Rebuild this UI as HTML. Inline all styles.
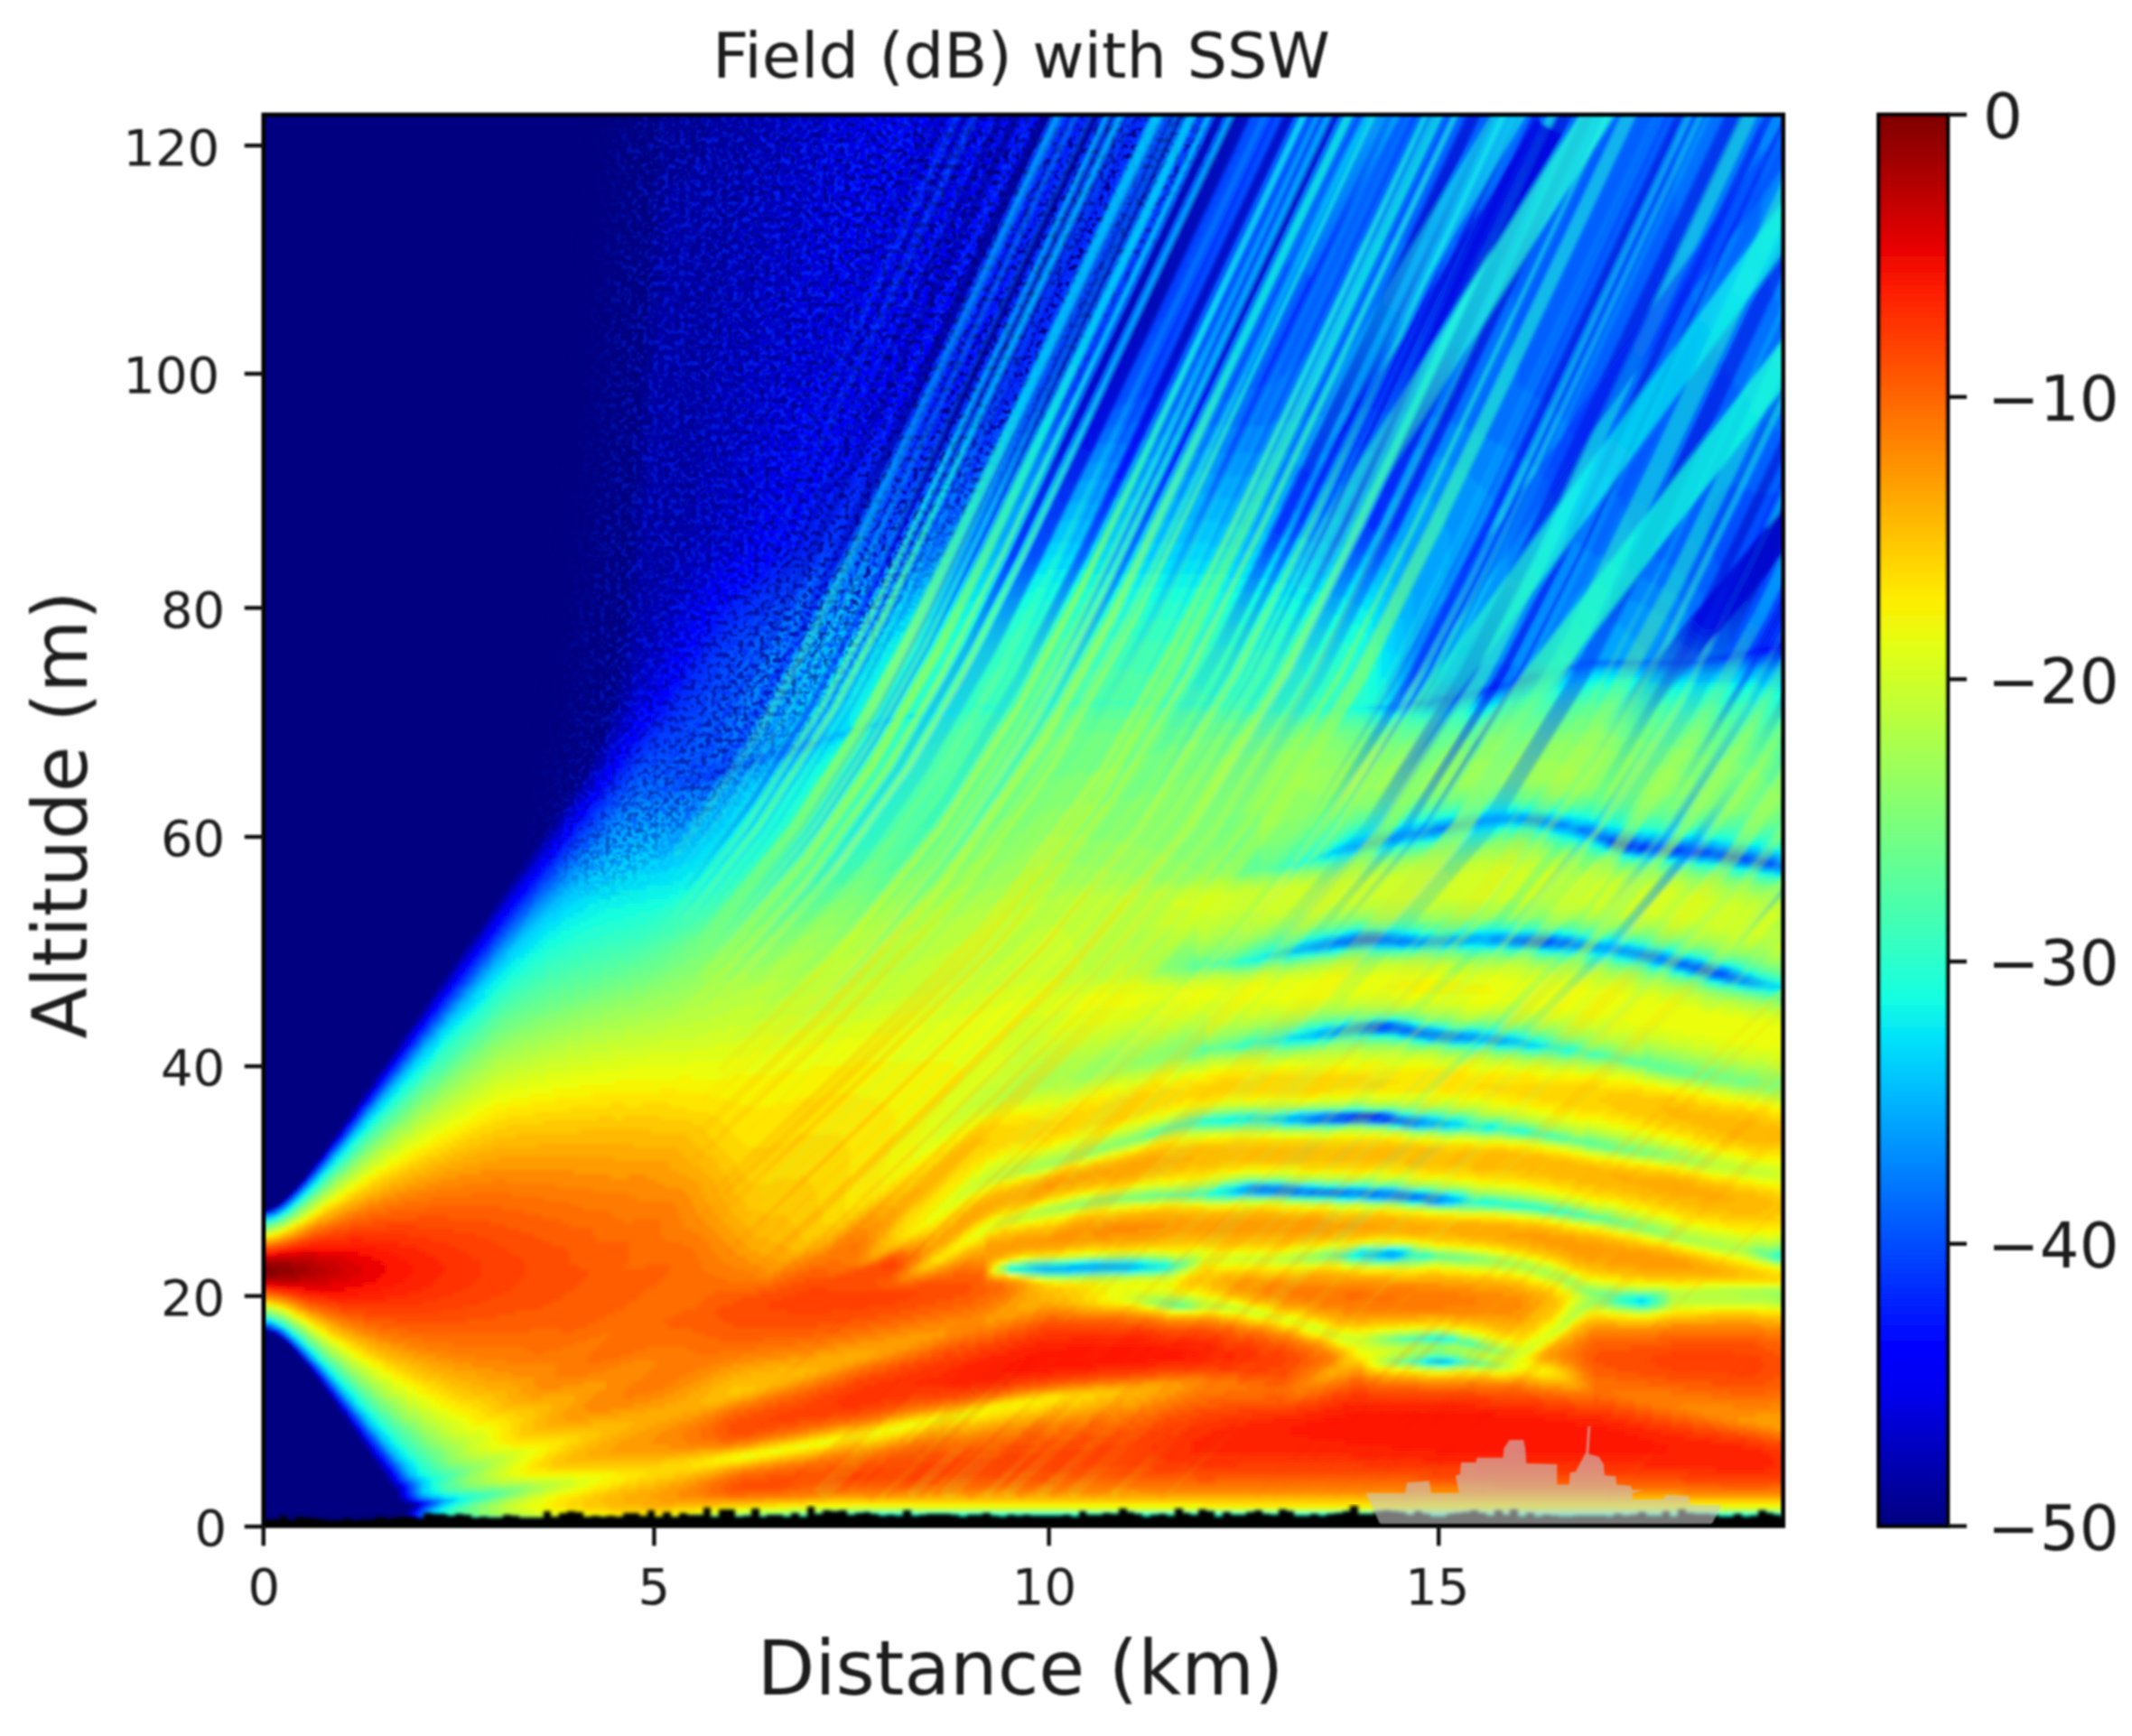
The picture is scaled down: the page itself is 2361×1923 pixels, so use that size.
<!DOCTYPE html>
<html><head><meta charset="utf-8"><title>Field (dB) with SSW</title>
<style>
html,body{margin:0;padding:0;background:#fff;}
body{width:2361px;height:1923px;overflow:hidden;}
svg{display:block;}
text{font-family:"DejaVu Sans","Liberation Sans",sans-serif;fill:#1a1a1a;}
.tk{font-size:56px;}
.cb{font-size:69px;}
.ttl{font-size:70.2px;}
.lab{font-size:83px;}
</style></head><body>
<svg width="2361" height="1923" viewBox="0 0 2361 1923">
<defs>
<linearGradient id="jet" x1="0" y1="0" x2="0" y2="1"><stop offset="0.0000" stop-color="#800000"/><stop offset="0.0312" stop-color="#9f0000"/><stop offset="0.0625" stop-color="#c40000"/><stop offset="0.0938" stop-color="#e80000"/><stop offset="0.1250" stop-color="#ff1e00"/><stop offset="0.1562" stop-color="#ff3b00"/><stop offset="0.1875" stop-color="#ff5900"/><stop offset="0.2188" stop-color="#ff7700"/><stop offset="0.2500" stop-color="#ff9400"/><stop offset="0.2812" stop-color="#ffb200"/><stop offset="0.3125" stop-color="#ffd000"/><stop offset="0.3438" stop-color="#feed00"/><stop offset="0.3750" stop-color="#e4ff13"/><stop offset="0.4062" stop-color="#caff2c"/><stop offset="0.4375" stop-color="#b1ff46"/><stop offset="0.4688" stop-color="#97ff60"/><stop offset="0.5000" stop-color="#7dff7a"/><stop offset="0.5312" stop-color="#63ff94"/><stop offset="0.5625" stop-color="#49ffad"/><stop offset="0.5938" stop-color="#30ffc7"/><stop offset="0.6250" stop-color="#16ffe1"/><stop offset="0.6562" stop-color="#00e0fb"/><stop offset="0.6875" stop-color="#00c0ff"/><stop offset="0.7188" stop-color="#00a0ff"/><stop offset="0.7500" stop-color="#0080ff"/><stop offset="0.7812" stop-color="#0060ff"/><stop offset="0.8125" stop-color="#0040ff"/><stop offset="0.8438" stop-color="#0020ff"/><stop offset="0.8750" stop-color="#0000ff"/><stop offset="0.9062" stop-color="#0000ed"/><stop offset="0.9375" stop-color="#0000c8"/><stop offset="0.9688" stop-color="#0000a4"/><stop offset="1.0000" stop-color="#000080"/></linearGradient>
<filter id="fb" x="-2%" y="-2%" width="104%" height="104%"><feGaussianBlur stdDeviation="2.2"/></filter>
<filter id="sb" x="-5%" y="-5%" width="110%" height="110%"><feGaussianBlur stdDeviation="2"/></filter>
<filter id="soft" x="-2%" y="-2%" width="104%" height="104%"><feGaussianBlur stdDeviation="1.1"/></filter>
<clipPath id="pc"><rect x="291.8" y="127.0" width="1683.0" height="1563.3"/></clipPath>
</defs>
<rect width="2361" height="1923" fill="#fff"/>
<rect x="291.8" y="127.0" width="1683.0" height="1563.3" fill="#000080"/>
<g clip-path="url(#pc)"><g filter="url(#fb)"><g transform="translate(291.8,127.0) scale(4.99407,4.99457)" shape-rendering="crispEdges">
<path fill="#000080" d="M0 0h88v13h-88zM0 13h87v14h-87zM0 27h86v15h-86zM0 42h85v14h-85zM0 56h84v15h-84zM0 71h83v15h-83zM0 86h82v14h-82zM0 100h81v13h-81zM0 113h80v9h-80zM0 122h79v6h-79zM0 128h78v4h-78zM0 132h77v3h-77zM0 135h76v3h-76zM0 138h75v2h-75zM0 140h74v2h-74zM0 142h73v2h-73zM0 144h72v2h-72zM0 146h71v2h-71zM0 148h70v1h-70zM0 149h69v2h-69zM0 151h68v1h-68zM0 152h67v2h-67zM0 154h66v1h-66zM0 155h65v2h-65zM0 157h64v1h-64zM0 158h63v2h-63zM0 160h62v1h-62zM0 161h61v2h-61zM0 163h60v1h-60zM0 164h59v1h-59zM0 165h58v2h-58zM0 167h57v1h-57zM0 168h56v2h-56zM0 170h55v1h-55zM0 171h54v1h-54zM0 172h53v2h-53zM0 174h52v1h-52zM0 175h51v2h-51zM0 177h50v1h-50zM0 178h49v2h-49zM0 180h48v1h-48zM0 181h47v1h-47zM0 182h46v2h-46zM0 184h45v1h-45zM0 185h44v2h-44zM0 187h43v1h-43zM0 188h42v2h-42zM0 190h41v1h-41zM0 191h40v1h-40zM0 192h39v2h-39zM0 194h38v1h-38zM0 195h37v2h-37zM0 197h36v1h-36zM0 198h35v2h-35zM0 200h34v1h-34zM0 201h33v2h-33zM0 203h32v1h-32zM0 204h31v1h-31zM0 205h30v2h-30zM0 207h29v1h-29zM0 208h28v2h-28zM0 210h27v1h-27zM0 211h26v2h-26zM0 213h25v1h-25zM0 214h24v2h-24zM0 216h23v1h-23zM0 217h22v2h-22zM0 219h21v1h-21zM0 220h20v1h-20zM0 221h19v2h-19zM0 223h18v1h-18zM0 224h17v2h-17zM0 226h16v1h-16zM0 227h15v2h-15zM0 229h14v1h-14zM0 230h13v1h-13zM0 231h12v2h-12zM0 233h11v1h-11zM0 234h10v1h-10zM0 235h9v2h-9zM0 237h8v1h-8zM0 238h7v1h-7zM0 239h6v1h-6zM0 240h5v1h-5zM0 241h4v1h-4zM0 242h2v1h-2zM0 270h3v1h-3zM0 271h4v1h-4zM0 272h5v1h-5zM0 273h6v1h-6zM0 274h7v1h-7zM0 275h8v1h-8zM0 276h9v1h-9zM0 277h10v1h-10zM0 278h11v2h-11zM0 280h12v1h-12zM0 281h13v1h-13zM0 282h14v2h-14zM0 284h15v1h-15zM0 285h16v2h-16zM0 287h17v1h-17zM0 288h18v1h-18zM0 289h19v2h-19zM0 291h20v1h-20zM0 292h21v2h-21zM0 294h22v1h-22zM0 295h23v2h-23zM0 297h24v1h-24zM0 298h25v2h-25zM0 300h26v1h-26zM0 301h27v2h-27zM0 303h28v1h-28zM0 304h29v1h-29zM0 305h30v2h-30zM0 307h31v1h-31zM0 308h33v1h-33zM0 309h32v1h-32zM0 310h31v1h-31zM0 311h32v1h-32zM0 312h37v1h-37z"/>
<path fill="#000092" d="M88 0h12v1h-12zM88 1h11v3h-11zM88 4h10v3h-10zM88 7h9v3h-9zM88 10h8v2h-8zM88 12h7v1h-7zM87 13h8v1h-8zM87 14h7v1h-7zM92 15h1v1h-1zM87 15h3v7h-3zM87 22h2v5h-2zM86 27h3v5h-3zM86 32h2v10h-2zM85 42h3v1h-3zM85 43h2v13h-2zM84 56h2v14h-2zM84 70h1v1h-1zM83 71h2v13h-2zM83 84h1v2h-1zM82 86h2v11h-2zM82 97h1v3h-1zM81 100h2v6h-2zM81 106h1v7h-1zM80 113h2v4h-2zM80 117h1v5h-1zM79 122h2v2h-2zM79 124h1v4h-1zM78 128h1v4h-1zM77 132h1v3h-1zM76 135h1v2h-1zM75 138h1v2h-1zM74 140h1v2h-1zM73 142h1v2h-1zM72 144h1v1h-1zM71 146h1v1h-1zM70 148h1v1h-1zM69 149h1v1h-1zM68 151h1v1h-1zM67 152h1v1h-1zM66 154h1v1h-1zM65 155h1v1h-1zM64 157h1v1h-1zM63 158h1v1h-1zM62 160h1v1h-1zM61 161h1v1h-1zM59 164h1v1h-1zM58 165h1v1h-1zM57 167h1v1h-1zM56 168h1v1h-1zM54 171h1v1h-1zM53 172h1v1h-1zM52 174h1v1h-1zM51 175h1v1h-1zM49 178h1v1h-1zM47 181h1v1h-1zM46 182h1v1h-1zM44 185h1v1h-1zM42 188h1v1h-1zM40 191h1v1h-1zM39 192h1v1h-1zM37 195h1v1h-1zM35 198h1v1h-1zM33 201h1v1h-1zM30 205h1v1h-1zM28 208h1v1h-1zM26 211h1v1h-1zM24 214h1v1h-1zM19 221h1v1h-1zM17 224h1v1h-1zM12 231h1v1h-1zM0 269h1v1h-1zM5 272h1v1h-1zM6 273h1v1h-1zM16 286h1v1h-1zM23 296h1v1h-1zM25 299h1v1h-1zM27 302h1v1h-1zM33 308h1v1h-1zM32 309h1v1h-1zM31 310h1v1h-1z"/>
<path fill="#0000a4" d="M100 0h9v1h-9zM99 1h10v2h-10zM99 3h9v1h-9zM98 4h10v3h-10zM97 7h11v1h-11zM97 8h10v2h-10zM96 10h11v2h-11zM95 12h12v2h-12zM94 14h12v1h-12zM90 15h2v1h-2zM93 15h13v1h-13zM90 16h16v4h-16zM90 20h15v2h-15zM89 22h16v4h-16zM89 26h15v6h-15zM88 32h15v7h-15zM88 39h14v4h-14zM87 43h15v3h-15zM87 46h14v7h-14zM87 53h13v3h-13zM86 56h14v3h-14zM86 59h13v7h-13zM86 66h12v4h-12zM85 70h13v4h-13zM85 74h12v7h-12zM85 81h11v3h-11zM84 84h12v3h-12zM84 87h11v5h-11zM84 92h10v3h-10zM84 95h9v2h-9zM83 97h9v2h-9zM83 99h8v1h-8zM83 100h7v2h-7zM83 102h6v2h-6zM83 104h5v2h-5zM82 106h5v2h-5zM82 108h4v2h-4zM82 110h3v2h-3zM82 112h2v4h-2zM82 116h1v1h-1zM81 117h2v4h-2zM81 121h1v3h-1zM80 124h2v1h-2zM80 125h1v3h-1zM79 128h2v1h-2zM79 129h1v3h-1zM78 132h1v2h-1zM77 135h1v2h-1zM76 137h1v2h-1zM75 140h1v1h-1zM74 142h1v1h-1zM73 144h1v1h-1zM72 145h1v2h-1zM71 147h1v1h-1zM70 149h1v1h-1zM69 150h1v1h-1zM68 152h1v1h-1zM67 153h1v1h-1zM66 155h1v1h-1zM65 156h1v1h-1zM64 158h1v1h-1zM63 159h1v1h-1zM61 162h1v1h-1zM60 163h1v1h-1zM59 165h1v1h-1zM58 166h1v1h-1zM56 169h1v1h-1zM55 170h1v1h-1zM54 172h1v1h-1zM53 173h1v1h-1zM51 176h1v1h-1zM50 177h1v1h-1zM48 180h1v1h-1zM46 183h1v1h-1zM45 184h1v1h-1zM43 187h1v1h-1zM41 190h1v1h-1zM39 193h1v1h-1zM38 194h1v1h-1zM36 197h1v1h-1zM34 200h1v1h-1zM31 204h1v1h-1zM29 207h1v1h-1zM27 210h1v1h-1zM22 217h1v1h-1zM20 220h1v1h-1zM15 227h1v1h-1zM9 235h1v1h-1zM4 271h1v1h-1zM7 274h1v1h-1zM11 279h1v1h-1zM14 283h1v1h-1zM19 290h1v1h-1zM21 293h1v1h-1zM26 300h1v1h-1zM28 303h1v1h-1zM29 304h1v1h-1zM32 311h1v1h-1zM37 312h1v1h-1z"/>
<path fill="#0000b6" d="M109 0h8v2h-8zM109 2h7v1h-7zM108 3h8v5h-8zM107 8h8v5h-8zM107 13h7v1h-7zM106 14h8v5h-8zM106 19h7v1h-7zM105 20h8v4h-8zM105 24h7v2h-7zM104 26h8v4h-8zM104 30h7v2h-7zM103 32h8v5h-8zM103 37h7v2h-7zM102 39h8v6h-8zM102 45h7v1h-7zM101 46h8v5h-8zM101 51h7v2h-7zM100 53h8v3h-8zM100 56h7v3h-7zM99 59h8v1h-8zM99 60h7v6h-7zM98 66h7v6h-7zM98 72h6v2h-6zM97 74h7v4h-7zM97 78h6v3h-6zM96 81h7v2h-7zM96 83h6v4h-6zM95 87h6v4h-6zM95 91h5v1h-5zM94 92h6v3h-6zM93 95h6v1h-6zM93 96h5v1h-5zM92 97h5v2h-5zM91 99h5v1h-5zM90 100h5v1h-5zM90 101h4v1h-4zM89 102h5v1h-5zM89 103h4v1h-4zM88 104h4v2h-4zM87 106h4v2h-4zM86 108h4v2h-4zM85 110h5v1h-5zM85 111h4v1h-4zM84 112h5v1h-5zM84 113h4v3h-4zM83 116h4v2h-4zM83 118h3v2h-3zM83 120h2v1h-2zM82 121h3v1h-3zM82 122h2v2h-2zM82 124h1v1h-1zM81 125h2v2h-2zM81 127h1v2h-1zM80 129h2v1h-2zM80 130h1v2h-1zM79 132h1v2h-1zM78 134h1v3h-1zM77 137h1v2h-1zM76 139h1v2h-1zM75 141h1v2h-1zM74 143h1v2h-1zM73 145h1v1h-1zM72 147h1v1h-1zM71 148h1v1h-1zM70 150h1v1h-1zM69 151h1v1h-1zM68 153h1v1h-1zM67 154h1v1h-1zM66 156h1v1h-1zM65 157h1v1h-1zM64 159h1v1h-1zM63 160h1v1h-1zM62 161h1v1h-1zM61 163h1v1h-1zM60 164h1v1h-1zM58 167h1v1h-1zM57 168h1v1h-1zM56 170h1v1h-1zM55 171h1v1h-1zM53 174h1v1h-1zM52 175h1v1h-1zM50 178h1v1h-1zM49 179h1v1h-1zM48 181h1v1h-1zM47 182h1v1h-1zM45 185h1v1h-1zM44 186h1v1h-1zM42 189h1v1h-1zM40 192h1v1h-1zM37 196h1v1h-1zM35 199h1v1h-1zM32 203h1v1h-1zM30 206h1v1h-1zM28 209h1v1h-1zM25 213h1v1h-1zM23 216h1v1h-1zM18 223h1v1h-1zM13 230h1v1h-1zM1 269h1v1h-1zM8 275h1v1h-1zM12 280h1v1h-1zM17 287h1v1h-1zM22 294h1v1h-1zM24 297h1v1h-1zM27 301h1v1h-1zM31 307h1v1h-1z"/>
<path fill="#0000c8" d="M117 0h8v2h-8zM116 2h8v5h-8zM116 7h7v1h-7zM115 8h8v4h-8zM115 12h7v1h-7zM114 13h8v5h-8zM114 18h7v1h-7zM113 19h8v5h-8zM112 24h8v6h-8zM111 30h8v7h-8zM110 37h8v8h-8zM109 45h8v6h-8zM108 51h8v4h-8zM108 55h7v1h-7zM107 56h8v3h-8zM107 59h7v1h-7zM106 60h8v2h-8zM106 62h7v3h-7zM106 65h6v1h-6zM105 66h7v1h-7zM105 67h6v3h-6zM105 70h5v2h-5zM104 72h6v1h-6zM104 73h5v3h-5zM104 76h4v2h-4zM103 78h5v2h-5zM103 80h4v3h-4zM102 83h5v1h-5zM102 84h4v3h-4zM101 87h5v2h-5zM101 89h4v2h-4zM100 91h5v3h-5zM100 94h4v1h-4zM99 95h5v1h-5zM98 96h5v1h-5zM97 97h5v1h-5zM97 98h3v1h-3zM96 99h3v1h-3zM95 100h3v1h-3zM94 101h4v1h-4zM94 102h3v1h-3zM93 103h3v1h-3zM92 104h3v2h-3zM91 106h3v2h-3zM90 108h3v2h-3zM90 110h2v1h-2zM89 111h3v1h-3zM89 112h2v1h-2zM88 113h3v1h-3zM88 114h2v2h-2zM87 116h3v1h-3zM87 117h2v1h-2zM86 118h3v1h-3zM86 119h2v1h-2zM85 120h3v1h-3zM85 121h2v1h-2zM84 122h3v1h-3zM84 123h2v1h-2zM83 124h3v1h-3zM83 125h2v2h-2zM82 127h2v1h-2zM82 128h1v2h-1zM81 130h1v2h-1zM80 132h2v1h-2zM80 133h1v1h-1zM79 134h2v1h-2zM79 135h1v2h-1zM78 137h1v2h-1zM77 139h1v1h-1zM76 141h1v1h-1zM75 143h1v1h-1zM74 145h1v1h-1zM73 146h1v1h-1zM72 148h1v1h-1zM71 149h1v2h-1zM70 151h1v1h-1zM69 152h1v1h-1zM68 154h1v1h-1zM67 155h1v1h-1zM66 157h1v1h-1zM65 158h1v1h-1zM63 161h1v1h-1zM62 162h1v1h-1zM61 164h1v1h-1zM60 165h1v1h-1zM59 166h1v1h-1zM58 168h1v1h-1zM57 169h1v1h-1zM55 172h1v1h-1zM54 173h1v1h-1zM52 176h1v1h-1zM51 177h1v1h-1zM49 180h1v1h-1zM47 183h1v1h-1zM46 184h1v1h-1zM44 187h1v1h-1zM43 188h1v1h-1zM41 191h1v1h-1zM39 194h1v1h-1zM38 195h1v1h-1zM36 198h1v1h-1zM34 201h1v1h-1zM33 202h1v1h-1zM31 205h1v1h-1zM29 208h1v1h-1zM26 212h1v1h-1zM24 215h1v1h-1zM21 219h1v1h-1zM19 222h1v1h-1zM16 226h1v1h-1zM10 234h1v1h-1zM2 242h1v1h-1zM3 270h1v1h-1zM9 276h1v1h-1zM15 284h1v1h-1zM18 288h1v1h-1zM20 291h1v1h-1zM23 295h1v1h-1zM25 298h1v1h-1zM30 305h1v2h-1zM34 308h1v1h-1zM38 312h1v1h-1z"/>
<path fill="#0000da" d="M125 0h8v1h-8zM125 1h7v1h-7zM124 2h8v4h-8zM124 6h7v1h-7zM123 7h8v5h-8zM122 12h8v5h-8zM122 17h7v1h-7zM121 18h8v5h-8zM121 23h7v1h-7zM120 24h8v5h-8zM120 29h7v1h-7zM119 30h8v6h-8zM119 36h7v1h-7zM118 37h8v7h-8zM118 44h7v1h-7zM117 45h8v5h-8zM117 50h7v1h-7zM116 51h8v4h-8zM115 55h8v4h-8zM114 59h8v2h-8zM114 61h7v1h-7zM113 62h8v1h-8zM113 63h7v2h-7zM112 65h7v1h-7zM112 66h6v1h-6zM111 67h7v1h-7zM111 68h6v2h-6zM110 70h6v2h-6zM110 72h5v1h-5zM109 73h6v1h-6zM109 74h5v2h-5zM108 76h5v2h-5zM108 78h4v2h-4zM107 80h5v1h-5zM107 81h4v3h-4zM106 84h4v3h-4zM106 87h3v2h-3zM105 89h4v1h-4zM105 90h3v4h-3zM104 94h3v2h-3zM103 96h3v1h-3zM102 97h3v1h-3zM100 98h4v1h-4zM99 99h4v1h-4zM98 100h4v1h-4zM98 101h3v1h-3zM97 102h3v1h-3zM96 103h3v1h-3zM95 104h3v1h-3zM95 105h2v1h-2zM94 106h2v2h-2zM93 108h2v2h-2zM92 110h2v2h-2zM91 112h2v2h-2zM90 114h2v2h-2zM90 116h1v1h-1zM89 117h2v2h-2zM88 119h2v2h-2zM87 121h2v2h-2zM86 123h2v2h-2zM85 125h2v2h-2zM84 127h2v1h-2zM83 128h2v2h-2zM82 130h2v1h-2zM82 131h1v2h-1zM81 133h1v2h-1zM80 135h1v2h-1zM79 137h1v2h-1zM78 139h1v1h-1zM77 140h1v2h-1zM76 142h1v2h-1zM75 144h1v1h-1zM74 146h1v1h-1zM73 147h1v2h-1zM72 149h1v1h-1zM71 151h1v1h-1zM70 152h1v1h-1zM69 153h1v1h-1zM68 155h1v1h-1zM67 156h1v1h-1zM66 158h1v1h-1zM65 159h1v1h-1zM64 160h1v1h-1zM63 162h1v1h-1zM62 163h1v1h-1zM60 166h1v1h-1zM59 167h1v1h-1zM57 170h1v1h-1zM56 171h1v1h-1zM54 174h1v1h-1zM53 175h1v1h-1zM51 178h1v1h-1zM50 179h1v1h-1zM48 182h1v1h-1zM46 185h1v1h-1zM45 186h1v1h-1zM43 189h1v1h-1zM42 190h1v1h-1zM40 193h1v1h-1zM37 197h1v1h-1zM35 200h1v1h-1zM32 204h1v1h-1zM30 207h1v1h-1zM27 211h1v1h-1zM22 218h1v1h-1zM17 225h1v1h-1zM14 229h1v1h-1zM11 233h1v1h-1zM13 281h1v1h-1zM16 285h1v1h-1zM21 292h1v1h-1zM26 299h1v1h-1zM28 302h1v1h-1zM30 304h1v1h-1zM32 307h1v1h-1zM33 309h1v1h-1zM32 310h1v1h-1z"/>
<path fill="#0000ed" d="M133 0h8v1h-8zM132 1h9v2h-9zM132 3h8v3h-8zM131 6h9v1h-9zM131 7h8v4h-8zM131 11h7v1h-7zM130 12h8v5h-8zM129 17h8v5h-8zM129 22h7v1h-7zM128 23h8v5h-8zM128 28h7v1h-7zM127 29h8v6h-8zM127 35h7v1h-7zM126 36h8v7h-8zM126 43h7v1h-7zM125 44h8v6h-8zM124 50h8v5h-8zM123 55h8v3h-8zM123 58h7v1h-7zM122 59h8v2h-8zM121 61h8v1h-8zM121 62h7v1h-7zM120 63h8v1h-8zM120 64h7v1h-7zM119 65h7v1h-7zM118 66h7v1h-7zM118 67h6v1h-6zM117 68h6v1h-6zM117 69h5v1h-5zM116 70h6v1h-6zM116 71h5v1h-5zM115 72h5v2h-5zM114 74h5v1h-5zM114 75h4v1h-4zM113 76h5v1h-5zM113 77h4v1h-4zM112 78h5v1h-5zM112 79h4v2h-4zM111 81h4v2h-4zM111 83h3v1h-3zM110 84h4v2h-4zM110 86h3v1h-3zM109 87h4v1h-4zM109 88h3v2h-3zM108 90h4v1h-4zM108 91h3v3h-3zM107 94h3v2h-3zM106 96h3v1h-3zM105 97h3v1h-3zM104 98h3v1h-3zM103 99h3v1h-3zM102 100h3v1h-3zM101 101h3v1h-3zM100 102h3v1h-3zM99 103h2v1h-2zM98 104h2v1h-2zM97 105h3v1h-3zM96 106h3v1h-3zM96 107h2v1h-2zM95 108h2v2h-2zM94 110h2v2h-2zM93 112h2v2h-2zM92 114h2v2h-2zM91 116h2v2h-2zM91 118h1v1h-1zM90 119h2v1h-2zM90 120h1v1h-1zM89 121h2v1h-2zM89 122h1v1h-1zM88 123h2v1h-2zM88 124h1v1h-1zM87 125h2v1h-2zM87 126h1v1h-1zM86 127h2v1h-2zM85 128h2v1h-2zM85 129h1v1h-1zM84 130h2v1h-2zM83 131h2v1h-2zM83 132h1v1h-1zM82 133h2v1h-2zM82 134h1v1h-1zM81 135h1v2h-1zM80 137h1v2h-1zM79 139h1v1h-1zM78 140h1v2h-1zM77 142h1v2h-1zM76 144h1v1h-1zM75 145h1v2h-1zM74 147h1v1h-1zM73 149h1v1h-1zM72 150h1v1h-1zM71 152h1v1h-1zM70 153h1v1h-1zM69 154h1v1h-1zM68 156h1v1h-1zM67 157h1v1h-1zM66 159h1v1h-1zM65 160h1v1h-1zM64 161h1v1h-1zM63 163h1v1h-1zM62 164h1v1h-1zM61 165h1v1h-1zM60 167h1v1h-1zM59 168h1v1h-1zM58 169h1v1h-1zM56 172h1v1h-1zM55 173h1v1h-1zM53 176h1v1h-1zM52 177h1v1h-1zM50 180h1v1h-1zM49 181h1v1h-1zM47 184h1v1h-1zM45 187h1v1h-1zM44 188h1v1h-1zM42 191h1v1h-1zM41 192h1v1h-1zM39 195h1v1h-1zM38 196h1v1h-1zM36 199h1v1h-1zM33 203h1v1h-1zM31 206h1v1h-1zM28 210h1v1h-1zM25 214h1v1h-1zM23 217h1v1h-1zM20 221h1v1h-1zM7 238h1v1h-1zM6 239h1v1h-1zM5 240h1v1h-1zM10 277h1v1h-1zM19 289h1v1h-1zM22 293h1v1h-1zM24 296h1v1h-1zM27 300h1v1h-1zM29 303h1v1h-1zM33 311h1v1h-1zM39 312h1v1h-1z"/>
<path fill="#0000ff" d="M141 0h11v3h-11zM140 3h11v4h-11zM139 7h12v1h-12zM139 8h11v3h-11zM138 11h11v4h-11zM138 15h10v2h-10zM137 17h11v2h-11zM137 19h10v3h-10zM136 22h11v1h-11zM136 23h10v4h-10zM136 27h9v1h-9zM135 28h10v3h-10zM135 31h9v4h-9zM134 35h10v1h-10zM134 36h9v5h-9zM134 41h8v2h-8zM133 43h9v3h-9zM133 46h8v4h-8zM132 50h9v1h-9zM132 51h8v4h-8zM131 55h8v3h-8zM130 58h8v2h-8zM130 60h7v1h-7zM129 61h8v1h-8zM128 62h8v1h-8zM128 63h7v1h-7zM127 64h7v1h-7zM126 65h7v1h-7zM125 66h7v1h-7zM124 67h7v1h-7zM123 68h7v1h-7zM122 69h7v1h-7zM122 70h6v1h-6zM121 71h6v1h-6zM120 72h6v1h-6zM120 73h5v1h-5zM119 74h5v1h-5zM118 75h5v1h-5zM118 76h4v1h-4zM117 77h5v1h-5zM117 78h4v1h-4zM116 79h4v2h-4zM115 81h4v2h-4zM114 83h4v2h-4zM114 85h3v1h-3zM113 86h4v1h-4zM113 87h3v1h-3zM112 88h4v1h-4zM112 89h3v2h-3zM111 91h4v1h-4zM111 92h3v2h-3zM110 94h3v2h-3zM109 96h3v1h-3zM108 97h3v1h-3zM107 98h3v1h-3zM106 99h3v1h-3zM105 100h3v1h-3zM104 101h2v1h-2zM103 102h2v1h-2zM101 103h3v1h-3zM100 104h3v1h-3zM100 105h2v1h-2zM99 106h2v1h-2zM98 107h2v1h-2zM97 108h2v2h-2zM96 110h2v1h-2zM96 111h1v1h-1zM95 112h2v1h-2zM95 113h1v1h-1zM94 114h2v1h-2zM94 115h1v1h-1zM93 116h2v1h-2zM93 117h1v1h-1zM92 118h2v1h-2zM334 118h2v1h-2zM92 119h1v1h-1zM91 120h2v1h-2zM91 121h1v1h-1zM90 122h2v1h-2zM90 123h1v1h-1zM89 124h2v1h-2zM89 125h1v1h-1zM88 126h2v1h-2zM88 127h1v1h-1zM87 128h1v1h-1zM86 129h2v1h-2zM86 130h1v1h-1zM85 131h1v1h-1zM84 132h2v1h-2zM84 133h1v1h-1zM83 134h1v1h-1zM82 135h2v1h-2zM82 136h1v1h-1zM81 137h1v2h-1zM80 139h1v1h-1zM79 140h1v2h-1zM78 142h1v1h-1zM77 144h1v1h-1zM76 145h1v1h-1zM75 147h1v1h-1zM74 148h1v1h-1zM73 150h1v1h-1zM72 151h1v1h-1zM71 153h1v1h-1zM70 154h1v1h-1zM69 155h1v1h-1zM68 157h1v1h-1zM67 158h1v1h-1zM65 161h1v1h-1zM64 162h1v1h-1zM62 165h1v1h-1zM61 166h1v1h-1zM59 169h1v1h-1zM58 170h1v1h-1zM57 171h1v1h-1zM56 173h1v1h-1zM55 174h1v1h-1zM54 175h1v1h-1zM53 177h1v1h-1zM52 178h1v1h-1zM51 179h1v1h-1zM49 182h1v1h-1zM48 183h1v1h-1zM46 186h1v1h-1zM43 190h1v1h-1zM40 194h1v1h-1zM38 197h1v1h-1zM37 198h1v1h-1zM35 201h1v1h-1zM34 202h1v1h-1zM32 205h1v1h-1zM29 209h1v1h-1zM26 213h1v1h-1zM24 216h1v1h-1zM21 220h1v1h-1zM18 224h1v1h-1zM15 228h1v1h-1zM12 232h1v1h-1zM8 237h1v1h-1zM4 241h1v1h-1zM11 278h1v1h-1zM14 282h1v1h-1zM17 286h1v1h-1zM20 290h1v1h-1zM23 294h1v1h-1zM25 297h1v1h-1zM28 301h1v1h-1zM31 306h1v1h-1zM33 307h1v1h-1zM35 308h1v1h-1zM40 312h1v1h-1z"/>
<path fill="#0000ff" d="M152 0h11v3h-11zM151 3h12v1h-12zM151 4h11v4h-11zM150 8h12v1h-12zM150 9h11v2h-11zM149 11h12v2h-12zM149 13h11v2h-11zM148 15h12v1h-12zM148 16h11v3h-11zM147 19h12v1h-12zM147 20h11v3h-11zM146 23h11v4h-11zM145 27h11v3h-11zM145 30h10v1h-10zM144 31h11v3h-11zM144 34h10v2h-10zM143 36h11v3h-11zM143 39h10v2h-10zM142 41h11v2h-11zM142 43h10v3h-10zM141 46h11v1h-11zM141 47h10v3h-10zM141 50h9v1h-9zM140 51h10v2h-10zM140 53h9v2h-9zM139 55h10v1h-10zM139 56h9v2h-9zM138 58h9v2h-9zM137 60h9v1h-9zM137 61h8v1h-8zM136 62h8v1h-8zM135 63h8v1h-8zM134 64h8v1h-8zM133 65h8v1h-8zM132 66h7v1h-7zM131 67h7v1h-7zM130 68h7v1h-7zM129 69h7v1h-7zM128 70h7v1h-7zM127 71h6v1h-6zM126 72h6v1h-6zM125 73h6v1h-6zM124 74h6v1h-6zM123 75h6v1h-6zM122 76h6v1h-6zM122 77h5v1h-5zM121 78h5v1h-5zM120 79h5v1h-5zM120 80h4v1h-4zM119 81h4v2h-4zM118 83h4v1h-4zM118 84h3v1h-3zM117 85h4v1h-4zM117 86h3v1h-3zM116 87h4v1h-4zM116 88h3v1h-3zM115 89h4v1h-4zM115 90h3v2h-3zM114 92h3v2h-3zM113 94h3v2h-3zM112 96h3v1h-3zM111 97h3v1h-3zM110 98h3v1h-3zM109 99h3v1h-3zM108 100h2v1h-2zM106 101h3v1h-3zM105 102h3v1h-3zM104 103h3v1h-3zM103 104h3v1h-3zM102 105h3v1h-3zM101 106h3v1h-3zM100 107h3v1h-3zM99 108h3v1h-3zM99 109h2v1h-2zM98 110h2v1h-2zM97 111h2v2h-2zM96 113h2v2h-2zM95 115h2v1h-2zM95 116h1v1h-1zM94 117h2v1h-2zM336 117h1v2h-1zM94 118h1v1h-1zM333 118h1v1h-1zM93 119h2v1h-2zM93 120h1v1h-1zM92 121h2v1h-2zM92 122h1v1h-1zM91 123h2v1h-2zM91 124h1v1h-1zM90 125h2v1h-2zM90 126h1v1h-1zM89 127h1v1h-1zM88 128h2v1h-2zM88 129h1v1h-1zM87 130h2v1h-2zM86 131h2v1h-2zM86 132h1v1h-1zM85 133h1v1h-1zM84 134h2v1h-2zM84 135h1v1h-1zM83 136h1v1h-1zM82 137h1v2h-1zM81 139h1v1h-1zM80 140h1v2h-1zM79 142h1v1h-1zM78 143h1v2h-1zM77 145h1v1h-1zM76 146h1v2h-1zM75 148h1v1h-1zM74 149h1v2h-1zM73 151h1v1h-1zM72 152h1v1h-1zM71 154h1v1h-1zM70 155h1v1h-1zM69 156h1v1h-1zM68 158h1v1h-1zM67 159h1v1h-1zM66 160h1v1h-1zM65 162h1v1h-1zM64 163h1v1h-1zM63 164h1v1h-1zM62 166h1v1h-1zM61 167h1v1h-1zM60 168h1v1h-1zM58 171h1v1h-1zM57 172h1v1h-1zM55 175h1v1h-1zM54 176h1v1h-1zM52 179h1v1h-1zM51 180h1v1h-1zM50 181h1v1h-1zM48 184h1v1h-1zM47 185h1v1h-1zM45 188h1v1h-1zM44 189h1v1h-1zM42 192h1v1h-1zM41 193h1v1h-1zM39 196h1v1h-1zM36 200h1v1h-1zM33 204h1v1h-1zM30 208h1v1h-1zM27 212h1v1h-1zM25 215h1v1h-1zM22 219h1v1h-1zM19 223h1v1h-1zM16 227h1v1h-1zM13 231h1v1h-1zM9 236h1v1h-1zM0 243h1v1h-1zM2 269h1v1h-1zM15 283h1v1h-1zM18 287h1v1h-1zM21 291h1v1h-1zM26 298h1v1h-1zM29 302h1v1h-1zM31 304h1v2h-1z"/>
<path fill="#0010ff" d="M163 0h11v4h-11zM162 4h12v1h-12zM162 5h11v4h-11zM161 9h12v1h-12zM161 10h11v3h-11zM160 13h12v1h-12zM160 14h11v2h-11zM159 16h12v1h-12zM159 17h11v3h-11zM158 20h11v3h-11zM157 23h12v1h-12zM157 24h11v3h-11zM156 27h11v3h-11zM155 30h11v4h-11zM154 34h11v3h-11zM154 37h10v2h-10zM153 39h11v2h-11zM153 41h10v2h-10zM152 43h11v1h-11zM152 44h10v3h-10zM151 47h10v3h-10zM150 50h10v2h-10zM150 52h9v1h-9zM149 53h10v1h-10zM149 54h9v2h-9zM148 56h10v1h-10zM148 57h9v1h-9zM147 58h10v1h-10zM147 59h9v1h-9zM146 60h9v1h-9zM145 61h9v1h-9zM144 62h9v1h-9zM143 63h8v1h-8zM142 64h8v1h-8zM141 65h7v1h-7zM139 66h8v1h-8zM138 67h8v1h-8zM137 68h7v1h-7zM136 69h7v1h-7zM135 70h6v1h-6zM133 71h7v1h-7zM132 72h7v1h-7zM131 73h6v1h-6zM130 74h6v1h-6zM129 75h6v1h-6zM128 76h6v1h-6zM127 77h6v1h-6zM126 78h6v1h-6zM125 79h6v1h-6zM124 80h6v1h-6zM123 81h6v1h-6zM123 82h5v1h-5zM122 83h5v1h-5zM121 84h5v1h-5zM121 85h4v1h-4zM120 86h4v1h-4zM120 87h3v1h-3zM119 88h4v1h-4zM119 89h3v1h-3zM118 90h3v2h-3zM117 92h3v2h-3zM116 94h3v2h-3zM115 96h3v1h-3zM114 97h3v1h-3zM113 98h3v1h-3zM112 99h2v1h-2zM110 100h3v1h-3zM109 101h3v1h-3zM108 102h3v1h-3zM107 103h3v1h-3zM106 104h3v1h-3zM105 105h2v1h-2zM104 106h2v1h-2zM103 107h2v1h-2zM102 108h2v1h-2zM101 109h2v1h-2zM100 110h2v1h-2zM99 111h3v1h-3zM99 112h2v1h-2zM98 113h2v2h-2zM97 115h2v1h-2zM96 116h2v2h-2zM335 117h1v1h-1zM332 118h1v1h-1zM95 118h2v2h-2zM328 119h2v1h-2zM94 120h2v1h-2zM94 121h1v1h-1zM93 122h2v1h-2zM93 123h1v1h-1zM92 124h2v1h-2zM92 125h1v1h-1zM91 126h2v1h-2zM90 127h2v1h-2zM90 128h1v1h-1zM89 129h2v1h-2zM89 130h1v1h-1zM88 131h1v1h-1zM87 132h2v1h-2zM86 133h2v1h-2zM86 134h1v1h-1zM85 135h1v1h-1zM84 136h1v1h-1zM83 137h2v1h-2zM83 138h1v1h-1zM82 139h1v1h-1zM81 140h1v2h-1zM80 142h1v1h-1zM79 143h1v2h-1zM78 145h1v1h-1zM77 146h1v2h-1zM76 148h1v1h-1zM75 149h1v1h-1zM74 151h1v1h-1zM73 152h1v1h-1zM72 153h1v1h-1zM71 155h1v1h-1zM70 156h1v1h-1zM69 157h1v1h-1zM68 159h1v1h-1zM67 160h1v1h-1zM66 161h1v1h-1zM65 163h1v1h-1zM64 164h1v1h-1zM63 165h1v1h-1zM61 168h1v1h-1zM60 169h1v1h-1zM59 170h1v1h-1zM58 172h1v1h-1zM57 173h1v1h-1zM56 174h1v1h-1zM54 177h1v1h-1zM53 178h1v1h-1zM51 181h1v1h-1zM50 182h1v1h-1zM49 183h1v1h-1zM47 186h1v1h-1zM46 187h1v1h-1zM44 190h1v1h-1zM43 191h1v1h-1zM41 194h1v1h-1zM40 195h1v1h-1zM38 198h1v1h-1zM37 199h1v1h-1zM35 202h1v1h-1zM34 203h1v1h-1zM32 206h1v1h-1zM31 207h1v1h-1zM29 210h1v1h-1zM28 211h1v1h-1zM26 214h1v1h-1zM23 218h1v1h-1zM20 222h1v1h-1zM244 222h2v1h-2zM17 226h1v1h-1zM5 271h1v1h-1zM6 272h1v1h-1zM7 273h1v1h-1zM12 279h1v1h-1zM24 295h1v1h-1zM27 299h1v1h-1zM28 300h1v1h-1zM30 303h1v1h-1zM34 307h1v1h-1zM34 309h1v1h-1zM33 310h1v1h-1zM34 311h1v1h-1zM41 312h1v1h-1z"/>
<path fill="#0020ff" d="M174 0h14v4h-14zM174 4h13v1h-13zM173 5h14v3h-14zM173 8h13v2h-13zM172 10h14v1h-14zM172 11h13v3h-13zM171 14h13v3h-13zM170 17h13v3h-13zM169 20h13v3h-13zM169 23h12v1h-12zM168 24h13v1h-13zM168 25h12v2h-12zM167 27h13v1h-13zM167 28h12v2h-12zM166 30h12v3h-12zM166 33h11v1h-11zM165 34h12v1h-12zM165 35h11v2h-11zM164 37h11v3h-11zM164 40h10v1h-10zM163 41h11v1h-11zM163 42h10v2h-10zM162 44h10v3h-10zM161 47h10v2h-10zM161 49h9v1h-9zM160 50h10v1h-10zM160 51h9v1h-9zM159 52h10v1h-10zM159 53h9v1h-9zM158 54h10v1h-10zM158 55h9v2h-9zM157 57h9v2h-9zM156 59h9v1h-9zM155 60h9v1h-9zM154 61h8v1h-8zM153 62h8v1h-8zM151 63h9v1h-9zM150 64h8v1h-8zM148 65h8v1h-8zM147 66h8v1h-8zM146 67h7v1h-7zM144 68h8v1h-8zM143 69h7v1h-7zM141 70h7v1h-7zM140 71h7v1h-7zM139 72h6v1h-6zM137 73h7v1h-7zM136 74h6v1h-6zM135 75h6v1h-6zM134 76h6v1h-6zM133 77h5v1h-5zM132 78h5v1h-5zM131 79h5v1h-5zM130 80h5v1h-5zM129 81h5v1h-5zM128 82h5v1h-5zM127 83h5v1h-5zM126 84h5v1h-5zM125 85h5v1h-5zM124 86h5v1h-5zM123 87h5v2h-5zM122 89h5v1h-5zM121 90h5v1h-5zM121 91h4v1h-4zM120 92h4v2h-4zM119 94h4v1h-4zM119 95h3v1h-3zM118 96h3v1h-3zM117 97h3v1h-3zM116 98h3v1h-3zM114 99h3v1h-3zM113 100h3v1h-3zM112 101h3v1h-3zM111 102h3v1h-3zM110 103h3v1h-3zM109 104h2v1h-2zM107 105h3v1h-3zM106 106h3v1h-3zM105 107h3v1h-3zM104 108h3v1h-3zM103 109h3v1h-3zM102 110h3v1h-3zM102 111h2v1h-2zM101 112h2v1h-2zM100 113h2v2h-2zM336 114h1v2h-1zM99 115h2v1h-2zM335 116h2v1h-2zM98 116h2v2h-2zM334 117h1v1h-1zM97 118h2v1h-2zM331 118h1v1h-1zM97 119h1v1h-1zM327 119h1v1h-1zM330 119h4v1h-4zM96 120h2v1h-2zM95 121h2v2h-2zM94 123h2v1h-2zM94 124h1v1h-1zM93 125h2v1h-2zM93 126h1v1h-1zM92 127h2v1h-2zM91 128h2v1h-2zM91 129h1v1h-1zM90 130h2v1h-2zM89 131h2v1h-2zM89 132h1v1h-1zM88 133h2v1h-2zM87 134h2v1h-2zM86 135h2v1h-2zM85 136h2v1h-2zM85 137h1v1h-1zM84 138h1v1h-1zM83 139h1v1h-1zM82 140h2v1h-2zM82 141h1v1h-1zM81 142h1v1h-1zM80 143h1v2h-1zM79 145h1v1h-1zM78 146h1v1h-1zM77 148h1v1h-1zM76 149h1v1h-1zM75 150h1v2h-1zM74 152h1v1h-1zM73 153h1v1h-1zM72 154h1v2h-1zM71 156h1v1h-1zM70 157h1v1h-1zM69 158h1v1h-1zM68 160h1v1h-1zM67 161h1v1h-1zM66 162h1v1h-1zM65 164h1v1h-1zM64 165h1v1h-1zM63 166h1v1h-1zM62 167h1v1h-1zM61 169h1v1h-1zM60 170h1v1h-1zM59 171h1v1h-1zM57 174h1v1h-1zM56 175h1v1h-1zM55 176h1v1h-1zM53 179h1v1h-1zM52 180h1v1h-1zM50 183h1v1h-1zM49 184h1v1h-1zM48 185h1v1h-1zM46 188h1v1h-1zM45 189h1v1h-1zM43 192h1v1h-1zM42 193h1v1h-1zM39 197h1v1h-1zM36 201h1v1h-1zM33 205h1v1h-1zM30 209h1v1h-1zM27 213h1v1h-1zM24 217h1v1h-1zM21 221h1v1h-1zM242 222h2v1h-2zM246 222h1v1h-1zM14 230h1v1h-1zM10 235h1v1h-1zM3 242h1v1h-1zM1 243h1v1h-1zM8 274h1v1h-1zM13 280h1v1h-1zM16 284h1v1h-1zM19 288h1v1h-1zM22 292h1v1h-1zM25 296h1v1h-1zM26 297h1v1h-1zM29 301h1v1h-1zM32 306h1v1h-1z"/>
<path fill="#0030ff" d="M188 0h14v3h-14zM188 3h13v1h-13zM187 4h14v3h-14zM187 7h13v1h-13zM186 8h14v3h-14zM185 11h14v3h-14zM184 14h14v3h-14zM183 17h14v2h-14zM183 19h13v1h-13zM182 20h14v2h-14zM182 22h13v1h-13zM181 23h14v2h-14zM180 25h14v2h-14zM180 27h13v1h-13zM179 28h14v2h-14zM178 30h14v2h-14zM178 32h13v1h-13zM177 33h14v1h-14zM177 34h13v1h-13zM176 35h14v2h-14zM175 37h14v2h-14zM175 39h13v1h-13zM174 40h14v1h-14zM174 41h13v1h-13zM173 42h14v1h-14zM173 43h13v1h-13zM172 44h14v1h-14zM172 45h13v2h-13zM171 47h13v1h-13zM171 48h12v1h-12zM170 49h13v1h-13zM170 50h12v1h-12zM169 51h12v2h-12zM168 53h12v1h-12zM168 54h11v1h-11zM167 55h11v1h-11zM167 56h10v1h-10zM166 57h10v1h-10zM166 58h9v1h-9zM165 59h9v1h-9zM164 60h9v1h-9zM162 61h9v1h-9zM161 62h8v1h-8zM160 63h8v1h-8zM158 64h8v1h-8zM156 65h8v1h-8zM155 66h7v1h-7zM153 67h8v1h-8zM152 68h7v1h-7zM150 69h7v1h-7zM148 70h7v1h-7zM147 71h7v1h-7zM145 72h7v1h-7zM144 73h7v1h-7zM142 74h7v1h-7zM141 75h6v1h-6zM140 76h6v1h-6zM138 77h7v1h-7zM137 78h6v1h-6zM136 79h6v1h-6zM135 80h6v1h-6zM134 81h5v1h-5zM133 82h5v1h-5zM132 83h5v1h-5zM131 84h5v1h-5zM130 85h5v1h-5zM129 86h5v1h-5zM128 87h5v1h-5zM128 88h4v1h-4zM127 89h4v1h-4zM126 90h5v1h-5zM125 91h5v1h-5zM124 92h5v1h-5zM124 93h4v1h-4zM123 94h4v1h-4zM122 95h4v1h-4zM121 96h4v1h-4zM120 97h3v1h-3zM119 98h2v1h-2zM117 99h3v1h-3zM116 100h3v1h-3zM115 101h3v1h-3zM114 102h3v1h-3zM113 103h2v1h-2zM111 104h3v1h-3zM110 105h3v1h-3zM109 106h3v1h-3zM108 107h3v1h-3zM107 108h3v1h-3zM106 109h3v1h-3zM336 109h1v2h-1zM105 110h3v1h-3zM104 111h3v1h-3zM335 111h2v1h-2zM103 112h3v1h-3zM334 112h3v2h-3zM102 113h3v1h-3zM102 114h2v1h-2zM333 114h3v2h-3zM101 115h2v1h-2zM100 116h3v1h-3zM332 116h3v1h-3zM100 117h2v1h-2zM332 117h2v1h-2zM99 118h2v1h-2zM330 118h1v1h-1zM98 119h3v1h-3zM326 119h1v1h-1zM334 119h3v1h-3zM98 120h2v1h-2zM322 120h4v1h-4zM97 121h2v2h-2zM96 123h2v1h-2zM95 124h3v1h-3zM95 125h2v1h-2zM94 126h2v2h-2zM93 128h2v1h-2zM92 129h2v2h-2zM91 131h2v1h-2zM90 132h2v2h-2zM89 134h2v1h-2zM88 135h2v1h-2zM87 136h2v1h-2zM86 137h2v1h-2zM85 138h2v1h-2zM84 139h2v1h-2zM84 140h1v1h-1zM83 141h1v1h-1zM82 142h1v1h-1zM81 143h2v1h-2zM81 144h1v1h-1zM80 145h1v1h-1zM79 146h1v1h-1zM78 147h2v1h-2zM78 148h1v1h-1zM77 149h1v1h-1zM76 150h1v1h-1zM75 152h1v1h-1zM74 153h1v1h-1zM73 154h1v1h-1zM72 156h1v1h-1zM71 157h1v1h-1zM70 158h1v1h-1zM69 159h1v1h-1zM68 161h1v1h-1zM299 161h3v1h-3zM67 162h1v1h-1zM301 162h8v1h-8zM66 163h1v1h-1zM64 166h1v1h-1zM63 167h1v1h-1zM62 168h1v1h-1zM60 171h1v1h-1zM59 172h1v1h-1zM58 173h1v1h-1zM56 176h1v1h-1zM55 177h1v1h-1zM54 178h1v1h-1zM52 181h1v1h-1zM51 182h1v1h-1zM49 185h1v1h-1zM48 186h1v1h-1zM47 187h1v1h-1zM45 190h1v1h-1zM44 191h1v1h-1zM41 195h1v1h-1zM40 196h1v1h-1zM38 199h1v1h-1zM37 200h1v1h-1zM35 203h1v1h-1zM34 204h1v1h-1zM31 208h1v1h-1zM28 212h1v1h-1zM25 216h1v1h-1zM244 221h2v1h-2zM240 222h2v1h-2zM247 222h2v1h-2zM18 225h1v1h-1zM15 229h1v1h-1zM11 234h1v1h-1zM4 270h1v1h-1zM9 275h1v1h-1zM17 285h1v1h-1zM20 289h1v1h-1zM23 293h1v1h-1zM27 298h1v1h-1zM31 303h1v1h-1zM35 307h1v1h-1zM36 308h1v1h-1zM42 312h1v1h-1z"/>
<path fill="#0040ff" d="M202 0h16v3h-16zM201 3h16v3h-16zM201 6h15v1h-15zM200 7h16v2h-16zM200 9h15v2h-15zM199 11h15v3h-15zM198 14h15v2h-15zM198 16h14v1h-14zM197 17h15v1h-15zM197 18h14v1h-14zM196 19h15v1h-15zM196 20h14v2h-14zM195 22h14v2h-14zM195 24h13v1h-13zM194 25h14v2h-14zM193 27h14v2h-14zM193 29h13v1h-13zM192 30h14v1h-14zM192 31h13v1h-13zM191 32h14v2h-14zM190 34h14v2h-14zM190 36h13v1h-13zM189 37h14v2h-14zM188 39h14v2h-14zM187 41h14v2h-14zM186 43h14v2h-14zM185 45h14v1h-14zM185 46h13v1h-13zM184 47h14v1h-14zM183 48h14v1h-14zM183 49h13v1h-13zM182 50h14v1h-14zM181 51h14v1h-14zM181 52h13v1h-13zM180 53h14v1h-14zM179 54h14v1h-14zM178 55h14v1h-14zM177 56h14v1h-14zM176 57h14v1h-14zM175 58h14v1h-14zM174 59h14v1h-14zM173 60h13v1h-13zM171 61h13v1h-13zM169 62h12v1h-12zM168 63h10v1h-10zM166 64h8v1h-8zM164 65h8v1h-8zM162 66h8v1h-8zM161 67h7v1h-7zM159 68h7v1h-7zM157 69h7v1h-7zM155 70h7v1h-7zM154 71h6v1h-6zM152 72h7v1h-7zM151 73h6v1h-6zM149 74h6v1h-6zM147 75h7v1h-7zM146 76h6v1h-6zM145 77h6v1h-6zM143 78h6v1h-6zM142 79h6v1h-6zM141 80h6v1h-6zM139 81h6v1h-6zM138 82h6v1h-6zM137 83h6v1h-6zM136 84h5v1h-5zM135 85h5v1h-5zM134 86h5v1h-5zM133 87h5v1h-5zM132 88h5v1h-5zM131 89h5v1h-5zM131 90h4v1h-4zM130 91h5v1h-5zM129 92h5v1h-5zM128 93h5v1h-5zM127 94h5v1h-5zM126 95h5v1h-5zM336 95h1v1h-1zM125 96h4v1h-4zM335 96h2v1h-2zM123 97h4v1h-4zM334 97h3v2h-3zM121 98h5v1h-5zM120 99h4v1h-4zM119 100h3v1h-3zM333 99h4v3h-4zM118 101h3v1h-3zM117 102h3v1h-3zM115 103h3v1h-3zM114 104h3v1h-3zM332 102h5v4h-5zM113 105h3v1h-3zM112 106h3v1h-3zM111 107h3v1h-3zM331 106h6v3h-6zM110 108h3v1h-3zM109 109h3v1h-3zM331 109h5v1h-5zM108 110h3v1h-3zM330 110h6v1h-6zM107 111h3v1h-3zM330 111h5v1h-5zM106 112h3v1h-3zM330 112h4v2h-4zM105 113h3v1h-3zM104 114h3v1h-3zM329 114h4v2h-4zM103 115h3v1h-3zM103 116h2v1h-2zM329 116h3v2h-3zM102 117h3v1h-3zM101 118h3v1h-3zM328 118h2v1h-2zM101 119h2v1h-2zM325 119h1v1h-1zM100 120h3v1h-3zM321 120h1v1h-1zM326 120h3v1h-3zM99 121h3v1h-3zM99 122h2v1h-2zM98 123h3v1h-3zM98 124h2v1h-2zM97 125h3v1h-3zM278 125h1v1h-1zM274 126h2v1h-2zM96 126h3v2h-3zM270 127h3v1h-3zM95 128h3v1h-3zM266 128h4v1h-4zM94 129h3v2h-3zM93 131h3v1h-3zM92 132h4v1h-4zM92 133h3v1h-3zM91 134h3v1h-3zM90 135h3v1h-3zM89 136h3v1h-3zM88 137h3v1h-3zM87 138h3v1h-3zM86 139h3v1h-3zM85 140h3v1h-3zM84 141h3v1h-3zM83 142h2v1h-2zM83 143h1v1h-1zM82 144h1v1h-1zM81 145h1v1h-1zM101 145h1v1h-1zM80 146h2v1h-2zM97 146h2v1h-2zM80 147h1v1h-1zM95 147h1v1h-1zM79 148h1v1h-1zM78 149h1v1h-1zM77 150h1v1h-1zM76 151h2v1h-2zM76 152h1v1h-1zM75 153h1v1h-1zM74 154h1v1h-1zM73 155h1v2h-1zM72 157h1v1h-1zM71 158h1v1h-1zM70 159h1v1h-1zM297 160h1v1h-1zM69 160h1v2h-1zM302 161h1v1h-1zM68 162h1v1h-1zM309 162h2v1h-2zM67 163h1v1h-1zM310 163h9v1h-9zM66 164h1v1h-1zM65 165h1v1h-1zM64 167h1v1h-1zM63 168h1v1h-1zM62 169h1v1h-1zM61 170h1v1h-1zM60 172h1v1h-1zM59 173h1v1h-1zM58 174h1v1h-1zM57 175h1v1h-1zM55 178h1v1h-1zM54 179h1v1h-1zM53 180h1v1h-1zM51 183h1v1h-1zM50 184h1v1h-1zM47 188h1v1h-1zM46 189h1v1h-1zM44 192h1v1h-1zM43 193h1v1h-1zM42 194h1v1h-1zM40 197h1v1h-1zM39 198h1v1h-1zM36 202h1v1h-1zM33 206h1v1h-1zM32 207h1v1h-1zM29 211h1v1h-1zM26 215h1v1h-1zM23 219h1v1h-1zM22 220h1v1h-1zM242 221h2v1h-2zM246 221h1v1h-1zM238 222h2v1h-2zM249 222h1v1h-1zM19 224h1v1h-1zM16 228h1v1h-1zM12 233h1v1h-1zM0 268h1v1h-1zM10 276h1v1h-1zM14 281h1v1h-1zM18 286h1v1h-1zM21 290h1v1h-1zM24 294h1v1h-1zM25 295h1v1h-1zM28 299h1v1h-1zM30 302h1v1h-1zM32 304h1v2h-1zM36 307h1v1h-1zM34 310h1v1h-1zM35 311h1v1h-1zM43 312h1v1h-1z"/>
<path fill="#0050ff" d="M218 0h19v1h-19zM218 1h18v2h-18zM217 3h18v3h-18zM216 6h18v2h-18zM216 8h17v1h-17zM215 9h18v2h-18zM214 11h18v2h-18zM214 13h17v1h-17zM213 14h18v1h-18zM213 15h17v1h-17zM212 16h18v2h-18zM211 18h18v2h-18zM210 20h18v2h-18zM209 22h18v2h-18zM208 24h18v3h-18zM207 27h18v2h-18zM206 29h18v2h-18zM205 31h18v2h-18zM205 33h17v1h-17zM204 34h18v1h-18zM204 35h17v1h-17zM203 36h18v1h-18zM203 37h17v2h-17zM202 39h17v1h-17zM202 40h16v1h-16zM201 41h17v1h-17zM201 42h16v1h-16zM200 43h17v1h-17zM200 44h16v1h-16zM199 45h16v1h-16zM198 46h16v1h-16zM198 47h15v1h-15zM197 48h15v1h-15zM196 49h15v1h-15zM196 50h14v1h-14zM195 51h14v1h-14zM194 52h14v1h-14zM194 53h13v1h-13zM193 54h13v1h-13zM192 55h14v1h-14zM191 56h14v1h-14zM190 57h14v1h-14zM189 58h14v1h-14zM188 59h14v1h-14zM186 60h14v1h-14zM184 61h14v1h-14zM181 62h15v1h-15zM178 63h16v1h-16zM174 64h16v1h-16zM172 65h15v1h-15zM170 66h12v1h-12zM168 67h9v1h-9zM166 68h7v1h-7zM164 69h7v1h-7zM162 70h7v1h-7zM160 71h7v1h-7zM159 72h6v1h-6zM157 73h6v1h-6zM155 74h7v1h-7zM154 75h6v1h-6zM152 76h7v1h-7zM151 77h6v1h-6zM149 78h6v1h-6zM148 79h6v1h-6zM147 80h6v1h-6zM145 81h6v1h-6zM144 82h6v1h-6zM324 82h3v1h-3zM143 83h6v1h-6zM323 83h7v1h-7zM141 84h6v1h-6zM322 84h15v2h-15zM140 85h6v1h-6zM139 86h6v1h-6zM321 86h16v2h-16zM138 87h6v1h-6zM137 88h6v1h-6zM136 89h5v1h-5zM135 90h5v1h-5zM135 91h4v1h-4zM134 92h4v1h-4zM133 93h4v1h-4zM320 88h17v7h-17zM132 94h4v1h-4zM131 95h4v1h-4zM320 95h16v1h-16zM129 96h5v1h-5zM321 96h14v1h-14zM127 97h5v1h-5zM321 97h13v1h-13zM126 98h4v1h-4zM322 98h12v1h-12zM124 99h4v1h-4zM322 99h11v1h-11zM122 100h4v1h-4zM323 100h10v2h-10zM121 101h3v1h-3zM120 102h3v1h-3zM323 102h9v1h-9zM118 103h3v1h-3zM117 104h3v1h-3zM324 103h8v3h-8zM116 105h3v1h-3zM115 106h3v1h-3zM324 106h7v2h-7zM114 107h3v1h-3zM113 108h2v1h-2zM325 108h6v2h-6zM112 109h2v1h-2zM111 110h2v1h-2zM110 111h2v1h-2zM109 112h3v1h-3zM325 110h5v4h-5zM108 113h3v1h-3zM107 114h3v1h-3zM106 115h3v1h-3zM105 116h3v1h-3zM325 114h4v4h-4zM105 117h2v1h-2zM104 118h3v1h-3zM325 118h3v1h-3zM103 119h3v1h-3zM324 119h1v1h-1zM103 120h2v1h-2zM320 120h1v1h-1zM329 120h8v1h-8zM102 121h3v1h-3zM315 121h7v1h-7zM101 122h3v2h-3zM285 123h2v1h-2zM281 124h3v1h-3zM100 124h3v2h-3zM277 125h1v1h-1zM279 125h1v1h-1zM276 126h1v1h-1zM99 126h3v2h-3zM273 126h1v2h-1zM269 127h1v1h-1zM98 128h3v1h-3zM270 128h1v1h-1zM97 129h4v1h-4zM262 129h3v1h-3zM97 130h3v1h-3zM96 131h4v1h-4zM96 132h3v1h-3zM95 133h4v1h-4zM94 134h4v1h-4zM93 135h5v1h-5zM92 136h5v1h-5zM91 137h6v1h-6zM90 138h6v1h-6zM89 139h6v1h-6zM88 140h6v1h-6zM87 141h6v1h-6zM85 142h5v1h-5zM84 143h4v1h-4zM83 144h3v1h-3zM104 144h2v1h-2zM82 145h2v1h-2zM100 145h1v1h-1zM102 145h1v1h-1zM82 146h1v1h-1zM99 146h1v1h-1zM96 146h1v2h-1zM81 147h1v1h-1zM94 147h1v1h-1zM80 148h1v1h-1zM92 148h2v1h-2zM79 149h2v1h-2zM78 150h2v1h-2zM78 151h1v1h-1zM77 152h1v1h-1zM76 153h1v1h-1zM75 154h1v1h-1zM74 155h2v1h-2zM74 156h1v1h-1zM73 157h1v1h-1zM72 158h1v1h-1zM71 159h1v1h-1zM296 160h1v1h-1zM70 160h1v2h-1zM298 160h1v2h-1zM303 161h2v1h-2zM69 162h1v1h-1zM300 162h1v1h-1zM311 162h3v1h-3zM68 163h1v1h-1zM305 163h5v1h-5zM319 163h2v1h-2zM67 164h1v1h-1zM322 164h6v1h-6zM66 165h1v1h-1zM328 165h5v1h-5zM65 166h1v1h-1zM334 166h1v1h-1zM64 168h1v1h-1zM63 169h1v1h-1zM62 170h1v1h-1zM61 171h1v1h-1zM59 174h1v1h-1zM58 175h1v1h-1zM57 176h1v1h-1zM56 177h1v1h-1zM54 180h1v1h-1zM53 181h1v1h-1zM52 182h1v1h-1zM282 183h4v1h-4zM50 185h1v1h-1zM49 186h1v1h-1zM48 187h1v1h-1zM46 190h1v1h-1zM321 190h3v1h-3zM45 191h1v1h-1zM42 195h1v1h-1zM41 196h1v1h-1zM38 200h1v1h-1zM37 201h1v1h-1zM246 202h6v1h-6zM34 205h1v1h-1zM31 209h1v1h-1zM30 210h1v1h-1zM27 214h1v1h-1zM24 218h1v1h-1zM241 221h1v1h-1zM247 221h1v1h-1zM236 222h2v1h-2zM250 222h1v1h-1zM20 223h1v1h-1zM17 227h1v1h-1zM13 232h1v1h-1zM3 269h1v1h-1zM11 277h1v1h-1zM15 282h1v1h-1zM19 287h1v1h-1zM22 291h1v1h-1zM26 296h1v1h-1zM29 300h1v1h-1zM33 306h1v1h-1zM35 309h1v1h-1zM44 312h1v1h-1z"/>
<path fill="#0060ff" d="M237 0h76v1h-76zM236 1h77v2h-77zM235 3h78v3h-78zM234 6h79v2h-79zM233 8h80v3h-80zM232 11h81v2h-81zM231 13h82v2h-82zM230 15h83v3h-83zM229 18h84v2h-84zM228 20h85v2h-85zM227 22h86v2h-86zM226 24h87v3h-87zM225 27h88v1h-88zM225 28h18v1h-18zM265 28h48v1h-48zM224 29h19v1h-19zM271 29h42v1h-42zM224 30h18v1h-18zM273 30h40v1h-40zM274 31h40v1h-40zM223 31h19v2h-19zM275 32h39v2h-39zM222 33h19v2h-19zM275 34h40v1h-40zM221 35h20v1h-20zM276 35h39v2h-39zM221 36h19v1h-19zM220 37h20v2h-20zM276 37h40v3h-40zM219 39h20v1h-20zM218 40h21v1h-21zM277 40h40v2h-40zM218 41h20v1h-20zM217 42h21v2h-21zM277 42h41v2h-41zM216 44h21v1h-21zM277 44h42v2h-42zM215 45h22v1h-22zM214 46h22v1h-22zM277 46h43v2h-43zM213 47h23v1h-23zM212 48h23v1h-23zM277 48h44v2h-44zM211 49h23v1h-23zM210 50h24v1h-24zM277 50h45v2h-45zM209 51h24v1h-24zM208 52h24v1h-24zM207 53h24v1h-24zM277 52h46v3h-46zM206 54h24v1h-24zM206 55h23v1h-23zM277 55h47v1h-47zM205 56h23v1h-23zM278 56h46v1h-46zM204 57h23v1h-23zM278 57h47v2h-47zM203 58h22v1h-22zM202 59h22v1h-22zM278 59h48v1h-48zM200 60h21v1h-21zM279 60h48v1h-48zM198 61h20v1h-20zM281 61h46v1h-46zM196 62h19v1h-19zM282 62h46v1h-46zM194 63h16v1h-16zM284 63h45v1h-45zM190 64h17v1h-17zM285 64h45v1h-45zM187 65h17v1h-17zM286 65h45v1h-45zM182 66h19v1h-19zM287 66h45v1h-45zM177 67h20v1h-20zM288 67h45v1h-45zM173 68h19v1h-19zM289 68h45v1h-45zM171 69h16v1h-16zM289 69h46v1h-46zM169 70h11v1h-11zM290 70h47v1h-47zM167 71h6v1h-6zM291 71h46v1h-46zM165 72h7v1h-7zM292 72h45v1h-45zM163 73h7v1h-7zM293 73h44v2h-44zM162 74h6v1h-6zM160 75h6v1h-6zM294 75h43v1h-43zM159 76h6v1h-6zM295 76h42v1h-42zM157 77h6v1h-6zM296 77h41v2h-41zM155 78h6v1h-6zM154 79h6v1h-6zM297 79h40v1h-40zM153 80h6v1h-6zM298 80h39v2h-39zM151 81h6v1h-6zM150 82h6v1h-6zM299 82h25v1h-25zM327 82h10v1h-10zM149 83h5v1h-5zM300 83h23v1h-23zM330 83h7v1h-7zM147 84h6v1h-6zM300 84h22v1h-22zM146 85h6v1h-6zM301 85h21v1h-21zM145 86h6v1h-6zM301 86h20v1h-20zM144 87h5v1h-5zM302 87h19v1h-19zM143 88h5v1h-5zM302 88h18v1h-18zM141 89h6v1h-6zM140 90h6v1h-6zM303 89h17v3h-17zM139 91h6v1h-6zM138 92h6v1h-6zM304 92h16v2h-16zM137 93h6v1h-6zM136 94h5v1h-5zM305 94h15v2h-15zM135 95h5v1h-5zM134 96h4v1h-4zM306 96h15v1h-15zM132 97h4v1h-4zM308 97h13v1h-13zM130 98h4v1h-4zM309 98h13v1h-13zM128 99h4v1h-4zM311 99h11v1h-11zM126 100h4v1h-4zM313 100h10v1h-10zM124 101h5v1h-5zM314 101h9v1h-9zM123 102h4v1h-4zM315 102h8v1h-8zM121 103h4v1h-4zM316 103h8v1h-8zM120 104h3v1h-3zM317 104h7v1h-7zM119 105h3v1h-3zM318 105h6v1h-6zM118 106h3v1h-3zM319 106h5v2h-5zM117 107h2v1h-2zM115 108h3v1h-3zM114 109h3v1h-3zM320 108h5v3h-5zM113 110h3v1h-3zM112 111h3v1h-3zM112 112h2v1h-2zM111 113h3v1h-3zM110 114h3v1h-3zM109 115h3v1h-3zM108 116h3v1h-3zM321 111h4v7h-4zM107 117h3v2h-3zM322 118h3v1h-3zM106 119h3v1h-3zM322 119h2v1h-2zM319 120h1v1h-1zM105 120h3v2h-3zM309 121h6v1h-6zM322 121h4v1h-4zM104 122h3v1h-3zM289 122h2v1h-2zM104 123h2v1h-2zM287 123h1v1h-1zM284 123h1v2h-1zM103 124h3v1h-3zM280 124h1v2h-1zM103 125h2v1h-2zM276 125h1v1h-1zM272 126h1v1h-1zM277 126h1v1h-1zM102 126h3v2h-3zM268 127h1v1h-1zM274 127h1v1h-1zM265 128h1v1h-1zM271 128h1v1h-1zM101 128h3v2h-3zM261 129h1v1h-1zM265 129h2v1h-2zM100 130h3v2h-3zM99 132h4v1h-4zM99 133h3v1h-3zM98 134h4v2h-4zM97 136h4v2h-4zM96 138h5v1h-5zM95 139h6v1h-6zM94 140h7v1h-7zM93 141h7v1h-7zM90 142h10v1h-10zM88 143h12v1h-12zM107 143h2v1h-2zM86 144h14v1h-14zM103 144h1v2h-1zM84 145h16v1h-16zM83 146h13v1h-13zM100 146h1v1h-1zM82 147h3v1h-3zM90 147h4v1h-4zM97 147h2v1h-2zM81 148h2v1h-2zM91 148h1v1h-1zM94 148h2v1h-2zM81 149h1v1h-1zM89 149h3v1h-3zM80 150h1v1h-1zM79 151h1v1h-1zM78 152h1v1h-1zM77 153h2v1h-2zM76 154h2v1h-2zM76 155h1v1h-1zM75 156h1v1h-1zM74 157h1v1h-1zM73 158h1v1h-1zM72 159h1v1h-1zM294 159h2v1h-2zM299 160h1v1h-1zM71 160h1v2h-1zM305 161h2v1h-2zM70 162h1v1h-1zM299 162h1v1h-1zM314 162h2v1h-2zM69 163h1v1h-1zM303 163h2v1h-2zM321 163h2v1h-2zM68 164h1v1h-1zM320 164h2v1h-2zM328 164h1v1h-1zM67 165h1v1h-1zM327 165h1v1h-1zM333 165h1v1h-1zM66 166h1v1h-1zM332 166h2v1h-2zM335 166h1v1h-1zM65 167h1v1h-1zM64 169h1v1h-1zM63 170h1v1h-1zM62 171h1v1h-1zM61 172h1v1h-1zM60 173h1v1h-1zM59 175h1v1h-1zM58 176h1v1h-1zM57 177h1v1h-1zM56 178h1v1h-1zM55 179h1v1h-1zM53 182h1v1h-1zM244 182h4v1h-4zM52 183h1v1h-1zM243 183h5v1h-5zM279 183h3v1h-3zM286 183h2v1h-2zM51 184h1v1h-1zM49 187h1v1h-1zM48 188h1v1h-1zM314 188h2v1h-2zM47 189h1v1h-1zM317 189h4v1h-4zM320 190h1v1h-1zM324 190h1v1h-1zM324 191h2v1h-2zM45 192h1v1h-1zM44 193h1v1h-1zM43 194h1v1h-1zM40 198h1v1h-1zM39 199h1v1h-1zM244 202h2v1h-2zM252 202h1v1h-1zM36 203h1v1h-1zM254 203h3v1h-3zM35 204h1v1h-1zM32 208h1v1h-1zM29 212h1v1h-1zM28 213h1v1h-1zM25 217h1v1h-1zM239 221h2v1h-2zM248 221h1v1h-1zM21 222h1v1h-1zM235 222h1v1h-1zM251 222h1v1h-1zM240 223h1v1h-1zM247 223h4v1h-4zM18 226h1v1h-1zM14 231h1v1h-1zM8 238h1v1h-1zM7 239h1v1h-1zM6 240h1v1h-1zM2 243h1v1h-1zM1 268h1v1h-1zM12 278h1v1h-1zM16 283h1v1h-1zM20 288h1v1h-1zM23 292h1v1h-1zM24 293h1v1h-1zM27 297h1v1h-1zM30 301h1v1h-1zM32 303h1v1h-1zM37 307h1v2h-1zM36 311h1v1h-1z"/>
<path fill="#0070ff" d="M243 28h22v1h-22zM243 29h28v1h-28zM313 0h19v31h-19zM242 30h31v1h-31zM242 31h32v1h-32zM242 32h33v1h-33zM314 31h19v3h-19zM241 33h34v2h-34zM315 34h18v2h-18zM241 35h35v1h-35zM315 36h19v1h-19zM240 36h36v3h-36zM316 37h18v2h-18zM239 39h37v1h-37zM316 39h19v1h-19zM239 40h38v1h-38zM317 40h18v1h-18zM317 41h19v1h-19zM238 41h39v3h-39zM318 42h18v2h-18zM237 44h40v2h-40zM319 44h18v2h-18zM236 46h41v2h-41zM320 46h17v2h-17zM235 48h42v1h-42zM321 48h16v2h-16zM234 49h43v2h-43zM322 50h15v2h-15zM233 51h44v1h-44zM232 52h45v1h-45zM231 53h46v1h-46zM323 52h14v3h-14zM230 54h47v1h-47zM229 55h48v1h-48zM324 55h13v2h-13zM228 56h50v1h-50zM227 57h51v1h-51zM325 57h12v2h-12zM225 58h53v1h-53zM224 59h54v1h-54zM326 59h11v1h-11zM221 60h58v1h-58zM327 60h10v2h-10zM218 61h63v1h-63zM215 62h67v1h-67zM328 62h9v1h-9zM210 63h74v1h-74zM329 63h8v1h-8zM207 64h78v1h-78zM330 64h7v1h-7zM204 65h36v1h-36zM247 65h39v1h-39zM331 65h6v1h-6zM201 66h35v1h-35zM258 66h29v1h-29zM332 66h5v1h-5zM197 67h34v1h-34zM261 67h27v1h-27zM333 67h4v1h-4zM192 68h31v1h-31zM264 68h25v1h-25zM334 68h3v1h-3zM187 69h21v1h-21zM267 69h22v1h-22zM335 69h2v1h-2zM180 70h24v1h-24zM269 70h21v1h-21zM173 71h26v1h-26zM271 71h20v1h-20zM172 72h21v1h-21zM273 72h19v1h-19zM170 73h15v1h-15zM275 73h18v1h-18zM168 74h7v1h-7zM277 74h16v1h-16zM166 75h6v1h-6zM278 75h16v1h-16zM165 76h6v1h-6zM280 76h15v1h-15zM163 77h6v1h-6zM281 77h15v1h-15zM161 78h6v1h-6zM282 78h14v1h-14zM160 79h6v1h-6zM283 79h14v1h-14zM159 80h5v1h-5zM284 80h14v1h-14zM157 81h6v1h-6zM285 81h13v1h-13zM156 82h5v1h-5zM285 82h14v1h-14zM154 83h6v1h-6zM285 83h15v1h-15zM153 84h6v1h-6zM286 84h14v1h-14zM152 85h5v1h-5zM286 85h15v1h-15zM151 86h5v1h-5zM287 86h14v1h-14zM149 87h6v1h-6zM287 87h15v2h-15zM148 88h6v1h-6zM147 89h6v1h-6zM288 89h15v1h-15zM146 90h5v1h-5zM289 90h14v2h-14zM145 91h5v1h-5zM144 92h5v1h-5zM290 92h14v2h-14zM143 93h5v1h-5zM141 94h6v1h-6zM291 94h14v1h-14zM140 95h5v1h-5zM292 95h13v1h-13zM138 96h5v1h-5zM293 96h13v1h-13zM136 97h5v1h-5zM295 97h13v1h-13zM134 98h5v1h-5zM297 98h12v1h-12zM132 99h5v1h-5zM299 99h12v1h-12zM130 100h5v1h-5zM301 100h12v1h-12zM129 101h4v1h-4zM303 101h11v1h-11zM127 102h4v1h-4zM305 102h10v1h-10zM125 103h4v1h-4zM307 103h9v1h-9zM123 104h4v1h-4zM309 104h8v1h-8zM122 105h4v1h-4zM311 105h7v1h-7zM121 106h3v1h-3zM313 106h6v1h-6zM119 107h4v1h-4zM314 107h5v1h-5zM118 108h3v1h-3zM315 108h5v2h-5zM117 109h3v1h-3zM116 110h3v1h-3zM316 110h4v1h-4zM115 111h3v1h-3zM316 111h5v1h-5zM114 112h3v2h-3zM317 112h4v3h-4zM113 114h3v1h-3zM112 115h3v1h-3zM111 116h3v1h-3zM318 115h3v3h-3zM110 117h3v2h-3zM318 118h4v2h-4zM109 119h3v1h-3zM318 120h1v1h-1zM108 120h3v2h-3zM293 121h16v1h-16zM326 121h10v1h-10zM107 122h3v1h-3zM269 122h9v1h-9zM291 122h1v1h-1zM288 122h1v2h-1zM283 123h1v1h-1zM106 123h3v2h-3zM268 123h12v2h-12zM285 124h1v1h-1zM267 125h9v1h-9zM281 125h1v1h-1zM105 125h3v2h-3zM266 126h6v1h-6zM278 126h1v1h-1zM105 127h2v1h-2zM266 127h2v1h-2zM275 127h1v1h-1zM264 128h1v1h-1zM272 128h1v1h-1zM104 128h3v2h-3zM260 129h1v1h-1zM267 129h2v1h-2zM255 130h6v1h-6zM103 130h3v3h-3zM102 133h3v3h-3zM101 136h4v1h-4zM101 137h3v4h-3zM110 142h2v1h-2zM100 141h4v3h-4zM109 143h1v1h-1zM106 143h1v2h-1zM100 144h3v1h-3zM104 145h1v1h-1zM101 146h1v1h-1zM85 147h5v1h-5zM99 147h1v1h-1zM83 148h8v1h-8zM96 148h2v1h-2zM82 149h7v1h-7zM92 149h4v1h-4zM81 150h3v1h-3zM86 150h7v1h-7zM80 151h3v1h-3zM86 151h2v1h-2zM79 152h2v1h-2zM79 153h1v1h-1zM78 154h1v1h-1zM77 155h1v1h-1zM76 156h1v1h-1zM75 157h1v1h-1zM74 158h2v1h-2zM260 158h2v1h-2zM291 158h2v1h-2zM73 159h2v1h-2zM296 159h1v1h-1zM72 160h2v1h-2zM295 160h1v1h-1zM300 160h2v1h-2zM72 161h1v1h-1zM297 161h1v1h-1zM307 161h3v1h-3zM71 162h1v1h-1zM316 162h2v1h-2zM70 163h1v1h-1zM302 163h1v1h-1zM323 163h2v1h-2zM69 164h1v1h-1zM315 164h5v1h-5zM329 164h2v1h-2zM68 165h1v1h-1zM325 165h2v1h-2zM334 165h1v1h-1zM67 166h1v1h-1zM331 166h1v1h-1zM336 166h1v1h-1zM66 167h1v1h-1zM65 168h1v2h-1zM64 170h1v1h-1zM63 171h1v1h-1zM62 172h1v1h-1zM61 173h1v1h-1zM60 174h1v1h-1zM58 177h1v1h-1zM57 178h1v1h-1zM56 179h1v1h-1zM55 180h1v1h-1zM54 181h1v1h-1zM242 182h2v1h-2zM248 182h2v1h-2zM283 182h1v1h-1zM238 183h5v1h-5zM248 183h4v1h-4zM277 183h2v1h-2zM288 183h2v1h-2zM52 184h1v1h-1zM51 185h1v1h-1zM50 186h1v1h-1zM310 187h2v1h-2zM313 188h1v1h-1zM316 188h1v2h-1zM321 189h1v1h-1zM47 190h1v1h-1zM319 190h1v1h-1zM46 191h1v1h-1zM323 191h1v1h-1zM326 191h1v1h-1zM43 195h1v1h-1zM42 196h1v1h-1zM41 197h1v1h-1zM39 200h1v1h-1zM38 201h1v1h-1zM247 201h3v1h-3zM37 202h1v1h-1zM242 202h2v1h-2zM253 202h1v1h-1zM252 203h2v1h-2zM257 203h1v1h-1zM34 206h1v1h-1zM33 207h1v1h-1zM30 211h1v1h-1zM26 216h1v1h-1zM22 221h1v1h-1zM238 221h1v1h-1zM233 222h2v1h-2zM237 223h3v1h-3zM241 223h2v1h-2zM246 223h1v1h-1zM251 223h3v1h-3zM19 225h1v1h-1zM9 237h1v1h-1zM220 238h10v1h-10zM243 239h10v1h-10zM257 240h2v1h-2zM5 241h1v1h-1zM13 279h1v1h-1zM17 284h1v1h-1zM21 289h1v1h-1zM25 294h1v1h-1zM28 298h1v1h-1zM29 299h1v1h-1zM31 302h1v1h-1zM33 304h1v2h-1zM38 307h1v1h-1zM35 310h1v1h-1zM45 312h1v1h-1z"/>
<path fill="#0084ff" d="M332 0h5v31h-5zM333 31h4v5h-4zM334 36h3v3h-3zM335 39h2v2h-2zM336 41h1v3h-1zM240 65h7v1h-7zM236 66h22v1h-22zM231 67h30v1h-30zM223 68h41v1h-41zM208 69h59v1h-59zM204 70h65v1h-65zM199 71h72v1h-72zM193 72h80v1h-80zM185 73h90v1h-90zM175 74h33v1h-33zM211 74h30v1h-30zM244 74h11v1h-11zM257 74h20v1h-20zM172 75h30v1h-30zM249 75h3v1h-3zM260 75h18v1h-18zM171 76h22v1h-22zM262 76h18v1h-18zM169 77h13v1h-13zM263 77h18v1h-18zM167 78h6v1h-6zM265 78h17v1h-17zM166 79h6v1h-6zM267 79h16v1h-16zM164 80h6v1h-6zM268 80h16v1h-16zM163 81h6v1h-6zM269 81h16v1h-16zM161 82h6v1h-6zM270 82h15v1h-15zM160 83h6v1h-6zM271 83h14v1h-14zM159 84h5v1h-5zM272 84h14v1h-14zM157 85h6v1h-6zM273 85h13v1h-13zM156 86h6v1h-6zM274 86h13v1h-13zM155 87h6v1h-6zM275 87h12v2h-12zM154 88h5v1h-5zM153 89h5v1h-5zM276 89h12v1h-12zM151 90h6v1h-6zM276 90h13v2h-13zM150 91h6v1h-6zM149 92h6v1h-6zM276 92h14v2h-14zM148 93h6v1h-6zM147 94h5v1h-5zM276 94h15v1h-15zM145 95h6v1h-6zM276 95h16v1h-16zM143 96h6v1h-6zM276 96h17v1h-17zM141 97h6v1h-6zM276 97h19v1h-19zM139 98h5v1h-5zM276 98h21v1h-21zM137 99h4v1h-4zM276 99h23v1h-23zM135 100h4v1h-4zM276 100h25v1h-25zM133 101h4v1h-4zM276 101h27v1h-27zM131 102h4v1h-4zM276 102h29v1h-29zM129 103h4v1h-4zM276 103h31v1h-31zM127 104h4v1h-4zM275 104h19v1h-19zM297 104h12v1h-12zM126 105h4v1h-4zM275 105h17v1h-17zM299 105h12v1h-12zM124 106h4v1h-4zM275 106h16v1h-16zM301 106h12v1h-12zM123 107h4v1h-4zM274 107h16v1h-16zM303 107h11v1h-11zM121 108h4v1h-4zM274 108h15v1h-15zM305 108h10v1h-10zM120 109h4v1h-4zM273 109h16v1h-16zM307 109h8v1h-8zM119 110h3v1h-3zM272 110h16v1h-16zM309 110h7v1h-7zM118 111h3v1h-3zM271 111h17v1h-17zM311 111h5v1h-5zM117 112h3v1h-3zM270 112h18v1h-18zM312 112h5v1h-5zM117 113h2v1h-2zM269 113h19v1h-19zM313 113h4v1h-4zM116 114h3v1h-3zM269 114h18v1h-18zM314 114h3v1h-3zM115 115h3v1h-3zM268 115h19v1h-19zM114 116h3v1h-3zM314 115h4v3h-4zM267 116h20v2h-20zM113 117h3v2h-3zM266 118h21v2h-21zM112 119h3v1h-3zM315 118h3v3h-3zM111 120h3v2h-3zM265 120h22v2h-22zM291 121h2v1h-2zM336 121h1v1h-1zM110 122h3v1h-3zM264 122h5v1h-5zM278 122h10v1h-10zM292 122h1v1h-1zM309 122h15v1h-15zM280 123h3v1h-3zM109 123h3v2h-3zM264 123h4v2h-4zM286 124h1v1h-1zM263 125h4v1h-4zM282 125h2v1h-2zM108 125h3v2h-3zM263 126h3v1h-3zM279 126h1v1h-1zM262 127h4v1h-4zM276 127h1v1h-1zM262 128h2v1h-2zM273 128h1v1h-1zM107 127h3v3h-3zM259 129h1v1h-1zM269 129h1v1h-1zM254 130h1v1h-1zM261 130h3v1h-3zM106 130h3v3h-3zM105 133h3v4h-3zM113 141h3v1h-3zM104 137h3v6h-3zM109 142h1v1h-1zM112 142h1v1h-1zM104 143h2v1h-2zM107 144h1v1h-1zM105 145h1v1h-1zM102 146h2v1h-2zM100 147h2v1h-2zM98 148h2v1h-2zM96 149h2v1h-2zM84 150h2v1h-2zM93 150h4v1h-4zM83 151h3v1h-3zM88 151h7v1h-7zM81 152h11v1h-11zM80 153h3v1h-3zM84 153h1v1h-1zM79 154h3v1h-3zM78 155h2v1h-2zM77 156h2v1h-2zM76 157h2v1h-2zM264 157h3v1h-3zM286 157h3v1h-3zM76 158h1v1h-1zM258 158h2v1h-2zM262 158h1v1h-1zM290 158h1v1h-1zM293 158h2v1h-2zM75 159h1v1h-1zM254 159h4v1h-4zM293 159h1v1h-1zM297 159h1v1h-1zM74 160h1v1h-1zM250 160h1v1h-1zM302 160h2v1h-2zM73 161h1v1h-1zM310 161h2v1h-2zM72 162h1v1h-1zM318 162h2v1h-2zM71 163h1v1h-1zM301 163h1v1h-1zM325 163h2v1h-2zM70 164h1v1h-1zM312 164h3v1h-3zM331 164h1v1h-1zM69 165h1v1h-1zM323 165h2v1h-2zM335 165h1v1h-1zM68 166h1v1h-1zM329 166h2v1h-2zM67 167h1v1h-1zM66 168h1v2h-1zM65 170h1v1h-1zM64 171h1v1h-1zM63 172h1v1h-1zM62 173h1v1h-1zM61 174h1v1h-1zM60 175h1v1h-1zM59 176h1v1h-1zM57 179h1v1h-1zM56 180h1v1h-1zM55 181h1v1h-1zM54 182h1v1h-1zM241 182h1v1h-1zM250 182h1v1h-1zM277 182h6v1h-6zM284 182h2v1h-2zM53 183h1v1h-1zM237 183h1v1h-1zM252 183h3v1h-3zM275 183h2v1h-2zM290 183h1v1h-1zM282 184h11v1h-11zM51 186h1v1h-1zM305 186h3v1h-3zM50 187h1v1h-1zM309 187h1v1h-1zM312 187h2v1h-2zM49 188h1v1h-1zM312 188h1v1h-1zM317 188h2v1h-2zM48 189h1v1h-1zM315 189h1v1h-1zM322 189h1v1h-1zM325 190h1v1h-1zM322 191h1v1h-1zM327 191h1v1h-1zM46 192h1v1h-1zM45 193h1v1h-1zM44 194h1v1h-1zM41 198h1v1h-1zM40 199h1v1h-1zM245 201h2v1h-2zM250 201h1v1h-1zM241 202h1v1h-1zM254 202h1v1h-1zM37 203h1v1h-1zM247 203h5v1h-5zM258 203h2v1h-2zM36 204h1v1h-1zM257 204h10v1h-10zM35 205h1v1h-1zM32 209h1v1h-1zM31 210h1v1h-1zM28 214h1v1h-1zM27 215h1v1h-1zM24 219h1v1h-1zM23 220h1v1h-1zM237 221h1v1h-1zM249 221h1v1h-1zM231 222h2v1h-2zM252 222h1v1h-1zM234 223h3v1h-3zM243 223h3v1h-3zM254 223h2v1h-2zM20 224h1v1h-1zM16 229h1v1h-1zM15 230h1v1h-1zM11 235h1v1h-1zM10 236h1v1h-1zM219 238h1v1h-1zM230 238h8v1h-8zM232 239h11v1h-11zM253 239h3v1h-3zM254 240h3v1h-3zM259 240h2v1h-2zM4 242h1v1h-1zM14 280h1v1h-1zM18 285h1v1h-1zM22 290h1v1h-1zM26 295h1v1h-1zM30 300h1v1h-1zM33 303h1v1h-1zM34 306h1v1h-1zM36 309h1v1h-1zM46 312h1v1h-1z"/>
<path fill="#0094ff" d="M208 74h3v1h-3zM241 74h3v1h-3zM255 74h2v1h-2zM202 75h47v1h-47zM252 75h8v1h-8zM193 76h69v1h-69zM182 77h81v1h-81zM173 78h92v1h-92zM172 79h35v1h-35zM210 79h57v1h-57zM170 80h26v1h-26zM221 80h47v1h-47zM169 81h11v1h-11zM232 81h37v1h-37zM167 82h6v1h-6zM243 82h27v1h-27zM166 83h5v1h-5zM246 83h25v1h-25zM164 84h6v1h-6zM250 84h4v1h-4zM258 84h14v1h-14zM163 85h6v1h-6zM259 85h14v1h-14zM162 86h5v1h-5zM260 86h14v1h-14zM161 87h5v1h-5zM260 87h15v1h-15zM159 88h6v1h-6zM261 88h14v1h-14zM158 89h6v1h-6zM157 90h6v1h-6zM262 89h14v3h-14zM156 91h5v1h-5zM155 92h5v1h-5zM154 93h5v1h-5zM152 94h6v1h-6zM151 95h5v1h-5zM149 96h5v1h-5zM147 97h5v1h-5zM144 98h6v1h-6zM263 92h13v8h-13zM141 99h6v1h-6zM139 100h6v1h-6zM137 101h5v1h-5zM135 102h4v1h-4zM262 100h14v4h-14zM133 103h4v1h-4zM131 104h4v1h-4zM294 104h3v1h-3zM130 105h4v1h-4zM292 105h7v1h-7zM262 104h13v3h-13zM128 106h4v1h-4zM291 106h10v1h-10zM127 107h3v1h-3zM290 107h13v1h-13zM262 107h12v2h-12zM125 108h4v1h-4zM289 108h16v1h-16zM124 109h4v1h-4zM261 109h12v1h-12zM289 109h18v1h-18zM122 110h4v1h-4zM261 110h11v1h-11zM296 110h13v1h-13zM288 110h7v2h-7zM121 111h4v1h-4zM261 111h10v1h-10zM298 111h13v1h-13zM120 112h4v1h-4zM261 112h9v1h-9zM288 112h6v1h-6zM299 112h13v1h-13zM119 113h4v1h-4zM261 113h8v1h-8zM288 113h5v1h-5zM301 113h12v1h-12zM119 114h3v1h-3zM260 114h9v1h-9zM302 114h12v1h-12zM287 114h6v2h-6zM118 115h3v1h-3zM260 115h8v1h-8zM303 115h11v1h-11zM117 116h3v1h-3zM304 116h10v1h-10zM260 116h7v2h-7zM305 117h9v1h-9zM116 117h3v2h-3zM260 118h6v2h-6zM115 119h3v1h-3zM287 116h5v5h-5zM306 118h9v3h-9zM114 120h3v2h-3zM259 120h6v2h-6zM287 121h4v1h-4zM113 122h3v1h-3zM293 122h16v1h-16zM324 122h13v1h-13zM112 123h4v1h-4zM289 123h2v1h-2zM259 122h5v3h-5zM112 124h3v1h-3zM287 124h1v1h-1zM284 125h1v1h-1zM111 125h3v2h-3zM259 125h4v2h-4zM280 126h1v1h-1zM110 127h4v1h-4zM259 127h3v1h-3zM277 127h1v1h-1zM258 128h4v1h-4zM274 128h1v1h-1zM110 128h3v2h-3zM257 129h2v1h-2zM270 129h2v1h-2zM264 130h2v1h-2zM109 130h3v3h-3zM108 133h3v4h-3zM107 137h4v1h-4zM117 140h2v1h-2zM107 138h3v4h-3zM112 141h1v1h-1zM116 141h1v1h-1zM107 142h2v1h-2zM113 142h1v1h-1zM110 143h1v1h-1zM108 144h1v1h-1zM106 145h1v1h-1zM104 146h1v1h-1zM102 147h2v1h-2zM100 148h2v1h-2zM98 149h3v1h-3zM97 150h2v1h-2zM95 151h3v1h-3zM92 152h4v1h-4zM83 153h1v1h-1zM85 153h10v1h-10zM82 154h11v1h-11zM80 155h8v1h-8zM79 156h4v1h-4zM269 156h5v1h-5zM279 156h6v1h-6zM78 157h3v1h-3zM262 157h2v1h-2zM267 157h1v1h-1zM285 157h1v1h-1zM289 157h1v2h-1zM77 158h2v1h-2zM257 158h1v1h-1zM263 158h1v1h-1zM295 158h1v1h-1zM76 159h2v1h-2zM253 159h1v1h-1zM258 159h2v1h-2zM292 159h1v1h-1zM298 159h1v1h-1zM75 160h2v1h-2zM248 160h2v1h-2zM251 160h2v1h-2zM294 160h1v1h-1zM304 160h1v1h-1zM74 161h2v1h-2zM245 161h2v1h-2zM296 161h1v1h-1zM312 161h3v1h-3zM73 162h2v1h-2zM298 162h1v1h-1zM320 162h2v1h-2zM72 163h2v1h-2zM327 163h1v1h-1zM71 164h2v1h-2zM310 164h2v1h-2zM332 164h2v1h-2zM70 165h2v1h-2zM322 165h1v1h-1zM69 166h2v1h-2zM328 166h1v1h-1zM68 167h2v1h-2zM334 167h2v1h-2zM67 168h2v1h-2zM67 169h1v1h-1zM66 170h1v1h-1zM65 171h1v1h-1zM64 172h1v1h-1zM63 173h1v1h-1zM62 174h1v1h-1zM61 175h1v1h-1zM60 176h1v1h-1zM59 177h1v1h-1zM58 178h1v1h-1zM56 181h1v1h-1zM55 182h1v1h-1zM240 182h1v1h-1zM251 182h2v1h-2zM272 182h5v1h-5zM286 182h1v1h-1zM54 183h1v1h-1zM236 183h1v1h-1zM255 183h3v1h-3zM273 183h2v1h-2zM291 183h1v1h-1zM53 184h1v1h-1zM233 184h5v1h-5zM281 184h1v1h-1zM293 184h3v1h-3zM52 185h1v1h-1zM300 185h4v1h-4zM304 186h1v1h-1zM308 186h2v1h-2zM308 187h1v1h-1zM314 187h1v1h-1zM50 188h1v1h-1zM311 188h1v1h-1zM319 188h1v1h-1zM49 189h1v1h-1zM323 189h1v1h-1zM48 190h1v1h-1zM318 190h1v1h-1zM326 190h1v1h-1zM47 191h1v1h-1zM321 191h1v1h-1zM328 191h1v1h-1zM327 192h3v1h-3zM44 195h1v1h-1zM43 196h1v1h-1zM42 197h1v1h-1zM39 201h1v1h-1zM244 201h1v1h-1zM251 201h1v1h-1zM38 202h1v1h-1zM240 202h1v1h-1zM255 202h1v1h-1zM237 203h10v1h-10zM260 203h2v1h-2zM255 204h2v1h-2zM267 204h3v1h-3zM34 207h1v1h-1zM33 208h1v1h-1zM30 212h1v1h-1zM29 213h1v1h-1zM25 218h1v1h-1zM236 221h1v1h-1zM230 222h1v1h-1zM253 222h1v1h-1zM21 223h1v1h-1zM232 223h2v1h-2zM256 223h2v1h-2zM17 228h1v1h-1zM12 234h1v1h-1zM221 237h2v1h-2zM218 238h1v1h-1zM238 238h9v1h-9zM228 239h4v1h-4zM256 239h3v1h-3zM251 240h3v1h-3zM261 240h1v1h-1zM6 271h1v1h-1zM7 272h1v1h-1zM8 273h1v1h-1zM9 274h1v1h-1zM15 281h1v1h-1zM19 286h1v1h-1zM23 291h1v1h-1zM24 292h1v1h-1zM27 296h1v1h-1zM28 297h1v1h-1zM31 301h1v1h-1zM32 302h1v1h-1zM39 307h1v1h-1zM38 308h1v1h-1zM37 311h1v1h-1zM47 312h1v1h-1z"/>
<path fill="#00a4ff" d="M207 79h3v1h-3zM196 80h25v1h-25zM180 81h52v1h-52zM173 82h70v1h-70zM171 83h75v1h-75zM170 84h37v1h-37zM209 84h41v1h-41zM254 84h4v1h-4zM169 85h17v1h-17zM216 85h43v1h-43zM167 86h6v1h-6zM223 86h37v1h-37zM166 87h6v1h-6zM229 87h31v1h-31zM165 88h5v1h-5zM234 88h27v1h-27zM164 89h5v1h-5zM239 89h23v1h-23zM163 90h5v1h-5zM244 90h18v1h-18zM161 91h6v1h-6zM245 91h17v1h-17zM160 92h6v1h-6zM247 92h16v1h-16zM159 93h6v1h-6zM249 93h14v1h-14zM158 94h6v1h-6zM250 94h13v1h-13zM156 95h6v1h-6zM251 95h12v1h-12zM154 96h6v1h-6zM252 96h11v1h-11zM152 97h6v1h-6zM150 98h6v1h-6zM253 97h10v3h-10zM147 99h6v1h-6zM145 100h6v1h-6zM142 101h6v1h-6zM139 102h6v1h-6zM137 103h5v1h-5zM135 104h4v1h-4zM254 100h8v6h-8zM134 105h3v1h-3zM132 106h4v1h-4zM130 107h4v1h-4zM255 106h7v3h-7zM129 108h4v1h-4zM128 109h3v1h-3zM126 110h4v1h-4zM295 110h1v1h-1zM125 111h4v1h-4zM295 111h3v1h-3zM124 112h4v1h-4zM294 112h5v1h-5zM255 109h6v5h-6zM123 113h4v1h-4zM293 113h8v1h-8zM122 114h3v1h-3zM293 114h9v1h-9zM121 115h3v1h-3zM293 115h10v1h-10zM120 116h3v1h-3zM292 116h12v1h-12zM292 117h13v1h-13zM119 117h3v2h-3zM255 114h5v6h-5zM118 119h3v1h-3zM292 118h14v3h-14zM117 120h3v2h-3zM116 122h3v2h-3zM291 123h1v1h-1zM314 123h11v1h-11zM115 124h3v1h-3zM288 124h1v1h-1zM114 125h4v1h-4zM285 125h1v1h-1zM281 126h2v1h-2zM255 120h4v8h-4zM114 126h3v2h-3zM278 127h1v1h-1zM255 128h3v1h-3zM275 128h1v1h-1zM113 128h3v2h-3zM255 129h2v1h-2zM272 129h1v1h-1zM112 130h4v1h-4zM253 130h1v1h-1zM266 130h2v1h-2zM250 131h10v1h-10zM112 131h3v2h-3zM111 133h4v1h-4zM111 134h3v4h-3zM120 139h3v1h-3zM110 138h4v3h-4zM116 140h1v1h-1zM119 140h1v1h-1zM110 141h2v1h-2zM114 142h1v1h-1zM111 143h1v1h-1zM109 144h2v1h-2zM107 145h2v1h-2zM105 146h2v1h-2zM104 147h1v1h-1zM102 148h2v1h-2zM101 149h2v1h-2zM99 150h3v1h-3zM98 151h2v1h-2zM96 152h3v1h-3zM95 153h3v1h-3zM93 154h4v1h-4zM88 155h7v1h-7zM83 156h11v1h-11zM267 156h2v1h-2zM274 156h5v1h-5zM285 156h1v1h-1zM81 157h11v1h-11zM260 157h2v1h-2zM268 157h2v1h-2zM283 157h2v1h-2zM290 157h2v1h-2zM79 158h5v1h-5zM256 158h1v1h-1zM264 158h1v1h-1zM288 158h1v1h-1zM296 158h1v1h-1zM78 159h3v1h-3zM251 159h2v1h-2zM260 159h1v1h-1zM291 159h1v1h-1zM299 159h1v1h-1zM77 160h3v1h-3zM247 160h1v1h-1zM253 160h2v1h-2zM305 160h2v1h-2zM76 161h2v1h-2zM244 161h1v1h-1zM247 161h2v1h-2zM315 161h2v1h-2zM75 162h2v1h-2zM240 162h4v1h-4zM322 162h2v1h-2zM74 163h2v1h-2zM328 163h2v1h-2zM73 164h2v1h-2zM308 164h2v1h-2zM334 164h1v1h-1zM72 165h1v1h-1zM321 165h1v1h-1zM336 165h1v1h-1zM71 166h1v1h-1zM327 166h1v1h-1zM70 167h1v1h-1zM333 167h1v1h-1zM336 167h1v1h-1zM69 168h1v1h-1zM68 169h1v1h-1zM67 170h1v1h-1zM66 171h1v1h-1zM65 172h1v1h-1zM64 173h1v1h-1zM63 174h1v1h-1zM62 175h1v1h-1zM61 176h1v1h-1zM60 177h1v1h-1zM59 178h1v1h-1zM58 179h1v1h-1zM57 180h1v1h-1zM244 181h4v1h-4zM239 182h1v1h-1zM253 182h1v1h-1zM269 182h3v1h-3zM287 182h2v1h-2zM55 183h1v1h-1zM235 183h1v1h-1zM258 183h8v1h-8zM270 183h3v1h-3zM292 183h2v1h-2zM54 184h1v1h-1zM231 184h2v1h-2zM238 184h4v1h-4zM279 184h2v1h-2zM296 184h3v1h-3zM53 185h1v1h-1zM299 185h1v1h-1zM304 185h2v1h-2zM52 186h1v1h-1zM303 186h1v1h-1zM310 186h1v1h-1zM51 187h1v1h-1zM307 187h1v1h-1zM315 187h1v1h-1zM310 188h1v1h-1zM320 188h1v1h-1zM314 189h1v1h-1zM324 189h1v1h-1zM317 190h1v1h-1zM48 191h1v1h-1zM47 192h1v1h-1zM325 192h2v1h-2zM330 192h2v1h-2zM46 193h1v1h-1zM45 194h1v1h-1zM42 198h1v1h-1zM41 199h1v1h-1zM40 200h1v1h-1zM243 201h1v1h-1zM252 201h1v1h-1zM239 202h1v1h-1zM256 202h1v1h-1zM236 203h1v1h-1zM262 203h2v1h-2zM37 204h1v1h-1zM254 204h1v1h-1zM270 204h2v1h-2zM36 205h1v1h-1zM271 205h5v1h-5zM35 206h1v1h-1zM32 210h1v1h-1zM31 211h1v1h-1zM27 216h1v1h-1zM26 217h1v1h-1zM235 221h1v1h-1zM22 222h1v1h-1zM229 222h1v1h-1zM254 222h1v1h-1zM231 223h1v1h-1zM258 223h2v1h-2zM18 227h1v1h-1zM13 233h1v1h-1zM219 237h2v1h-2zM223 237h4v1h-4zM217 238h1v1h-1zM247 238h4v1h-4zM224 239h4v1h-4zM259 239h1v1h-1zM248 240h3v1h-3zM262 240h1v1h-1zM0 244h1v1h-1zM249 252h2v1h-2zM2 268h1v1h-1zM5 270h1v1h-1zM10 275h1v1h-1zM260 276h1v1h-1zM16 282h1v1h-1zM20 287h1v1h-1zM21 288h1v1h-1zM25 293h1v1h-1zM29 298h1v1h-1zM30 299h1v1h-1zM34 303h1v3h-1zM35 306h1v1h-1zM36 310h1v1h-1zM48 312h1v1h-1z"/>
<path fill="#00b4ff" d="M207 84h2v1h-2zM186 85h30v1h-30zM173 86h50v1h-50zM172 87h57v1h-57zM170 88h64v1h-64zM169 89h70v1h-70zM168 90h6v1h-6zM212 90h32v1h-32zM167 91h5v1h-5zM217 91h28v1h-28zM166 92h5v1h-5zM222 92h25v1h-25zM165 93h5v1h-5zM226 93h23v1h-23zM164 94h5v1h-5zM231 94h19v1h-19zM162 95h6v1h-6zM236 95h15v1h-15zM160 96h6v1h-6zM241 96h11v1h-11zM158 97h6v1h-6zM244 97h9v1h-9zM156 98h6v1h-6zM246 98h7v1h-7zM153 99h6v1h-6zM247 99h6v1h-6zM151 100h6v1h-6zM248 100h6v1h-6zM148 101h6v1h-6zM249 101h5v1h-5zM145 102h6v1h-6zM250 102h4v2h-4zM142 103h7v1h-7zM139 104h7v1h-7zM251 104h3v2h-3zM137 105h6v1h-6zM136 106h4v1h-4zM251 106h4v1h-4zM134 107h4v1h-4zM133 108h4v1h-4zM131 109h4v1h-4zM130 110h4v1h-4zM252 107h3v5h-3zM129 111h4v1h-4zM128 112h3v1h-3zM127 113h3v1h-3zM125 114h4v1h-4zM124 115h4v1h-4zM123 116h4v1h-4zM122 117h4v1h-4zM122 118h3v1h-3zM121 119h4v1h-4zM120 120h4v1h-4zM120 121h3v1h-3zM119 122h3v2h-3zM292 123h2v1h-2zM302 123h12v1h-12zM325 123h12v1h-12zM289 124h1v1h-1zM253 112h2v14h-2zM118 124h3v2h-3zM286 125h1v1h-1zM283 126h1v1h-1zM117 126h3v2h-3zM279 127h1v1h-1zM276 128h1v1h-1zM254 126h1v4h-1zM273 129h1v1h-1zM116 128h3v3h-3zM252 130h1v1h-1zM268 130h2v1h-2zM249 131h1v1h-1zM260 131h3v1h-3zM115 131h3v3h-3zM114 134h4v2h-4zM127 137h2v1h-2zM124 138h2v1h-2zM114 136h3v4h-3zM119 139h1v1h-1zM114 140h2v1h-2zM120 140h1v1h-1zM117 141h1v1h-1zM115 142h1v1h-1zM112 143h2v1h-2zM111 144h1v1h-1zM109 145h2v1h-2zM107 146h2v1h-2zM105 147h2v1h-2zM104 148h2v1h-2zM103 149h2v1h-2zM102 150h2v1h-2zM100 151h3v1h-3zM99 152h3v1h-3zM98 153h3v1h-3zM97 154h3v1h-3zM95 155h4v1h-4zM273 155h8v1h-8zM94 156h4v1h-4zM265 156h2v1h-2zM286 156h2v1h-2zM92 157h5v1h-5zM259 157h1v1h-1zM270 157h1v1h-1zM282 157h1v1h-1zM292 157h2v1h-2zM84 158h11v1h-11zM254 158h2v1h-2zM265 158h2v1h-2zM286 158h2v1h-2zM297 158h1v1h-1zM81 159h13v1h-13zM250 159h1v1h-1zM261 159h1v1h-1zM290 159h1v1h-1zM300 159h2v1h-2zM80 160h12v1h-12zM246 160h1v1h-1zM255 160h2v1h-2zM293 160h1v1h-1zM307 160h3v1h-3zM78 161h5v1h-5zM243 161h1v1h-1zM249 161h2v1h-2zM317 161h2v1h-2zM77 162h3v1h-3zM244 162h1v1h-1zM324 162h2v1h-2zM76 163h2v1h-2zM300 163h1v1h-1zM330 163h2v1h-2zM75 164h2v1h-2zM307 164h1v1h-1zM335 164h1v1h-1zM73 165h3v1h-3zM320 165h1v1h-1zM72 166h2v1h-2zM326 166h1v1h-1zM71 167h2v1h-2zM332 167h1v1h-1zM70 168h2v1h-2zM69 169h2v1h-2zM68 170h1v1h-1zM67 171h1v1h-1zM66 172h1v1h-1zM65 173h1v1h-1zM64 174h1v1h-1zM63 175h1v1h-1zM62 176h1v1h-1zM61 177h1v1h-1zM60 178h1v1h-1zM59 179h1v1h-1zM58 180h1v1h-1zM57 181h1v1h-1zM243 181h1v1h-1zM248 181h1v1h-1zM56 182h1v1h-1zM238 182h1v1h-1zM254 182h2v1h-2zM263 182h6v1h-6zM289 182h1v1h-1zM234 183h1v1h-1zM266 183h4v1h-4zM294 183h1v1h-1zM230 184h1v1h-1zM242 184h2v1h-2zM252 184h1v1h-1zM277 184h2v1h-2zM299 184h2v1h-2zM228 185h3v1h-3zM297 185h2v1h-2zM306 185h1v1h-1zM53 186h1v1h-1zM302 186h1v1h-1zM311 186h2v1h-2zM52 187h1v1h-1zM306 187h1v1h-1zM316 187h1v1h-1zM51 188h1v1h-1zM309 188h1v1h-1zM50 189h1v1h-1zM313 189h1v1h-1zM49 190h1v1h-1zM327 190h1v1h-1zM320 191h1v1h-1zM329 191h1v1h-1zM324 192h1v1h-1zM46 194h1v1h-1zM45 195h1v1h-1zM44 196h1v1h-1zM43 197h1v1h-1zM40 201h1v1h-1zM242 201h1v1h-1zM39 202h1v1h-1zM238 202h1v1h-1zM257 202h1v1h-1zM38 203h1v1h-1zM234 203h2v1h-2zM264 203h2v1h-2zM272 204h2v1h-2zM261 205h10v1h-10zM276 205h2v1h-2zM34 208h1v1h-1zM33 209h1v1h-1zM29 214h1v1h-1zM28 215h1v1h-1zM24 220h1v1h-1zM23 221h1v1h-1zM234 221h1v1h-1zM250 221h1v1h-1zM227 222h2v1h-2zM255 222h2v1h-2zM230 223h1v1h-1zM260 223h2v1h-2zM255 224h1v1h-1zM19 226h1v1h-1zM14 232h1v1h-1zM218 237h1v1h-1zM227 237h2v1h-2zM216 238h1v1h-1zM251 238h1v1h-1zM220 239h4v1h-4zM260 239h1v1h-1zM246 240h2v1h-2zM263 240h1v1h-1zM258 241h3v1h-3zM3 243h1v1h-1zM248 252h1v1h-1zM251 252h1v1h-1zM178 255h14v1h-14zM4 269h1v1h-1zM11 276h1v1h-1zM261 276h1v1h-1zM12 277h1v1h-1zM17 283h1v1h-1zM22 289h1v1h-1zM26 294h1v1h-1zM27 295h1v1h-1zM31 300h1v1h-1zM33 302h1v1h-1zM36 306h1v1h-1zM40 307h1v1h-1zM37 309h1v1h-1zM38 311h1v1h-1zM49 312h1v1h-1z"/>
<path fill="#00c4ff" d="M174 90h38v1h-38zM172 91h45v1h-45zM171 92h51v1h-51zM170 93h56v1h-56zM169 94h62v1h-62zM168 95h5v1h-5zM210 95h26v1h-26zM166 96h6v1h-6zM217 96h24v1h-24zM164 97h6v1h-6zM225 97h19v1h-19zM162 98h6v1h-6zM231 98h15v1h-15zM159 99h6v1h-6zM236 99h11v1h-11zM157 100h6v1h-6zM241 100h7v1h-7zM154 101h6v1h-6zM244 101h5v1h-5zM151 102h7v1h-7zM246 102h4v2h-4zM149 103h6v1h-6zM146 104h6v1h-6zM247 104h4v1h-4zM143 105h7v1h-7zM248 105h3v2h-3zM140 106h7v1h-7zM138 107h6v1h-6zM137 108h5v1h-5zM249 107h3v3h-3zM135 109h4v1h-4zM134 110h4v1h-4zM250 110h2v2h-2zM133 111h4v1h-4zM131 112h4v1h-4zM250 112h3v1h-3zM130 113h4v1h-4zM129 114h4v1h-4zM128 115h4v1h-4zM127 116h4v1h-4zM126 117h4v1h-4zM125 118h4v1h-4zM251 113h2v7h-2zM125 119h3v1h-3zM124 120h4v1h-4zM123 121h4v1h-4zM122 122h4v2h-4zM294 123h8v1h-8zM121 124h4v1h-4zM290 124h2v1h-2zM313 124h24v1h-24zM252 120h1v6h-1zM121 125h3v1h-3zM287 125h1v1h-1zM120 126h4v1h-4zM284 126h1v1h-1zM120 127h3v1h-3zM280 127h2v1h-2zM119 128h4v1h-4zM277 128h1v1h-1zM252 126h2v4h-2zM274 129h1v1h-1zM119 129h3v2h-3zM251 130h1v1h-1zM270 130h2v1h-2zM118 131h4v1h-4zM247 131h2v1h-2zM263 131h3v1h-3zM118 132h3v4h-3zM134 135h1v1h-1zM130 136h2v1h-2zM117 136h4v3h-4zM126 137h1v2h-1zM123 138h1v2h-1zM117 139h2v1h-2zM121 140h1v1h-1zM118 141h2v1h-2zM116 142h2v1h-2zM114 143h2v1h-2zM112 144h2v1h-2zM111 145h2v1h-2zM109 146h2v1h-2zM107 147h3v1h-3zM106 148h2v1h-2zM105 149h2v1h-2zM104 150h2v1h-2zM103 151h2v1h-2zM102 152h2v1h-2zM101 153h2v1h-2zM100 154h2v1h-2zM99 155h3v1h-3zM270 155h3v1h-3zM281 155h3v1h-3zM98 156h3v1h-3zM263 156h2v1h-2zM288 156h2v1h-2zM97 157h3v1h-3zM257 157h2v1h-2zM271 157h2v1h-2zM280 157h2v1h-2zM294 157h1v1h-1zM95 158h4v1h-4zM253 158h1v1h-1zM267 158h1v1h-1zM285 158h1v1h-1zM94 159h4v1h-4zM249 159h1v1h-1zM262 159h1v1h-1zM289 159h1v1h-1zM302 159h2v1h-2zM92 160h5v1h-5zM245 160h1v1h-1zM257 160h1v1h-1zM310 160h3v1h-3zM83 161h13v1h-13zM241 161h2v1h-2zM251 161h1v1h-1zM295 161h1v1h-1zM319 161h3v1h-3zM80 162h14v1h-14zM239 162h1v1h-1zM245 162h2v1h-2zM297 162h1v1h-1zM326 162h2v1h-2zM78 163h13v1h-13zM237 163h4v1h-4zM332 163h2v1h-2zM77 164h5v1h-5zM86 164h2v1h-2zM305 164h2v1h-2zM336 164h1v1h-1zM76 165h3v1h-3zM318 165h2v1h-2zM74 166h3v1h-3zM325 166h1v1h-1zM73 167h3v1h-3zM331 167h1v1h-1zM72 168h2v1h-2zM71 169h2v1h-2zM69 170h3v1h-3zM68 171h2v1h-2zM67 172h2v1h-2zM66 173h2v1h-2zM65 174h2v1h-2zM64 175h2v1h-2zM63 176h2v1h-2zM62 177h1v1h-1zM61 178h1v1h-1zM60 179h1v1h-1zM59 180h1v1h-1zM58 181h1v1h-1zM242 181h1v1h-1zM249 181h2v1h-2zM57 182h1v1h-1zM237 182h1v1h-1zM256 182h7v1h-7zM290 182h1v1h-1zM56 183h1v1h-1zM233 183h1v1h-1zM295 183h1v1h-1zM55 184h1v1h-1zM244 184h8v1h-8zM253 184h4v1h-4zM276 184h1v1h-1zM301 184h2v1h-2zM54 185h1v1h-1zM227 185h1v1h-1zM231 185h4v1h-4zM291 185h6v1h-6zM307 185h2v1h-2zM301 186h1v1h-1zM53 187h1v1h-1zM305 187h1v1h-1zM317 187h1v1h-1zM52 188h1v1h-1zM321 188h1v1h-1zM51 189h1v1h-1zM325 189h1v1h-1zM50 190h1v1h-1zM316 190h1v1h-1zM49 191h1v1h-1zM330 191h1v1h-1zM48 192h1v1h-1zM332 192h1v1h-1zM47 193h1v1h-1zM45 196h1v1h-1zM44 197h1v1h-1zM43 198h1v1h-1zM42 199h1v1h-1zM41 200h1v1h-1zM253 201h1v1h-1zM237 202h1v1h-1zM258 202h1v1h-1zM233 203h1v1h-1zM266 203h2v1h-2zM38 204h1v1h-1zM230 204h9v1h-9zM253 204h1v1h-1zM274 204h1v1h-1zM37 205h1v1h-1zM259 205h2v1h-2zM278 205h1v1h-1zM36 206h1v1h-1zM35 207h1v1h-1zM32 211h1v1h-1zM31 212h1v1h-1zM30 213h1v1h-1zM27 217h1v1h-1zM26 218h1v1h-1zM25 219h1v1h-1zM232 221h2v1h-2zM226 222h1v1h-1zM257 222h1v1h-1zM228 223h2v1h-2zM262 223h1v1h-1zM21 224h1v1h-1zM253 224h2v1h-2zM256 224h4v1h-4zM20 225h1v1h-1zM16 230h1v1h-1zM15 231h1v1h-1zM229 237h1v1h-1zM215 238h1v1h-1zM252 238h1v1h-1zM218 239h2v1h-2zM261 239h1v1h-1zM244 240h2v1h-2zM264 240h1v1h-1zM261 241h1v1h-1zM1 244h1v1h-1zM246 252h2v1h-2zM252 252h1v1h-1zM249 253h2v1h-2zM173 255h5v1h-5zM192 255h2v1h-2zM173 256h6v1h-6zM259 276h1v1h-1zM262 276h1v1h-1zM13 278h1v1h-1zM18 284h1v1h-1zM19 285h1v1h-1zM23 290h1v1h-1zM24 291h1v1h-1zM25 292h1v1h-1zM28 296h1v1h-1zM29 297h1v1h-1zM30 298h1v1h-1zM31 299h1v1h-1zM32 301h1v1h-1zM41 307h1v1h-1zM39 308h1v1h-1zM37 310h1v1h-1zM50 312h1v1h-1z"/>
<path fill="#00d4ff" d="M173 95h37v1h-37zM172 96h45v1h-45zM170 97h55v1h-55zM168 98h6v1h-6zM180 98h51v1h-51zM165 99h7v1h-7zM214 99h22v1h-22zM163 100h6v1h-6zM224 100h17v1h-17zM160 101h7v1h-7zM230 101h14v1h-14zM158 102h6v1h-6zM234 102h12v1h-12zM155 103h7v1h-7zM238 103h8v1h-8zM152 104h7v1h-7zM242 104h5v1h-5zM150 105h6v1h-6zM244 105h4v1h-4zM147 106h7v1h-7zM245 106h3v1h-3zM144 107h7v1h-7zM246 107h3v2h-3zM142 108h7v1h-7zM139 109h7v1h-7zM247 109h2v1h-2zM138 110h6v1h-6zM247 110h3v1h-3zM137 111h5v1h-5zM248 111h2v2h-2zM135 112h5v1h-5zM134 113h4v1h-4zM248 113h3v1h-3zM133 114h4v1h-4zM132 115h4v1h-4zM131 116h4v1h-4zM130 117h4v1h-4zM249 114h2v5h-2zM129 118h4v1h-4zM250 119h1v1h-1zM128 119h4v2h-4zM127 121h4v1h-4zM126 122h4v2h-4zM125 124h4v1h-4zM292 124h2v1h-2zM300 124h13v1h-13zM288 125h2v1h-2zM316 125h11v1h-11zM331 125h6v1h-6zM124 125h4v2h-4zM285 126h2v1h-2zM282 127h2v1h-2zM123 127h4v2h-4zM278 128h2v1h-2zM250 120h2v10h-2zM122 129h5v1h-5zM275 129h1v1h-1zM250 130h1v1h-1zM272 130h1v1h-1zM122 130h4v2h-4zM246 131h1v1h-1zM266 131h3v1h-3zM121 132h5v1h-5zM251 132h10v1h-10zM138 134h1v1h-1zM133 135h1v1h-1zM135 135h1v1h-1zM121 133h4v4h-4zM132 136h1v1h-1zM129 136h1v2h-1zM121 137h5v1h-5zM121 138h2v1h-2zM124 139h1v1h-1zM122 140h1v1h-1zM120 141h1v1h-1zM118 142h2v1h-2zM116 143h2v1h-2zM114 144h3v1h-3zM113 145h2v1h-2zM111 146h3v1h-3zM110 147h2v1h-2zM108 148h3v1h-3zM107 149h3v1h-3zM106 150h3v1h-3zM105 151h2v1h-2zM104 152h2v1h-2zM103 153h3v1h-3zM102 154h3v1h-3zM102 155h2v1h-2zM267 155h3v1h-3zM284 155h2v1h-2zM101 156h2v1h-2zM261 156h2v1h-2zM290 156h2v1h-2zM100 157h3v1h-3zM256 157h1v1h-1zM273 157h3v1h-3zM278 157h2v1h-2zM295 157h1v1h-1zM99 158h3v1h-3zM252 158h1v1h-1zM268 158h1v1h-1zM284 158h1v1h-1zM298 158h2v1h-2zM98 159h3v1h-3zM247 159h2v1h-2zM263 159h1v1h-1zM288 159h1v1h-1zM304 159h2v1h-2zM97 160h3v1h-3zM244 160h1v1h-1zM258 160h2v1h-2zM292 160h1v1h-1zM313 160h3v1h-3zM96 161h3v1h-3zM252 161h1v1h-1zM322 161h2v1h-2zM94 162h4v1h-4zM247 162h1v1h-1zM328 162h2v1h-2zM91 163h6v1h-6zM241 163h2v1h-2zM299 163h1v1h-1zM334 163h1v1h-1zM82 164h4v1h-4zM88 164h8v1h-8zM235 164h1v1h-1zM304 164h1v1h-1zM79 165h16v1h-16zM316 165h2v1h-2zM77 166h16v1h-16zM324 166h1v1h-1zM76 167h14v1h-14zM330 167h1v1h-1zM74 168h7v1h-7zM73 169h5v1h-5zM72 170h4v1h-4zM70 171h4v1h-4zM69 172h4v1h-4zM68 173h3v1h-3zM67 174h3v1h-3zM66 175h2v1h-2zM65 176h2v1h-2zM63 177h3v1h-3zM62 178h3v1h-3zM61 179h2v1h-2zM60 180h2v1h-2zM59 181h2v1h-2zM241 181h1v1h-1zM251 181h1v1h-1zM271 181h14v1h-14zM58 182h2v1h-2zM236 182h1v1h-1zM291 182h1v1h-1zM57 183h2v1h-2zM232 183h1v1h-1zM296 183h1v1h-1zM56 184h2v1h-2zM229 184h1v1h-1zM257 184h6v1h-6zM273 184h3v1h-3zM303 184h1v1h-1zM55 185h2v1h-2zM226 185h1v1h-1zM235 185h1v1h-1zM288 185h3v1h-3zM309 185h1v1h-1zM54 186h2v1h-2zM224 186h1v1h-1zM300 186h1v1h-1zM313 186h1v1h-1zM54 187h1v1h-1zM304 187h1v1h-1zM318 187h1v1h-1zM53 188h1v1h-1zM308 188h1v1h-1zM322 188h1v1h-1zM52 189h1v1h-1zM312 189h1v1h-1zM51 190h1v1h-1zM328 190h1v1h-1zM50 191h1v1h-1zM319 191h1v1h-1zM49 192h1v1h-1zM323 192h1v1h-1zM333 192h1v1h-1zM48 193h1v1h-1zM329 193h8v1h-8zM47 194h1v1h-1zM46 195h1v2h-1zM45 197h1v1h-1zM44 198h1v1h-1zM43 199h1v1h-1zM42 200h1v1h-1zM41 201h1v1h-1zM241 201h1v1h-1zM40 202h1v1h-1zM236 202h1v1h-1zM259 202h1v1h-1zM39 203h1v1h-1zM232 203h1v1h-1zM268 203h2v1h-2zM228 204h2v1h-2zM239 204h2v1h-2zM252 204h1v1h-1zM275 204h1v1h-1zM38 205h1v1h-1zM258 205h1v1h-1zM279 205h1v1h-1zM37 206h1v1h-1zM279 206h4v1h-4zM36 207h1v1h-1zM35 208h1v1h-1zM34 209h1v1h-1zM33 210h1v1h-1zM31 213h1v1h-1zM30 214h1v1h-1zM29 215h1v1h-1zM28 216h1v1h-1zM25 220h1v1h-1zM24 221h1v1h-1zM230 221h2v1h-2zM251 221h1v1h-1zM23 222h1v1h-1zM222 222h4v1h-4zM258 222h1v1h-1zM22 223h1v1h-1zM227 223h1v1h-1zM263 223h2v1h-2zM260 224h3v1h-3zM18 228h1v1h-1zM17 229h1v1h-1zM11 236h1v1h-1zM10 237h1v1h-1zM217 237h1v1h-1zM230 237h1v1h-1zM9 238h1v1h-1zM214 238h1v1h-1zM253 238h1v1h-1zM8 239h1v1h-1zM216 239h2v1h-2zM262 239h1v1h-1zM7 240h1v1h-1zM243 240h1v1h-1zM265 240h1v1h-1zM6 241h1v1h-1zM257 241h1v1h-1zM262 241h2v1h-2zM244 252h2v1h-2zM247 253h2v1h-2zM251 253h1v1h-1zM171 255h2v1h-2zM194 255h2v1h-2zM172 256h1v1h-1zM179 256h6v1h-6zM0 267h1v1h-1zM258 276h1v1h-1zM263 276h1v1h-1zM14 279h1v1h-1zM15 280h1v1h-1zM16 281h1v1h-1zM20 286h1v1h-1zM21 287h1v1h-1zM22 288h1v1h-1zM26 293h1v1h-1zM27 294h1v1h-1zM28 295h1v1h-1zM29 296h1v1h-1zM32 300h1v1h-1zM33 301h1v1h-1zM34 302h1v1h-1zM35 303h1v3h-1zM37 306h2v1h-2zM38 309h1v1h-1zM39 311h1v1h-1zM51 312h2v1h-2z"/>
<path fill="#00e4f8" d="M174 98h6v1h-6zM172 99h42v1h-42zM169 100h55v1h-55zM167 101h7v1h-7zM184 101h46v1h-46zM164 102h7v1h-7zM214 102h20v1h-20zM162 103h7v1h-7zM224 103h14v1h-14zM159 104h7v1h-7zM230 104h12v1h-12zM156 105h8v1h-8zM233 105h11v1h-11zM154 106h7v1h-7zM237 106h8v1h-8zM151 107h7v1h-7zM240 107h6v1h-6zM149 108h7v1h-7zM242 108h4v1h-4zM146 109h7v1h-7zM244 109h3v1h-3zM144 110h7v1h-7zM245 110h2v1h-2zM142 111h7v1h-7zM245 111h3v1h-3zM140 112h7v1h-7zM246 112h2v2h-2zM138 113h7v1h-7zM137 114h6v1h-6zM136 115h5v1h-5zM135 116h4v1h-4zM247 114h2v4h-2zM134 117h4v1h-4zM133 118h4v1h-4zM248 118h1v1h-1zM132 119h4v2h-4zM131 121h4v1h-4zM130 122h4v2h-4zM248 119h2v6h-2zM129 124h4v1h-4zM294 124h6v1h-6zM290 125h2v1h-2zM307 125h9v1h-9zM327 125h4v1h-4zM128 125h4v2h-4zM287 126h2v1h-2zM332 126h5v1h-5zM284 127h2v1h-2zM280 128h2v1h-2zM127 127h4v3h-4zM276 129h2v1h-2zM249 125h1v6h-1zM273 130h2v1h-2zM245 131h1v1h-1zM269 131h2v1h-2zM126 130h4v3h-4zM248 132h3v1h-3zM261 132h4v1h-4zM143 133h2v1h-2zM137 134h1v1h-1zM139 134h1v1h-1zM125 133h5v3h-5zM132 135h1v1h-1zM136 135h1v1h-1zM125 136h4v1h-4zM133 136h1v1h-1zM130 137h1v1h-1zM127 138h2v1h-2zM125 139h2v1h-2zM123 140h2v1h-2zM121 141h3v1h-3zM120 142h2v1h-2zM118 143h3v1h-3zM117 144h2v1h-2zM115 145h3v1h-3zM114 146h2v1h-2zM112 147h3v1h-3zM111 148h3v1h-3zM110 149h3v1h-3zM109 150h3v1h-3zM107 151h4v1h-4zM106 152h4v1h-4zM106 153h3v1h-3zM105 154h3v1h-3zM275 154h1v1h-1zM277 154h2v1h-2zM104 155h3v1h-3zM266 155h1v1h-1zM286 155h2v1h-2zM103 156h3v1h-3zM259 156h2v1h-2zM292 156h2v1h-2zM103 157h2v1h-2zM254 157h2v1h-2zM276 157h2v1h-2zM296 157h1v1h-1zM102 158h2v1h-2zM250 158h2v1h-2zM269 158h1v1h-1zM283 158h1v1h-1zM300 158h2v1h-2zM101 159h3v1h-3zM246 159h1v1h-1zM264 159h1v1h-1zM287 159h1v1h-1zM306 159h4v1h-4zM100 160h3v1h-3zM242 160h2v1h-2zM260 160h1v1h-1zM291 160h1v1h-1zM316 160h3v1h-3zM99 161h3v1h-3zM240 161h1v1h-1zM253 161h2v1h-2zM294 161h1v1h-1zM324 161h2v1h-2zM98 162h3v1h-3zM238 162h1v1h-1zM248 162h1v1h-1zM330 162h2v1h-2zM97 163h3v1h-3zM243 163h1v1h-1zM335 163h1v1h-1zM236 163h1v2h-1zM96 164h3v1h-3zM234 164h1v1h-1zM303 164h1v1h-1zM95 165h3v1h-3zM314 165h2v1h-2zM93 166h4v1h-4zM323 166h1v1h-1zM90 167h6v1h-6zM329 167h1v1h-1zM81 168h13v1h-13zM335 168h2v1h-2zM78 169h15v1h-15zM76 170h15v1h-15zM74 171h11v1h-11zM73 172h6v1h-6zM71 173h6v1h-6zM70 174h4v1h-4zM68 175h4v1h-4zM67 176h4v1h-4zM66 177h3v1h-3zM65 178h2v1h-2zM63 179h3v1h-3zM62 180h3v1h-3zM61 181h2v1h-2zM240 181h1v1h-1zM252 181h2v1h-2zM266 181h5v1h-5zM285 181h2v1h-2zM60 182h2v1h-2zM235 182h1v1h-1zM292 182h1v1h-1zM59 183h2v1h-2zM231 183h1v1h-1zM297 183h3v1h-3zM58 184h2v1h-2zM228 184h1v1h-1zM263 184h3v1h-3zM271 184h2v1h-2zM304 184h2v1h-2zM57 185h2v1h-2zM225 185h1v1h-1zM236 185h1v1h-1zM285 185h3v1h-3zM310 185h1v1h-1zM56 186h2v1h-2zM222 186h2v1h-2zM225 186h3v1h-3zM299 186h1v1h-1zM314 186h1v1h-1zM55 187h1v1h-1zM303 187h1v1h-1zM54 188h1v1h-1zM307 188h1v1h-1zM323 188h1v1h-1zM53 189h1v1h-1zM311 189h1v1h-1zM326 189h1v1h-1zM52 190h1v1h-1zM315 190h1v1h-1zM329 190h1v1h-1zM51 191h1v1h-1zM331 191h1v1h-1zM50 192h1v1h-1zM334 192h1v1h-1zM49 193h1v1h-1zM328 193h1v1h-1zM48 194h1v1h-1zM47 195h2v1h-2zM47 196h1v1h-1zM46 197h1v1h-1zM45 198h1v1h-1zM44 199h1v1h-1zM43 200h1v1h-1zM42 201h1v1h-1zM240 201h1v1h-1zM254 201h1v1h-1zM41 202h1v1h-1zM235 202h1v1h-1zM260 202h1v1h-1zM40 203h1v1h-1zM231 203h1v1h-1zM270 203h2v1h-2zM39 204h1v1h-1zM227 204h1v1h-1zM241 204h1v1h-1zM276 204h2v1h-2zM280 205h1v1h-1zM38 206h1v1h-1zM273 206h6v1h-6zM283 206h2v1h-2zM37 207h1v1h-1zM36 208h1v1h-1zM35 209h1v1h-1zM34 210h1v1h-1zM33 211h1v1h-1zM32 212h1v1h-1zM29 216h1v1h-1zM28 217h1v1h-1zM27 218h1v1h-1zM26 219h1v1h-1zM229 221h1v1h-1zM218 222h4v1h-4zM259 222h2v1h-2zM224 223h3v1h-3zM265 223h1v1h-1zM22 224h1v1h-1zM252 224h1v1h-1zM263 224h5v1h-5zM21 225h1v1h-1zM20 226h1v1h-1zM19 227h1v1h-1zM15 232h1v1h-1zM14 233h1v1h-1zM13 234h1v1h-1zM12 235h1v1h-1zM216 237h1v1h-1zM231 237h2v1h-2zM213 238h1v1h-1zM254 238h1v1h-1zM214 239h2v1h-2zM240 240h3v1h-3zM266 240h1v1h-1zM264 241h2v1h-2zM5 242h1v1h-1zM2 244h1v1h-1zM243 252h1v1h-1zM253 252h1v1h-1zM244 253h3v1h-3zM252 253h1v1h-1zM183 254h10v1h-10zM170 255h1v1h-1zM196 255h2v1h-2zM171 256h1v1h-1zM185 256h7v1h-7zM305 262h1v2h-1zM1 267h1v1h-1zM3 268h1v1h-1zM7 271h1v1h-1zM8 272h1v1h-1zM9 273h1v1h-1zM10 274h1v1h-1zM11 275h1v1h-1zM17 282h1v1h-1zM18 283h1v1h-1zM19 284h1v1h-1zM23 289h1v1h-1zM24 290h1v1h-1zM25 291h1v1h-1zM26 292h1v1h-1zM27 293h1v1h-1zM30 297h1v1h-1zM31 298h1v1h-1zM32 299h1v1h-1zM33 300h1v1h-1zM35 302h1v1h-1zM36 303h1v3h-1zM39 306h1v1h-1zM42 307h1v1h-1zM40 308h1v1h-1zM38 310h1v1h-1zM40 311h1v1h-1zM53 312h1v1h-1z"/>
<path fill="#0cf4eb" d="M174 101h10v1h-10zM171 102h43v1h-43zM169 103h55v1h-55zM166 104h8v1h-8zM181 104h49v1h-49zM164 105h7v1h-7zM212 105h21v1h-21zM161 106h8v1h-8zM223 106h14v1h-14zM158 107h8v1h-8zM229 107h11v1h-11zM156 108h8v1h-8zM232 108h10v1h-10zM153 109h8v1h-8zM234 109h10v1h-10zM151 110h8v1h-8zM237 110h8v1h-8zM149 111h7v1h-7zM239 111h6v1h-6zM147 112h7v1h-7zM241 112h5v1h-5zM145 113h7v1h-7zM243 113h3v1h-3zM143 114h7v1h-7zM244 114h3v1h-3zM141 115h7v1h-7zM139 116h7v1h-7zM245 115h2v3h-2zM138 117h7v1h-7zM137 118h6v1h-6zM136 119h6v1h-6zM136 120h4v1h-4zM246 118h2v4h-2zM135 121h4v1h-4zM134 122h4v2h-4zM247 122h1v3h-1zM133 124h4v1h-4zM132 125h5v1h-5zM292 125h15v1h-15zM132 126h4v1h-4zM289 126h2v1h-2zM310 126h22v1h-22zM131 127h5v1h-5zM286 127h2v1h-2zM332 127h5v1h-5zM282 128h2v1h-2zM131 128h4v2h-4zM278 129h2v1h-2zM247 125h2v6h-2zM130 130h5v1h-5zM275 130h1v1h-1zM244 131h1v1h-1zM271 131h2v1h-2zM245 132h3v1h-3zM265 132h3v1h-3zM141 133h2v1h-2zM145 133h1v1h-1zM252 133h7v1h-7zM130 131h4v4h-4zM135 134h2v1h-2zM140 134h1v1h-1zM130 135h2v1h-2zM134 136h1v1h-1zM131 137h2v1h-2zM129 138h2v1h-2zM127 139h3v1h-3zM125 140h3v1h-3zM124 141h3v1h-3zM122 142h3v1h-3zM121 143h3v1h-3zM119 144h3v1h-3zM118 145h3v1h-3zM116 146h4v1h-4zM115 147h4v1h-4zM114 148h4v1h-4zM113 149h4v1h-4zM112 150h4v1h-4zM111 151h4v1h-4zM110 152h4v1h-4zM109 153h4v1h-4zM108 154h4v1h-4zM270 154h5v1h-5zM276 154h1v1h-1zM279 154h4v1h-4zM107 155h4v1h-4zM264 155h2v1h-2zM288 155h2v1h-2zM106 156h4v1h-4zM258 156h1v1h-1zM294 156h1v1h-1zM105 157h4v1h-4zM253 157h1v1h-1zM297 157h1v1h-1zM104 158h4v1h-4zM248 158h2v1h-2zM270 158h2v1h-2zM281 158h2v1h-2zM302 158h2v1h-2zM104 159h3v1h-3zM244 159h2v1h-2zM265 159h2v1h-2zM286 159h1v1h-1zM310 159h3v1h-3zM103 160h3v1h-3zM241 160h1v1h-1zM261 160h1v1h-1zM290 160h1v1h-1zM319 160h3v1h-3zM102 161h3v1h-3zM239 161h1v1h-1zM255 161h1v1h-1zM326 161h3v1h-3zM101 162h3v1h-3zM237 162h1v1h-1zM249 162h1v1h-1zM296 162h1v1h-1zM332 162h3v1h-3zM100 163h3v1h-3zM235 163h1v1h-1zM244 163h1v1h-1zM298 163h1v1h-1zM336 163h1v1h-1zM99 164h4v1h-4zM237 164h2v1h-2zM302 164h1v1h-1zM98 165h4v1h-4zM232 165h1v1h-1zM311 165h3v1h-3zM97 166h4v1h-4zM322 166h1v1h-1zM96 167h3v1h-3zM328 167h1v1h-1zM94 168h4v1h-4zM333 168h2v1h-2zM93 169h4v1h-4zM91 170h4v1h-4zM85 171h9v1h-9zM79 172h13v1h-13zM77 173h13v1h-13zM74 174h11v1h-11zM72 175h8v1h-8zM71 176h5v1h-5zM69 177h5v1h-5zM67 178h5v1h-5zM66 179h4v1h-4zM65 180h3v1h-3zM63 181h3v1h-3zM239 181h1v1h-1zM254 181h2v1h-2zM262 181h4v1h-4zM287 181h1v1h-1zM62 182h3v1h-3zM234 182h1v1h-1zM293 182h2v1h-2zM61 183h2v1h-2zM230 183h1v1h-1zM300 183h1v1h-1zM60 184h2v1h-2zM227 184h1v1h-1zM266 184h5v1h-5zM306 184h1v1h-1zM59 185h2v1h-2zM224 185h1v1h-1zM237 185h1v1h-1zM283 185h2v1h-2zM311 185h1v1h-1zM58 186h1v1h-1zM221 186h1v1h-1zM228 186h2v1h-2zM297 186h2v1h-2zM315 186h1v1h-1zM56 187h2v1h-2zM219 187h2v1h-2zM302 187h1v1h-1zM319 187h1v1h-1zM55 188h2v1h-2zM54 189h2v1h-2zM327 189h1v1h-1zM53 190h2v1h-2zM52 191h2v1h-2zM318 191h1v1h-1zM332 191h1v1h-1zM51 192h2v1h-2zM322 192h1v1h-1zM335 192h1v1h-1zM50 193h2v1h-2zM327 193h1v1h-1zM49 194h2v1h-2zM49 195h1v1h-1zM48 196h1v1h-1zM47 197h1v1h-1zM46 198h1v1h-1zM45 199h1v1h-1zM44 200h1v1h-1zM246 200h3v1h-3zM43 201h1v1h-1zM239 201h1v1h-1zM42 202h1v1h-1zM234 202h1v1h-1zM261 202h1v1h-1zM41 203h1v1h-1zM230 203h1v1h-1zM272 203h2v1h-2zM40 204h1v1h-1zM226 204h1v1h-1zM242 204h2v1h-2zM251 204h1v1h-1zM278 204h1v1h-1zM39 205h1v1h-1zM223 205h8v1h-8zM257 205h1v1h-1zM281 205h1v1h-1zM271 206h2v1h-2zM285 206h1v1h-1zM37 208h1v1h-1zM36 209h1v1h-1zM35 210h1v1h-1zM34 211h1v1h-1zM33 212h1v1h-1zM32 213h1v1h-1zM31 214h1v1h-1zM30 215h1v1h-1zM27 219h1v1h-1zM26 220h1v1h-1zM25 221h1v1h-1zM227 221h2v1h-2zM252 221h1v1h-1zM24 222h1v1h-1zM215 222h3v1h-3zM261 222h1v1h-1zM23 223h1v1h-1zM218 223h6v1h-6zM266 223h1v1h-1zM268 224h5v1h-5zM18 229h1v1h-1zM17 230h1v1h-1zM16 231h1v1h-1zM215 237h1v1h-1zM233 237h2v1h-2zM212 238h1v1h-1zM255 238h1v1h-1zM212 239h2v1h-2zM263 239h1v1h-1zM238 240h2v1h-2zM267 240h1v1h-1zM256 241h1v1h-1zM266 241h2v1h-2zM4 243h1v1h-1zM249 251h2v1h-2zM242 252h1v1h-1zM254 252h1v1h-1zM243 253h1v1h-1zM253 253h1v1h-1zM181 254h2v1h-2zM193 254h2v1h-2zM169 255h1v1h-1zM198 255h2v1h-2zM169 256h2v1h-2zM192 256h2v1h-2zM304 262h1v2h-1zM306 262h1v2h-1zM5 269h1v1h-1zM6 270h1v1h-1zM260 271h2v1h-2zM12 276h1v1h-1zM257 276h1v1h-1zM264 276h1v1h-1zM13 277h1v1h-1zM14 278h1v1h-1zM15 279h1v1h-1zM20 285h1v1h-1zM21 286h1v1h-1zM22 287h1v1h-1zM23 288h1v1h-1zM24 289h1v1h-1zM28 294h1v1h-1zM29 295h1v1h-1zM30 296h1v1h-1zM31 297h1v1h-1zM32 298h1v1h-1zM33 299h1v1h-1zM34 301h1v1h-1zM36 302h1v1h-1zM37 305h1v1h-1zM40 306h3v1h-3zM43 307h1v1h-1zM41 308h1v1h-1zM39 309h1v2h-1zM41 311h1v1h-1zM54 312h2v1h-2z"/>
<path fill="#19ffde" d="M174 104h7v1h-7zM171 105h41v1h-41zM169 106h54v1h-54zM166 107h63v1h-63zM164 108h8v1h-8zM204 108h28v1h-28zM161 109h9v1h-9zM218 109h16v1h-16zM159 110h8v1h-8zM227 110h10v1h-10zM156 111h9v1h-9zM229 111h10v1h-10zM154 112h9v1h-9zM232 112h9v1h-9zM152 113h8v1h-8zM234 113h9v1h-9zM150 114h8v1h-8zM236 114h8v1h-8zM148 115h8v1h-8zM238 115h7v1h-7zM146 116h8v1h-8zM239 116h6v1h-6zM145 117h7v1h-7zM241 117h4v1h-4zM143 118h8v1h-8zM242 118h4v1h-4zM142 119h7v1h-7zM243 119h3v1h-3zM140 120h8v1h-8zM244 120h2v2h-2zM139 121h8v1h-8zM138 122h7v1h-7zM244 122h3v1h-3zM138 123h6v1h-6zM137 124h6v1h-6zM137 125h5v1h-5zM291 126h4v1h-4zM297 126h13v1h-13zM136 126h5v2h-5zM288 127h2v1h-2zM312 127h20v1h-20zM135 128h5v1h-5zM284 128h2v1h-2zM330 128h7v1h-7zM280 129h2v1h-2zM245 123h2v8h-2zM135 129h4v2h-4zM276 130h2v1h-2zM241 131h3v1h-3zM273 131h2v1h-2zM134 131h5v2h-5zM148 132h5v1h-5zM243 132h2v1h-2zM268 132h3v1h-3zM134 133h7v1h-7zM146 133h1v1h-1zM248 133h4v1h-4zM259 133h5v1h-5zM134 134h1v1h-1zM141 134h2v1h-2zM137 135h2v1h-2zM135 136h2v1h-2zM133 137h3v1h-3zM131 138h3v1h-3zM130 139h3v1h-3zM128 140h3v1h-3zM127 141h3v1h-3zM125 142h4v1h-4zM124 143h3v1h-3zM122 144h4v1h-4zM121 145h4v1h-4zM120 146h4v1h-4zM119 147h3v1h-3zM118 148h3v1h-3zM117 149h4v1h-4zM116 150h4v1h-4zM115 151h4v1h-4zM114 152h4v1h-4zM113 153h4v1h-4zM112 154h4v1h-4zM268 154h2v1h-2zM283 154h3v1h-3zM111 155h5v1h-5zM262 155h2v1h-2zM290 155h2v1h-2zM110 156h5v1h-5zM256 156h2v1h-2zM295 156h1v1h-1zM109 157h5v1h-5zM251 157h2v1h-2zM298 157h2v1h-2zM108 158h5v1h-5zM247 158h1v1h-1zM272 158h2v1h-2zM279 158h2v1h-2zM304 158h4v1h-4zM107 159h5v1h-5zM243 159h1v1h-1zM267 159h1v1h-1zM285 159h1v1h-1zM313 159h5v1h-5zM106 160h5v1h-5zM240 160h1v1h-1zM262 160h1v1h-1zM289 160h1v1h-1zM322 160h3v1h-3zM105 161h4v1h-4zM238 161h1v1h-1zM256 161h1v1h-1zM293 161h1v1h-1zM329 161h3v1h-3zM104 162h4v1h-4zM236 162h1v1h-1zM250 162h1v1h-1zM335 162h1v1h-1zM103 163h4v1h-4zM245 163h1v1h-1zM103 164h3v1h-3zM233 164h1v1h-1zM239 164h1v1h-1zM301 164h1v1h-1zM102 165h3v1h-3zM231 165h1v1h-1zM233 165h2v1h-2zM309 165h2v1h-2zM101 166h3v1h-3zM320 166h2v1h-2zM99 167h4v1h-4zM326 167h2v1h-2zM98 168h4v1h-4zM332 168h1v1h-1zM97 169h3v1h-3zM95 170h4v1h-4zM94 171h4v1h-4zM92 172h4v1h-4zM90 173h3v1h-3zM85 174h6v1h-6zM80 175h9v1h-9zM76 176h11v1h-11zM74 177h9v1h-9zM72 178h8v1h-8zM70 179h6v1h-6zM68 180h5v1h-5zM245 180h2v1h-2zM66 181h5v1h-5zM238 181h1v1h-1zM256 181h6v1h-6zM288 181h2v1h-2zM65 182h4v1h-4zM233 182h1v1h-1zM295 182h1v1h-1zM63 183h4v1h-4zM229 183h1v1h-1zM301 183h2v1h-2zM62 184h3v1h-3zM226 184h1v1h-1zM307 184h1v1h-1zM61 185h2v1h-2zM223 185h1v1h-1zM238 185h1v1h-1zM281 185h2v1h-2zM312 185h1v1h-1zM59 186h3v1h-3zM230 186h1v1h-1zM295 186h2v1h-2zM316 186h1v1h-1zM58 187h2v1h-2zM218 187h1v1h-1zM221 187h3v1h-3zM301 187h1v1h-1zM320 187h1v1h-1zM57 188h2v1h-2zM306 188h1v1h-1zM324 188h1v1h-1zM56 189h2v1h-2zM310 189h1v1h-1zM55 190h2v1h-2zM314 190h1v1h-1zM330 190h1v1h-1zM54 191h1v1h-1zM333 191h1v1h-1zM53 192h1v1h-1zM321 192h1v1h-1zM336 192h1v1h-1zM52 193h1v1h-1zM326 193h1v1h-1zM51 194h1v1h-1zM333 194h4v1h-4zM50 195h1v1h-1zM49 196h1v1h-1zM48 197h1v1h-1zM47 198h1v1h-1zM46 199h1v1h-1zM45 200h1v1h-1zM245 200h1v1h-1zM249 200h1v1h-1zM44 201h1v1h-1zM255 201h1v1h-1zM43 202h1v1h-1zM233 202h1v1h-1zM262 202h2v1h-2zM42 203h1v1h-1zM229 203h1v1h-1zM274 203h1v1h-1zM41 204h1v1h-1zM225 204h1v1h-1zM244 204h2v1h-2zM249 204h2v1h-2zM279 204h1v1h-1zM40 205h1v1h-1zM221 205h2v1h-2zM231 205h3v1h-3zM256 205h1v1h-1zM282 205h1v1h-1zM39 206h1v1h-1zM269 206h2v1h-2zM286 206h1v1h-1zM38 207h1v1h-1zM285 207h5v1h-5zM37 209h1v1h-1zM36 210h1v1h-1zM35 211h1v1h-1zM34 212h1v1h-1zM33 213h1v1h-1zM32 214h1v1h-1zM31 215h1v1h-1zM30 216h1v1h-1zM29 217h1v1h-1zM28 218h1v1h-1zM225 221h2v1h-2zM213 222h2v1h-2zM262 222h1v1h-1zM24 223h1v1h-1zM208 223h10v1h-10zM267 223h2v1h-2zM23 224h1v1h-1zM251 224h1v1h-1zM273 224h2v1h-2zM22 225h1v1h-1zM21 226h1v1h-1zM20 227h1v1h-1zM19 228h1v1h-1zM12 236h1v1h-1zM11 237h1v1h-1zM235 237h3v1h-3zM10 238h1v1h-1zM211 238h1v1h-1zM9 239h1v1h-1zM210 239h2v1h-2zM264 239h1v1h-1zM8 240h1v1h-1zM236 240h2v1h-2zM268 241h1v1h-1zM247 251h2v1h-2zM251 251h1v1h-1zM255 252h1v1h-1zM242 253h1v1h-1zM254 253h1v1h-1zM179 254h2v1h-2zM195 254h2v1h-2zM167 255h2v1h-2zM200 255h1v1h-1zM168 256h1v1h-1zM194 256h2v1h-2zM303 262h1v2h-1zM2 267h1v1h-1zM259 271h1v1h-1zM262 271h2v1h-2zM256 276h1v1h-1zM265 276h1v1h-1zM16 280h1v1h-1zM17 281h1v1h-1zM18 282h1v1h-1zM19 283h1v1h-1zM20 284h1v1h-1zM25 290h1v1h-1zM26 291h1v1h-1zM27 292h1v1h-1zM28 293h1v1h-1zM29 294h1v1h-1zM30 295h1v1h-1zM31 296h1v1h-1zM33 298h1v1h-1zM34 300h1v1h-1zM35 301h1v1h-1zM37 302h1v3h-1zM38 305h1v1h-1zM43 306h2v1h-2zM44 307h1v1h-1zM40 309h1v1h-1zM42 311h1v1h-1zM105 311h232v2h-232zM56 312h1v1h-1z"/>
<path fill="#26ffd1" d="M172 108h32v1h-32zM170 109h48v1h-48zM167 110h60v1h-60zM165 111h9v1h-9zM175 111h54v1h-54zM163 112h9v1h-9zM204 112h28v1h-28zM160 113h9v1h-9zM217 113h17v1h-17zM158 114h9v1h-9zM227 114h9v1h-9zM156 115h9v1h-9zM229 115h9v1h-9zM154 116h9v1h-9zM230 116h9v1h-9zM152 117h9v1h-9zM232 117h9v1h-9zM151 118h9v1h-9zM233 118h9v1h-9zM149 119h9v1h-9zM235 119h8v1h-8zM148 120h8v1h-8zM236 120h8v1h-8zM147 121h8v1h-8zM237 121h7v1h-7zM145 122h9v1h-9zM238 122h6v1h-6zM144 123h9v1h-9zM239 123h6v1h-6zM143 124h9v1h-9zM240 124h5v2h-5zM142 125h9v1h-9zM141 126h9v1h-9zM295 126h2v1h-2zM141 127h8v1h-8zM290 127h4v1h-4zM298 127h14v1h-14zM241 126h4v3h-4zM140 128h9v1h-9zM286 128h3v1h-3zM311 128h19v1h-19zM282 129h4v1h-4zM321 129h16v1h-16zM242 129h3v2h-3zM278 130h3v1h-3zM335 130h2v1h-2zM158 131h3v1h-3zM236 131h5v1h-5zM275 131h2v1h-2zM139 129h9v4h-9zM153 132h1v1h-1zM239 132h4v1h-4zM271 132h2v1h-2zM147 133h2v1h-2zM246 133h2v1h-2zM264 133h4v1h-4zM143 134h3v1h-3zM252 134h8v1h-8zM139 135h5v1h-5zM137 136h4v1h-4zM136 137h3v1h-3zM134 138h4v1h-4zM133 139h4v1h-4zM131 140h4v1h-4zM130 141h4v1h-4zM129 142h4v1h-4zM127 143h5v1h-5zM126 144h5v1h-5zM125 145h5v1h-5zM124 146h5v1h-5zM122 147h6v1h-6zM121 148h6v1h-6zM121 149h5v1h-5zM120 150h5v1h-5zM119 151h5v1h-5zM118 152h5v1h-5zM117 153h5v1h-5zM275 153h1v1h-1zM277 153h2v1h-2zM116 154h6v1h-6zM266 154h2v1h-2zM286 154h2v1h-2zM116 155h5v1h-5zM259 155h3v1h-3zM292 155h2v1h-2zM115 156h5v1h-5zM254 156h2v1h-2zM296 156h2v1h-2zM114 157h5v1h-5zM249 157h2v1h-2zM300 157h3v1h-3zM113 158h5v1h-5zM245 158h2v1h-2zM274 158h5v1h-5zM308 158h4v1h-4zM112 159h5v1h-5zM241 159h2v1h-2zM268 159h1v1h-1zM284 159h1v1h-1zM318 159h3v1h-3zM111 160h5v1h-5zM239 160h1v1h-1zM263 160h1v1h-1zM288 160h1v1h-1zM325 160h3v1h-3zM109 161h5v1h-5zM237 161h1v1h-1zM257 161h2v1h-2zM292 161h1v1h-1zM332 161h3v1h-3zM108 162h5v1h-5zM251 162h1v1h-1zM295 162h1v1h-1zM336 162h1v1h-1zM107 163h5v1h-5zM234 163h1v1h-1zM246 163h1v1h-1zM297 163h1v1h-1zM106 164h4v1h-4zM232 164h1v1h-1zM240 164h2v1h-2zM300 164h1v1h-1zM105 165h4v1h-4zM230 165h1v1h-1zM235 165h1v1h-1zM307 165h2v1h-2zM104 166h3v1h-3zM228 166h1v1h-1zM318 166h2v1h-2zM103 167h3v1h-3zM325 167h1v1h-1zM102 168h3v1h-3zM330 168h2v1h-2zM100 169h3v1h-3zM99 170h3v1h-3zM98 171h3v1h-3zM96 172h3v1h-3zM93 173h5v1h-5zM91 174h5v1h-5zM89 175h4v1h-4zM87 176h4v1h-4zM83 177h6v1h-6zM80 178h7v1h-7zM76 179h9v1h-9zM73 180h9v1h-9zM243 180h2v1h-2zM247 180h3v1h-3zM71 181h7v1h-7zM237 181h1v1h-1zM290 181h1v1h-1zM69 182h6v1h-6zM232 182h1v1h-1zM296 182h1v1h-1zM67 183h5v1h-5zM228 183h1v1h-1zM303 183h1v1h-1zM65 184h4v1h-4zM225 184h1v1h-1zM308 184h1v1h-1zM63 185h4v1h-4zM239 185h2v1h-2zM278 185h3v1h-3zM313 185h1v1h-1zM62 186h3v1h-3zM220 186h1v1h-1zM231 186h2v1h-2zM293 186h2v1h-2zM317 186h1v1h-1zM60 187h3v1h-3zM217 187h1v1h-1zM224 187h2v1h-2zM300 187h1v1h-1zM321 187h1v1h-1zM59 188h3v1h-3zM305 188h1v1h-1zM325 188h1v1h-1zM58 189h2v1h-2zM309 189h1v1h-1zM328 189h1v1h-1zM57 190h2v1h-2zM313 190h1v1h-1zM331 190h1v1h-1zM55 191h2v1h-2zM317 191h1v1h-1zM334 191h1v1h-1zM54 192h2v1h-2zM53 193h2v1h-2zM325 193h1v1h-1zM52 194h2v1h-2zM331 194h2v1h-2zM51 195h1v1h-1zM50 196h1v1h-1zM49 197h1v1h-1zM48 198h1v1h-1zM47 199h1v1h-1zM46 200h1v1h-1zM244 200h1v1h-1zM250 200h1v1h-1zM45 201h1v1h-1zM238 201h1v1h-1zM256 201h1v1h-1zM44 202h1v1h-1zM232 202h1v1h-1zM264 202h2v1h-2zM43 203h1v1h-1zM228 203h1v1h-1zM275 203h1v1h-1zM42 204h1v1h-1zM224 204h1v1h-1zM246 204h3v1h-3zM280 204h1v1h-1zM41 205h1v1h-1zM220 205h1v1h-1zM234 205h3v1h-3zM255 205h1v1h-1zM283 205h1v1h-1zM40 206h1v1h-1zM266 206h3v1h-3zM287 206h1v1h-1zM39 207h1v1h-1zM280 207h5v1h-5zM290 207h1v1h-1zM38 208h1v1h-1zM36 211h1v1h-1zM35 212h1v1h-1zM34 213h1v1h-1zM33 214h1v1h-1zM32 215h1v1h-1zM31 216h1v1h-1zM30 217h1v1h-1zM29 218h1v1h-1zM28 219h1v1h-1zM27 220h1v1h-1zM243 220h3v1h-3zM26 221h1v1h-1zM222 221h3v1h-3zM253 221h2v1h-2zM25 222h1v1h-1zM210 222h3v1h-3zM263 222h2v1h-2zM206 223h2v1h-2zM269 223h2v1h-2zM275 224h1v1h-1zM278 225h2v1h-2zM18 230h1v1h-1zM17 231h1v1h-1zM16 232h1v1h-1zM15 233h1v1h-1zM14 234h1v1h-1zM13 235h1v1h-1zM214 237h1v1h-1zM238 237h4v1h-4zM256 238h1v1h-1zM208 239h2v1h-2zM265 239h1v1h-1zM234 240h2v1h-2zM268 240h1v1h-1zM7 241h1v1h-1zM255 241h1v1h-1zM269 241h8v1h-8zM6 242h1v1h-1zM3 244h1v1h-1zM0 245h1v1h-1zM246 251h1v1h-1zM252 251h1v1h-1zM256 252h1v1h-1zM241 252h1v2h-1zM255 253h1v1h-1zM178 254h1v1h-1zM197 254h2v1h-2zM166 255h1v1h-1zM201 255h1v1h-1zM167 256h1v1h-1zM196 256h1v1h-1zM302 262h1v2h-1zM307 262h1v2h-1zM4 268h1v1h-1zM257 271h2v1h-2zM10 273h1v1h-1zM11 274h1v1h-1zM260 275h2v1h-2zM260 277h2v1h-2zM21 285h1v1h-1zM22 286h1v1h-1zM23 287h1v1h-1zM24 288h1v1h-1zM25 289h1v1h-1zM26 290h1v1h-1zM27 291h1v1h-1zM28 292h1v1h-1zM32 297h1v1h-1zM34 299h1v1h-1zM35 300h1v1h-1zM36 301h1v1h-1zM38 302h1v3h-1zM39 305h1v1h-1zM45 306h2v1h-2zM45 307h1v1h-1zM42 308h1v1h-1zM40 310h1v1h-1zM136 310h9v1h-9zM43 311h2v1h-2zM103 311h2v1h-2zM57 312h1v1h-1zM102 312h3v1h-3z"/>
<path fill="#33ffc4" d="M174 111h1v1h-1zM172 112h32v1h-32zM169 113h48v1h-48zM167 114h60v1h-60zM165 115h64v1h-64zM163 116h10v1h-10zM194 116h36v1h-36zM161 117h10v1h-10zM203 117h29v1h-29zM160 118h10v1h-10zM215 118h18v1h-18zM158 119h10v1h-10zM226 119h9v1h-9zM156 120h10v1h-10zM227 120h9v1h-9zM155 121h10v1h-10zM229 121h8v1h-8zM154 122h10v1h-10zM230 122h8v1h-8zM153 123h9v1h-9zM231 123h8v1h-8zM152 124h9v1h-9zM231 124h9v1h-9zM151 125h9v1h-9zM232 125h8v1h-8zM150 126h9v1h-9zM149 127h10v1h-10zM294 127h4v1h-4zM233 126h8v3h-8zM149 128h9v1h-9zM289 128h5v1h-5zM298 128h13v1h-13zM286 129h3v1h-3zM309 129h12v1h-12zM234 129h8v2h-8zM281 130h4v1h-4zM317 130h18v1h-18zM148 129h10v3h-10zM161 131h2v1h-2zM219 131h1v1h-1zM232 131h4v1h-4zM277 131h3v1h-3zM331 131h6v1h-6zM154 132h3v1h-3zM234 132h5v1h-5zM273 132h3v1h-3zM149 133h5v1h-5zM243 133h3v1h-3zM268 133h4v1h-4zM146 134h5v1h-5zM247 134h5v1h-5zM260 134h6v1h-6zM144 135h5v1h-5zM141 136h6v1h-6zM139 137h6v1h-6zM138 138h5v1h-5zM137 139h5v1h-5zM135 140h6v1h-6zM134 141h5v1h-5zM133 142h5v1h-5zM132 143h5v1h-5zM131 144h6v1h-6zM130 145h6v1h-6zM129 146h6v1h-6zM128 147h7v1h-7zM127 148h7v1h-7zM126 149h7v1h-7zM125 150h8v1h-8zM124 151h8v1h-8zM123 152h8v1h-8zM122 153h8v1h-8zM270 153h5v1h-5zM276 153h1v1h-1zM279 153h5v1h-5zM122 154h7v1h-7zM263 154h3v1h-3zM288 154h3v1h-3zM121 155h7v1h-7zM257 155h2v1h-2zM294 155h2v1h-2zM120 156h7v1h-7zM252 156h2v1h-2zM298 156h2v1h-2zM119 157h7v1h-7zM247 157h2v1h-2zM303 157h4v1h-4zM118 158h6v1h-6zM242 158h3v1h-3zM312 158h6v1h-6zM117 159h6v1h-6zM240 159h1v1h-1zM269 159h2v1h-2zM282 159h2v1h-2zM321 159h5v1h-5zM116 160h5v1h-5zM238 160h1v1h-1zM264 160h2v1h-2zM287 160h1v1h-1zM328 160h4v1h-4zM114 161h6v1h-6zM236 161h1v1h-1zM259 161h2v1h-2zM291 161h1v1h-1zM335 161h2v1h-2zM113 162h5v1h-5zM235 162h1v1h-1zM252 162h2v1h-2zM294 162h1v1h-1zM112 163h5v1h-5zM233 163h1v1h-1zM247 163h1v1h-1zM110 164h5v1h-5zM231 164h1v1h-1zM242 164h1v1h-1zM299 164h1v1h-1zM109 165h5v1h-5zM236 165h1v1h-1zM305 165h2v1h-2zM107 166h5v1h-5zM227 166h1v1h-1zM229 166h3v1h-3zM316 166h2v1h-2zM106 167h4v1h-4zM323 167h2v1h-2zM105 168h4v1h-4zM329 168h1v1h-1zM103 169h4v1h-4zM335 169h2v1h-2zM102 170h3v1h-3zM101 171h3v1h-3zM99 172h3v1h-3zM98 173h3v1h-3zM96 174h3v1h-3zM93 175h5v1h-5zM91 176h5v1h-5zM89 177h4v1h-4zM87 178h4v1h-4zM85 179h4v1h-4zM82 180h6v1h-6zM241 180h2v1h-2zM250 180h3v1h-3zM266 180h19v1h-19zM78 181h8v1h-8zM235 181h2v1h-2zM291 181h2v1h-2zM75 182h9v1h-9zM231 182h1v1h-1zM297 182h2v1h-2zM72 183h8v1h-8zM227 183h1v1h-1zM304 183h1v1h-1zM69 184h7v1h-7zM224 184h1v1h-1zM309 184h1v1h-1zM67 185h6v1h-6zM222 185h1v1h-1zM241 185h2v1h-2zM252 185h8v1h-8zM276 185h2v1h-2zM314 185h1v1h-1zM65 186h5v1h-5zM219 186h1v1h-1zM233 186h1v1h-1zM290 186h3v1h-3zM318 186h1v1h-1zM63 187h5v1h-5zM216 187h1v1h-1zM226 187h1v1h-1zM299 187h1v1h-1zM322 187h1v1h-1zM62 188h3v1h-3zM215 188h2v1h-2zM304 188h1v1h-1zM326 188h1v1h-1zM60 189h3v1h-3zM308 189h1v1h-1zM329 189h1v1h-1zM59 190h3v1h-3zM312 190h1v1h-1zM332 190h1v1h-1zM57 191h3v1h-3zM316 191h1v1h-1zM335 191h1v1h-1zM56 192h2v1h-2zM320 192h1v1h-1zM55 193h2v1h-2zM324 193h1v1h-1zM54 194h1v1h-1zM330 194h1v1h-1zM52 195h2v1h-2zM51 196h2v1h-2zM50 197h2v1h-2zM49 198h2v1h-2zM48 199h2v1h-2zM47 200h2v1h-2zM243 200h1v1h-1zM251 200h1v1h-1zM46 201h2v1h-2zM237 201h1v1h-1zM257 201h1v1h-1zM45 202h2v1h-2zM231 202h1v1h-1zM266 202h3v1h-3zM44 203h2v1h-2zM227 203h1v1h-1zM276 203h1v1h-1zM43 204h1v1h-1zM223 204h1v1h-1zM281 204h1v1h-1zM42 205h1v1h-1zM219 205h1v1h-1zM237 205h1v1h-1zM254 205h1v1h-1zM284 205h1v1h-1zM41 206h1v1h-1zM216 206h3v1h-3zM263 206h3v1h-3zM288 206h1v1h-1zM40 207h1v1h-1zM278 207h2v1h-2zM291 207h1v1h-1zM39 208h1v1h-1zM38 209h1v1h-1zM37 210h1v1h-1zM34 214h1v1h-1zM33 215h1v1h-1zM32 216h1v1h-1zM31 217h1v1h-1zM30 218h1v1h-1zM29 219h1v1h-1zM28 220h1v1h-1zM242 220h1v1h-1zM246 220h1v1h-1zM27 221h1v1h-1zM219 221h3v1h-3zM255 221h1v1h-1zM26 222h1v1h-1zM208 222h2v1h-2zM265 222h1v1h-1zM25 223h1v1h-1zM205 223h1v1h-1zM271 223h1v1h-1zM24 224h1v1h-1zM250 224h1v1h-1zM276 224h1v1h-1zM23 225h1v1h-1zM272 225h6v1h-6zM280 225h1v1h-1zM22 226h1v1h-1zM21 227h1v1h-1zM20 228h1v1h-1zM19 229h1v1h-1zM213 237h1v1h-1zM242 237h3v1h-3zM210 238h1v1h-1zM257 238h1v1h-1zM205 239h3v1h-3zM266 239h1v1h-1zM232 240h2v1h-2zM269 240h2v1h-2zM254 241h1v1h-1zM277 241h2v1h-2zM280 242h5v1h-5zM5 243h1v1h-1zM288 243h2v1h-2zM1 245h1v1h-1zM245 251h1v1h-1zM253 251h1v1h-1zM240 252h1v1h-1zM256 253h1v1h-1zM335 253h2v1h-2zM176 254h2v1h-2zM199 254h1v1h-1zM165 255h1v1h-1zM166 256h1v1h-1zM197 256h1v1h-1zM301 262h1v2h-1zM7 270h1v1h-1zM8 271h1v1h-1zM256 271h1v1h-1zM264 271h1v1h-1zM9 272h1v1h-1zM12 275h1v1h-1zM259 275h1v1h-1zM262 275h1v1h-1zM13 276h1v1h-1zM255 276h1v1h-1zM266 276h1v1h-1zM14 277h1v1h-1zM259 277h1v1h-1zM262 277h1v1h-1zM15 278h1v1h-1zM16 279h1v1h-1zM17 280h1v1h-1zM18 281h1v1h-1zM19 282h1v1h-1zM20 283h1v1h-1zM21 284h1v1h-1zM22 285h1v1h-1zM29 293h1v1h-1zM30 294h1v1h-1zM31 295h1v1h-1zM32 296h1v1h-1zM33 297h1v1h-1zM34 298h1v1h-1zM35 299h1v1h-1zM36 300h1v1h-1zM37 301h2v1h-2zM39 302h1v2h-1zM40 305h1v1h-1zM47 306h2v1h-2zM43 308h1v1h-1zM41 309h1v2h-1zM132 310h4v1h-4zM145 310h192v1h-192zM45 311h1v1h-1zM101 311h2v1h-2zM58 312h2v1h-2zM101 312h1v1h-1z"/>
<path fill="#40ffb7" d="M173 116h21v1h-21zM171 117h32v1h-32zM170 118h45v1h-45zM168 119h58v1h-58zM166 120h61v1h-61zM165 121h64v1h-64zM164 122h66v1h-66zM162 123h11v1h-11zM193 123h38v1h-38zM161 124h11v1h-11zM197 124h34v1h-34zM160 125h11v1h-11zM201 125h31v1h-31zM159 126h12v1h-12zM204 126h29v1h-29zM159 127h11v1h-11zM206 127h27v1h-27zM158 128h12v1h-12zM208 128h25v1h-25zM294 128h4v1h-4zM158 129h11v1h-11zM215 129h19v1h-19zM289 129h20v1h-20zM158 130h55v1h-55zM226 130h8v1h-8zM285 130h4v1h-4zM306 130h11v1h-11zM163 131h4v1h-4zM216 131h3v1h-3zM220 131h4v1h-4zM226 131h6v1h-6zM280 131h4v1h-4zM314 131h17v1h-17zM157 132h7v1h-7zM228 132h6v1h-6zM276 132h3v1h-3zM323 132h14v1h-14zM154 133h6v1h-6zM237 133h6v1h-6zM272 133h3v1h-3zM332 133h5v1h-5zM151 134h7v1h-7zM244 134h3v1h-3zM266 134h4v1h-4zM149 135h6v1h-6zM249 135h14v1h-14zM147 136h6v1h-6zM145 137h6v1h-6zM143 138h7v1h-7zM142 139h7v1h-7zM141 140h6v1h-6zM139 141h7v1h-7zM138 142h7v1h-7zM137 143h8v1h-8zM137 144h7v1h-7zM136 145h7v1h-7zM135 146h8v1h-8zM135 147h7v1h-7zM134 148h8v1h-8zM133 149h8v2h-8zM132 151h8v1h-8zM131 152h9v1h-9zM130 153h9v1h-9zM267 153h3v1h-3zM284 153h3v1h-3zM129 154h9v1h-9zM260 154h3v1h-3zM291 154h3v1h-3zM128 155h9v1h-9zM254 155h3v1h-3zM296 155h2v1h-2zM127 156h9v1h-9zM249 156h3v1h-3zM300 156h4v1h-4zM126 157h9v1h-9zM244 157h3v1h-3zM307 157h7v1h-7zM124 158h9v1h-9zM240 158h2v1h-2zM318 158h5v1h-5zM123 159h9v1h-9zM238 159h2v1h-2zM271 159h3v1h-3zM279 159h3v1h-3zM326 159h4v1h-4zM121 160h9v1h-9zM237 160h1v1h-1zM266 160h1v1h-1zM285 160h2v1h-2zM332 160h4v1h-4zM120 161h8v1h-8zM235 161h1v1h-1zM261 161h1v1h-1zM290 161h1v1h-1zM118 162h7v1h-7zM233 162h2v1h-2zM254 162h2v1h-2zM117 163h6v1h-6zM232 163h1v1h-1zM248 163h2v1h-2zM296 163h1v1h-1zM115 164h6v1h-6zM230 164h1v1h-1zM243 164h1v1h-1zM114 165h5v1h-5zM228 165h2v1h-2zM237 165h2v1h-2zM303 165h2v1h-2zM112 166h5v1h-5zM232 166h1v1h-1zM313 166h3v1h-3zM110 167h5v1h-5zM321 167h2v1h-2zM109 168h4v1h-4zM327 168h2v1h-2zM107 169h4v1h-4zM333 169h2v1h-2zM105 170h4v1h-4zM104 171h3v1h-3zM102 172h3v1h-3zM101 173h3v1h-3zM99 174h3v1h-3zM98 175h3v1h-3zM96 176h3v1h-3zM93 177h5v1h-5zM91 178h5v1h-5zM89 179h5v1h-5zM88 180h4v1h-4zM239 180h2v1h-2zM253 180h4v1h-4zM261 180h5v1h-5zM285 180h3v1h-3zM86 181h5v1h-5zM234 181h1v1h-1zM293 181h2v1h-2zM84 182h4v1h-4zM229 182h2v1h-2zM299 182h2v1h-2zM80 183h6v1h-6zM226 183h1v1h-1zM305 183h2v1h-2zM76 184h8v1h-8zM223 184h1v1h-1zM310 184h2v1h-2zM73 185h8v1h-8zM220 185h2v1h-2zM243 185h9v1h-9zM260 185h4v1h-4zM272 185h4v1h-4zM315 185h1v1h-1zM70 186h7v1h-7zM218 186h1v1h-1zM234 186h1v1h-1zM287 186h3v1h-3zM319 186h1v1h-1zM68 187h6v1h-6zM214 187h2v1h-2zM227 187h1v1h-1zM298 187h1v1h-1zM323 187h1v1h-1zM65 188h6v1h-6zM211 188h4v1h-4zM217 188h4v1h-4zM303 188h1v1h-1zM327 188h1v1h-1zM63 189h5v1h-5zM307 189h1v1h-1zM330 189h1v1h-1zM62 190h4v1h-4zM333 190h1v1h-1zM60 191h3v1h-3zM315 191h1v1h-1zM336 191h1v1h-1zM58 192h3v1h-3zM319 192h1v1h-1zM57 193h3v1h-3zM323 193h1v1h-1zM55 194h3v1h-3zM328 194h2v1h-2zM54 195h2v1h-2zM53 196h2v1h-2zM52 197h1v1h-1zM51 198h1v1h-1zM50 199h1v1h-1zM49 200h1v1h-1zM241 200h2v1h-2zM252 200h1v1h-1zM48 201h1v1h-1zM235 201h2v1h-2zM258 201h1v1h-1zM47 202h1v1h-1zM230 202h1v1h-1zM269 202h2v1h-2zM46 203h1v1h-1zM226 203h1v1h-1zM277 203h1v1h-1zM44 204h2v1h-2zM222 204h1v1h-1zM282 204h1v1h-1zM43 205h2v1h-2zM218 205h1v1h-1zM238 205h2v1h-2zM253 205h1v1h-1zM285 205h2v1h-2zM42 206h2v1h-2zM214 206h2v1h-2zM219 206h9v1h-9zM261 206h2v1h-2zM289 206h1v1h-1zM41 207h2v1h-2zM277 207h1v1h-1zM292 207h1v1h-1zM40 208h2v1h-2zM292 208h4v1h-4zM39 209h2v1h-2zM38 210h2v1h-2zM37 211h1v1h-1zM36 212h1v1h-1zM35 213h1v1h-1zM240 220h2v1h-2zM247 220h1v1h-1zM217 221h2v1h-2zM256 221h2v1h-2zM207 222h1v1h-1zM266 222h1v1h-1zM204 223h1v1h-1zM272 223h1v1h-1zM201 224h2v1h-2zM277 224h1v1h-1zM267 225h5v1h-5zM281 225h1v1h-1zM283 226h3v1h-3zM20 229h1v1h-1zM19 230h1v1h-1zM18 231h1v1h-1zM17 232h1v1h-1zM16 233h1v1h-1zM15 234h1v1h-1zM14 235h1v1h-1zM13 236h1v1h-1zM12 237h1v1h-1zM245 237h3v1h-3zM11 238h1v1h-1zM209 238h1v1h-1zM258 238h2v1h-2zM10 239h1v1h-1zM203 239h2v1h-2zM231 240h1v1h-1zM271 240h2v1h-2zM279 241h1v1h-1zM277 242h3v1h-3zM285 242h1v1h-1zM286 243h2v1h-2zM290 243h1v1h-1zM243 251h2v1h-2zM335 252h2v1h-2zM257 252h1v2h-1zM240 253h1v1h-1zM173 254h3v1h-3zM200 254h1v1h-1zM165 256h1v1h-1zM198 256h2v1h-2zM300 262h1v2h-1zM308 262h1v2h-1zM0 266h1v1h-1zM3 267h1v1h-1zM6 269h1v1h-1zM255 271h1v1h-1zM258 275h1v1h-1zM254 276h1v1h-1zM258 277h1v1h-1zM263 277h1v1h-1zM23 286h1v1h-1zM24 287h1v1h-1zM25 288h1v1h-1zM26 289h1v1h-1zM27 290h1v1h-1zM28 291h1v1h-1zM29 292h1v1h-1zM30 293h1v1h-1zM31 294h1v1h-1zM32 295h1v1h-1zM33 296h1v1h-1zM34 297h1v1h-1zM35 298h1v1h-1zM36 299h1v1h-1zM37 300h1v1h-1zM39 301h1v1h-1zM40 302h1v1h-1zM39 304h1v1h-1zM41 305h2v1h-2zM49 306h1v1h-1zM46 307h1v1h-1zM44 308h1v1h-1zM42 309h1v2h-1zM129 310h3v1h-3zM46 311h1v1h-1zM100 311h1v1h-1zM60 312h1v1h-1zM99 312h2v1h-2z"/>
<path fill="#4dffaa" d="M173 123h20v1h-20zM172 124h25v1h-25zM171 125h30v1h-30zM171 126h33v1h-33zM170 127h36v1h-36zM170 128h38v1h-38zM169 129h46v1h-46zM213 130h13v1h-13zM289 130h17v1h-17zM167 131h49v1h-49zM224 131h2v1h-2zM284 131h6v1h-6zM302 131h12v1h-12zM164 132h7v1h-7zM217 132h11v1h-11zM279 132h6v1h-6zM310 132h13v1h-13zM160 133h7v1h-7zM229 133h8v1h-8zM275 133h4v1h-4zM316 133h16v1h-16zM158 134h7v1h-7zM238 134h6v1h-6zM270 134h4v1h-4zM325 134h12v1h-12zM155 135h7v1h-7zM245 135h4v1h-4zM263 135h6v1h-6zM332 135h5v1h-5zM153 136h7v1h-7zM250 136h11v1h-11zM336 136h1v1h-1zM151 137h8v1h-8zM150 138h7v1h-7zM149 139h7v1h-7zM147 140h8v1h-8zM146 141h8v1h-8zM145 142h8v1h-8zM145 143h7v1h-7zM144 144h8v1h-8zM143 145h8v2h-8zM142 147h8v2h-8zM141 149h8v2h-8zM140 151h8v1h-8zM140 152h7v1h-7zM271 152h13v1h-13zM139 153h8v1h-8zM264 153h3v1h-3zM287 153h4v1h-4zM138 154h8v1h-8zM257 154h3v1h-3zM294 154h3v1h-3zM137 155h8v1h-8zM251 155h3v1h-3zM298 155h4v1h-4zM136 156h8v1h-8zM246 156h3v1h-3zM304 156h6v1h-6zM135 157h8v1h-8zM241 157h3v1h-3zM314 157h6v1h-6zM133 158h9v1h-9zM239 158h1v1h-1zM323 158h5v1h-5zM132 159h9v1h-9zM237 159h1v1h-1zM274 159h5v1h-5zM330 159h5v1h-5zM130 160h9v1h-9zM235 160h2v1h-2zM267 160h3v1h-3zM283 160h2v1h-2zM336 160h1v1h-1zM128 161h9v1h-9zM233 161h2v1h-2zM262 161h2v1h-2zM288 161h2v1h-2zM125 162h10v1h-10zM232 162h1v1h-1zM256 162h2v1h-2zM293 162h1v1h-1zM123 163h9v1h-9zM230 163h2v1h-2zM250 163h1v1h-1zM295 163h1v1h-1zM121 164h8v1h-8zM229 164h1v1h-1zM244 164h1v1h-1zM298 164h1v1h-1zM119 165h7v1h-7zM227 165h1v1h-1zM239 165h1v1h-1zM301 165h2v1h-2zM117 166h6v1h-6zM225 166h2v1h-2zM233 166h2v1h-2zM309 166h4v1h-4zM115 167h6v1h-6zM319 167h2v1h-2zM113 168h5v1h-5zM325 168h2v1h-2zM111 169h5v1h-5zM331 169h2v1h-2zM109 170h5v1h-5zM107 171h5v1h-5zM105 172h5v1h-5zM104 173h4v1h-4zM102 174h4v1h-4zM101 175h3v1h-3zM99 176h3v1h-3zM98 177h3v1h-3zM96 178h3v1h-3zM94 179h4v1h-4zM92 180h4v1h-4zM238 180h1v1h-1zM257 180h4v1h-4zM288 180h2v1h-2zM91 181h3v1h-3zM232 181h2v1h-2zM295 181h1v1h-1zM88 182h4v1h-4zM228 182h1v1h-1zM301 182h2v1h-2zM86 183h4v1h-4zM225 183h1v1h-1zM307 183h1v1h-1zM84 184h4v1h-4zM222 184h1v1h-1zM312 184h1v1h-1zM81 185h5v1h-5zM219 185h1v1h-1zM264 185h8v1h-8zM316 185h1v1h-1zM77 186h7v1h-7zM216 186h2v1h-2zM235 186h2v1h-2zM284 186h3v1h-3zM320 186h2v1h-2zM74 187h8v1h-8zM213 187h1v1h-1zM228 187h1v1h-1zM296 187h2v1h-2zM324 187h1v1h-1zM71 188h7v1h-7zM209 188h2v1h-2zM221 188h1v1h-1zM302 188h1v1h-1zM328 188h1v1h-1zM68 189h7v1h-7zM306 189h1v1h-1zM331 189h1v1h-1zM66 190h6v1h-6zM310 190h2v1h-2zM334 190h1v1h-1zM63 191h5v1h-5zM61 192h5v1h-5zM318 192h1v1h-1zM60 193h3v1h-3zM322 193h1v1h-1zM58 194h3v1h-3zM327 194h1v1h-1zM56 195h3v1h-3zM334 195h3v1h-3zM55 196h2v1h-2zM53 197h3v1h-3zM52 198h2v1h-2zM51 199h2v1h-2zM50 200h1v1h-1zM240 200h1v1h-1zM253 200h1v1h-1zM49 201h1v1h-1zM234 201h1v1h-1zM259 201h1v1h-1zM48 202h1v1h-1zM229 202h1v1h-1zM271 202h3v1h-3zM47 203h1v1h-1zM224 203h2v1h-2zM278 203h2v1h-2zM46 204h1v1h-1zM221 204h1v1h-1zM283 204h1v1h-1zM45 205h1v1h-1zM217 205h1v1h-1zM240 205h2v1h-2zM252 205h1v1h-1zM287 205h1v1h-1zM44 206h1v1h-1zM213 206h1v1h-1zM228 206h2v1h-2zM259 206h2v1h-2zM290 206h1v1h-1zM43 207h1v1h-1zM274 207h3v1h-3zM293 207h1v1h-1zM42 208h1v1h-1zM287 208h5v1h-5zM296 208h1v1h-1zM41 209h1v1h-1zM300 209h1v1h-1zM40 210h1v1h-1zM38 211h2v1h-2zM37 212h2v1h-2zM36 213h1v1h-1zM35 214h1v1h-1zM34 215h1v1h-1zM33 216h1v1h-1zM32 217h1v1h-1zM31 218h1v1h-1zM30 219h1v1h-1zM29 220h1v1h-1zM239 220h1v1h-1zM248 220h1v1h-1zM28 221h1v1h-1zM216 221h1v1h-1zM258 221h2v1h-2zM27 222h1v1h-1zM267 222h1v1h-1zM26 223h1v1h-1zM203 223h1v1h-1zM273 223h2v1h-2zM25 224h1v1h-1zM203 224h2v1h-2zM230 224h6v1h-6zM249 224h1v1h-1zM278 224h1v1h-1zM24 225h1v1h-1zM264 225h3v1h-3zM282 225h1v2h-1zM23 226h1v1h-1zM22 227h1v1h-1zM21 228h1v1h-1zM219 236h5v1h-5zM212 237h1v1h-1zM248 237h1v1h-1zM208 238h1v1h-1zM260 238h1v1h-1zM201 239h2v1h-2zM267 239h1v1h-1zM9 240h1v1h-1zM230 240h1v1h-1zM273 240h1v1h-1zM8 241h1v1h-1zM253 241h1v1h-1zM280 241h2v1h-2zM275 242h2v1h-2zM286 242h1v1h-1zM285 243h1v1h-1zM291 243h1v1h-1zM4 244h1v1h-1zM293 244h2v1h-2zM2 245h1v1h-1zM254 251h1v1h-1zM239 252h1v2h-1zM258 252h1v2h-1zM334 253h1v1h-1zM171 254h2v1h-2zM202 255h1v1h-1zM200 256h1v1h-1zM299 262h1v1h-1zM305 264h2v1h-2zM1 266h1v1h-1zM5 268h1v1h-1zM253 271h2v1h-2zM267 272h1v1h-1zM11 273h1v1h-1zM12 274h1v1h-1zM13 275h1v1h-1zM257 275h1v1h-1zM263 275h1v1h-1zM14 276h1v1h-1zM267 276h1v1h-1zM15 277h1v1h-1zM16 278h1v1h-1zM17 279h1v1h-1zM18 280h1v1h-1zM19 281h1v1h-1zM20 282h1v1h-1zM21 283h1v1h-1zM22 284h1v1h-1zM23 285h1v1h-1zM24 286h1v1h-1zM25 287h1v1h-1zM26 288h1v1h-1zM27 289h1v1h-1zM28 290h1v1h-1zM29 291h1v1h-1zM30 292h1v1h-1zM31 293h1v1h-1zM32 294h1v1h-1zM33 295h1v1h-1zM34 296h1v1h-1zM35 297h1v1h-1zM36 298h1v1h-1zM37 299h1v1h-1zM38 300h1v1h-1zM40 301h2v1h-2zM41 302h1v1h-1zM40 303h1v2h-1zM43 305h4v1h-4zM50 306h1v1h-1zM47 307h1v1h-1zM43 309h1v2h-1zM126 310h3v1h-3zM47 311h2v1h-2zM99 311h1v1h-1zM61 312h1v1h-1zM98 312h1v1h-1z"/>
<path fill="#5aff9d" d="M290 131h12v1h-12zM171 132h46v1h-46zM285 132h9v1h-9zM296 132h14v1h-14zM167 133h35v1h-35zM213 133h16v1h-16zM279 133h7v1h-7zM304 133h12v1h-12zM165 134h7v1h-7zM228 134h10v1h-10zM274 134h5v1h-5zM310 134h15v1h-15zM162 135h8v1h-8zM238 135h7v1h-7zM269 135h5v1h-5zM316 135h16v1h-16zM160 136h8v1h-8zM245 136h5v1h-5zM261 136h8v1h-8zM323 136h13v1h-13zM159 137h7v1h-7zM251 137h9v1h-9zM330 137h7v1h-7zM157 138h8v1h-8zM333 138h4v1h-4zM156 139h8v1h-8zM336 139h1v1h-1zM155 140h8v1h-8zM154 141h8v1h-8zM153 142h8v1h-8zM152 143h8v2h-8zM151 145h8v2h-8zM150 147h8v2h-8zM149 149h8v1h-8zM149 150h7v1h-7zM148 151h8v1h-8zM147 152h8v1h-8zM267 152h4v1h-4zM284 152h5v1h-5zM147 153h7v1h-7zM260 153h4v1h-4zM291 153h4v1h-4zM146 154h7v1h-7zM253 154h4v1h-4zM297 154h3v1h-3zM145 155h7v1h-7zM247 155h4v1h-4zM302 155h6v1h-6zM144 156h7v1h-7zM242 156h4v1h-4zM310 156h9v1h-9zM143 157h7v1h-7zM239 157h2v1h-2zM320 157h8v1h-8zM142 158h7v1h-7zM237 158h2v1h-2zM328 158h8v1h-8zM141 159h6v1h-6zM235 159h2v1h-2zM335 159h2v1h-2zM139 160h7v1h-7zM233 160h2v1h-2zM270 160h3v1h-3zM280 160h3v1h-3zM137 161h8v1h-8zM232 161h1v1h-1zM264 161h2v1h-2zM286 161h2v1h-2zM135 162h8v1h-8zM230 162h2v1h-2zM258 162h2v1h-2zM291 162h2v1h-2zM132 163h9v1h-9zM228 163h2v1h-2zM251 163h2v1h-2zM129 164h11v1h-11zM227 164h2v1h-2zM245 164h2v1h-2zM297 164h1v1h-1zM126 165h11v1h-11zM225 165h2v1h-2zM240 165h1v1h-1zM300 165h1v1h-1zM220 165h1v2h-1zM123 166h10v1h-10zM222 166h3v1h-3zM235 166h1v1h-1zM306 166h3v1h-3zM121 167h9v1h-9zM220 167h10v1h-10zM316 167h3v1h-3zM118 168h8v1h-8zM323 168h2v1h-2zM116 169h7v1h-7zM329 169h2v1h-2zM114 170h6v1h-6zM335 170h2v1h-2zM112 171h6v1h-6zM110 172h6v1h-6zM108 173h5v1h-5zM106 174h5v1h-5zM104 175h5v1h-5zM102 176h5v1h-5zM101 177h4v1h-4zM99 178h4v1h-4zM98 179h4v1h-4zM242 179h10v1h-10zM268 179h15v1h-15zM96 180h4v1h-4zM236 180h2v1h-2zM290 180h2v1h-2zM94 181h4v1h-4zM231 181h1v1h-1zM296 181h3v1h-3zM92 182h2v1h-2zM95 182h1v1h-1zM227 182h1v1h-1zM303 182h2v1h-2zM90 183h3v1h-3zM224 183h1v1h-1zM308 183h2v1h-2zM88 184h3v1h-3zM221 184h1v1h-1zM313 184h2v1h-2zM86 185h4v1h-4zM218 185h1v1h-1zM317 185h2v1h-2zM84 186h4v1h-4zM215 186h1v1h-1zM237 186h1v1h-1zM280 186h4v1h-4zM322 186h1v1h-1zM82 187h4v1h-4zM211 187h2v1h-2zM229 187h2v1h-2zM293 187h3v1h-3zM325 187h2v1h-2zM78 188h6v1h-6zM206 188h1v1h-1zM208 188h1v1h-1zM222 188h2v1h-2zM300 188h2v1h-2zM329 188h1v1h-1zM75 189h6v1h-6zM305 189h1v1h-1zM332 189h1v1h-1zM72 190h7v1h-7zM309 190h1v1h-1zM335 190h2v1h-2zM68 191h7v1h-7zM314 191h1v1h-1zM66 192h6v1h-6zM317 192h1v1h-1zM63 193h6v1h-6zM321 193h1v1h-1zM61 194h5v1h-5zM326 194h1v1h-1zM59 195h4v1h-4zM332 195h2v1h-2zM57 196h4v1h-4zM56 197h3v1h-3zM54 198h3v1h-3zM53 199h2v1h-2zM51 200h2v1h-2zM239 200h1v1h-1zM254 200h1v1h-1zM50 201h2v1h-2zM232 201h2v1h-2zM260 201h3v1h-3zM49 202h2v1h-2zM227 202h2v1h-2zM274 202h2v1h-2zM48 203h2v1h-2zM223 203h1v1h-1zM280 203h1v1h-1zM47 204h2v1h-2zM219 204h2v1h-2zM284 204h1v1h-1zM46 205h1v1h-1zM216 205h1v1h-1zM242 205h2v1h-2zM250 205h2v1h-2zM288 205h1v1h-1zM45 206h1v1h-1zM212 206h1v1h-1zM230 206h3v1h-3zM257 206h2v1h-2zM291 206h1v1h-1zM44 207h1v1h-1zM208 207h3v1h-3zM272 207h2v1h-2zM294 207h1v1h-1zM43 208h1v1h-1zM283 208h4v1h-4zM297 208h2v1h-2zM42 209h1v1h-1zM299 209h1v1h-1zM301 209h2v1h-2zM41 210h1v1h-1zM305 210h3v1h-3zM40 211h1v1h-1zM309 211h1v1h-1zM39 212h1v1h-1zM37 213h2v1h-2zM36 214h1v1h-1zM35 215h1v1h-1zM34 216h1v1h-1zM33 217h1v1h-1zM32 218h1v1h-1zM31 219h1v1h-1zM30 220h1v1h-1zM237 220h2v1h-2zM249 220h1v1h-1zM29 221h1v1h-1zM214 221h2v1h-2zM260 221h2v1h-2zM28 222h1v1h-1zM206 222h1v1h-1zM268 222h2v1h-2zM27 223h1v1h-1zM275 223h1v1h-1zM26 224h1v1h-1zM200 224h1v1h-1zM205 224h5v1h-5zM220 224h1v1h-1zM226 224h4v1h-4zM236 224h2v1h-2zM279 224h1v1h-1zM25 225h1v1h-1zM198 225h2v1h-2zM261 225h3v1h-3zM283 225h1v1h-1zM24 226h1v1h-1zM280 226h2v1h-2zM286 226h2v1h-2zM23 227h1v1h-1zM289 227h3v1h-3zM22 228h1v1h-1zM21 229h1v1h-1zM20 230h1v1h-1zM19 231h1v1h-1zM18 232h1v1h-1zM17 233h1v1h-1zM218 236h1v1h-1zM224 236h2v1h-2zM249 237h2v1h-2zM207 238h1v1h-1zM261 238h1v1h-1zM200 239h1v1h-1zM228 240h2v1h-2zM274 240h2v1h-2zM252 241h1v1h-1zM282 241h1v1h-1zM7 242h1v1h-1zM274 242h1v1h-1zM287 242h1v1h-1zM6 243h1v1h-1zM284 243h1v1h-1zM292 243h1v2h-1zM295 244h1v1h-1zM334 252h1v1h-1zM259 253h1v1h-1zM170 254h1v1h-1zM201 254h1v1h-1zM250 254h1v1h-1zM298 261h10v1h-10zM309 262h1v2h-1zM299 263h1v1h-1zM304 264h1v1h-1zM4 267h1v1h-1zM8 270h1v1h-1zM260 270h1v1h-1zM9 271h1v1h-1zM252 271h1v1h-1zM265 271h1v1h-1zM10 272h1v1h-1zM265 272h2v1h-2zM268 272h1v1h-1zM264 275h1v1h-1zM253 276h1v1h-1zM268 276h1v1h-1zM257 277h1v1h-1zM264 277h1v1h-1zM27 288h1v1h-1zM28 289h1v1h-1zM29 290h1v1h-1zM30 291h1v1h-1zM31 292h1v1h-1zM32 293h1v1h-1zM33 294h1v1h-1zM34 295h1v1h-1zM35 296h1v1h-1zM36 297h1v1h-1zM37 298h1v1h-1zM38 299h1v1h-1zM39 300h2v1h-2zM42 301h1v1h-1zM41 303h1v1h-1zM41 304h2v1h-2zM47 305h6v1h-6zM51 306h1v1h-1zM48 307h1v1h-1zM45 308h1v1h-1zM44 309h1v2h-1zM123 310h3v1h-3zM49 311h2v1h-2zM98 311h1v1h-1zM62 312h2v1h-2zM97 312h1v1h-1z"/>
<path fill="#66ff90" d="M294 132h2v1h-2zM202 133h11v1h-11zM286 133h18v1h-18zM172 134h56v1h-56zM279 134h12v1h-12zM296 134h14v1h-14zM170 135h37v1h-37zM218 135h20v1h-20zM274 135h7v1h-7zM303 135h13v1h-13zM168 136h27v1h-27zM234 136h11v1h-11zM269 136h6v1h-6zM309 136h14v1h-14zM166 137h15v1h-15zM245 137h6v1h-6zM260 137h10v1h-10zM314 137h16v1h-16zM165 138h8v1h-8zM250 138h11v1h-11zM319 138h14v1h-14zM164 139h8v1h-8zM324 139h12v1h-12zM163 140h8v1h-8zM330 140h7v1h-7zM162 141h8v1h-8zM332 141h5v1h-5zM161 142h8v1h-8zM334 142h3v1h-3zM160 143h9v1h-9zM336 143h1v1h-1zM160 144h8v1h-8zM159 145h8v2h-8zM158 147h8v1h-8zM158 148h7v1h-7zM157 149h8v1h-8zM156 150h8v1h-8zM156 151h7v1h-7zM270 151h16v1h-16zM155 152h7v1h-7zM262 152h5v1h-5zM289 152h5v1h-5zM154 153h7v1h-7zM254 153h6v1h-6zM295 153h5v1h-5zM153 154h7v1h-7zM248 154h5v1h-5zM300 154h8v1h-8zM152 155h7v1h-7zM242 155h5v1h-5zM308 155h12v1h-12zM151 156h7v1h-7zM239 156h3v1h-3zM319 156h10v1h-10zM150 157h6v1h-6zM236 157h3v1h-3zM328 157h9v1h-9zM149 158h6v1h-6zM234 158h3v1h-3zM336 158h1v1h-1zM147 159h7v1h-7zM233 159h2v1h-2zM146 160h6v1h-6zM231 160h2v1h-2zM273 160h7v1h-7zM145 161h6v1h-6zM220 161h1v1h-1zM229 161h3v1h-3zM266 161h3v1h-3zM284 161h2v1h-2zM143 162h6v1h-6zM219 162h2v1h-2zM227 162h3v1h-3zM260 162h3v1h-3zM289 162h2v1h-2zM141 163h7v1h-7zM225 163h3v1h-3zM253 163h3v1h-3zM293 163h2v1h-2zM218 163h3v2h-3zM140 164h6v1h-6zM223 164h4v1h-4zM247 164h2v1h-2zM296 164h1v1h-1zM137 165h7v1h-7zM221 165h4v1h-4zM241 165h2v1h-2zM299 165h1v1h-1zM133 166h9v1h-9zM221 166h1v1h-1zM236 166h2v1h-2zM304 166h2v1h-2zM217 165h3v3h-3zM130 167h10v1h-10zM230 167h2v1h-2zM313 167h3v1h-3zM126 168h12v1h-12zM321 168h2v1h-2zM123 169h11v1h-11zM327 169h2v1h-2zM120 170h10v1h-10zM332 170h3v1h-3zM118 171h8v1h-8zM116 172h7v1h-7zM113 173h7v1h-7zM111 174h7v1h-7zM109 175h6v1h-6zM107 176h6v1h-6zM105 177h5v1h-5zM103 178h5v1h-5zM102 179h4v1h-4zM240 179h2v1h-2zM252 179h16v1h-16zM283 179h4v1h-4zM100 180h4v1h-4zM234 180h2v1h-2zM292 180h3v1h-3zM98 181h4v1h-4zM229 181h2v1h-2zM299 181h2v1h-2zM94 182h1v1h-1zM96 182h4v1h-4zM225 182h2v1h-2zM305 182h2v1h-2zM93 183h5v1h-5zM222 183h2v1h-2zM310 183h2v1h-2zM91 184h3v1h-3zM95 184h2v1h-2zM219 184h2v1h-2zM315 184h1v1h-1zM90 185h3v1h-3zM216 185h2v1h-2zM319 185h2v1h-2zM88 186h4v1h-4zM213 186h2v1h-2zM238 186h2v1h-2zM276 186h4v1h-4zM323 186h2v1h-2zM86 187h4v1h-4zM205 187h2v1h-2zM209 187h2v1h-2zM231 187h1v1h-1zM290 187h3v1h-3zM327 187h1v1h-1zM84 188h5v1h-5zM204 188h2v1h-2zM207 188h1v1h-1zM224 188h1v1h-1zM299 188h1v1h-1zM330 188h1v1h-1zM81 189h6v1h-6zM205 189h2v1h-2zM304 189h1v1h-1zM333 189h2v1h-2zM79 190h5v1h-5zM308 190h1v1h-1zM75 191h6v1h-6zM312 191h2v1h-2zM72 192h6v1h-6zM316 192h1v1h-1zM69 193h6v1h-6zM320 193h1v1h-1zM66 194h6v1h-6zM324 194h2v1h-2zM63 195h6v1h-6zM330 195h2v1h-2zM61 196h5v1h-5zM59 197h4v1h-4zM57 198h4v1h-4zM55 199h3v1h-3zM244 199h6v1h-6zM53 200h3v1h-3zM237 200h2v1h-2zM255 200h1v1h-1zM52 201h2v1h-2zM231 201h1v1h-1zM263 201h4v1h-4zM51 202h2v1h-2zM226 202h1v1h-1zM276 202h2v1h-2zM50 203h1v1h-1zM222 203h1v1h-1zM281 203h2v1h-2zM49 204h1v1h-1zM218 204h1v1h-1zM285 204h1v1h-1zM47 205h2v1h-2zM214 205h2v1h-2zM244 205h6v1h-6zM289 205h1v1h-1zM46 206h2v1h-2zM207 206h2v1h-2zM211 206h1v1h-1zM233 206h3v1h-3zM256 206h1v1h-1zM292 206h1v1h-1zM45 207h2v1h-2zM206 207h2v1h-2zM211 207h7v1h-7zM269 207h3v1h-3zM295 207h1v1h-1zM44 208h1v1h-1zM281 208h2v1h-2zM299 208h1v1h-1zM43 209h1v1h-1zM297 209h2v1h-2zM303 209h1v1h-1zM306 209h2v1h-2zM42 210h1v1h-1zM303 210h2v1h-2zM308 210h3v1h-3zM41 211h1v1h-1zM307 211h2v1h-2zM310 211h4v1h-4zM40 212h1v1h-1zM313 212h5v1h-5zM39 213h1v1h-1zM37 214h2v1h-2zM36 215h2v1h-2zM35 216h1v1h-1zM34 217h1v1h-1zM33 218h1v1h-1zM32 219h1v1h-1zM31 220h1v1h-1zM235 220h2v1h-2zM250 220h1v1h-1zM30 221h1v1h-1zM212 221h2v1h-2zM262 221h2v1h-2zM29 222h1v1h-1zM205 222h1v1h-1zM270 222h1v1h-1zM28 223h1v1h-1zM202 223h1v1h-1zM276 223h1v1h-1zM27 224h1v1h-1zM210 224h10v1h-10zM221 224h5v1h-5zM238 224h2v1h-2zM248 224h1v1h-1zM280 224h1v1h-1zM26 225h1v1h-1zM197 225h1v1h-1zM200 225h1v1h-1zM259 225h2v1h-2zM284 225h1v1h-1zM25 226h1v1h-1zM195 226h2v1h-2zM279 226h1v1h-1zM288 226h1v1h-1zM287 227h2v1h-2zM292 227h3v1h-3zM293 228h5v1h-5zM16 234h1v1h-1zM15 235h1v1h-1zM14 236h1v1h-1zM217 236h1v1h-1zM226 236h2v1h-2zM13 237h1v1h-1zM211 237h1v1h-1zM251 237h1v1h-1zM12 238h1v1h-1zM206 238h1v1h-1zM262 238h1v1h-1zM11 239h1v1h-1zM197 239h3v1h-3zM268 239h1v1h-1zM211 240h3v1h-3zM227 240h1v1h-1zM276 240h1v1h-1zM251 241h1v1h-1zM283 241h1v1h-1zM265 242h2v1h-2zM272 242h2v1h-2zM288 242h1v1h-1zM283 243h1v1h-1zM290 244h2v1h-2zM296 244h2v1h-2zM3 245h1v1h-1zM298 245h3v1h-3zM0 246h1v1h-1zM242 251h1v1h-1zM259 252h1v1h-1zM332 252h2v1h-2zM238 252h1v2h-1zM261 253h4v1h-4zM169 254h1v1h-1zM202 254h2v1h-2zM243 254h7v1h-7zM251 254h3v1h-3zM173 257h6v1h-6zM297 261h1v1h-1zM308 261h1v1h-1zM298 262h1v2h-1zM303 264h1v1h-1zM307 264h1v1h-1zM2 266h1v1h-1zM7 269h1v1h-1zM258 270h2v1h-2zM261 270h1v1h-1zM251 271h1v1h-1zM260 272h2v1h-2zM263 272h2v1h-2zM256 275h1v1h-1zM15 276h1v1h-1zM252 276h1v1h-1zM269 276h1v1h-1zM16 277h1v1h-1zM265 277h1v1h-1zM17 278h1v1h-1zM18 279h1v1h-1zM19 280h1v1h-1zM20 281h1v1h-1zM21 282h1v1h-1zM22 283h1v1h-1zM23 284h1v1h-1zM24 285h1v1h-1zM25 286h1v1h-1zM26 287h1v1h-1zM30 290h1v1h-1zM31 291h1v1h-1zM32 292h1v1h-1zM33 293h1v1h-1zM34 294h1v1h-1zM35 295h1v1h-1zM36 296h1v1h-1zM37 297h1v1h-1zM38 298h1v1h-1zM39 299h1v1h-1zM41 300h2v1h-2zM43 301h1v1h-1zM42 302h1v2h-1zM43 304h1v1h-1zM53 305h1v1h-1zM52 306h1v1h-1zM49 307h1v1h-1zM46 308h1v1h-1zM45 309h1v1h-1zM45 310h2v1h-2zM120 310h3v1h-3zM51 311h2v1h-2zM96 311h2v1h-2zM64 312h2v1h-2zM95 312h2v1h-2z"/>
<path fill="#73ff83" d="M291 134h5v1h-5zM207 135h11v1h-11zM281 135h22v1h-22zM195 136h39v1h-39zM275 136h34v1h-34zM181 137h64v1h-64zM270 137h7v1h-7zM300 137h14v1h-14zM173 138h36v1h-36zM239 138h11v1h-11zM261 138h10v1h-10zM305 138h14v1h-14zM172 139h32v1h-32zM247 139h17v1h-17zM309 139h15v1h-15zM171 140h29v1h-29zM313 140h17v1h-17zM170 141h28v1h-28zM317 141h15v1h-15zM169 142h26v1h-26zM321 142h13v1h-13zM169 143h24v1h-24zM325 143h11v1h-11zM168 144h24v1h-24zM328 144h9v1h-9zM167 145h19v1h-19zM331 145h6v1h-6zM167 146h13v1h-13zM332 146h5v1h-5zM166 147h9v1h-9zM333 147h4v1h-4zM165 148h8v1h-8zM334 148h3v1h-3zM165 149h7v1h-7zM335 149h2v1h-2zM164 150h7v1h-7zM272 150h13v1h-13zM336 150h1v1h-1zM163 151h7v1h-7zM264 151h6v1h-6zM286 151h8v1h-8zM162 152h7v1h-7zM255 152h7v1h-7zM294 152h7v1h-7zM161 153h7v1h-7zM248 153h6v1h-6zM300 153h11v1h-11zM160 154h7v1h-7zM241 154h7v1h-7zM308 154h17v1h-17zM336 154h1v1h-1zM159 155h7v1h-7zM238 155h4v1h-4zM320 155h17v1h-17zM158 156h6v1h-6zM235 156h4v1h-4zM329 156h8v1h-8zM156 157h7v1h-7zM233 157h3v1h-3zM155 158h7v1h-7zM220 158h1v1h-1zM231 158h3v1h-3zM154 159h6v1h-6zM218 159h3v1h-3zM229 159h4v1h-4zM152 160h7v1h-7zM217 160h4v1h-4zM227 160h4v1h-4zM151 161h7v1h-7zM216 161h4v1h-4zM225 161h4v1h-4zM269 161h4v1h-4zM280 161h4v1h-4zM149 162h7v1h-7zM215 162h4v1h-4zM222 162h5v1h-5zM263 162h3v1h-3zM286 162h3v1h-3zM148 163h6v1h-6zM215 163h3v1h-3zM221 163h4v1h-4zM256 163h3v1h-3zM291 163h2v1h-2zM146 164h7v1h-7zM214 164h4v1h-4zM221 164h2v1h-2zM249 164h3v1h-3zM295 164h1v1h-1zM144 165h7v1h-7zM243 165h2v1h-2zM298 165h1v1h-1zM142 166h7v1h-7zM238 166h1v1h-1zM301 166h3v1h-3zM214 165h3v3h-3zM140 167h7v1h-7zM232 167h2v1h-2zM309 167h4v1h-4zM138 168h7v1h-7zM215 168h6v1h-6zM318 168h3v1h-3zM134 169h9v1h-9zM324 169h3v1h-3zM130 170h11v1h-11zM330 170h2v1h-2zM126 171h13v1h-13zM123 172h11v1h-11zM120 173h10v1h-10zM118 174h9v1h-9zM115 175h8v1h-8zM113 176h7v1h-7zM110 177h7v1h-7zM108 178h7v1h-7zM106 179h6v1h-6zM237 179h3v1h-3zM287 179h4v1h-4zM104 180h5v1h-5zM232 180h2v1h-2zM295 180h2v1h-2zM102 181h5v1h-5zM227 181h2v1h-2zM301 181h3v1h-3zM100 182h5v1h-5zM224 182h1v1h-1zM307 182h2v1h-2zM98 183h5v1h-5zM220 183h2v1h-2zM312 183h2v1h-2zM94 184h1v1h-1zM97 184h4v1h-4zM217 184h2v1h-2zM316 184h2v1h-2zM93 185h6v1h-6zM214 185h2v1h-2zM321 185h1v1h-1zM92 186h5v1h-5zM205 186h2v1h-2zM211 186h2v1h-2zM240 186h4v1h-4zM250 186h13v1h-13zM272 186h4v1h-4zM325 186h1v1h-1zM90 187h4v1h-4zM203 187h2v1h-2zM207 187h2v1h-2zM232 187h2v1h-2zM286 187h4v1h-4zM328 187h2v1h-2zM89 188h4v1h-4zM202 188h2v1h-2zM225 188h2v1h-2zM297 188h2v1h-2zM331 188h2v1h-2zM87 189h4v1h-4zM202 189h3v1h-3zM207 189h12v1h-12zM302 189h2v1h-2zM335 189h2v1h-2zM84 190h5v1h-5zM307 190h1v1h-1zM81 191h6v1h-6zM311 191h1v1h-1zM78 192h7v1h-7zM315 192h1v1h-1zM75 193h7v1h-7zM319 193h1v1h-1zM72 194h6v1h-6zM323 194h1v1h-1zM69 195h6v1h-6zM328 195h2v1h-2zM66 196h6v1h-6zM335 196h2v1h-2zM63 197h6v1h-6zM61 198h5v1h-5zM58 199h5v1h-5zM242 199h2v1h-2zM250 199h2v1h-2zM56 200h4v1h-4zM235 200h2v1h-2zM256 200h2v1h-2zM54 201h4v1h-4zM229 201h2v1h-2zM267 201h5v1h-5zM53 202h3v1h-3zM224 202h2v1h-2zM278 202h1v1h-1zM51 203h3v1h-3zM220 203h2v1h-2zM283 203h1v1h-1zM50 204h2v1h-2zM216 204h2v1h-2zM286 204h2v1h-2zM49 205h2v1h-2zM208 205h1v1h-1zM212 205h2v1h-2zM290 205h1v1h-1zM48 206h1v1h-1zM205 206h2v1h-2zM209 206h2v1h-2zM236 206h3v1h-3zM254 206h2v1h-2zM293 206h1v1h-1zM47 207h1v1h-1zM204 207h2v1h-2zM218 207h6v1h-6zM265 207h4v1h-4zM296 207h2v1h-2zM45 208h2v1h-2zM203 208h6v1h-6zM279 208h2v1h-2zM300 208h2v1h-2zM44 209h2v1h-2zM293 209h4v1h-4zM304 209h2v1h-2zM308 209h2v1h-2zM43 210h2v1h-2zM302 210h1v1h-1zM311 210h3v1h-3zM42 211h1v1h-1zM306 211h1v1h-1zM314 211h4v1h-4zM41 212h1v1h-1zM310 212h3v1h-3zM318 212h5v1h-5zM40 213h1v1h-1zM317 213h11v1h-11zM39 214h1v1h-1zM324 214h8v1h-8zM38 215h1v1h-1zM36 216h2v1h-2zM35 217h1v1h-1zM34 218h1v1h-1zM33 219h1v1h-1zM32 220h1v1h-1zM230 220h5v1h-5zM251 220h2v1h-2zM31 221h1v1h-1zM210 221h2v1h-2zM264 221h2v1h-2zM30 222h1v1h-1zM271 222h1v1h-1zM29 223h1v1h-1zM277 223h1v1h-1zM28 224h1v1h-1zM199 224h1v1h-1zM240 224h3v1h-3zM246 224h2v1h-2zM281 224h1v1h-1zM196 225h1v1h-1zM256 225h3v1h-3zM285 225h1v1h-1zM194 226h1v1h-1zM197 226h1v1h-1zM278 226h1v1h-1zM289 226h1v1h-1zM24 227h1v1h-1zM192 227h1v1h-1zM286 227h1v1h-1zM295 227h1v1h-1zM23 228h1v1h-1zM298 228h2v1h-2zM22 229h1v1h-1zM298 229h6v1h-6zM21 230h1v1h-1zM20 231h1v1h-1zM19 232h1v1h-1zM18 233h1v1h-1zM17 234h1v1h-1zM216 236h1v1h-1zM228 236h2v1h-2zM252 237h2v1h-2zM205 238h1v1h-1zM263 238h2v1h-2zM195 239h2v1h-2zM269 239h2v1h-2zM10 240h1v1h-1zM209 240h2v1h-2zM214 240h2v1h-2zM226 240h1v1h-1zM277 240h2v1h-2zM9 241h1v1h-1zM250 241h1v1h-1zM284 241h1v1h-1zM263 242h2v1h-2zM267 242h2v1h-2zM270 242h2v1h-2zM289 242h1v1h-1zM293 243h1v1h-1zM5 244h1v1h-1zM298 244h1v1h-1zM297 245h1v1h-1zM301 245h1v1h-1zM1 246h1v1h-1zM303 246h1v1h-1zM255 251h1v1h-1zM335 251h2v1h-2zM331 252h1v1h-1zM237 252h1v2h-1zM190 253h5v1h-5zM260 253h1v1h-1zM265 253h3v1h-3zM333 253h1v1h-1zM204 254h1v1h-1zM254 254h1v1h-1zM164 255h1v1h-1zM203 255h1v1h-1zM201 256h1v1h-1zM172 257h1v1h-1zM179 257h3v1h-3zM296 261h1v1h-1zM309 261h1v1h-1zM297 262h1v2h-1zM310 262h1v2h-1zM201 263h3v1h-3zM203 264h1v1h-1zM302 264h1v1h-1zM6 268h1v1h-1zM257 270h1v1h-1zM262 270h1v1h-1zM250 271h1v1h-1zM266 271h1v1h-1zM11 272h1v1h-1zM258 272h2v1h-2zM262 272h1v1h-1zM269 272h1v1h-1zM12 273h1v1h-1zM269 273h2v1h-2zM13 274h1v1h-1zM260 274h2v1h-2zM14 275h1v1h-1zM255 275h1v1h-1zM265 275h1v1h-1zM251 276h1v1h-1zM256 277h1v1h-1zM266 277h1v1h-1zM22 282h1v1h-1zM23 283h1v1h-1zM24 284h1v1h-1zM25 285h1v1h-1zM26 286h1v1h-1zM27 287h1v1h-1zM28 288h1v1h-1zM29 289h1v1h-1zM32 291h1v1h-1zM33 292h1v1h-1zM34 293h1v1h-1zM35 294h1v1h-1zM36 295h1v1h-1zM37 296h2v1h-2zM38 297h2v1h-2zM39 298h1v1h-1zM40 299h1v1h-1zM43 300h2v1h-2zM44 301h1v1h-1zM43 302h1v2h-1zM44 304h2v1h-2zM54 305h2v1h-2zM53 306h1v1h-1zM50 307h1v1h-1zM47 308h1v1h-1zM46 309h1v1h-1zM47 310h1v1h-1zM117 310h3v1h-3zM53 311h2v1h-2zM95 311h1v1h-1zM66 312h2v1h-2zM94 312h1v1h-1z"/>
<path fill="#83ff73" d="M277 137h23v1h-23zM209 138h30v1h-30zM271 138h34v1h-34zM204 139h43v1h-43zM264 139h12v1h-12zM290 139h19v1h-19zM200 140h70v1h-70zM297 140h16v1h-16zM198 141h21v1h-21zM249 141h11v1h-11zM301 141h16v1h-16zM195 142h17v1h-17zM304 142h17v1h-17zM193 143h17v1h-17zM307 143h18v1h-18zM192 144h17v1h-17zM310 144h18v1h-18zM186 145h22v1h-22zM313 145h18v1h-18zM180 146h26v1h-26zM315 146h17v1h-17zM175 147h29v1h-29zM317 147h16v1h-16zM173 148h29v1h-29zM318 148h16v1h-16zM172 149h28v1h-28zM273 149h13v1h-13zM319 149h16v1h-16zM171 150h26v1h-26zM264 150h8v1h-8zM285 150h13v1h-13zM320 150h16v1h-16zM170 151h24v1h-24zM254 151h10v1h-10zM294 151h43v1h-43zM169 152h20v1h-20zM245 152h10v1h-10zM301 152h36v1h-36zM168 153h12v1h-12zM238 153h10v1h-10zM311 153h26v1h-26zM167 154h7v1h-7zM219 154h2v1h-2zM235 154h6v1h-6zM325 154h11v1h-11zM166 155h6v1h-6zM215 155h6v1h-6zM232 155h6v1h-6zM164 156h7v1h-7zM229 156h6v1h-6zM213 156h8v2h-8zM163 157h7v1h-7zM226 157h7v1h-7zM162 158h7v1h-7zM212 158h8v1h-8zM222 158h9v1h-9zM160 159h7v1h-7zM212 159h6v1h-6zM221 159h8v1h-8zM159 160h7v1h-7zM212 160h5v1h-5zM221 160h6v1h-6zM158 161h7v1h-7zM211 161h5v1h-5zM221 161h4v1h-4zM273 161h7v1h-7zM156 162h7v1h-7zM221 162h1v1h-1zM266 162h4v1h-4zM283 162h3v1h-3zM211 162h4v2h-4zM154 163h7v1h-7zM259 163h4v1h-4zM289 163h2v1h-2zM153 164h7v1h-7zM252 164h3v1h-3zM293 164h2v1h-2zM151 165h7v1h-7zM245 165h3v1h-3zM296 165h2v1h-2zM149 166h7v1h-7zM239 166h3v1h-3zM299 166h2v1h-2zM211 164h3v4h-3zM147 167h8v1h-8zM234 167h2v1h-2zM305 167h4v1h-4zM145 168h8v1h-8zM212 168h3v1h-3zM221 168h8v1h-8zM314 168h4v1h-4zM143 169h8v1h-8zM321 169h3v1h-3zM141 170h8v1h-8zM327 170h3v1h-3zM139 171h7v1h-7zM332 171h5v1h-5zM134 172h10v1h-10zM130 173h11v1h-11zM127 174h10v1h-10zM123 175h9v1h-9zM120 176h9v1h-9zM117 177h8v1h-8zM115 178h7v1h-7zM241 178h15v1h-15zM261 178h25v1h-25zM112 179h7v1h-7zM235 179h2v1h-2zM291 179h3v1h-3zM109 180h7v1h-7zM229 180h3v1h-3zM297 180h4v1h-4zM107 181h7v1h-7zM225 181h2v1h-2zM304 181h3v1h-3zM105 182h6v1h-6zM222 182h2v1h-2zM309 182h3v1h-3zM103 183h5v1h-5zM218 183h2v1h-2zM314 183h2v1h-2zM101 184h5v1h-5zM215 184h2v1h-2zM318 184h2v1h-2zM99 185h5v1h-5zM204 185h3v1h-3zM211 185h3v1h-3zM322 185h2v1h-2zM97 186h5v1h-5zM202 186h3v1h-3zM208 186h3v1h-3zM244 186h6v1h-6zM263 186h9v1h-9zM326 186h2v1h-2zM94 187h6v1h-6zM201 187h2v1h-2zM234 187h2v1h-2zM282 187h4v1h-4zM330 187h2v1h-2zM93 188h5v1h-5zM227 188h2v1h-2zM293 188h4v1h-4zM333 188h2v1h-2zM200 188h2v2h-2zM91 189h6v1h-6zM219 189h3v1h-3zM300 189h2v1h-2zM89 190h6v1h-6zM305 190h2v1h-2zM87 191h5v1h-5zM309 191h2v1h-2zM85 192h5v1h-5zM314 192h1v1h-1zM82 193h5v1h-5zM318 193h1v1h-1zM78 194h7v1h-7zM322 194h1v1h-1zM75 195h7v1h-7zM326 195h2v1h-2zM72 196h6v1h-6zM332 196h3v1h-3zM69 197h6v1h-6zM66 198h5v1h-5zM63 199h5v1h-5zM240 199h2v1h-2zM252 199h2v1h-2zM60 200h5v1h-5zM233 200h2v1h-2zM258 200h3v1h-3zM58 201h4v1h-4zM227 201h2v1h-2zM272 201h3v1h-3zM56 202h4v1h-4zM223 202h1v1h-1zM279 202h2v1h-2zM54 203h3v1h-3zM218 203h2v1h-2zM284 203h2v1h-2zM52 204h3v1h-3zM214 204h2v1h-2zM288 204h1v1h-1zM51 205h2v1h-2zM205 205h3v1h-3zM211 205h1v1h-1zM291 205h2v1h-2zM49 206h2v1h-2zM203 206h2v1h-2zM239 206h2v1h-2zM253 206h1v1h-1zM294 206h2v1h-2zM48 207h2v1h-2zM201 207h3v1h-3zM224 207h5v1h-5zM260 207h5v1h-5zM298 207h2v1h-2zM47 208h2v1h-2zM201 208h2v1h-2zM276 208h3v1h-3zM302 208h2v1h-2zM306 208h2v1h-2zM46 209h1v1h-1zM288 209h5v1h-5zM310 209h2v1h-2zM45 210h1v1h-1zM300 210h2v1h-2zM314 210h3v1h-3zM43 211h2v1h-2zM318 211h4v1h-4zM42 212h2v1h-2zM309 212h1v1h-1zM323 212h4v1h-4zM41 213h2v1h-2zM315 213h2v1h-2zM328 213h4v1h-4zM40 214h1v1h-1zM321 214h3v1h-3zM332 214h5v1h-5zM39 215h1v1h-1zM328 215h9v1h-9zM38 216h1v1h-1zM336 216h1v1h-1zM36 217h2v1h-2zM35 218h1v1h-1zM34 219h1v1h-1zM33 220h1v1h-1zM225 220h5v1h-5zM253 220h2v1h-2zM32 221h1v1h-1zM208 221h2v1h-2zM266 221h1v1h-1zM31 222h1v1h-1zM204 222h1v1h-1zM272 222h2v1h-2zM30 223h1v1h-1zM201 223h1v1h-1zM278 223h1v1h-1zM243 224h3v1h-3zM282 224h1v1h-1zM27 225h1v1h-1zM201 225h1v1h-1zM255 225h1v1h-1zM286 225h1v1h-1zM26 226h1v1h-1zM276 226h2v1h-2zM290 226h1v1h-1zM293 226h1v1h-1zM193 226h1v2h-1zM25 227h1v1h-1zM190 227h2v1h-2zM285 227h1v1h-1zM296 227h2v1h-2zM24 228h1v1h-1zM188 228h2v1h-2zM292 228h1v1h-1zM300 228h2v1h-2zM23 229h1v1h-1zM185 229h1v1h-1zM297 229h1v1h-1zM304 229h3v1h-3zM22 230h1v1h-1zM305 230h5v1h-5zM16 235h1v1h-1zM15 236h1v1h-1zM215 236h1v1h-1zM230 236h3v1h-3zM14 237h1v1h-1zM210 237h1v1h-1zM254 237h2v1h-2zM13 238h1v1h-1zM203 238h2v1h-2zM265 238h1v1h-1zM193 239h2v1h-2zM271 239h1v1h-1zM187 240h9v1h-9zM205 240h4v1h-4zM216 240h1v1h-1zM223 240h3v1h-3zM279 240h1v1h-1zM249 241h1v1h-1zM285 241h1v1h-1zM8 242h1v1h-1zM261 242h2v1h-2zM269 242h1v1h-1zM290 242h1v1h-1zM7 243h1v1h-1zM282 243h1v1h-1zM294 243h1v1h-1zM289 244h1v1h-1zM299 244h1v1h-1zM4 245h1v1h-1zM302 245h2v1h-2zM301 246h2v1h-2zM304 246h2v1h-2zM241 251h1v1h-1zM331 251h2v1h-2zM334 251h1v1h-1zM236 252h1v1h-1zM260 252h2v1h-2zM187 253h3v1h-3zM195 253h3v1h-3zM235 253h2v1h-2zM268 253h1v1h-1zM168 254h1v1h-1zM242 254h1v1h-1zM255 254h1v1h-1zM171 257h1v1h-1zM182 257h5v1h-5zM294 261h2v1h-2zM310 261h1v1h-1zM296 262h1v2h-1zM199 263h2v1h-2zM204 263h1v2h-1zM202 264h1v1h-1zM301 264h1v1h-1zM308 264h1v1h-1zM0 265h1v1h-1zM3 266h1v1h-1zM5 267h1v1h-1zM9 270h1v1h-1zM256 270h1v1h-1zM263 270h1v1h-1zM10 271h1v1h-1zM249 271h1v1h-1zM267 271h1v1h-1zM255 272h3v1h-3zM268 273h1v1h-1zM271 273h1v1h-1zM258 274h2v1h-2zM262 274h1v1h-1zM254 275h1v1h-1zM266 275h1v1h-1zM16 276h1v1h-1zM270 276h1v1h-1zM17 277h1v1h-1zM255 277h1v1h-1zM267 277h4v1h-4zM18 278h1v1h-1zM19 279h1v1h-1zM20 280h1v1h-1zM21 281h1v1h-1zM25 284h1v1h-1zM26 285h1v1h-1zM27 286h1v1h-1zM28 287h1v1h-1zM29 288h1v1h-1zM30 289h1v1h-1zM31 290h2v1h-2zM33 291h1v1h-1zM34 292h1v1h-1zM35 293h1v1h-1zM36 294h1v1h-1zM37 295h2v1h-2zM39 296h1v1h-1zM40 297h1v2h-1zM41 299h3v1h-3zM45 300h1v2h-1zM44 302h1v2h-1zM46 304h6v1h-6zM56 305h1v1h-1zM54 306h1v1h-1zM51 307h1v1h-1zM48 308h1v1h-1zM47 309h1v1h-1zM48 310h2v1h-2zM114 310h3v1h-3zM55 311h2v1h-2zM94 311h1v1h-1zM68 312h2v1h-2zM93 312h1v1h-1z"/>
<path fill="#90ff66" d="M276 139h14v1h-14zM270 140h27v1h-27zM219 141h30v1h-30zM260 141h41v1h-41zM212 142h62v1h-62zM282 142h22v1h-22zM210 143h55v1h-55zM287 143h20v1h-20zM209 144h28v1h-28zM290 144h20v1h-20zM208 145h25v1h-25zM291 145h22v1h-22zM206 146h25v1h-25zM292 146h23v1h-23zM204 147h25v1h-25zM290 147h27v1h-27zM202 148h27v1h-27zM269 148h49v1h-49zM200 149h30v1h-30zM258 149h15v1h-15zM286 149h33v1h-33zM197 150h35v1h-35zM244 150h20v1h-20zM298 150h22v1h-22zM194 151h60v1h-60zM189 152h56v1h-56zM180 153h58v1h-58zM174 154h45v1h-45zM221 154h14v1h-14zM172 155h43v1h-43zM221 155h11v1h-11zM171 156h42v1h-42zM221 156h8v1h-8zM170 157h43v1h-43zM221 157h5v1h-5zM169 158h43v1h-43zM221 158h1v1h-1zM167 159h45v1h-45zM166 160h7v1h-7zM182 160h30v1h-30zM165 161h7v1h-7zM191 161h20v1h-20zM163 162h7v1h-7zM195 162h16v1h-16zM270 162h13v1h-13zM161 163h8v1h-8zM198 163h13v1h-13zM263 163h4v1h-4zM285 163h4v1h-4zM160 164h7v1h-7zM201 164h10v1h-10zM255 164h4v1h-4zM290 164h3v1h-3zM158 165h8v1h-8zM203 165h8v1h-8zM248 165h3v1h-3zM295 165h1v1h-1zM156 166h8v1h-8zM205 166h6v1h-6zM242 166h2v1h-2zM298 166h1v1h-1zM155 167h7v1h-7zM206 167h5v1h-5zM236 167h2v1h-2zM301 167h4v1h-4zM153 168h8v1h-8zM208 168h4v1h-4zM229 168h3v1h-3zM309 168h5v1h-5zM151 169h8v1h-8zM212 169h9v1h-9zM318 169h3v1h-3zM149 170h8v1h-8zM323 170h4v1h-4zM146 171h8v1h-8zM329 171h3v1h-3zM144 172h8v1h-8zM335 172h2v1h-2zM141 173h8v1h-8zM137 174h8v1h-8zM132 175h10v1h-10zM129 176h9v1h-9zM125 177h9v1h-9zM122 178h9v1h-9zM237 178h4v1h-4zM256 178h5v1h-5zM286 178h5v1h-5zM119 179h9v1h-9zM231 179h4v1h-4zM294 179h4v1h-4zM116 180h9v1h-9zM227 180h2v1h-2zM301 180h3v1h-3zM114 181h8v1h-8zM223 181h2v1h-2zM307 181h3v1h-3zM111 182h8v1h-8zM219 182h3v1h-3zM312 182h2v1h-2zM108 183h8v1h-8zM215 183h3v1h-3zM316 183h3v1h-3zM106 184h7v1h-7zM203 184h4v1h-4zM212 184h3v1h-3zM320 184h3v1h-3zM104 185h6v1h-6zM201 185h3v1h-3zM208 185h3v1h-3zM324 185h3v1h-3zM102 186h6v1h-6zM199 186h3v1h-3zM207 186h1v1h-1zM328 186h2v1h-2zM100 187h5v1h-5zM198 187h3v1h-3zM236 187h3v1h-3zM276 187h6v1h-6zM332 187h2v1h-2zM98 188h5v1h-5zM229 188h2v1h-2zM289 188h4v1h-4zM335 188h2v1h-2zM198 188h2v2h-2zM97 189h4v1h-4zM222 189h2v1h-2zM298 189h2v1h-2zM95 190h4v1h-4zM200 190h7v1h-7zM303 190h2v1h-2zM92 191h6v1h-6zM307 191h2v1h-2zM90 192h6v1h-6zM312 192h2v1h-2zM87 193h7v1h-7zM316 193h2v1h-2zM85 194h7v1h-7zM320 194h2v1h-2zM82 195h6v1h-6zM324 195h2v1h-2zM78 196h7v1h-7zM330 196h2v1h-2zM75 197h8v1h-8zM71 198h7v1h-7zM68 199h7v1h-7zM238 199h2v1h-2zM254 199h2v1h-2zM65 200h6v1h-6zM231 200h2v1h-2zM261 200h5v1h-5zM62 201h6v1h-6zM225 201h2v1h-2zM275 201h3v1h-3zM60 202h5v1h-5zM220 202h3v1h-3zM281 202h2v1h-2zM57 203h5v1h-5zM216 203h2v1h-2zM286 203h1v1h-1zM55 204h4v1h-4zM206 204h3v1h-3zM212 204h2v1h-2zM289 204h2v1h-2zM53 205h3v1h-3zM203 205h2v1h-2zM209 205h2v1h-2zM293 205h1v1h-1zM51 206h3v1h-3zM201 206h2v1h-2zM241 206h5v1h-5zM249 206h4v1h-4zM296 206h2v1h-2zM50 207h2v1h-2zM198 207h3v1h-3zM229 207h4v1h-4zM257 207h3v1h-3zM300 207h2v1h-2zM306 207h1v1h-1zM49 208h2v1h-2zM195 208h6v1h-6zM209 208h5v1h-5zM273 208h3v1h-3zM304 208h2v1h-2zM308 208h3v1h-3zM47 209h2v1h-2zM192 209h15v1h-15zM284 209h4v1h-4zM312 209h3v1h-3zM46 210h2v1h-2zM190 210h6v1h-6zM298 210h2v1h-2zM317 210h3v1h-3zM45 211h2v1h-2zM304 211h2v1h-2zM322 211h4v1h-4zM44 212h1v1h-1zM307 212h2v1h-2zM327 212h4v1h-4zM43 213h1v1h-1zM313 213h2v1h-2zM332 213h5v1h-5zM41 214h2v1h-2zM319 214h2v1h-2zM40 215h2v1h-2zM325 215h3v1h-3zM39 216h1v1h-1zM333 216h3v1h-3zM38 217h1v1h-1zM36 218h2v1h-2zM35 219h2v1h-2zM34 220h1v1h-1zM219 220h6v1h-6zM255 220h5v1h-5zM33 221h1v1h-1zM207 221h1v1h-1zM267 221h2v1h-2zM32 222h1v1h-1zM274 222h1v1h-1zM31 223h1v1h-1zM279 223h1v1h-1zM29 224h1v1h-1zM198 224h1v1h-1zM283 224h1v1h-1zM28 225h1v1h-1zM195 225h1v1h-1zM202 225h1v1h-1zM253 225h2v1h-2zM287 225h1v1h-1zM27 226h1v1h-1zM192 226h1v1h-1zM274 226h2v1h-2zM291 226h1v1h-1zM294 226h1v1h-1zM26 227h1v1h-1zM189 227h1v1h-1zM194 227h1v1h-1zM284 227h1v1h-1zM298 227h2v1h-2zM25 228h1v1h-1zM186 228h2v1h-2zM190 228h1v1h-1zM291 228h1v1h-1zM302 228h2v1h-2zM24 229h1v1h-1zM183 229h2v1h-2zM186 229h1v1h-1zM296 229h1v1h-1zM307 229h2v1h-2zM181 230h2v1h-2zM303 230h2v1h-2zM310 230h2v1h-2zM21 231h1v1h-1zM178 231h1v1h-1zM20 232h1v1h-1zM19 233h1v1h-1zM18 234h1v1h-1zM17 235h1v1h-1zM214 236h1v1h-1zM233 236h7v1h-7zM209 237h1v1h-1zM256 237h2v1h-2zM202 238h1v1h-1zM266 238h1v1h-1zM12 239h1v1h-1zM191 239h2v1h-2zM272 239h2v1h-2zM11 240h1v1h-1zM185 240h2v1h-2zM196 240h3v1h-3zM200 240h5v1h-5zM217 240h6v1h-6zM280 240h2v1h-2zM181 241h2v1h-2zM247 241h2v1h-2zM286 241h2v1h-2zM260 242h1v1h-1zM291 242h1v1h-1zM281 243h1v1h-1zM295 243h1v1h-1zM6 244h1v1h-1zM288 244h1v1h-1zM300 244h1v1h-1zM295 245h2v1h-2zM304 245h1v1h-1zM2 246h1v1h-1zM300 246h1v1h-1zM306 246h2v1h-2zM306 247h4v1h-4zM256 251h1v1h-1zM333 251h1v1h-1zM330 251h1v2h-1zM235 252h1v1h-1zM262 252h2v1h-2zM184 253h3v1h-3zM198 253h2v1h-2zM234 253h1v1h-1zM269 253h2v1h-2zM332 253h1v1h-1zM205 254h1v1h-1zM241 254h1v1h-1zM256 254h1v1h-1zM335 254h2v1h-2zM204 255h1v1h-1zM170 257h1v1h-1zM187 257h6v1h-6zM292 260h3v1h-3zM311 262h1v1h-1zM295 262h1v2h-1zM198 263h1v1h-1zM205 263h1v2h-1zM201 264h1v1h-1zM300 264h1v1h-1zM309 264h1v1h-1zM1 265h1v1h-1zM8 269h1v1h-1zM254 270h2v1h-2zM248 271h1v1h-1zM251 272h4v1h-4zM270 272h1v1h-1zM13 273h1v1h-1zM259 273h4v1h-4zM267 273h1v1h-1zM272 273h1v1h-1zM14 274h1v1h-1zM257 274h1v1h-1zM263 274h2v1h-2zM15 275h1v1h-1zM253 275h1v1h-1zM267 275h1v1h-1zM250 276h1v1h-1zM271 276h1v1h-1zM271 277h2v1h-2zM20 279h1v1h-1zM21 280h1v1h-1zM22 281h1v1h-1zM23 282h1v1h-1zM24 283h1v1h-1zM27 285h1v1h-1zM28 286h1v1h-1zM29 287h1v1h-1zM30 288h1v1h-1zM31 289h1v1h-1zM33 290h1v1h-1zM34 291h1v1h-1zM35 292h1v1h-1zM36 293h1v1h-1zM37 294h1v1h-1zM39 295h1v1h-1zM40 296h1v1h-1zM41 297h1v1h-1zM41 298h2v1h-2zM44 299h3v1h-3zM46 300h2v1h-2zM46 301h1v1h-1zM45 302h1v1h-1zM45 303h2v1h-2zM52 304h6v1h-6zM57 305h1v1h-1zM55 306h1v1h-1zM52 307h1v1h-1zM49 308h1v1h-1zM48 309h2v1h-2zM50 310h1v1h-1zM110 310h4v1h-4zM57 311h2v1h-2zM70 312h2v1h-2zM91 312h2v1h-2z"/>
<path fill="#9dff5a" d="M274 142h8v1h-8zM265 143h22v1h-22zM237 144h53v1h-53zM233 145h58v1h-58zM231 146h61v1h-61zM229 147h61v1h-61zM229 148h40v1h-40zM230 149h28v1h-28zM232 150h12v1h-12zM173 160h9v1h-9zM172 161h19v1h-19zM170 162h25v1h-25zM169 163h29v1h-29zM267 163h9v1h-9zM277 163h8v1h-8zM167 164h34v1h-34zM259 164h6v1h-6zM286 164h4v1h-4zM166 165h37v1h-37zM251 165h5v1h-5zM292 165h3v1h-3zM164 166h8v1h-8zM181 166h24v1h-24zM244 166h4v1h-4zM296 166h2v1h-2zM162 167h9v1h-9zM187 167h19v1h-19zM238 167h3v1h-3zM299 167h2v1h-2zM161 168h8v1h-8zM192 168h16v1h-16zM232 168h3v1h-3zM304 168h5v1h-5zM159 169h8v1h-8zM197 169h15v1h-15zM221 169h3v1h-3zM313 169h5v1h-5zM157 170h8v1h-8zM320 170h3v1h-3zM154 171h9v1h-9zM325 171h4v1h-4zM152 172h8v1h-8zM330 172h5v1h-5zM149 173h8v1h-8zM145 174h9v1h-9zM142 175h9v1h-9zM138 176h9v1h-9zM134 177h10v1h-10zM240 177h48v1h-48zM131 178h9v1h-9zM233 178h4v1h-4zM291 178h4v1h-4zM128 179h9v1h-9zM228 179h3v1h-3zM298 179h4v1h-4zM125 180h9v1h-9zM223 180h4v1h-4zM304 180h4v1h-4zM122 181h9v1h-9zM219 181h4v1h-4zM310 181h3v1h-3zM119 182h9v1h-9zM206 182h1v1h-1zM215 182h4v1h-4zM314 182h3v1h-3zM116 183h9v1h-9zM202 183h5v1h-5zM211 183h4v1h-4zM319 183h2v1h-2zM113 184h10v1h-10zM199 184h4v1h-4zM207 184h5v1h-5zM323 184h2v1h-2zM110 185h10v1h-10zM198 185h3v1h-3zM207 185h1v1h-1zM327 185h2v1h-2zM108 186h9v1h-9zM197 186h2v1h-2zM330 186h3v1h-3zM105 187h9v1h-9zM239 187h6v1h-6zM250 187h15v1h-15zM269 187h7v1h-7zM334 187h3v1h-3zM103 188h9v1h-9zM231 188h3v1h-3zM284 188h5v1h-5zM196 187h2v3h-2zM101 189h8v1h-8zM224 189h2v1h-2zM294 189h4v1h-4zM99 190h7v1h-7zM197 190h3v1h-3zM207 190h10v1h-10zM301 190h2v1h-2zM98 191h6v1h-6zM305 191h2v1h-2zM96 192h5v1h-5zM310 192h2v1h-2zM94 193h5v1h-5zM314 193h2v1h-2zM92 194h5v1h-5zM318 194h2v1h-2zM88 195h7v1h-7zM322 195h2v1h-2zM85 196h8v1h-8zM327 196h3v1h-3zM83 197h8v1h-8zM333 197h4v1h-4zM78 198h9v1h-9zM242 198h9v1h-9zM75 199h8v1h-8zM234 199h4v1h-4zM256 199h2v1h-2zM71 200h8v1h-8zM228 200h3v1h-3zM266 200h7v1h-7zM68 201h7v1h-7zM223 201h2v1h-2zM278 201h3v1h-3zM65 202h6v1h-6zM218 202h2v1h-2zM283 202h3v1h-3zM62 203h6v1h-6zM207 203h2v1h-2zM213 203h3v1h-3zM287 203h2v1h-2zM59 204h5v1h-5zM203 204h3v1h-3zM209 204h3v1h-3zM291 204h2v1h-2zM56 205h5v1h-5zM200 205h3v1h-3zM294 205h2v1h-2zM54 206h4v1h-4zM196 206h5v1h-5zM246 206h3v1h-3zM298 206h2v1h-2zM52 207h4v1h-4zM192 207h6v1h-6zM233 207h4v1h-4zM255 207h2v1h-2zM302 207h2v1h-2zM307 207h2v1h-2zM51 208h2v1h-2zM188 208h7v1h-7zM214 208h7v1h-7zM268 208h5v1h-5zM311 208h3v1h-3zM49 209h2v1h-2zM185 209h7v1h-7zM207 209h2v1h-2zM280 209h4v1h-4zM315 209h4v1h-4zM48 210h2v1h-2zM182 210h8v1h-8zM196 210h4v1h-4zM295 210h3v1h-3zM320 210h4v1h-4zM47 211h2v1h-2zM180 211h14v1h-14zM303 211h1v1h-1zM326 211h4v1h-4zM45 212h2v1h-2zM178 212h11v1h-11zM306 212h1v1h-1zM331 212h5v1h-5zM44 213h2v1h-2zM177 213h7v1h-7zM311 213h2v1h-2zM43 214h2v1h-2zM317 214h2v1h-2zM42 215h1v1h-1zM323 215h2v1h-2zM40 216h2v1h-2zM330 216h3v1h-3zM39 217h2v1h-2zM38 218h1v1h-1zM37 219h1v1h-1zM241 219h8v1h-8zM35 220h2v1h-2zM216 220h3v1h-3zM260 220h3v1h-3zM34 221h1v1h-1zM206 221h1v1h-1zM269 221h2v1h-2zM33 222h1v1h-1zM203 222h1v1h-1zM275 222h2v1h-2zM32 223h1v1h-1zM200 223h1v1h-1zM280 223h1v1h-1zM30 224h2v1h-2zM197 224h1v1h-1zM284 224h1v1h-1zM29 225h1v1h-1zM194 225h1v1h-1zM203 225h2v1h-2zM252 225h1v1h-1zM288 225h2v1h-2zM28 226h1v1h-1zM191 226h1v1h-1zM198 226h1v1h-1zM271 226h3v1h-3zM292 226h1v1h-1zM295 226h2v1h-2zM27 227h1v1h-1zM188 227h1v1h-1zM195 227h1v1h-1zM283 227h1v1h-1zM300 227h1v1h-1zM26 228h1v1h-1zM185 228h1v1h-1zM191 228h1v1h-1zM290 228h1v1h-1zM304 228h2v1h-2zM182 229h1v1h-1zM187 229h1v1h-1zM294 229h2v1h-2zM309 229h2v1h-2zM23 230h1v1h-1zM179 230h2v1h-2zM183 230h1v1h-1zM301 230h2v1h-2zM312 230h2v1h-2zM22 231h1v1h-1zM176 231h2v1h-2zM179 231h1v1h-1zM310 231h6v1h-6zM21 232h1v1h-1zM173 232h4v1h-4zM20 233h1v1h-1zM16 236h1v1h-1zM213 236h1v1h-1zM240 236h7v1h-7zM15 237h1v1h-1zM208 237h1v1h-1zM258 237h2v1h-2zM14 238h1v1h-1zM198 238h1v1h-1zM200 238h2v1h-2zM267 238h1v1h-1zM190 239h1v1h-1zM274 239h3v1h-3zM184 240h1v1h-1zM199 240h1v1h-1zM282 240h1v1h-1zM10 241h1v1h-1zM179 241h2v1h-2zM183 241h3v1h-3zM243 241h4v1h-4zM288 241h1v1h-1zM9 242h1v1h-1zM176 242h2v1h-2zM258 242h2v1h-2zM292 242h1v1h-1zM279 243h2v1h-2zM296 243h3v1h-3zM287 244h1v1h-1zM301 244h1v1h-1zM294 245h1v1h-1zM305 245h1v1h-1zM299 246h1v1h-1zM308 246h1v1h-1zM305 247h1v1h-1zM310 247h2v1h-2zM310 248h3v1h-3zM336 250h1v1h-1zM240 251h1v1h-1zM257 251h1v1h-1zM329 251h1v2h-1zM234 252h1v1h-1zM264 252h2v1h-2zM182 253h2v1h-2zM200 253h1v1h-1zM231 253h3v1h-3zM271 253h1v1h-1zM167 254h1v1h-1zM240 254h1v1h-1zM257 254h1v1h-1zM264 254h12v1h-12zM164 256h1v1h-1zM202 256h1v1h-1zM169 257h1v1h-1zM193 257h5v1h-5zM289 258h1v1h-1zM290 259h2v1h-2zM291 260h1v1h-1zM295 260h5v1h-5zM293 261h1v1h-1zM311 261h1v1h-1zM334 261h3v1h-3zM294 262h1v1h-1zM335 262h2v1h-2zM197 263h1v1h-1zM206 263h1v1h-1zM293 263h2v1h-2zM311 263h1v1h-1zM200 264h1v1h-1zM299 264h1v1h-1zM4 266h1v1h-1zM7 268h1v1h-1zM251 270h3v1h-3zM264 270h1v1h-1zM11 271h1v1h-1zM247 271h1v1h-1zM268 271h1v1h-1zM12 272h1v1h-1zM249 272h2v1h-2zM271 272h1v1h-1zM257 273h2v1h-2zM263 273h4v1h-4zM273 273h1v1h-1zM255 274h2v1h-2zM265 274h1v1h-1zM271 274h4v1h-4zM16 275h1v1h-1zM252 275h1v1h-1zM268 275h1v1h-1zM17 276h1v1h-1zM249 276h1v1h-1zM18 277h1v1h-1zM254 277h1v1h-1zM273 277h1v1h-1zM19 278h1v1h-1zM22 280h1v1h-1zM23 281h1v1h-1zM24 282h1v1h-1zM25 283h1v1h-1zM26 284h1v1h-1zM28 285h1v1h-1zM29 286h1v1h-1zM30 287h1v1h-1zM31 288h1v1h-1zM32 289h2v1h-2zM34 290h1v1h-1zM35 291h1v1h-1zM36 292h2v1h-2zM37 293h2v1h-2zM38 294h2v1h-2zM40 295h2v1h-2zM41 296h2v1h-2zM42 297h1v1h-1zM43 298h2v1h-2zM47 299h2v1h-2zM48 300h1v1h-1zM47 301h1v1h-1zM46 302h2v1h-2zM47 303h2v1h-2zM58 304h2v1h-2zM58 305h1v1h-1zM56 306h1v1h-1zM53 307h1v1h-1zM50 308h2v1h-2zM50 309h1v1h-1zM51 310h2v1h-2zM106 310h4v1h-4zM59 311h3v1h-3zM93 311h1v1h-1zM72 312h3v1h-3zM89 312h2v1h-2z"/>
<path fill="#aaff4d" d="M276 163h1v1h-1zM265 164h11v1h-11zM278 164h8v1h-8zM256 165h8v1h-8zM287 165h5v1h-5zM172 166h9v1h-9zM248 166h6v1h-6zM292 166h4v1h-4zM171 167h16v1h-16zM241 167h5v1h-5zM296 167h3v1h-3zM169 168h23v1h-23zM235 168h3v1h-3zM300 168h4v1h-4zM167 169h30v1h-30zM224 169h8v1h-8zM307 169h6v1h-6zM165 170h8v1h-8zM176 170h45v1h-45zM315 170h5v1h-5zM163 171h8v1h-8zM321 171h4v1h-4zM160 172h8v1h-8zM326 172h4v1h-4zM157 173h9v1h-9zM331 173h6v1h-6zM154 174h9v1h-9zM151 175h10v1h-10zM147 176h11v1h-11zM244 176h12v1h-12zM260 176h25v1h-25zM144 177h12v1h-12zM235 177h5v1h-5zM288 177h5v1h-5zM140 178h12v1h-12zM229 178h4v1h-4zM295 178h6v1h-6zM137 179h12v1h-12zM224 179h4v1h-4zM302 179h5v1h-5zM134 180h12v1h-12zM219 180h4v1h-4zM308 180h4v1h-4zM131 181h12v1h-12zM203 181h4v1h-4zM214 181h5v1h-5zM313 181h4v1h-4zM128 182h12v1h-12zM199 182h7v1h-7zM210 182h5v1h-5zM317 182h4v1h-4zM125 183h12v1h-12zM197 183h5v1h-5zM207 183h4v1h-4zM321 183h4v1h-4zM123 184h12v1h-12zM196 184h3v1h-3zM325 184h4v1h-4zM120 185h12v1h-12zM195 185h3v1h-3zM329 185h4v1h-4zM117 186h13v1h-13zM194 186h3v1h-3zM333 186h4v1h-4zM114 187h13v1h-13zM245 187h5v1h-5zM265 187h4v1h-4zM194 187h2v2h-2zM112 188h13v1h-13zM234 188h3v1h-3zM277 188h7v1h-7zM109 189h13v1h-13zM193 189h3v1h-3zM226 189h3v1h-3zM289 189h5v1h-5zM106 190h13v1h-13zM194 190h3v1h-3zM217 190h4v1h-4zM298 190h3v1h-3zM104 191h12v1h-12zM201 191h4v1h-4zM303 191h2v1h-2zM101 192h11v1h-11zM307 192h3v1h-3zM99 193h9v1h-9zM312 193h2v1h-2zM97 194h8v1h-8zM316 194h2v1h-2zM95 195h8v1h-8zM320 195h2v1h-2zM93 196h7v1h-7zM325 196h2v1h-2zM91 197h7v1h-7zM330 197h3v1h-3zM87 198h7v1h-7zM239 198h3v1h-3zM251 198h3v1h-3zM83 199h9v1h-9zM231 199h3v1h-3zM258 199h5v1h-5zM79 200h10v1h-10zM225 200h3v1h-3zM273 200h5v1h-5zM75 201h9v1h-9zM219 201h4v1h-4zM281 201h3v1h-3zM71 202h9v1h-9zM208 202h1v1h-1zM214 202h4v1h-4zM286 202h2v1h-2zM68 203h7v1h-7zM203 203h4v1h-4zM210 203h3v1h-3zM289 203h3v1h-3zM64 204h7v1h-7zM200 204h3v1h-3zM293 204h2v1h-2zM61 205h6v1h-6zM194 205h6v1h-6zM296 205h3v1h-3zM58 206h6v1h-6zM190 206h6v1h-6zM300 206h3v1h-3zM306 206h2v1h-2zM56 207h5v1h-5zM186 207h6v1h-6zM237 207h5v1h-5zM252 207h3v1h-3zM304 207h2v1h-2zM309 207h4v1h-4zM53 208h5v1h-5zM182 208h6v1h-6zM221 208h7v1h-7zM261 208h7v1h-7zM314 208h3v1h-3zM51 209h4v1h-4zM179 209h6v1h-6zM277 209h3v1h-3zM319 209h4v1h-4zM50 210h2v1h-2zM177 210h5v1h-5zM200 210h4v1h-4zM289 210h6v1h-6zM324 210h4v1h-4zM49 211h2v1h-2zM175 211h5v1h-5zM194 211h3v1h-3zM301 211h2v1h-2zM330 211h4v1h-4zM47 212h2v1h-2zM173 212h5v1h-5zM189 212h3v1h-3zM336 212h1v1h-1zM46 213h2v1h-2zM171 213h6v1h-6zM184 213h3v1h-3zM309 213h2v1h-2zM45 214h1v1h-1zM170 214h13v1h-13zM315 214h2v1h-2zM43 215h2v1h-2zM170 215h8v1h-8zM321 215h2v1h-2zM42 216h2v1h-2zM327 216h3v1h-3zM41 217h1v1h-1zM334 217h3v1h-3zM39 218h2v1h-2zM38 219h1v1h-1zM238 219h3v1h-3zM249 219h2v1h-2zM37 220h1v1h-1zM213 220h3v1h-3zM263 220h3v1h-3zM35 221h2v1h-2zM205 221h1v1h-1zM271 221h2v1h-2zM34 222h1v1h-1zM202 222h1v1h-1zM277 222h2v1h-2zM33 223h1v1h-1zM281 223h2v1h-2zM32 224h1v1h-1zM196 224h1v1h-1zM285 224h2v1h-2zM30 225h2v1h-2zM193 225h1v1h-1zM205 225h2v1h-2zM250 225h2v1h-2zM290 225h1v1h-1zM293 225h1v1h-1zM29 226h1v1h-1zM190 226h1v1h-1zM199 226h1v1h-1zM266 226h5v1h-5zM297 226h2v1h-2zM28 227h1v1h-1zM187 227h1v1h-1zM281 227h2v1h-2zM301 227h3v1h-3zM27 228h1v1h-1zM184 228h1v1h-1zM288 228h2v1h-2zM306 228h2v1h-2zM25 229h1v1h-1zM181 229h1v1h-1zM293 229h1v1h-1zM311 229h2v1h-2zM24 230h1v1h-1zM178 230h1v1h-1zM184 230h1v1h-1zM300 230h1v1h-1zM314 230h2v1h-2zM23 231h1v1h-1zM174 231h2v1h-2zM180 231h1v1h-1zM308 231h2v1h-2zM316 231h2v1h-2zM22 232h1v1h-1zM171 232h2v1h-2zM316 232h4v1h-4zM168 233h5v1h-5zM19 234h1v1h-1zM18 235h1v1h-1zM17 236h1v1h-1zM212 236h1v1h-1zM247 236h4v1h-4zM206 237h2v1h-2zM260 237h3v1h-3zM196 238h2v1h-2zM199 238h1v1h-1zM268 238h2v1h-2zM13 239h1v1h-1zM188 239h2v1h-2zM277 239h2v1h-2zM12 240h1v1h-1zM183 240h1v1h-1zM283 240h2v1h-2zM178 241h1v1h-1zM186 241h2v1h-2zM237 241h6v1h-6zM289 241h1v1h-1zM174 242h2v1h-2zM178 242h2v1h-2zM256 242h2v1h-2zM293 242h1v1h-1zM8 243h1v1h-1zM278 243h1v1h-1zM299 243h1v1h-1zM286 244h1v1h-1zM302 244h2v1h-2zM5 245h1v1h-1zM293 245h1v1h-1zM306 245h1v1h-1zM3 246h1v1h-1zM298 246h1v1h-1zM309 246h1v1h-1zM304 247h1v1h-1zM312 247h1v1h-1zM309 248h1v1h-1zM313 248h2v1h-2zM314 249h5v1h-5zM320 250h4v1h-4zM330 250h3v1h-3zM334 250h2v1h-2zM325 251h4v1h-4zM233 252h1v1h-1zM266 252h1v1h-1zM180 253h2v1h-2zM201 253h1v1h-1zM203 253h3v1h-3zM229 253h2v1h-2zM272 253h2v1h-2zM331 253h1v1h-1zM166 254h1v1h-1zM206 254h1v1h-1zM258 254h1v1h-1zM261 254h3v1h-3zM276 254h2v1h-2zM334 254h1v1h-1zM163 255h1v1h-1zM279 255h3v1h-3zM283 256h2v1h-2zM198 257h2v1h-2zM286 257h2v1h-2zM288 258h1v1h-1zM290 258h1v1h-1zM289 259h1v1h-1zM292 259h1v1h-1zM300 260h4v1h-4zM332 260h5v1h-5zM292 261h1v1h-1zM327 261h7v1h-7zM197 262h5v1h-5zM293 262h1v1h-1zM328 262h7v1h-7zM196 263h1v1h-1zM206 264h1v1h-1zM292 264h2v1h-2zM298 264h1v1h-1zM310 264h1v1h-1zM2 265h1v1h-1zM6 267h1v1h-1zM9 269h1v1h-1zM10 270h1v1h-1zM250 270h1v1h-1zM246 271h1v1h-1zM247 272h2v1h-2zM14 273h1v1h-1zM255 273h2v1h-2zM274 273h1v1h-1zM15 274h1v1h-1zM254 274h1v1h-1zM266 274h5v1h-5zM275 274h1v1h-1zM250 275h2v1h-2zM269 275h1v1h-1zM272 276h1v1h-1zM19 277h1v1h-1zM251 277h3v1h-3zM274 277h1v1h-1zM20 278h1v1h-1zM21 279h1v1h-1zM24 281h1v1h-1zM25 282h1v1h-1zM26 283h1v1h-1zM27 284h1v1h-1zM29 285h1v1h-1zM30 286h1v1h-1zM31 287h1v1h-1zM32 288h2v1h-2zM34 289h1v1h-1zM35 290h1v1h-1zM36 291h2v1h-2zM38 292h1v1h-1zM39 293h1v1h-1zM40 294h2v1h-2zM42 295h2v1h-2zM43 296h1v1h-1zM43 297h2v1h-2zM45 298h5v1h-5zM49 299h2v1h-2zM49 300h1v1h-1zM48 301h1v2h-1zM49 303h3v1h-3zM60 304h2v1h-2zM59 305h2v1h-2zM57 306h1v1h-1zM54 307h1v1h-1zM52 308h1v1h-1zM51 309h1v1h-1zM53 310h2v1h-2zM103 310h3v1h-3zM62 311h3v1h-3zM92 311h1v1h-1zM75 312h3v1h-3zM87 312h2v1h-2z"/>
<path fill="#b7ff40" d="M276 164h2v1h-2zM264 165h23v1h-23zM254 166h10v1h-10zM286 166h6v1h-6zM246 167h7v1h-7zM292 167h4v1h-4zM238 168h6v1h-6zM296 168h4v1h-4zM232 169h4v1h-4zM301 169h6v1h-6zM173 170h3v1h-3zM221 170h7v1h-7zM308 170h7v1h-7zM171 171h46v1h-46zM315 171h6v1h-6zM168 172h28v1h-28zM321 172h5v1h-5zM166 173h10v1h-10zM325 173h6v1h-6zM163 174h9v1h-9zM331 174h6v1h-6zM161 175h8v1h-8zM248 175h6v1h-6zM261 175h23v1h-23zM158 176h9v1h-9zM236 176h8v1h-8zM256 176h4v1h-4zM285 176h8v1h-8zM156 177h9v1h-9zM229 177h6v1h-6zM293 177h7v1h-7zM152 178h11v1h-11zM223 178h6v1h-6zM301 178h6v1h-6zM149 179h13v1h-13zM204 179h3v1h-3zM217 179h7v1h-7zM307 179h5v1h-5zM146 180h14v1h-14zM197 180h10v1h-10zM210 180h9v1h-9zM312 180h5v1h-5zM143 181h16v1h-16zM194 181h9v1h-9zM207 181h7v1h-7zM317 181h4v1h-4zM140 182h17v1h-17zM193 182h6v1h-6zM207 182h3v1h-3zM321 182h4v1h-4zM137 183h18v1h-18zM192 183h5v1h-5zM325 183h4v1h-4zM135 184h18v1h-18zM192 184h4v1h-4zM329 184h4v1h-4zM132 185h19v1h-19zM192 185h3v1h-3zM333 185h4v1h-4zM130 186h19v1h-19zM192 186h2v1h-2zM127 187h19v1h-19zM191 187h3v2h-3zM125 188h19v1h-19zM237 188h7v1h-7zM253 188h7v1h-7zM268 188h9v1h-9zM122 189h20v1h-20zM191 189h2v1h-2zM229 189h4v1h-4zM283 189h6v1h-6zM119 190h21v1h-21zM191 190h3v1h-3zM221 190h4v1h-4zM292 190h6v1h-6zM116 191h21v1h-21zM194 191h7v1h-7zM205 191h5v1h-5zM299 191h4v1h-4zM112 192h21v1h-21zM304 192h3v1h-3zM108 193h21v1h-21zM309 193h3v1h-3zM105 194h19v1h-19zM313 194h3v1h-3zM103 195h16v1h-16zM318 195h2v1h-2zM100 196h14v1h-14zM322 196h3v1h-3zM98 197h11v1h-11zM243 197h7v1h-7zM327 197h3v1h-3zM94 198h10v1h-10zM234 198h5v1h-5zM254 198h3v1h-3zM333 198h4v1h-4zM92 199h10v1h-10zM227 199h4v1h-4zM263 199h11v1h-11zM89 200h10v1h-10zM221 200h4v1h-4zM278 200h4v1h-4zM84 201h11v1h-11zM208 201h1v1h-1zM215 201h4v1h-4zM284 201h3v1h-3zM80 202h10v1h-10zM203 202h5v1h-5zM210 202h4v1h-4zM288 202h3v1h-3zM75 203h12v1h-12zM198 203h5v1h-5zM209 203h1v1h-1zM292 203h3v1h-3zM71 204h9v1h-9zM192 204h8v1h-8zM295 204h3v1h-3zM67 205h9v1h-9zM187 205h7v1h-7zM299 205h4v1h-4zM306 205h1v1h-1zM64 206h7v1h-7zM183 206h7v1h-7zM303 206h3v1h-3zM308 206h4v1h-4zM61 207h6v1h-6zM179 207h7v1h-7zM242 207h10v1h-10zM313 207h3v1h-3zM58 208h5v1h-5zM176 208h6v1h-6zM228 208h6v1h-6zM257 208h4v1h-4zM317 208h5v1h-5zM55 209h5v1h-5zM173 209h6v1h-6zM209 209h7v1h-7zM273 209h4v1h-4zM323 209h4v1h-4zM52 210h5v1h-5zM171 210h6v1h-6zM204 210h5v1h-5zM283 210h6v1h-6zM328 210h5v1h-5zM51 211h3v1h-3zM169 211h6v1h-6zM197 211h3v1h-3zM298 211h3v1h-3zM334 211h3v1h-3zM49 212h3v1h-3zM168 212h5v1h-5zM192 212h2v1h-2zM304 212h2v1h-2zM48 213h2v1h-2zM167 213h4v1h-4zM187 213h3v1h-3zM308 213h1v1h-1zM46 214h3v1h-3zM166 214h4v1h-4zM183 214h3v1h-3zM313 214h2v1h-2zM45 215h2v1h-2zM165 215h5v1h-5zM178 215h3v1h-3zM319 215h2v1h-2zM44 216h2v1h-2zM164 216h13v1h-13zM325 216h2v1h-2zM42 217h2v1h-2zM163 217h7v1h-7zM332 217h2v1h-2zM41 218h2v1h-2zM162 218h2v1h-2zM39 219h2v1h-2zM232 219h6v1h-6zM251 219h7v1h-7zM38 220h2v1h-2zM210 220h3v1h-3zM266 220h3v1h-3zM37 221h1v1h-1zM204 221h1v1h-1zM273 221h2v1h-2zM35 222h2v1h-2zM201 222h1v1h-1zM279 222h1v1h-1zM34 223h2v1h-2zM199 223h1v1h-1zM283 223h2v1h-2zM33 224h1v1h-1zM195 224h1v1h-1zM287 224h2v1h-2zM32 225h1v1h-1zM192 225h1v1h-1zM207 225h17v1h-17zM226 225h11v1h-11zM249 225h1v1h-1zM291 225h2v1h-2zM294 225h2v1h-2zM30 226h1v1h-1zM189 226h1v1h-1zM200 226h1v1h-1zM262 226h4v1h-4zM299 226h2v1h-2zM29 227h1v1h-1zM186 227h1v1h-1zM196 227h1v1h-1zM280 227h1v1h-1zM304 227h2v1h-2zM28 228h1v1h-1zM182 228h2v1h-2zM192 228h1v1h-1zM287 228h1v1h-1zM308 228h2v1h-2zM26 229h1v1h-1zM179 229h2v1h-2zM188 229h1v1h-1zM313 229h1v1h-1zM25 230h1v1h-1zM176 230h2v1h-2zM298 230h2v1h-2zM316 230h1v1h-1zM24 231h1v1h-1zM172 231h2v1h-2zM181 231h1v1h-1zM306 231h2v1h-2zM318 231h2v1h-2zM169 232h2v1h-2zM177 232h1v1h-1zM314 232h2v1h-2zM320 232h2v1h-2zM21 233h1v1h-1zM166 233h2v1h-2zM173 233h1v1h-1zM20 234h1v1h-1zM164 234h6v1h-6zM19 235h1v1h-1zM162 235h2v1h-2zM217 235h10v1h-10zM211 236h1v1h-1zM251 236h3v1h-3zM16 237h1v1h-1zM204 237h2v1h-2zM263 237h2v1h-2zM15 238h1v1h-1zM194 238h2v1h-2zM270 238h2v1h-2zM187 239h1v1h-1zM279 239h2v1h-2zM181 240h2v1h-2zM285 240h2v1h-2zM11 241h1v1h-1zM177 241h1v1h-1zM188 241h2v1h-2zM232 241h5v1h-5zM290 241h1v1h-1zM10 242h1v1h-1zM173 242h1v1h-1zM180 242h2v1h-2zM255 242h1v1h-1zM294 242h1v1h-1zM170 243h5v1h-5zM276 243h2v1h-2zM300 243h1v1h-1zM7 244h1v1h-1zM285 244h1v1h-1zM304 244h1v1h-1zM291 245h2v1h-2zM307 245h2v1h-2zM297 246h1v1h-1zM310 246h2v1h-2zM0 247h2v1h-2zM303 247h1v1h-1zM313 247h2v1h-2zM308 248h1v1h-1zM315 248h3v1h-3zM312 249h2v1h-2zM319 249h4v1h-4zM246 250h7v1h-7zM318 250h2v1h-2zM324 250h6v1h-6zM333 250h1v1h-1zM239 251h1v1h-1zM258 251h1v1h-1zM323 251h2v1h-2zM231 252h2v1h-2zM267 252h2v1h-2zM328 252h1v1h-1zM178 253h2v1h-2zM202 253h1v1h-1zM206 253h1v1h-1zM228 253h1v1h-1zM274 253h1v1h-1zM330 253h1v1h-1zM165 254h1v1h-1zM239 254h1v1h-1zM259 254h2v1h-2zM278 254h2v1h-2zM205 255h1v1h-1zM274 255h5v1h-5zM282 255h1v1h-1zM163 256h1v1h-1zM203 256h1v1h-1zM281 256h2v1h-2zM285 256h1v1h-1zM168 257h1v1h-1zM200 257h1v1h-1zM284 257h2v1h-2zM288 257h1v1h-1zM287 258h1v1h-1zM291 258h1v1h-1zM293 259h1v1h-1zM290 260h1v1h-1zM304 260h7v1h-7zM323 260h9v1h-9zM312 261h15v1h-15zM195 262h2v1h-2zM202 262h3v1h-3zM312 262h16v1h-16zM195 263h1v1h-1zM292 263h1v1h-1zM312 263h1v1h-1zM334 263h3v1h-3zM207 263h1v2h-1zM199 264h1v1h-1zM291 264h1v1h-1zM294 264h1v1h-1zM296 264h2v1h-2zM3 265h1v1h-1zM290 265h2v1h-2zM304 265h3v1h-3zM5 266h1v1h-1zM290 266h1v1h-1zM8 268h1v1h-1zM248 270h2v1h-2zM265 270h1v1h-1zM12 271h1v1h-1zM245 271h1v1h-1zM269 271h1v1h-1zM13 272h1v1h-1zM246 272h1v1h-1zM272 272h1v1h-1zM252 273h3v1h-3zM16 274h1v1h-1zM252 274h2v1h-2zM276 274h1v1h-1zM17 275h1v1h-1zM249 275h1v1h-1zM270 275h1v1h-1zM18 276h1v1h-1zM248 276h1v1h-1zM273 276h1v1h-1zM250 277h1v1h-1zM275 277h1v1h-1zM21 278h1v1h-1zM22 279h1v1h-1zM23 280h1v1h-1zM25 281h1v1h-1zM26 282h1v1h-1zM27 283h1v1h-1zM28 284h2v1h-2zM30 285h1v1h-1zM31 286h1v1h-1zM32 287h2v1h-2zM34 288h1v1h-1zM35 289h1v1h-1zM36 290h2v1h-2zM38 291h1v1h-1zM39 292h1v1h-1zM40 293h2v1h-2zM42 294h2v1h-2zM44 295h1v2h-1zM45 297h2v1h-2zM50 298h3v1h-3zM51 299h1v1h-1zM50 300h1v1h-1zM49 301h2v2h-2zM52 303h8v1h-8zM62 304h2v1h-2zM61 305h1v1h-1zM58 306h1v1h-1zM55 307h1v1h-1zM53 308h1v1h-1zM52 309h2v1h-2zM130 309h14v1h-14zM55 310h2v1h-2zM101 310h2v1h-2zM65 311h3v1h-3zM90 311h2v1h-2zM78 312h9v1h-9z"/>
<path fill="#c4ff33" d="M264 166h22v1h-22zM253 167h20v1h-20zM280 167h12v1h-12zM244 168h11v1h-11zM289 168h7v1h-7zM236 169h9v1h-9zM295 169h6v1h-6zM228 170h8v1h-8zM300 170h8v1h-8zM217 171h8v1h-8zM306 171h9v1h-9zM196 172h21v1h-21zM313 172h8v1h-8zM176 173h31v1h-31zM319 173h6v1h-6zM172 174h29v1h-29zM244 174h43v1h-43zM323 174h8v1h-8zM169 175h32v1h-32zM234 175h14v1h-14zM254 175h7v1h-7zM284 175h11v1h-11zM328 175h9v1h-9zM167 176h39v1h-39zM226 176h10v1h-10zM293 176h9v1h-9zM335 176h2v1h-2zM165 177h44v1h-44zM212 177h17v1h-17zM300 177h8v1h-8zM163 178h60v1h-60zM307 178h7v1h-7zM162 179h42v1h-42zM207 179h10v1h-10zM312 179h6v1h-6zM160 180h13v1h-13zM177 180h20v1h-20zM207 180h3v1h-3zM317 180h5v1h-5zM159 181h12v1h-12zM178 181h16v1h-16zM321 181h5v1h-5zM157 182h13v1h-13zM179 182h14v1h-14zM325 182h6v1h-6zM155 183h14v1h-14zM179 183h13v1h-13zM329 183h8v1h-8zM153 184h15v1h-15zM333 184h4v1h-4zM151 185h16v1h-16zM180 184h12v3h-12zM149 186h17v1h-17zM146 187h18v1h-18zM181 187h10v2h-10zM144 188h18v1h-18zM244 188h9v1h-9zM260 188h8v1h-8zM142 189h18v1h-18zM233 189h5v1h-5zM274 189h9v1h-9zM182 189h9v2h-9zM140 190h18v1h-18zM225 190h4v1h-4zM286 190h6v1h-6zM137 191h19v1h-19zM185 191h9v1h-9zM210 191h10v1h-10zM294 191h5v1h-5zM133 192h20v1h-20zM196 192h9v1h-9zM301 192h3v1h-3zM129 193h21v1h-21zM305 193h4v1h-4zM124 194h24v1h-24zM310 194h3v1h-3zM119 195h26v1h-26zM315 195h3v1h-3zM114 196h27v1h-27zM319 196h3v1h-3zM109 197h27v1h-27zM237 197h6v1h-6zM250 197h4v1h-4zM323 197h4v1h-4zM104 198h25v1h-25zM229 198h5v1h-5zM257 198h9v1h-9zM328 198h5v1h-5zM102 199h20v1h-20zM222 199h5v1h-5zM274 199h7v1h-7zM335 199h2v1h-2zM99 200h16v1h-16zM207 200h2v1h-2zM215 200h6v1h-6zM282 200h4v1h-4zM95 201h13v1h-13zM201 201h7v1h-7zM209 201h6v1h-6zM287 201h3v1h-3zM90 202h13v1h-13zM195 202h8v1h-8zM209 202h1v1h-1zM291 202h3v1h-3zM87 203h12v1h-12zM188 203h10v1h-10zM295 203h3v1h-3zM80 204h16v1h-16zM183 204h9v1h-9zM298 204h5v1h-5zM306 204h1v1h-1zM76 205h12v1h-12zM179 205h8v1h-8zM303 205h3v1h-3zM307 205h4v1h-4zM71 206h13v1h-13zM175 206h8v1h-8zM312 206h4v1h-4zM67 207h10v1h-10zM172 207h7v1h-7zM316 207h5v1h-5zM63 208h9v1h-9zM169 208h7v1h-7zM234 208h7v1h-7zM253 208h4v1h-4zM322 208h5v1h-5zM60 209h7v1h-7zM168 209h5v1h-5zM216 209h8v1h-8zM265 209h8v1h-8zM327 209h6v1h-6zM57 210h6v1h-6zM168 210h3v1h-3zM279 210h4v1h-4zM333 210h4v1h-4zM54 211h6v1h-6zM167 211h2v1h-2zM200 211h4v1h-4zM292 211h6v1h-6zM52 212h4v1h-4zM166 212h2v1h-2zM194 212h3v1h-3zM302 212h2v1h-2zM50 213h3v1h-3zM165 213h2v1h-2zM190 213h2v1h-2zM306 213h2v1h-2zM49 214h2v1h-2zM164 214h2v1h-2zM186 214h2v1h-2zM311 214h2v1h-2zM47 215h2v1h-2zM162 215h3v1h-3zM181 215h3v1h-3zM317 215h2v1h-2zM46 216h2v1h-2zM161 216h3v1h-3zM177 216h3v1h-3zM322 216h3v1h-3zM44 217h2v1h-2zM160 217h3v1h-3zM170 217h5v1h-5zM329 217h3v1h-3zM43 218h2v1h-2zM159 218h3v1h-3zM164 218h5v1h-5zM335 218h2v1h-2zM41 219h2v1h-2zM158 219h6v1h-6zM223 219h9v1h-9zM258 219h6v1h-6zM40 220h2v1h-2zM158 220h2v1h-2zM207 220h3v1h-3zM269 220h3v1h-3zM38 221h2v1h-2zM203 221h1v1h-1zM275 221h3v1h-3zM37 222h2v1h-2zM280 222h2v1h-2zM36 223h1v1h-1zM197 223h2v1h-2zM285 223h2v1h-2zM34 224h2v1h-2zM194 224h1v1h-1zM289 224h2v1h-2zM293 224h1v1h-1zM33 225h1v1h-1zM191 225h1v1h-1zM224 225h2v1h-2zM237 225h6v1h-6zM246 225h3v1h-3zM296 225h2v1h-2zM31 226h2v1h-2zM188 226h1v1h-1zM201 226h1v1h-1zM258 226h4v1h-4zM301 226h2v1h-2zM30 227h1v1h-1zM184 227h2v1h-2zM197 227h1v1h-1zM278 227h2v1h-2zM306 227h2v1h-2zM29 228h1v1h-1zM181 228h1v1h-1zM193 228h1v1h-1zM286 228h1v1h-1zM310 228h2v1h-2zM27 229h2v1h-2zM178 229h1v1h-1zM189 229h1v1h-1zM292 229h1v1h-1zM314 229h2v1h-2zM26 230h1v1h-1zM174 230h2v1h-2zM185 230h1v1h-1zM297 230h1v1h-1zM317 230h2v1h-2zM25 231h1v1h-1zM170 231h2v1h-2zM304 231h2v1h-2zM320 231h2v1h-2zM23 232h1v1h-1zM167 232h2v1h-2zM178 232h1v1h-1zM312 232h2v1h-2zM322 232h4v1h-4zM22 233h1v1h-1zM164 233h2v1h-2zM174 233h1v1h-1zM318 233h12v1h-12zM21 234h1v1h-1zM162 234h2v1h-2zM170 234h1v1h-1zM327 234h7v1h-7zM160 235h2v1h-2zM164 235h2v1h-2zM215 235h2v1h-2zM227 235h6v1h-6zM18 236h1v1h-1zM159 236h3v1h-3zM209 236h2v1h-2zM254 236h3v1h-3zM17 237h1v1h-1zM158 237h1v1h-1zM202 237h2v1h-2zM265 237h2v1h-2zM192 238h2v1h-2zM272 238h4v1h-4zM14 239h1v1h-1zM186 239h1v1h-1zM281 239h2v1h-2zM13 240h1v1h-1zM180 240h1v1h-1zM287 240h1v1h-1zM176 241h1v1h-1zM190 241h2v1h-2zM229 241h3v1h-3zM291 241h2v1h-2zM172 242h1v1h-1zM182 242h1v1h-1zM253 242h2v1h-2zM295 242h3v1h-3zM9 243h1v1h-1zM169 243h1v1h-1zM175 243h2v1h-2zM273 243h3v1h-3zM301 243h2v1h-2zM166 244h5v1h-5zM284 244h1v1h-1zM305 244h2v1h-2zM6 245h1v1h-1zM290 245h1v1h-1zM309 245h1v1h-1zM4 246h1v1h-1zM312 246h1v1h-1zM302 247h1v1h-1zM315 247h1v1h-1zM307 248h1v1h-1zM318 248h3v1h-3zM311 249h1v1h-1zM323 249h4v1h-4zM330 249h3v1h-3zM335 249h2v1h-2zM243 250h3v1h-3zM253 250h2v1h-2zM316 250h2v1h-2zM237 251h2v1h-2zM259 251h1v1h-1zM321 251h2v1h-2zM230 252h1v1h-1zM269 252h2v1h-2zM326 252h2v1h-2zM174 253h4v1h-4zM225 253h3v1h-3zM275 253h2v1h-2zM207 253h1v2h-1zM227 254h12v1h-12zM280 254h1v1h-1zM333 254h1v1h-1zM249 255h5v1h-5zM270 255h4v1h-4zM283 255h2v1h-2zM280 256h1v1h-1zM286 256h2v1h-2zM201 257h1v1h-1zM283 257h1v1h-1zM289 257h1v1h-1zM286 258h1v1h-1zM288 259h1v1h-1zM294 259h2v1h-2zM311 260h1v1h-1zM318 260h5v1h-5zM291 261h1v1h-1zM193 262h2v1h-2zM205 262h1v1h-1zM292 262h1v1h-1zM208 263h2v1h-2zM291 263h1v1h-1zM313 263h21v1h-21zM0 264h1v1h-1zM198 264h1v1h-1zM208 264h7v1h-7zM295 264h1v1h-1zM311 264h1v1h-1zM292 265h1v1h-1zM302 265h2v1h-2zM307 265h1v1h-1zM289 266h1v1h-1zM7 267h1v1h-1zM288 267h2v1h-2zM288 268h1v1h-1zM259 269h3v1h-3zM11 270h1v1h-1zM246 270h2v1h-2zM266 270h1v1h-1zM244 271h1v1h-1zM270 271h1v1h-1zM14 272h1v1h-1zM244 272h2v1h-2zM273 272h1v1h-1zM15 273h1v1h-1zM248 273h4v1h-4zM275 273h2v1h-2zM250 274h2v1h-2zM277 274h1v1h-1zM18 275h1v1h-1zM248 275h1v1h-1zM271 275h6v1h-6zM19 276h1v1h-1zM247 276h1v1h-1zM274 276h1v1h-1zM20 277h1v1h-1zM249 277h1v1h-1zM22 278h1v1h-1zM258 278h6v1h-6zM23 279h1v1h-1zM24 280h1v1h-1zM26 281h1v1h-1zM27 282h1v1h-1zM28 283h1v1h-1zM30 284h1v1h-1zM31 285h1v1h-1zM32 286h2v1h-2zM34 287h1v1h-1zM35 288h2v1h-2zM36 289h2v1h-2zM38 290h2v1h-2zM39 291h2v1h-2zM40 292h2v1h-2zM42 293h3v1h-3zM44 294h2v1h-2zM45 295h1v1h-1zM45 296h2v1h-2zM47 297h7v1h-7zM53 298h1v1h-1zM52 299h2v1h-2zM51 300h2v1h-2zM51 301h1v1h-1zM51 302h2v1h-2zM60 303h6v1h-6zM64 304h2v1h-2zM62 305h1v1h-1zM59 306h1v1h-1zM56 307h2v1h-2zM54 308h2v2h-2zM122 309h8v1h-8zM144 309h35v1h-35zM316 309h21v1h-21zM57 310h3v1h-3zM99 310h2v1h-2zM68 311h3v1h-3zM89 311h1v1h-1z"/>
<path fill="#d1ff26" d="M273 167h7v1h-7zM255 168h34v1h-34zM245 169h50v1h-50zM236 170h64v1h-64zM225 171h81v1h-81zM217 172h96v1h-96zM207 173h112v1h-112zM201 174h43v1h-43zM287 174h36v1h-36zM201 175h33v1h-33zM295 175h33v1h-33zM206 176h20v1h-20zM302 176h33v1h-33zM209 177h3v1h-3zM308 177h29v1h-29zM314 178h23v1h-23zM318 179h19v1h-19zM173 180h4v1h-4zM322 180h15v1h-15zM171 181h7v1h-7zM326 181h11v1h-11zM170 182h9v1h-9zM331 182h6v1h-6zM169 183h10v1h-10zM168 184h12v1h-12zM167 185h13v1h-13zM166 186h14v1h-14zM164 187h17v1h-17zM162 188h19v1h-19zM160 189h22v1h-22zM238 189h36v1h-36zM158 190h24v1h-24zM229 190h6v1h-6zM275 190h11v1h-11zM156 191h29v1h-29zM220 191h6v1h-6zM286 191h8v1h-8zM153 192h17v1h-17zM177 192h19v1h-19zM205 192h11v1h-11zM294 192h7v1h-7zM150 193h16v1h-16zM301 193h4v1h-4zM148 194h14v1h-14zM306 194h4v1h-4zM145 195h13v1h-13zM310 195h5v1h-5zM141 196h13v1h-13zM239 196h13v1h-13zM315 196h4v1h-4zM136 197h14v1h-14zM230 197h7v1h-7zM254 197h6v1h-6zM319 197h4v1h-4zM129 198h17v1h-17zM221 198h8v1h-8zM266 198h14v1h-14zM324 198h4v1h-4zM122 199h20v1h-20zM203 199h6v1h-6zM211 199h11v1h-11zM281 199h5v1h-5zM329 199h6v1h-6zM115 200h22v1h-22zM195 200h12v1h-12zM209 200h6v1h-6zM286 200h5v1h-5zM336 200h1v1h-1zM108 201h22v1h-22zM188 201h13v1h-13zM290 201h5v1h-5zM103 202h20v1h-20zM181 202h14v1h-14zM294 202h5v1h-5zM99 203h18v1h-18zM176 203h12v1h-12zM298 203h6v1h-6zM306 203h1v1h-1zM96 204h14v1h-14zM172 204h11v1h-11zM303 204h3v1h-3zM307 204h5v1h-5zM88 205h17v1h-17zM168 205h11v1h-11zM311 205h6v1h-6zM84 206h16v1h-16zM168 206h7v1h-7zM316 206h6v1h-6zM77 207h18v1h-18zM167 207h5v1h-5zM321 207h7v1h-7zM72 208h13v1h-13zM167 208h2v1h-2zM241 208h12v1h-12zM327 208h7v1h-7zM67 209h11v1h-11zM166 209h2v1h-2zM224 209h9v1h-9zM256 209h9v1h-9zM333 209h4v1h-4zM63 210h10v1h-10zM165 210h3v1h-3zM209 210h7v1h-7zM273 210h6v1h-6zM60 211h8v1h-8zM165 211h2v1h-2zM204 211h4v1h-4zM285 211h7v1h-7zM56 212h7v1h-7zM164 212h2v1h-2zM197 212h3v1h-3zM298 212h4v1h-4zM53 213h6v1h-6zM163 213h2v1h-2zM192 213h3v1h-3zM305 213h1v1h-1zM51 214h5v1h-5zM162 214h2v1h-2zM188 214h2v1h-2zM309 214h2v1h-2zM49 215h3v1h-3zM160 215h2v1h-2zM184 215h2v1h-2zM315 215h2v1h-2zM48 216h2v1h-2zM159 216h2v1h-2zM180 216h3v1h-3zM320 216h2v1h-2zM46 217h3v1h-3zM158 217h2v1h-2zM175 217h4v1h-4zM326 217h3v1h-3zM45 218h2v1h-2zM157 218h2v1h-2zM169 218h5v1h-5zM241 218h10v1h-10zM332 218h3v1h-3zM43 219h2v1h-2zM156 219h2v1h-2zM164 219h4v1h-4zM216 219h7v1h-7zM264 219h4v1h-4zM42 220h2v1h-2zM155 220h3v1h-3zM160 220h3v1h-3zM206 220h1v1h-1zM272 220h3v1h-3zM40 221h2v1h-2zM154 221h6v1h-6zM202 221h1v1h-1zM278 221h2v1h-2zM39 222h2v1h-2zM154 222h3v1h-3zM200 222h1v1h-1zM282 222h3v1h-3zM37 223h2v1h-2zM153 223h2v1h-2zM196 223h1v1h-1zM287 223h2v1h-2zM36 224h1v1h-1zM193 224h1v1h-1zM291 224h2v1h-2zM294 224h2v1h-2zM34 225h2v1h-2zM190 225h1v1h-1zM243 225h3v1h-3zM298 225h3v1h-3zM33 226h1v1h-1zM186 226h2v1h-2zM202 226h2v1h-2zM254 226h4v1h-4zM303 226h3v1h-3zM31 227h2v1h-2zM183 227h1v1h-1zM275 227h3v1h-3zM308 227h2v1h-2zM30 228h1v1h-1zM179 228h2v1h-2zM194 228h1v1h-1zM284 228h2v1h-2zM312 228h2v1h-2zM29 229h1v1h-1zM176 229h2v1h-2zM190 229h1v1h-1zM290 229h2v1h-2zM316 229h2v1h-2zM27 230h1v1h-1zM172 230h2v1h-2zM186 230h1v1h-1zM295 230h2v1h-2zM319 230h2v1h-2zM26 231h1v1h-1zM168 231h2v1h-2zM182 231h1v1h-1zM302 231h2v1h-2zM322 231h2v1h-2zM24 232h2v1h-2zM165 232h2v1h-2zM310 232h2v1h-2zM326 232h3v1h-3zM23 233h1v1h-1zM162 233h2v1h-2zM175 233h1v1h-1zM316 233h2v1h-2zM330 233h5v1h-5zM22 234h1v1h-1zM160 234h2v1h-2zM171 234h1v1h-1zM323 234h4v1h-4zM334 234h3v1h-3zM20 235h1v1h-1zM159 235h1v1h-1zM166 235h1v1h-1zM213 235h2v1h-2zM233 235h14v1h-14zM331 235h6v1h-6zM19 236h1v1h-1zM157 236h2v1h-2zM162 236h1v1h-1zM207 236h2v1h-2zM257 236h4v1h-4zM156 237h2v1h-2zM159 237h1v1h-1zM198 237h1v1h-1zM200 237h2v1h-2zM267 237h2v1h-2zM16 238h1v1h-1zM155 238h3v1h-3zM190 238h2v1h-2zM276 238h3v1h-3zM15 239h1v1h-1zM154 239h2v1h-2zM184 239h2v1h-2zM283 239h2v1h-2zM179 240h1v1h-1zM288 240h2v1h-2zM12 241h1v1h-1zM175 241h1v1h-1zM192 241h6v1h-6zM209 241h6v1h-6zM225 241h4v1h-4zM293 241h1v1h-1zM11 242h1v1h-1zM171 242h1v1h-1zM183 242h2v1h-2zM250 242h3v1h-3zM298 242h2v1h-2zM168 243h1v1h-1zM177 243h2v1h-2zM265 243h8v1h-8zM303 243h1v1h-1zM8 244h1v1h-1zM165 244h1v1h-1zM171 244h2v1h-2zM282 244h2v1h-2zM307 244h1v1h-1zM163 245h4v1h-4zM289 245h1v1h-1zM310 245h2v1h-2zM296 246h1v1h-1zM313 246h2v1h-2zM2 247h1v1h-1zM300 247h2v1h-2zM316 247h3v1h-3zM306 248h1v1h-1zM321 248h4v1h-4zM310 249h1v1h-1zM327 249h3v1h-3zM333 249h2v1h-2zM242 250h1v1h-1zM255 250h1v1h-1zM315 250h1v1h-1zM235 251h2v1h-2zM260 251h4v1h-4zM320 251h1v1h-1zM189 252h11v1h-11zM205 252h1v1h-1zM228 252h2v1h-2zM271 252h1v1h-1zM324 252h2v1h-2zM171 253h3v1h-3zM215 253h10v1h-10zM277 253h1v1h-1zM329 253h1v1h-1zM220 254h7v1h-7zM281 254h1v1h-1zM332 254h1v1h-1zM206 255h1v1h-1zM242 255h7v1h-7zM254 255h2v1h-2zM265 255h5v1h-5zM285 255h1v1h-1zM162 256h1v1h-1zM204 256h1v1h-1zM278 256h2v1h-2zM288 256h1v1h-1zM167 257h1v1h-1zM282 257h1v1h-1zM290 257h1v1h-1zM176 258h16v1h-16zM285 258h1v1h-1zM292 258h1v1h-1zM296 259h4v1h-4zM289 260h1v1h-1zM312 260h6v1h-6zM193 261h9v1h-9zM290 261h1v1h-1zM192 262h1v1h-1zM206 262h2v1h-2zM291 262h1v1h-1zM194 263h1v1h-1zM210 263h3v1h-3zM1 264h1v1h-1zM215 264h2v1h-2zM290 264h1v1h-1zM312 264h1v1h-1zM4 265h1v1h-1zM217 265h4v1h-4zM289 265h1v1h-1zM300 265h2v1h-2zM308 265h1v1h-1zM288 266h1v1h-1zM291 266h1v1h-1zM9 268h1v1h-1zM287 268h1v1h-1zM10 269h1v1h-1zM255 269h4v1h-4zM262 269h1v1h-1zM286 269h2v1h-2zM236 270h2v1h-2zM245 270h1v1h-1zM267 270h1v1h-1zM13 271h1v1h-1zM239 271h5v1h-5zM271 271h1v1h-1zM242 272h2v1h-2zM274 272h1v1h-1zM16 273h1v1h-1zM245 273h3v1h-3zM277 273h1v1h-1zM280 273h2v1h-2zM17 274h1v1h-1zM249 274h1v1h-1zM278 274h2v1h-2zM247 275h1v1h-1zM277 275h1v1h-1zM20 276h1v1h-1zM275 276h2v1h-2zM21 277h1v1h-1zM248 277h1v1h-1zM276 277h1v1h-1zM23 278h1v1h-1zM257 278h1v1h-1zM264 278h2v1h-2zM269 278h5v1h-5zM24 279h1v1h-1zM25 280h1v1h-1zM27 281h1v1h-1zM28 282h1v1h-1zM29 283h2v1h-2zM31 284h1v1h-1zM32 285h2v1h-2zM34 286h1v1h-1zM35 287h2v1h-2zM37 288h1v1h-1zM38 289h2v1h-2zM40 290h2v1h-2zM41 291h2v1h-2zM42 292h3v1h-3zM45 293h3v1h-3zM46 294h2v2h-2zM47 296h3v1h-3zM54 297h2v2h-2zM54 299h1v1h-1zM53 300h1v1h-1zM52 301h2v1h-2zM53 302h3v1h-3zM66 303h3v1h-3zM66 304h2v1h-2zM63 305h2v1h-2zM60 306h2v1h-2zM58 307h1v1h-1zM56 308h1v1h-1zM56 309h2v1h-2zM116 309h6v1h-6zM179 309h137v1h-137zM60 310h3v1h-3zM97 310h2v1h-2zM71 311h5v1h-5zM87 311h2v1h-2z"/>
<path fill="#deff19" d="M235 190h40v1h-40zM226 191h9v1h-9zM274 191h12v1h-12zM170 192h7v1h-7zM216 192h9v1h-9zM284 192h10v1h-10zM166 193h49v1h-49zM292 193h9v1h-9zM162 194h39v1h-39zM299 194h7v1h-7zM158 195h14v1h-14zM238 195h12v1h-12zM304 195h6v1h-6zM154 196h13v1h-13zM208 196h1v1h-1zM228 196h11v1h-11zM252 196h7v1h-7zM309 196h6v1h-6zM150 197h13v1h-13zM194 197h36v1h-36zM260 197h22v1h-22zM313 197h6v1h-6zM146 198h14v1h-14zM183 198h38v1h-38zM280 198h8v1h-8zM318 198h6v1h-6zM142 199h15v1h-15zM175 199h28v1h-28zM209 199h2v1h-2zM286 199h7v1h-7zM323 199h6v1h-6zM137 200h16v1h-16zM168 200h27v1h-27zM291 200h7v1h-7zM328 200h8v1h-8zM130 201h18v1h-18zM167 201h21v1h-21zM295 201h8v1h-8zM334 201h3v1h-3zM123 202h21v1h-21zM166 202h15v1h-15zM299 202h11v1h-11zM117 203h23v1h-23zM165 203h11v1h-11zM304 203h2v1h-2zM307 203h8v1h-8zM110 204h24v1h-24zM165 204h7v1h-7zM312 204h8v1h-8zM105 205h22v1h-22zM165 205h3v1h-3zM317 205h8v1h-8zM100 206h20v1h-20zM164 206h4v1h-4zM322 206h9v1h-9zM95 207h19v1h-19zM328 207h9v1h-9zM164 207h3v2h-3zM85 208h23v1h-23zM334 208h3v1h-3zM78 209h25v1h-25zM164 209h2v1h-2zM233 209h23v1h-23zM73 210h21v1h-21zM216 210h8v1h-8zM260 210h13v1h-13zM163 210h2v2h-2zM68 211h13v1h-13zM208 211h2v1h-2zM278 211h7v1h-7zM63 212h11v1h-11zM162 212h2v1h-2zM200 212h5v1h-5zM291 212h7v1h-7zM59 213h9v1h-9zM160 213h3v1h-3zM195 213h3v1h-3zM302 213h3v1h-3zM56 214h7v1h-7zM159 214h3v1h-3zM190 214h4v1h-4zM306 214h3v1h-3zM52 215h7v1h-7zM158 215h2v1h-2zM186 215h3v1h-3zM312 215h3v1h-3zM50 216h5v1h-5zM157 216h2v1h-2zM183 216h2v1h-2zM318 216h2v1h-2zM49 217h3v1h-3zM156 217h2v1h-2zM179 217h3v1h-3zM323 217h3v1h-3zM47 218h3v1h-3zM155 218h2v1h-2zM174 218h4v1h-4zM234 218h7v1h-7zM251 218h14v1h-14zM329 218h3v1h-3zM45 219h3v1h-3zM154 219h2v1h-2zM168 219h5v1h-5zM210 219h6v1h-6zM268 219h4v1h-4zM335 219h2v1h-2zM44 220h2v1h-2zM153 220h2v1h-2zM163 220h3v1h-3zM204 220h2v1h-2zM275 220h3v1h-3zM42 221h3v1h-3zM152 221h2v1h-2zM160 221h2v1h-2zM201 221h1v1h-1zM280 221h3v1h-3zM41 222h2v1h-2zM151 222h3v1h-3zM157 222h2v1h-2zM198 222h2v1h-2zM285 222h2v1h-2zM39 223h2v1h-2zM150 223h3v1h-3zM155 223h2v1h-2zM195 223h1v1h-1zM289 223h3v1h-3zM293 223h1v1h-1zM37 224h3v1h-3zM150 224h5v1h-5zM192 224h1v1h-1zM296 224h3v1h-3zM36 225h2v1h-2zM149 225h5v1h-5zM188 225h2v1h-2zM301 225h3v1h-3zM34 226h2v1h-2zM149 226h3v1h-3zM185 226h1v1h-1zM204 226h5v1h-5zM251 226h3v1h-3zM306 226h2v1h-2zM33 227h2v1h-2zM149 227h1v1h-1zM181 227h2v1h-2zM198 227h2v1h-2zM269 227h6v1h-6zM310 227h2v1h-2zM31 228h2v1h-2zM177 228h2v1h-2zM195 228h1v1h-1zM282 228h2v1h-2zM314 228h2v1h-2zM30 229h1v1h-1zM173 229h3v1h-3zM191 229h1v1h-1zM289 229h1v1h-1zM318 229h2v1h-2zM28 230h2v1h-2zM169 230h3v1h-3zM187 230h1v1h-1zM293 230h2v1h-2zM321 230h2v1h-2zM27 231h1v1h-1zM165 231h3v1h-3zM183 231h1v1h-1zM300 231h2v1h-2zM324 231h3v1h-3zM26 232h1v1h-1zM162 232h3v1h-3zM179 232h1v1h-1zM308 232h2v1h-2zM329 232h4v1h-4zM24 233h1v1h-1zM160 233h2v1h-2zM176 233h1v1h-1zM315 233h1v1h-1zM335 233h2v1h-2zM23 234h1v1h-1zM159 234h1v1h-1zM172 234h1v1h-1zM320 234h3v1h-3zM21 235h1v1h-1zM157 235h2v1h-2zM167 235h1v1h-1zM211 235h2v1h-2zM247 235h5v1h-5zM327 235h4v1h-4zM20 236h1v1h-1zM156 236h1v1h-1zM163 236h1v1h-1zM205 236h2v1h-2zM261 236h4v1h-4zM335 236h2v1h-2zM18 237h1v1h-1zM155 237h1v1h-1zM160 237h1v1h-1zM196 237h2v1h-2zM199 237h1v1h-1zM269 237h4v1h-4zM17 238h1v1h-1zM154 238h1v1h-1zM158 238h1v1h-1zM189 238h1v1h-1zM279 238h3v1h-3zM153 239h1v1h-1zM156 239h1v1h-1zM183 239h1v1h-1zM285 239h2v1h-2zM14 240h1v1h-1zM152 240h3v1h-3zM178 240h1v1h-1zM290 240h2v1h-2zM13 241h1v1h-1zM151 241h3v1h-3zM174 241h1v1h-1zM198 241h11v1h-11zM215 241h10v1h-10zM294 241h2v1h-2zM297 241h1v1h-1zM150 242h2v1h-2zM170 242h1v1h-1zM185 242h1v1h-1zM247 242h3v1h-3zM300 242h2v1h-2zM10 243h1v1h-1zM167 243h1v1h-1zM179 243h1v1h-1zM260 243h5v1h-5zM304 243h2v1h-2zM164 244h1v1h-1zM173 244h2v1h-2zM280 244h2v1h-2zM308 244h2v1h-2zM7 245h1v1h-1zM162 245h1v1h-1zM167 245h2v1h-2zM287 245h2v1h-2zM312 245h1v1h-1zM5 246h1v1h-1zM160 246h4v1h-4zM294 246h2v1h-2zM315 246h2v1h-2zM3 247h1v1h-1zM159 247h1v1h-1zM299 247h1v1h-1zM319 247h3v1h-3zM304 248h2v1h-2zM325 248h3v1h-3zM329 248h4v1h-4zM335 248h2v1h-2zM309 249h1v1h-1zM241 250h1v1h-1zM256 250h1v1h-1zM314 250h1v1h-1zM232 251h3v1h-3zM264 251h3v1h-3zM318 251h2v1h-2zM185 252h4v1h-4zM200 252h2v1h-2zM203 252h2v1h-2zM206 252h2v1h-2zM224 252h4v1h-4zM272 252h2v1h-2zM323 252h1v1h-1zM170 253h1v1h-1zM208 253h7v1h-7zM278 253h2v1h-2zM328 253h1v1h-1zM208 254h12v1h-12zM282 254h2v1h-2zM331 254h1v1h-1zM162 255h1v1h-1zM207 255h1v1h-1zM241 255h1v1h-1zM256 255h3v1h-3zM261 255h4v1h-4zM286 255h1v1h-1zM335 255h2v1h-2zM205 256h1v1h-1zM275 256h3v1h-3zM202 257h1v1h-1zM281 257h1v1h-1zM291 257h1v1h-1zM173 258h3v1h-3zM192 258h9v1h-9zM284 258h1v1h-1zM293 258h1v1h-1zM287 259h1v1h-1zM300 259h4v1h-4zM288 260h1v1h-1zM191 261h2v1h-2zM202 261h3v1h-3zM190 262h2v1h-2zM208 262h1v1h-1zM290 262h1v2h-1zM193 263h1v1h-1zM213 263h1v1h-1zM2 264h1v1h-1zM197 264h1v1h-1zM217 264h2v1h-2zM289 264h1v1h-1zM313 264h4v1h-4zM333 264h4v1h-4zM215 265h2v1h-2zM221 265h2v1h-2zM293 265h1v1h-1zM298 265h2v1h-2zM309 265h1v1h-1zM6 266h1v1h-1zM221 266h5v1h-5zM8 267h1v1h-1zM227 267h3v1h-3zM287 267h1v1h-1zM290 267h1v1h-1zM230 268h4v1h-4zM286 268h1v1h-1zM289 268h1v1h-1zM11 269h1v1h-1zM232 269h5v1h-5zM250 269h5v1h-5zM263 269h2v1h-2zM285 269h1v1h-1zM12 270h1v1h-1zM235 270h1v1h-1zM238 270h7v1h-7zM268 270h2v1h-2zM284 270h3v1h-3zM238 271h1v1h-1zM272 271h1v1h-1zM282 271h3v1h-3zM15 272h1v1h-1zM240 272h2v1h-2zM275 272h2v1h-2zM280 272h4v1h-4zM243 273h2v1h-2zM278 273h2v1h-2zM18 274h1v1h-1zM246 274h3v1h-3zM280 274h1v1h-1zM19 275h1v1h-1zM278 275h1v1h-1zM246 275h1v2h-1zM21 276h1v1h-1zM277 276h1v2h-1zM22 277h1v1h-1zM247 277h1v1h-1zM24 278h1v1h-1zM255 278h2v1h-2zM266 278h3v1h-3zM274 278h3v1h-3zM25 279h1v1h-1zM26 280h2v1h-2zM28 281h1v1h-1zM29 282h2v1h-2zM31 283h1v1h-1zM32 284h2v1h-2zM34 285h2v1h-2zM35 286h2v1h-2zM37 287h2v1h-2zM38 288h3v1h-3zM40 289h3v1h-3zM42 290h2v1h-2zM43 291h2v1h-2zM45 292h4v1h-4zM48 293h2v3h-2zM50 296h8v1h-8zM56 297h2v1h-2zM56 298h1v1h-1zM55 299h1v1h-1zM54 300h1v2h-1zM56 302h13v1h-13zM69 303h3v1h-3zM68 304h2v1h-2zM65 305h2v1h-2zM62 306h1v1h-1zM59 307h2v1h-2zM57 308h2v1h-2zM58 309h2v1h-2zM109 309h7v1h-7zM63 310h3v1h-3zM95 310h2v1h-2zM76 311h11v1h-11z"/>
<path fill="#ebff0c" d="M235 191h39v1h-39zM225 192h27v1h-27zM266 192h18v1h-18zM215 193h34v1h-34zM272 193h20v1h-20zM201 194h54v1h-54zM273 194h26v1h-26zM172 195h66v1h-66zM250 195h54v1h-54zM167 196h41v1h-41zM209 196h19v1h-19zM259 196h50v1h-50zM163 197h31v1h-31zM282 197h31v1h-31zM160 198h23v1h-23zM288 198h30v1h-30zM157 199h18v1h-18zM293 199h30v1h-30zM153 200h15v1h-15zM298 200h30v1h-30zM148 201h19v1h-19zM303 201h31v1h-31zM144 202h22v1h-22zM310 202h27v1h-27zM140 203h25v1h-25zM315 203h22v1h-22zM134 204h31v1h-31zM320 204h17v1h-17zM127 205h38v1h-38zM325 205h12v1h-12zM120 206h44v1h-44zM331 206h6v1h-6zM114 207h50v1h-50zM108 208h56v1h-56zM103 209h61v1h-61zM94 210h37v1h-37zM153 210h10v1h-10zM224 210h19v1h-19zM249 210h11v1h-11zM81 211h40v1h-40zM154 211h9v1h-9zM210 211h10v1h-10zM267 211h11v1h-11zM74 212h40v1h-40zM155 212h7v1h-7zM205 212h4v1h-4zM281 212h10v1h-10zM68 213h24v1h-24zM95 213h9v1h-9zM155 213h5v1h-5zM198 213h5v1h-5zM296 213h6v1h-6zM63 214h15v1h-15zM155 214h4v1h-4zM194 214h3v1h-3zM304 214h2v1h-2zM59 215h11v1h-11zM154 215h4v1h-4zM189 215h3v1h-3zM309 215h3v1h-3zM55 216h9v1h-9zM153 216h4v1h-4zM185 216h3v1h-3zM315 216h3v1h-3zM52 217h7v1h-7zM152 217h4v1h-4zM182 217h3v1h-3zM244 217h18v1h-18zM320 217h3v1h-3zM50 218h5v1h-5zM151 218h4v1h-4zM178 218h3v1h-3zM220 218h14v1h-14zM265 218h5v1h-5zM325 218h4v1h-4zM48 219h3v1h-3zM151 219h3v1h-3zM173 219h4v1h-4zM206 219h4v1h-4zM272 219h4v1h-4zM332 219h3v1h-3zM46 220h3v1h-3zM150 220h3v1h-3zM166 220h6v1h-6zM203 220h1v1h-1zM278 220h4v1h-4zM45 221h2v1h-2zM149 221h3v1h-3zM162 221h3v1h-3zM200 221h1v1h-1zM283 221h3v1h-3zM43 222h3v1h-3zM148 222h3v1h-3zM159 222h2v1h-2zM196 222h2v1h-2zM287 222h4v1h-4zM41 223h3v1h-3zM157 223h1v1h-1zM193 223h2v1h-2zM292 223h1v1h-1zM294 223h4v1h-4zM147 223h3v2h-3zM40 224h2v1h-2zM155 224h2v1h-2zM190 224h2v1h-2zM299 224h3v1h-3zM38 225h2v1h-2zM154 225h1v1h-1zM186 225h2v1h-2zM304 225h3v1h-3zM146 225h3v2h-3zM36 226h2v1h-2zM152 226h1v1h-1zM182 226h3v1h-3zM209 226h28v1h-28zM248 226h3v1h-3zM308 226h3v1h-3zM35 227h2v1h-2zM145 227h4v1h-4zM150 227h2v1h-2zM179 227h2v1h-2zM200 227h1v1h-1zM262 227h7v1h-7zM312 227h3v1h-3zM33 228h2v1h-2zM145 228h5v1h-5zM175 228h2v1h-2zM196 228h1v1h-1zM279 228h3v1h-3zM316 228h2v1h-2zM31 229h2v1h-2zM145 229h4v1h-4zM170 229h3v1h-3zM192 229h1v1h-1zM287 229h2v1h-2zM320 229h2v1h-2zM30 230h1v1h-1zM144 230h3v1h-3zM166 230h3v1h-3zM188 230h1v1h-1zM292 230h1v1h-1zM323 230h3v1h-3zM28 231h2v1h-2zM144 231h1v1h-1zM163 231h2v1h-2zM184 231h1v1h-1zM297 231h3v1h-3zM327 231h4v1h-4zM27 232h1v1h-1zM160 232h2v1h-2zM180 232h1v1h-1zM305 232h3v1h-3zM333 232h4v1h-4zM25 233h2v1h-2zM159 233h1v1h-1zM313 233h2v1h-2zM24 234h1v1h-1zM157 234h2v1h-2zM173 234h1v1h-1zM216 234h16v1h-16zM318 234h2v1h-2zM22 235h1v1h-1zM156 235h1v1h-1zM168 235h1v1h-1zM209 235h2v1h-2zM252 235h5v1h-5zM324 235h3v1h-3zM21 236h1v1h-1zM155 236h1v1h-1zM164 236h2v1h-2zM202 236h3v1h-3zM265 236h3v1h-3zM331 236h4v1h-4zM19 237h1v1h-1zM154 237h1v1h-1zM161 237h1v1h-1zM193 237h3v1h-3zM273 237h5v1h-5zM18 238h1v1h-1zM153 238h1v1h-1zM159 238h1v1h-1zM187 238h2v1h-2zM282 238h2v1h-2zM16 239h1v1h-1zM152 239h1v1h-1zM157 239h1v1h-1zM181 239h2v1h-2zM287 239h3v1h-3zM15 240h1v1h-1zM151 240h1v1h-1zM155 240h1v1h-1zM177 240h1v1h-1zM292 240h2v1h-2zM150 241h1v1h-1zM154 241h1v1h-1zM173 241h1v1h-1zM296 241h1v1h-1zM298 241h2v1h-2zM12 242h1v1h-1zM149 242h1v1h-1zM152 242h1v1h-1zM169 242h1v1h-1zM186 242h3v1h-3zM238 242h9v1h-9zM302 242h2v1h-2zM148 243h3v1h-3zM166 243h1v1h-1zM180 243h2v1h-2zM257 243h3v1h-3zM306 243h2v1h-2zM9 244h1v1h-1zM147 244h3v1h-3zM163 244h1v1h-1zM175 244h2v1h-2zM278 244h2v1h-2zM310 244h2v1h-2zM147 245h1v1h-1zM161 245h1v1h-1zM169 245h2v1h-2zM286 245h1v1h-1zM313 245h3v1h-3zM159 246h1v1h-1zM164 246h1v1h-1zM292 246h2v1h-2zM317 246h3v1h-3zM158 247h1v1h-1zM160 247h2v1h-2zM298 247h1v1h-1zM322 247h4v1h-4zM336 247h1v1h-1zM0 248h1v1h-1zM157 248h3v1h-3zM303 248h1v1h-1zM328 248h1v1h-1zM333 248h2v1h-2zM156 249h1v1h-1zM308 249h1v1h-1zM239 250h2v1h-2zM257 250h2v1h-2zM312 250h2v1h-2zM230 251h2v1h-2zM267 251h2v1h-2zM317 251h1v1h-1zM181 252h4v1h-4zM202 252h1v1h-1zM208 252h16v1h-16zM274 252h2v1h-2zM321 252h2v1h-2zM168 253h2v1h-2zM280 253h1v1h-1zM326 253h2v1h-2zM164 254h1v1h-1zM284 254h1v1h-1zM330 254h1v1h-1zM227 255h2v1h-2zM239 255h2v1h-2zM259 255h2v1h-2zM287 255h1v1h-1zM334 255h1v1h-1zM206 256h1v1h-1zM271 256h4v1h-4zM289 256h1v1h-1zM166 257h1v1h-1zM203 257h1v1h-1zM279 257h2v1h-2zM172 258h1v1h-1zM201 258h1v1h-1zM283 258h1v1h-1zM294 258h3v1h-3zM185 259h15v1h-15zM286 259h1v1h-1zM304 259h7v1h-7zM319 259h18v1h-18zM187 260h15v1h-15zM187 261h4v1h-4zM205 261h2v1h-2zM289 261h1v1h-1zM187 262h3v1h-3zM209 262h3v1h-3zM191 263h2v1h-2zM214 263h2v1h-2zM289 263h1v1h-1zM196 264h1v1h-1zM219 264h1v1h-1zM317 264h16v1h-16zM5 265h1v1h-1zM201 265h6v1h-6zM212 265h3v1h-3zM223 265h1v1h-1zM288 265h1v1h-1zM294 265h4v1h-4zM310 265h2v1h-2zM219 266h2v1h-2zM226 266h2v1h-2zM287 266h1v1h-1zM292 266h1v1h-1zM224 267h3v1h-3zM230 267h2v1h-2zM10 268h1v1h-1zM229 268h1v1h-1zM234 268h1v1h-1zM231 269h1v1h-1zM237 269h2v1h-2zM247 269h3v1h-3zM265 269h1v1h-1zM284 269h1v1h-1zM288 269h1v1h-1zM13 270h1v1h-1zM234 270h1v1h-1zM270 270h1v1h-1zM283 270h1v1h-1zM14 271h1v1h-1zM237 271h1v1h-1zM273 271h2v1h-2zM281 271h1v1h-1zM285 271h1v1h-1zM16 272h1v1h-1zM239 272h1v1h-1zM277 272h3v1h-3zM17 273h1v1h-1zM242 273h1v1h-1zM282 273h1v1h-1zM19 274h1v1h-1zM243 274h3v1h-3zM20 275h1v1h-1zM279 275h1v1h-1zM245 275h1v2h-1zM22 276h1v1h-1zM278 276h1v1h-1zM23 277h1v1h-1zM246 277h1v1h-1zM278 277h2v1h-2zM25 278h1v1h-1zM252 278h1v1h-1zM254 278h1v1h-1zM277 278h1v1h-1zM26 279h2v1h-2zM28 280h1v1h-1zM29 281h2v1h-2zM31 282h2v1h-2zM32 283h2v1h-2zM34 284h2v1h-2zM36 285h2v1h-2zM37 286h2v1h-2zM39 287h2v1h-2zM41 288h2v1h-2zM153 288h4v1h-4zM43 289h2v1h-2zM148 289h3v1h-3zM44 290h2v1h-2zM143 290h3v1h-3zM45 291h5v1h-5zM139 291h3v1h-3zM49 292h2v1h-2zM134 292h3v1h-3zM50 293h1v1h-1zM129 293h3v1h-3zM50 294h2v1h-2zM123 294h3v1h-3zM50 295h5v1h-5zM118 295h3v1h-3zM58 296h3v1h-3zM112 296h3v1h-3zM58 297h2v1h-2zM106 297h3v1h-3zM57 298h2v1h-2zM56 299h2v1h-2zM55 300h2v1h-2zM55 301h3v1h-3zM69 302h6v1h-6zM72 303h2v1h-2zM70 304h2v1h-2zM67 305h2v1h-2zM63 306h2v1h-2zM61 307h2v1h-2zM59 308h3v1h-3zM60 309h3v1h-3zM103 309h6v1h-6zM66 310h5v1h-5zM93 310h2v1h-2z"/>
<path fill="#f8f500" d="M252 192h14v1h-14zM249 193h23v1h-23zM255 194h18v1h-18zM131 210h22v1h-22zM243 210h6v1h-6zM121 211h33v1h-33zM220 211h47v1h-47zM114 212h41v1h-41zM209 212h9v1h-9zM266 212h15v1h-15zM92 213h3v1h-3zM104 213h51v1h-51zM203 213h6v1h-6zM282 213h14v1h-14zM78 214h77v1h-77zM197 214h5v1h-5zM298 214h6v1h-6zM70 215h84v1h-84zM192 215h5v1h-5zM306 215h3v1h-3zM64 216h24v1h-24zM92 216h61v1h-61zM188 216h4v1h-4zM258 216h4v1h-4zM311 216h4v1h-4zM59 217h14v1h-14zM99 217h26v1h-26zM132 217h20v1h-20zM185 217h3v1h-3zM234 217h10v1h-10zM262 217h8v1h-8zM317 217h3v1h-3zM55 218h10v1h-10zM103 218h15v1h-15zM136 218h15v1h-15zM181 218h4v1h-4zM209 218h11v1h-11zM270 218h6v1h-6zM322 218h3v1h-3zM51 219h8v1h-8zM106 219h8v1h-8zM138 219h13v1h-13zM177 219h4v1h-4zM204 219h2v1h-2zM276 219h5v1h-5zM328 219h4v1h-4zM49 220h5v1h-5zM139 220h11v1h-11zM172 220h6v1h-6zM201 220h2v1h-2zM282 220h4v1h-4zM334 220h3v1h-3zM47 221h4v1h-4zM140 221h9v1h-9zM165 221h9v1h-9zM197 221h3v1h-3zM286 221h5v1h-5zM46 222h3v1h-3zM140 222h8v1h-8zM161 222h4v1h-4zM194 222h2v1h-2zM291 222h6v1h-6zM44 223h3v1h-3zM141 223h6v1h-6zM158 223h3v1h-3zM191 223h2v1h-2zM298 223h3v1h-3zM42 224h3v1h-3zM140 224h7v1h-7zM157 224h1v1h-1zM187 224h3v1h-3zM302 224h4v1h-4zM40 225h3v1h-3zM155 225h1v1h-1zM183 225h3v1h-3zM307 225h3v1h-3zM140 225h6v2h-6zM38 226h3v1h-3zM153 226h2v1h-2zM180 226h2v1h-2zM237 226h11v1h-11zM311 226h3v1h-3zM37 227h2v1h-2zM140 227h5v1h-5zM152 227h1v1h-1zM175 227h4v1h-4zM201 227h3v1h-3zM256 227h6v1h-6zM315 227h2v1h-2zM35 228h2v1h-2zM150 228h2v1h-2zM171 228h4v1h-4zM197 228h1v1h-1zM276 228h3v1h-3zM318 228h3v1h-3zM139 228h6v2h-6zM33 229h2v1h-2zM149 229h1v1h-1zM166 229h4v1h-4zM193 229h1v1h-1zM284 229h3v1h-3zM322 229h2v1h-2zM31 230h2v1h-2zM139 230h5v1h-5zM147 230h2v1h-2zM163 230h3v1h-3zM189 230h1v1h-1zM290 230h2v1h-2zM326 230h3v1h-3zM30 231h2v1h-2zM138 231h6v1h-6zM145 231h3v1h-3zM160 231h3v1h-3zM185 231h1v1h-1zM295 231h2v1h-2zM331 231h6v1h-6zM28 232h2v1h-2zM138 232h8v1h-8zM159 232h1v1h-1zM181 232h1v1h-1zM302 232h3v1h-3zM27 233h1v1h-1zM138 233h6v1h-6zM157 233h2v1h-2zM177 233h1v1h-1zM310 233h3v1h-3zM25 234h1v1h-1zM137 234h5v1h-5zM156 234h1v1h-1zM174 234h1v1h-1zM212 234h4v1h-4zM232 234h18v1h-18zM316 234h2v1h-2zM23 235h2v1h-2zM137 235h4v1h-4zM155 235h1v1h-1zM169 235h2v1h-2zM206 235h3v1h-3zM257 235h7v1h-7zM321 235h3v1h-3zM22 236h1v1h-1zM137 236h2v1h-2zM154 236h1v1h-1zM166 236h1v1h-1zM198 236h4v1h-4zM268 236h5v1h-5zM327 236h4v1h-4zM20 237h1v1h-1zM152 237h2v1h-2zM162 237h1v1h-1zM191 237h2v1h-2zM278 237h4v1h-4zM333 237h4v1h-4zM19 238h1v1h-1zM151 238h2v1h-2zM160 238h1v1h-1zM185 238h2v1h-2zM284 238h3v1h-3zM17 239h1v1h-1zM150 239h2v1h-2zM158 239h1v1h-1zM180 239h1v1h-1zM290 239h2v1h-2zM16 240h1v1h-1zM149 240h2v1h-2zM156 240h1v1h-1zM176 240h1v1h-1zM294 240h2v1h-2zM297 240h1v1h-1zM14 241h1v1h-1zM148 241h2v1h-2zM171 241h2v1h-2zM300 241h2v1h-2zM147 242h2v1h-2zM153 242h1v1h-1zM168 242h1v1h-1zM189 242h3v1h-3zM230 242h8v1h-8zM304 242h3v1h-3zM11 243h1v1h-1zM146 243h2v1h-2zM151 243h1v1h-1zM165 243h1v1h-1zM182 243h2v1h-2zM254 243h3v1h-3zM308 243h3v1h-3zM150 244h1v1h-1zM162 244h1v1h-1zM177 244h1v1h-1zM274 244h4v1h-4zM312 244h2v1h-2zM145 244h2v2h-2zM8 245h1v1h-1zM148 245h1v1h-1zM160 245h1v1h-1zM171 245h2v1h-2zM284 245h2v1h-2zM316 245h3v1h-3zM6 246h1v1h-1zM144 246h3v1h-3zM165 246h2v1h-2zM290 246h2v1h-2zM320 246h4v1h-4zM4 247h1v1h-1zM143 247h2v1h-2zM157 247h1v1h-1zM162 247h1v1h-1zM297 247h1v1h-1zM326 247h10v1h-10zM1 248h1v1h-1zM156 248h1v1h-1zM301 248h2v1h-2zM155 249h1v1h-1zM157 249h2v1h-2zM247 249h5v1h-5zM306 249h2v1h-2zM154 250h2v1h-2zM236 250h3v1h-3zM259 250h1v1h-1zM261 250h1v1h-1zM311 250h1v1h-1zM153 251h1v1h-1zM196 251h1v1h-1zM205 251h3v1h-3zM227 251h3v1h-3zM269 251h3v1h-3zM315 251h2v1h-2zM178 252h3v1h-3zM276 252h2v1h-2zM320 252h1v1h-1zM167 253h1v1h-1zM281 253h2v1h-2zM324 253h2v1h-2zM163 254h1v1h-1zM285 254h1v1h-1zM328 254h2v1h-2zM208 255h19v1h-19zM229 255h10v1h-10zM288 255h1v1h-1zM332 255h2v1h-2zM207 256h1v1h-1zM266 256h5v1h-5zM290 256h1v1h-1zM336 256h1v1h-1zM165 257h1v1h-1zM204 257h1v1h-1zM277 257h2v1h-2zM292 257h2v1h-2zM171 258h1v1h-1zM202 258h1v1h-1zM281 258h2v1h-2zM297 258h4v1h-4zM180 259h5v1h-5zM200 259h3v1h-3zM284 259h2v1h-2zM311 259h8v1h-8zM183 260h4v1h-4zM202 260h3v1h-3zM287 260h1v1h-1zM184 261h3v1h-3zM207 261h2v1h-2zM288 261h1v1h-1zM185 262h2v1h-2zM212 262h1v1h-1zM289 262h1v1h-1zM188 263h3v1h-3zM216 263h1v1h-1zM3 264h1v1h-1zM195 264h1v1h-1zM220 264h1v1h-1zM288 264h1v1h-1zM200 265h1v1h-1zM207 265h5v1h-5zM224 265h1v1h-1zM312 265h1v1h-1zM336 265h1v1h-1zM7 266h1v1h-1zM218 266h1v1h-1zM228 266h2v1h-2zM293 266h1v1h-1zM302 266h6v1h-6zM9 267h1v1h-1zM223 267h1v1h-1zM232 267h1v1h-1zM286 267h1v1h-1zM291 267h1v1h-1zM227 268h2v1h-2zM235 268h1v1h-1zM284 268h2v1h-2zM12 269h1v1h-1zM230 269h1v1h-1zM239 269h2v1h-2zM244 269h3v1h-3zM266 269h2v1h-2zM283 269h1v1h-1zM233 270h1v1h-1zM271 270h2v1h-2zM281 270h2v1h-2zM287 270h1v1h-1zM15 271h1v1h-1zM236 271h1v1h-1zM275 271h2v1h-2zM279 271h2v1h-2zM17 272h1v1h-1zM238 272h1v1h-1zM18 273h1v1h-1zM241 273h1v1h-1zM20 274h1v1h-1zM242 274h1v1h-1zM281 274h1v1h-1zM21 275h1v1h-1zM243 275h2v1h-2zM280 275h1v1h-1zM23 276h1v1h-1zM279 276h2v1h-2zM24 277h2v1h-2zM245 277h1v1h-1zM280 277h2v1h-2zM26 278h1v1h-1zM249 278h3v1h-3zM253 278h1v1h-1zM278 278h6v1h-6zM28 279h1v1h-1zM29 280h2v1h-2zM31 281h2v1h-2zM33 282h2v1h-2zM34 283h2v1h-2zM36 284h2v1h-2zM38 285h2v1h-2zM169 285h3v1h-3zM39 286h3v1h-3zM162 286h7v1h-7zM41 287h3v1h-3zM156 287h8v1h-8zM43 288h3v1h-3zM151 288h2v1h-2zM157 288h3v1h-3zM45 289h2v1h-2zM146 289h2v1h-2zM151 289h4v1h-4zM46 290h6v1h-6zM141 290h2v1h-2zM146 290h4v1h-4zM50 291h3v1h-3zM136 291h3v1h-3zM142 291h3v1h-3zM131 292h3v1h-3zM137 292h3v1h-3zM51 292h2v2h-2zM132 293h3v1h-3zM126 293h3v2h-3zM52 294h2v1h-2zM121 294h2v1h-2zM55 295h8v1h-8zM121 295h3v1h-3zM115 295h3v2h-3zM61 296h2v1h-2zM110 296h2v1h-2zM60 297h2v1h-2zM104 297h2v1h-2zM109 297h3v1h-3zM59 298h1v1h-1zM100 298h6v1h-6zM58 299h1v1h-1zM57 300h2v1h-2zM58 301h20v1h-20zM75 302h5v1h-5zM74 303h3v1h-3zM72 304h2v1h-2zM69 305h2v1h-2zM65 306h2v1h-2zM63 307h2v1h-2zM62 308h2v1h-2zM121 308h87v1h-87zM256 308h81v1h-81zM63 309h4v1h-4zM99 309h4v1h-4zM71 310h5v1h-5zM89 310h4v1h-4z"/>
<path fill="#ffe600" d="M218 212h48v1h-48zM209 213h12v1h-12zM246 213h36v1h-36zM202 214h10v1h-10zM252 214h46v1h-46zM197 215h8v1h-8zM249 215h20v1h-20zM296 215h10v1h-10zM88 216h4v1h-4zM192 216h6v1h-6zM237 216h21v1h-21zM262 216h11v1h-11zM306 216h5v1h-5zM73 217h26v1h-26zM125 217h7v1h-7zM188 217h5v1h-5zM210 217h24v1h-24zM270 217h8v1h-8zM313 217h4v1h-4zM65 218h38v1h-38zM118 218h18v1h-18zM185 218h4v1h-4zM204 218h5v1h-5zM276 218h7v1h-7zM318 218h4v1h-4zM59 219h18v1h-18zM80 219h4v1h-4zM90 219h16v1h-16zM114 219h24v1h-24zM181 219h5v1h-5zM201 219h3v1h-3zM281 219h7v1h-7zM323 219h5v1h-5zM54 220h14v1h-14zM94 220h45v1h-45zM178 220h5v1h-5zM198 220h3v1h-3zM286 220h6v1h-6zM329 220h5v1h-5zM51 221h9v1h-9zM99 221h41v1h-41zM174 221h6v1h-6zM195 221h2v1h-2zM291 221h7v1h-7zM334 221h3v1h-3zM49 222h5v1h-5zM101 222h39v1h-39zM165 222h12v1h-12zM192 222h2v1h-2zM297 222h5v1h-5zM47 223h4v1h-4zM102 223h39v1h-39zM161 223h8v1h-8zM188 223h3v1h-3zM301 223h5v1h-5zM45 224h3v1h-3zM103 224h37v1h-37zM158 224h3v1h-3zM183 224h4v1h-4zM306 224h3v1h-3zM43 225h3v1h-3zM104 225h36v1h-36zM156 225h2v1h-2zM179 225h4v1h-4zM310 225h3v1h-3zM41 226h3v1h-3zM105 226h13v1h-13zM128 226h12v1h-12zM155 226h1v1h-1zM173 226h7v1h-7zM314 226h3v1h-3zM39 227h3v1h-3zM106 227h10v1h-10zM129 227h11v1h-11zM153 227h2v1h-2zM170 227h5v1h-5zM204 227h11v1h-11zM250 227h6v1h-6zM317 227h3v1h-3zM37 228h3v1h-3zM107 228h6v1h-6zM129 228h10v1h-10zM152 228h1v1h-1zM165 228h6v1h-6zM198 228h2v1h-2zM268 228h8v1h-8zM321 228h2v1h-2zM35 229h3v1h-3zM150 229h2v1h-2zM162 229h4v1h-4zM194 229h2v1h-2zM281 229h3v1h-3zM324 229h4v1h-4zM130 229h9v2h-9zM33 230h3v1h-3zM149 230h1v1h-1zM160 230h3v1h-3zM190 230h1v1h-1zM288 230h2v1h-2zM329 230h8v1h-8zM32 231h2v1h-2zM148 231h1v1h-1zM158 231h2v1h-2zM186 231h1v1h-1zM293 231h2v1h-2zM30 232h2v1h-2zM146 232h2v1h-2zM157 232h2v1h-2zM182 232h1v1h-1zM299 232h3v1h-3zM130 231h8v3h-8zM28 233h2v1h-2zM144 233h2v1h-2zM156 233h1v1h-1zM178 233h1v1h-1zM217 233h13v1h-13zM307 233h3v1h-3zM26 234h2v1h-2zM142 234h3v1h-3zM154 234h2v1h-2zM175 234h1v1h-1zM209 234h3v1h-3zM250 234h8v1h-8zM314 234h2v1h-2zM25 235h1v1h-1zM141 235h2v1h-2zM153 235h2v1h-2zM171 235h1v1h-1zM202 235h4v1h-4zM264 235h5v1h-5zM319 235h2v1h-2zM130 234h7v3h-7zM23 236h1v1h-1zM139 236h2v1h-2zM152 236h2v1h-2zM167 236h1v1h-1zM195 236h3v1h-3zM273 236h7v1h-7zM324 236h3v1h-3zM21 237h2v1h-2zM129 237h10v1h-10zM151 237h1v1h-1zM163 237h2v1h-2zM189 237h2v1h-2zM282 237h4v1h-4zM330 237h3v1h-3zM20 238h1v1h-1zM129 238h9v1h-9zM150 238h1v1h-1zM161 238h1v1h-1zM183 238h2v1h-2zM287 238h4v1h-4zM335 238h2v1h-2zM18 239h1v1h-1zM129 239h7v1h-7zM149 239h1v1h-1zM159 239h1v1h-1zM178 239h2v1h-2zM292 239h3v1h-3zM17 240h1v1h-1zM129 240h5v1h-5zM148 240h1v1h-1zM157 240h1v1h-1zM174 240h2v1h-2zM296 240h1v1h-1zM298 240h3v1h-3zM15 241h1v1h-1zM129 241h4v1h-4zM147 241h1v1h-1zM155 241h1v1h-1zM170 241h1v1h-1zM302 241h4v1h-4zM13 242h1v1h-1zM129 242h2v1h-2zM146 242h1v1h-1zM154 242h1v1h-1zM167 242h1v1h-1zM192 242h7v1h-7zM209 242h8v1h-8zM222 242h8v1h-8zM307 242h3v1h-3zM12 243h1v1h-1zM145 243h1v1h-1zM152 243h1v1h-1zM164 243h1v1h-1zM184 243h2v1h-2zM249 243h5v1h-5zM311 243h2v1h-2zM10 244h1v1h-1zM144 244h1v1h-1zM151 244h1v1h-1zM161 244h1v1h-1zM178 244h2v1h-2zM264 244h10v1h-10zM314 244h4v1h-4zM143 245h2v1h-2zM149 245h1v1h-1zM173 245h3v1h-3zM282 245h2v1h-2zM319 245h4v1h-4zM142 246h2v1h-2zM147 246h2v1h-2zM158 246h1v1h-1zM167 246h2v1h-2zM288 246h2v1h-2zM324 246h13v1h-13zM142 247h1v1h-1zM145 247h1v1h-1zM163 247h1v1h-1zM294 247h3v1h-3zM2 248h1v1h-1zM141 248h3v1h-3zM155 248h1v1h-1zM160 248h1v1h-1zM299 248h2v1h-2zM154 249h1v1h-1zM159 249h1v1h-1zM242 249h5v1h-5zM252 249h4v1h-4zM305 249h1v1h-1zM153 250h1v1h-1zM156 250h2v1h-2zM232 250h4v1h-4zM260 250h1v1h-1zM262 250h4v1h-4zM309 250h2v1h-2zM152 251h1v1h-1zM154 251h1v1h-1zM188 251h8v1h-8zM197 251h8v1h-8zM208 251h19v1h-19zM272 251h3v1h-3zM314 251h1v1h-1zM151 252h2v1h-2zM173 252h5v1h-5zM278 252h2v1h-2zM318 252h2v1h-2zM149 253h2v1h-2zM166 253h1v1h-1zM283 253h1v1h-1zM322 253h2v1h-2zM286 254h1v1h-1zM326 254h2v1h-2zM289 255h1v1h-1zM330 255h2v1h-2zM161 256h1v1h-1zM208 256h1v1h-1zM243 256h15v1h-15zM261 256h5v1h-5zM291 256h1v1h-1zM334 256h2v1h-2zM205 257h2v1h-2zM273 257h4v1h-4zM294 257h2v1h-2zM170 258h1v1h-1zM280 258h1v1h-1zM301 258h5v1h-5zM336 258h1v1h-1zM203 258h2v2h-2zM175 259h5v1h-5zM283 259h1v1h-1zM180 260h3v1h-3zM205 260h3v1h-3zM286 260h1v1h-1zM181 261h3v1h-3zM209 261h2v1h-2zM287 261h1v1h-1zM182 262h3v1h-3zM213 262h2v1h-2zM288 262h1v2h-1zM0 263h1v1h-1zM185 263h3v1h-3zM217 263h1v1h-1zM4 264h1v1h-1zM194 264h1v1h-1zM221 264h2v1h-2zM6 265h1v1h-1zM199 265h1v1h-1zM225 265h2v1h-2zM287 265h1v1h-1zM313 265h8v1h-8zM331 265h5v1h-5zM8 266h1v1h-1zM216 266h2v1h-2zM230 266h1v1h-1zM286 266h1v1h-1zM294 266h1v1h-1zM298 266h4v1h-4zM308 266h2v1h-2zM221 267h2v1h-2zM233 267h1v1h-1zM285 267h1v1h-1zM292 267h1v1h-1zM11 268h1v1h-1zM226 268h1v1h-1zM236 268h2v1h-2zM252 268h1v1h-1zM254 268h10v1h-10zM283 268h1v1h-1zM290 268h1v1h-1zM13 269h1v1h-1zM241 269h3v1h-3zM268 269h2v1h-2zM282 269h1v1h-1zM289 269h1v1h-1zM14 270h1v1h-1zM232 270h1v1h-1zM273 270h2v1h-2zM280 270h1v1h-1zM16 271h1v1h-1zM235 271h1v1h-1zM277 271h2v1h-2zM286 271h1v1h-1zM18 272h1v1h-1zM284 272h1v1h-1zM19 273h1v1h-1zM240 273h1v1h-1zM283 273h1v1h-1zM21 274h1v1h-1zM241 274h1v1h-1zM22 275h2v1h-2zM242 275h1v1h-1zM24 276h2v1h-2zM244 276h1v1h-1zM281 276h1v1h-1zM26 277h1v1h-1zM282 277h2v1h-2zM27 278h2v1h-2zM247 278h2v1h-2zM284 278h2v1h-2zM29 279h2v1h-2zM258 279h6v1h-6zM272 279h4v1h-4zM281 279h5v1h-5zM31 280h2v1h-2zM33 281h2v1h-2zM35 282h2v1h-2zM36 283h3v1h-3zM38 284h3v1h-3zM173 284h6v1h-6zM40 285h3v1h-3zM166 285h3v1h-3zM172 285h5v1h-5zM42 286h4v1h-4zM160 286h2v1h-2zM169 286h4v1h-4zM44 287h4v1h-4zM155 287h1v1h-1zM164 287h4v1h-4zM46 288h3v1h-3zM149 288h2v1h-2zM160 288h3v1h-3zM47 289h7v1h-7zM145 289h1v1h-1zM155 289h3v1h-3zM52 290h3v1h-3zM140 290h1v1h-1zM150 290h3v1h-3zM135 291h1v1h-1zM145 291h2v1h-2zM53 291h2v2h-2zM130 292h1v1h-1zM140 292h2v1h-2zM53 293h3v1h-3zM125 293h1v1h-1zM135 293h2v1h-2zM54 294h13v1h-13zM119 294h2v1h-2zM129 294h2v1h-2zM63 295h3v1h-3zM114 295h1v1h-1zM124 295h2v1h-2zM63 296h2v1h-2zM108 296h2v1h-2zM118 296h2v1h-2zM62 297h1v1h-1zM102 297h2v1h-2zM112 297h2v1h-2zM60 298h2v1h-2zM98 298h2v1h-2zM106 298h2v1h-2zM59 299h2v1h-2zM95 299h6v1h-6zM59 300h4v1h-4zM78 301h7v1h-7zM80 302h3v1h-3zM77 303h3v1h-3zM74 304h3v1h-3zM71 305h2v1h-2zM67 306h3v1h-3zM65 307h3v1h-3zM64 308h3v1h-3zM114 308h7v1h-7zM208 308h48v1h-48zM67 309h4v1h-4zM96 309h3v1h-3zM76 310h13v1h-13z"/>
<path fill="#ffd700" d="M221 213h25v1h-25zM212 214h40v1h-40zM205 215h44v1h-44zM269 215h27v1h-27zM198 216h39v1h-39zM273 216h33v1h-33zM193 217h17v1h-17zM278 217h20v1h-20zM305 217h8v1h-8zM189 218h15v1h-15zM283 218h13v1h-13zM313 218h5v1h-5zM77 219h3v1h-3zM84 219h6v1h-6zM186 219h15v1h-15zM288 219h10v1h-10zM318 219h5v1h-5zM68 220h26v1h-26zM183 220h15v1h-15zM292 220h8v1h-8zM323 220h6v1h-6zM60 221h39v1h-39zM180 221h15v1h-15zM298 221h5v1h-5zM330 221h4v1h-4zM54 222h20v1h-20zM78 222h2v1h-2zM88 222h13v1h-13zM177 222h15v1h-15zM302 222h5v1h-5zM334 222h3v1h-3zM51 223h11v1h-11zM95 223h7v1h-7zM169 223h19v1h-19zM306 223h4v1h-4zM48 224h6v1h-6zM97 224h6v1h-6zM161 224h22v1h-22zM309 224h5v1h-5zM46 225h5v1h-5zM98 225h6v1h-6zM158 225h21v1h-21zM313 225h4v1h-4zM44 226h4v1h-4zM99 226h6v1h-6zM118 226h10v1h-10zM156 226h17v1h-17zM317 226h3v1h-3zM42 227h3v1h-3zM100 227h6v1h-6zM116 227h13v1h-13zM155 227h2v1h-2zM161 227h9v1h-9zM215 227h35v1h-35zM320 227h3v1h-3zM40 228h3v1h-3zM101 228h6v1h-6zM113 228h16v1h-16zM153 228h2v1h-2zM160 228h5v1h-5zM200 228h5v1h-5zM257 228h11v1h-11zM323 228h4v1h-4zM38 229h3v1h-3zM102 229h28v1h-28zM152 229h2v1h-2zM158 229h4v1h-4zM196 229h2v1h-2zM276 229h5v1h-5zM328 229h9v1h-9zM36 230h3v1h-3zM103 230h27v1h-27zM150 230h2v1h-2zM157 230h3v1h-3zM191 230h2v1h-2zM284 230h4v1h-4zM34 231h2v1h-2zM104 231h26v1h-26zM149 231h2v1h-2zM156 231h2v1h-2zM187 231h2v1h-2zM290 231h3v1h-3zM32 232h2v1h-2zM148 232h2v1h-2zM155 232h2v1h-2zM183 232h1v1h-1zM295 232h4v1h-4zM105 232h25v2h-25zM30 233h2v1h-2zM146 233h2v1h-2zM154 233h2v1h-2zM179 233h1v1h-1zM211 233h6v1h-6zM230 233h24v1h-24zM302 233h5v1h-5zM28 234h2v1h-2zM106 234h24v1h-24zM145 234h2v1h-2zM153 234h1v1h-1zM176 234h1v1h-1zM204 234h5v1h-5zM258 234h10v1h-10zM311 234h3v1h-3zM26 235h2v1h-2zM107 235h12v1h-12zM120 235h10v1h-10zM143 235h2v1h-2zM152 235h1v1h-1zM172 235h1v1h-1zM198 235h4v1h-4zM269 235h9v1h-9zM316 235h3v1h-3zM24 236h2v1h-2zM108 236h5v1h-5zM121 236h9v1h-9zM141 236h3v1h-3zM151 236h1v1h-1zM168 236h1v1h-1zM192 236h3v1h-3zM280 236h5v1h-5zM321 236h3v1h-3zM23 237h1v1h-1zM139 237h3v1h-3zM150 237h1v1h-1zM165 237h1v1h-1zM186 237h3v1h-3zM286 237h4v1h-4zM326 237h4v1h-4zM122 237h7v2h-7zM21 238h1v1h-1zM138 238h2v1h-2zM149 238h1v1h-1zM162 238h1v1h-1zM181 238h2v1h-2zM291 238h4v1h-4zM331 238h4v1h-4zM19 239h1v1h-1zM136 239h2v1h-2zM148 239h1v1h-1zM160 239h1v1h-1zM177 239h1v1h-1zM295 239h5v1h-5zM335 239h2v1h-2zM18 240h1v1h-1zM134 240h2v1h-2zM147 240h1v1h-1zM158 240h1v1h-1zM173 240h1v1h-1zM301 240h4v1h-4zM16 241h1v1h-1zM133 241h1v1h-1zM146 241h1v1h-1zM156 241h1v1h-1zM169 241h1v1h-1zM306 241h3v1h-3zM123 239h6v4h-6zM14 242h1v1h-1zM131 242h2v1h-2zM144 242h2v1h-2zM155 242h1v1h-1zM166 242h1v1h-1zM199 242h10v1h-10zM217 242h5v1h-5zM310 242h3v1h-3zM124 243h7v1h-7zM143 243h2v1h-2zM153 243h1v1h-1zM163 243h1v1h-1zM186 243h3v1h-3zM238 243h11v1h-11zM313 243h5v1h-5zM11 244h1v1h-1zM124 244h5v1h-5zM142 244h2v1h-2zM152 244h1v1h-1zM180 244h2v1h-2zM257 244h7v1h-7zM318 244h5v1h-5zM335 244h2v1h-2zM9 245h1v1h-1zM124 245h4v1h-4zM142 245h1v1h-1zM150 245h1v1h-1zM159 245h1v1h-1zM176 245h2v1h-2zM278 245h4v1h-4zM323 245h14v1h-14zM7 246h1v1h-1zM141 246h1v1h-1zM149 246h1v1h-1zM157 246h1v1h-1zM169 246h4v1h-4zM286 246h2v1h-2zM5 247h1v1h-1zM140 247h2v1h-2zM146 247h2v1h-2zM156 247h1v1h-1zM164 247h2v1h-2zM291 247h3v1h-3zM3 248h1v1h-1zM140 248h1v1h-1zM144 248h1v1h-1zM161 248h2v1h-2zM297 248h2v1h-2zM140 249h3v1h-3zM239 249h3v1h-3zM256 249h3v1h-3zM302 249h3v1h-3zM152 250h1v1h-1zM158 250h2v1h-2zM205 250h3v1h-3zM228 250h4v1h-4zM266 250h5v1h-5zM307 250h2v1h-2zM151 251h1v1h-1zM155 251h1v1h-1zM182 251h6v1h-6zM275 251h3v1h-3zM312 251h2v1h-2zM150 252h1v1h-1zM153 252h1v1h-1zM170 252h3v1h-3zM280 252h2v1h-2zM316 252h2v1h-2zM148 253h1v1h-1zM151 253h1v1h-1zM165 253h1v1h-1zM284 253h2v1h-2zM320 253h2v1h-2zM148 254h2v1h-2zM162 254h1v1h-1zM287 254h2v1h-2zM324 254h2v1h-2zM161 255h1v1h-1zM290 255h1v1h-1zM328 255h2v1h-2zM209 256h8v1h-8zM218 256h13v1h-13zM240 256h3v1h-3zM258 256h3v1h-3zM292 256h2v1h-2zM331 256h3v1h-3zM207 257h2v1h-2zM268 257h5v1h-5zM296 257h5v1h-5zM333 257h4v1h-4zM169 258h1v1h-1zM205 258h2v1h-2zM278 258h2v1h-2zM306 258h7v1h-7zM315 258h21v1h-21zM173 259h2v1h-2zM205 259h3v1h-3zM281 259h2v1h-2zM177 260h3v1h-3zM208 260h2v1h-2zM284 260h2v1h-2zM178 261h3v1h-3zM211 261h2v1h-2zM286 261h1v1h-1zM179 262h3v1h-3zM215 262h1v1h-1zM1 263h1v1h-1zM182 263h3v1h-3zM218 263h2v1h-2zM287 262h1v3h-1zM192 264h2v1h-2zM223 264h1v1h-1zM197 265h2v1h-2zM227 265h2v1h-2zM286 265h1v1h-1zM321 265h10v1h-10zM214 266h2v1h-2zM231 266h2v1h-2zM285 266h1v1h-1zM295 266h3v1h-3zM310 266h2v1h-2zM10 267h1v1h-1zM220 267h1v1h-1zM234 267h2v1h-2zM283 267h2v1h-2zM12 268h1v1h-1zM225 268h1v1h-1zM238 268h3v1h-3zM246 268h6v1h-6zM253 268h1v1h-1zM264 268h3v1h-3zM282 268h1v1h-1zM291 268h1v1h-1zM229 269h1v1h-1zM270 269h3v1h-3zM280 269h2v1h-2zM15 270h1v1h-1zM231 270h1v1h-1zM275 270h5v1h-5zM288 270h1v1h-1zM17 271h1v1h-1zM234 271h1v1h-1zM19 272h1v1h-1zM237 272h1v1h-1zM285 272h1v1h-1zM20 273h2v1h-2zM239 273h1v1h-1zM22 274h1v1h-1zM240 274h1v1h-1zM282 274h1v1h-1zM24 275h1v1h-1zM241 275h1v1h-1zM281 275h1v1h-1zM26 276h1v1h-1zM243 276h1v1h-1zM282 276h1v1h-1zM27 277h2v1h-2zM244 277h1v1h-1zM284 277h1v1h-1zM29 278h2v1h-2zM246 278h1v1h-1zM286 278h1v1h-1zM31 279h2v1h-2zM256 279h2v1h-2zM264 279h8v1h-8zM276 279h5v1h-5zM286 279h2v1h-2zM33 280h2v1h-2zM35 281h3v1h-3zM37 282h3v1h-3zM39 283h3v1h-3zM41 284h3v1h-3zM171 284h2v1h-2zM179 284h5v1h-5zM43 285h5v1h-5zM164 285h2v1h-2zM177 285h4v1h-4zM46 286h4v1h-4zM159 286h1v1h-1zM173 286h4v1h-4zM48 287h3v1h-3zM153 287h2v1h-2zM168 287h4v1h-4zM49 288h7v1h-7zM148 288h1v1h-1zM163 288h3v1h-3zM54 289h4v1h-4zM143 289h2v1h-2zM158 289h3v1h-3zM138 290h2v1h-2zM153 290h2v1h-2zM133 291h2v1h-2zM147 291h3v1h-3zM55 290h2v3h-2zM128 292h2v1h-2zM142 292h2v1h-2zM56 293h14v1h-14zM123 293h2v1h-2zM137 293h2v1h-2zM67 294h3v1h-3zM118 294h1v1h-1zM131 294h3v1h-3zM66 295h2v1h-2zM112 295h2v1h-2zM126 295h2v1h-2zM65 296h2v1h-2zM106 296h2v1h-2zM120 296h2v1h-2zM63 297h2v1h-2zM100 297h2v1h-2zM114 297h2v1h-2zM62 298h2v1h-2zM94 298h4v1h-4zM108 298h2v1h-2zM61 299h3v1h-3zM88 299h7v1h-7zM101 299h2v1h-2zM63 300h34v1h-34zM85 301h6v1h-6zM83 302h4v1h-4zM80 303h3v1h-3zM77 304h2v1h-2zM73 305h3v1h-3zM70 306h3v1h-3zM68 307h3v1h-3zM67 308h4v1h-4zM108 308h6v1h-6zM71 309h6v1h-6zM91 309h5v1h-5z"/>
<path fill="#ffc800" d="M298 217h7v1h-7zM296 218h17v1h-17zM298 219h20v1h-20zM300 220h10v1h-10zM316 220h7v1h-7zM303 221h8v1h-8zM321 221h9v1h-9zM74 222h4v1h-4zM80 222h8v1h-8zM307 222h6v1h-6zM327 222h7v1h-7zM62 223h33v1h-33zM310 223h6v1h-6zM332 223h5v1h-5zM54 224h43v1h-43zM314 224h5v1h-5zM336 224h1v1h-1zM51 225h19v1h-19zM86 225h12v1h-12zM317 225h5v1h-5zM48 226h8v1h-8zM94 226h5v1h-5zM320 226h5v1h-5zM45 227h6v1h-6zM95 227h5v1h-5zM157 227h4v1h-4zM323 227h5v1h-5zM43 228h5v1h-5zM96 228h5v1h-5zM155 228h5v1h-5zM205 228h52v1h-52zM327 228h10v1h-10zM41 229h4v1h-4zM97 229h5v1h-5zM154 229h4v1h-4zM198 229h4v1h-4zM262 229h14v1h-14zM39 230h3v1h-3zM98 230h5v1h-5zM152 230h5v1h-5zM193 230h3v1h-3zM279 230h5v1h-5zM36 231h4v1h-4zM100 231h4v1h-4zM151 231h5v1h-5zM189 231h2v1h-2zM286 231h4v1h-4zM34 232h3v1h-3zM150 232h5v1h-5zM184 232h2v1h-2zM212 232h41v1h-41zM291 232h4v1h-4zM101 232h4v2h-4zM32 233h3v1h-3zM148 233h6v1h-6zM180 233h2v1h-2zM205 233h6v1h-6zM254 233h14v1h-14zM296 233h6v1h-6zM30 234h2v1h-2zM102 234h4v1h-4zM147 234h6v1h-6zM177 234h1v1h-1zM200 234h4v1h-4zM268 234h12v1h-12zM305 234h6v1h-6zM28 235h2v1h-2zM103 235h4v1h-4zM119 235h1v1h-1zM145 235h7v1h-7zM173 235h2v1h-2zM194 235h4v1h-4zM278 235h8v1h-8zM313 235h3v1h-3zM26 236h2v1h-2zM103 236h5v1h-5zM113 236h8v1h-8zM144 236h7v1h-7zM169 236h2v1h-2zM189 236h3v1h-3zM285 236h6v1h-6zM318 236h3v1h-3zM24 237h2v1h-2zM142 237h8v1h-8zM166 237h2v1h-2zM184 237h2v1h-2zM290 237h6v1h-6zM322 237h4v1h-4zM104 237h18v2h-18zM22 238h2v1h-2zM140 238h4v1h-4zM146 238h3v1h-3zM163 238h2v1h-2zM179 238h2v1h-2zM295 238h6v1h-6zM326 238h5v1h-5zM20 239h2v1h-2zM105 239h18v1h-18zM138 239h3v1h-3zM145 239h3v1h-3zM161 239h1v1h-1zM175 239h2v1h-2zM300 239h5v1h-5zM331 239h4v1h-4zM19 240h1v1h-1zM106 240h17v1h-17zM136 240h2v1h-2zM144 240h3v1h-3zM159 240h1v1h-1zM171 240h2v1h-2zM305 240h5v1h-5zM334 240h3v1h-3zM17 241h1v1h-1zM134 241h2v1h-2zM143 241h3v1h-3zM157 241h1v1h-1zM167 241h2v1h-2zM309 241h5v1h-5zM335 241h2v1h-2zM107 241h16v2h-16zM15 242h1v1h-1zM133 242h1v1h-1zM142 242h2v1h-2zM156 242h1v1h-1zM164 242h2v1h-2zM313 242h6v1h-6zM334 242h3v1h-3zM13 243h1v1h-1zM111 243h13v1h-13zM131 243h1v1h-1zM142 243h1v1h-1zM154 243h1v1h-1zM162 243h1v1h-1zM189 243h6v1h-6zM226 243h12v1h-12zM318 243h7v1h-7zM332 243h5v1h-5zM116 244h8v1h-8zM129 244h2v1h-2zM141 244h1v1h-1zM153 244h1v1h-1zM160 244h1v1h-1zM182 244h3v1h-3zM251 244h6v1h-6zM323 244h12v1h-12zM10 245h1v1h-1zM117 245h7v1h-7zM128 245h1v1h-1zM140 245h2v1h-2zM151 245h2v1h-2zM158 245h1v1h-1zM178 245h2v1h-2zM270 245h8v1h-8zM8 246h1v1h-1zM118 246h10v1h-10zM140 246h1v1h-1zM150 246h1v1h-1zM173 246h3v1h-3zM283 246h3v1h-3zM6 247h1v1h-1zM119 247h7v1h-7zM148 247h2v1h-2zM155 247h1v1h-1zM166 247h3v1h-3zM288 247h3v1h-3zM119 248h5v1h-5zM145 248h2v1h-2zM154 248h1v1h-1zM163 248h1v1h-1zM245 248h9v1h-9zM295 248h2v1h-2zM139 247h1v3h-1zM120 249h1v1h-1zM153 249h1v1h-1zM160 249h1v1h-1zM232 249h7v1h-7zM259 249h8v1h-8zM300 249h2v1h-2zM138 250h3v1h-3zM191 250h14v1h-14zM208 250h20v1h-20zM271 250h4v1h-4zM305 250h2v1h-2zM150 251h1v1h-1zM156 251h2v1h-2zM177 251h5v1h-5zM278 251h3v1h-3zM310 251h2v1h-2zM149 252h1v1h-1zM154 252h1v1h-1zM168 252h2v1h-2zM282 252h3v1h-3zM314 252h2v1h-2zM152 253h1v1h-1zM164 253h1v1h-1zM286 253h2v1h-2zM318 253h2v1h-2zM147 254h1v1h-1zM150 254h1v1h-1zM289 254h1v1h-1zM321 254h3v1h-3zM146 255h2v1h-2zM291 255h2v1h-2zM325 255h3v1h-3zM217 256h1v1h-1zM231 256h9v1h-9zM294 256h4v1h-4zM327 256h4v1h-4zM162 257h3v1h-3zM209 257h3v1h-3zM251 257h5v1h-5zM262 257h6v1h-6zM301 257h5v1h-5zM327 257h6v1h-6zM168 258h1v1h-1zM207 258h3v1h-3zM273 258h5v1h-5zM313 258h2v1h-2zM172 259h1v1h-1zM208 259h2v1h-2zM279 259h2v1h-2zM173 260h4v1h-4zM210 260h2v1h-2zM282 260h2v1h-2zM175 261h3v1h-3zM213 261h1v1h-1zM284 261h2v1h-2zM176 262h3v1h-3zM216 262h1v1h-1zM286 262h1v2h-1zM2 263h1v1h-1zM178 263h4v1h-4zM220 263h2v1h-2zM5 264h1v1h-1zM186 264h6v1h-6zM224 264h2v1h-2zM285 264h2v1h-2zM7 265h1v1h-1zM196 265h1v1h-1zM229 265h2v1h-2zM284 265h2v1h-2zM9 266h1v1h-1zM212 266h2v1h-2zM233 266h1v1h-1zM283 266h2v1h-2zM312 266h6v1h-6zM332 266h5v1h-5zM11 267h1v1h-1zM218 267h2v1h-2zM236 267h2v1h-2zM258 267h5v1h-5zM282 267h1v1h-1zM293 267h1v1h-1zM300 267h9v1h-9zM13 268h1v1h-1zM223 268h2v1h-2zM241 268h5v1h-5zM267 268h4v1h-4zM280 268h2v1h-2zM14 269h1v1h-1zM228 269h1v1h-1zM273 269h7v1h-7zM290 269h1v1h-1zM16 270h1v1h-1zM230 270h1v1h-1zM289 270h1v1h-1zM18 271h1v1h-1zM233 271h1v1h-1zM287 271h1v1h-1zM20 272h1v1h-1zM236 272h1v1h-1zM22 273h1v1h-1zM238 273h1v1h-1zM284 273h1v1h-1zM23 274h2v1h-2zM25 275h2v1h-2zM240 275h1v1h-1zM282 275h1v1h-1zM27 276h2v1h-2zM240 276h3v1h-3zM283 276h1v1h-1zM29 277h3v1h-3zM285 277h1v1h-1zM31 278h3v1h-3zM245 278h1v1h-1zM287 278h1v1h-1zM33 279h3v1h-3zM250 279h6v1h-6zM288 279h1v1h-1zM35 280h4v1h-4zM283 280h6v1h-6zM38 281h3v1h-3zM40 282h4v1h-4zM104 282h5v1h-5zM42 283h4v1h-4zM103 283h3v1h-3zM178 283h12v1h-12zM44 284h7v1h-7zM169 284h2v1h-2zM184 284h4v1h-4zM48 285h4v1h-4zM163 285h1v1h-1zM181 285h4v1h-4zM50 286h3v1h-3zM157 286h2v1h-2zM177 286h4v1h-4zM51 287h9v1h-9zM152 287h1v1h-1zM172 287h3v1h-3zM56 288h5v1h-5zM147 288h1v1h-1zM166 288h3v1h-3zM58 289h2v1h-2zM142 289h1v1h-1zM161 289h3v1h-3zM137 290h1v1h-1zM155 290h3v1h-3zM57 290h3v2h-3zM132 291h1v1h-1zM150 291h2v1h-2zM57 292h18v1h-18zM127 292h1v1h-1zM144 292h3v1h-3zM70 293h4v1h-4zM121 293h2v1h-2zM139 293h2v1h-2zM70 294h2v1h-2zM116 294h2v1h-2zM134 294h2v1h-2zM68 295h3v1h-3zM110 295h2v1h-2zM128 295h2v1h-2zM67 296h2v1h-2zM104 296h2v1h-2zM122 296h2v1h-2zM65 297h3v1h-3zM97 297h3v1h-3zM116 297h2v1h-2zM64 298h3v1h-3zM89 298h5v1h-5zM110 298h2v1h-2zM64 299h24v1h-24zM103 299h3v1h-3zM97 300h3v1h-3zM91 301h4v1h-4zM87 302h4v1h-4zM83 303h4v1h-4zM79 304h4v1h-4zM76 305h3v1h-3zM73 306h3v1h-3zM71 307h4v1h-4zM125 307h212v1h-212zM71 308h5v1h-5zM101 308h7v1h-7zM77 309h14v1h-14z"/>
<path fill="#ffb900" d="M310 220h6v1h-6zM311 221h10v1h-10zM313 222h14v1h-14zM316 223h16v1h-16zM319 224h17v1h-17zM70 225h16v1h-16zM322 225h15v1h-15zM56 226h38v1h-38zM325 226h12v1h-12zM51 227h44v1h-44zM328 227h9v1h-9zM48 228h13v1h-13zM82 228h14v1h-14zM45 229h6v1h-6zM92 229h5v1h-5zM202 229h60v1h-60zM42 230h5v1h-5zM93 230h5v1h-5zM196 230h83v1h-83zM40 231h4v1h-4zM94 231h6v1h-6zM191 231h4v1h-4zM206 231h80v1h-80zM37 232h4v1h-4zM95 232h6v1h-6zM186 232h3v1h-3zM203 232h9v1h-9zM253 232h38v1h-38zM35 233h3v1h-3zM97 233h4v1h-4zM182 233h2v1h-2zM199 233h6v1h-6zM268 233h28v1h-28zM32 234h4v1h-4zM98 234h4v1h-4zM178 234h2v1h-2zM194 234h6v1h-6zM280 234h25v1h-25zM30 235h3v1h-3zM99 235h4v1h-4zM175 235h1v1h-1zM190 235h4v1h-4zM286 235h13v1h-13zM303 235h10v1h-10zM28 236h3v1h-3zM100 236h3v1h-3zM171 236h2v1h-2zM185 236h4v1h-4zM291 236h10v1h-10zM314 236h4v1h-4zM26 237h2v1h-2zM100 237h4v1h-4zM168 237h2v1h-2zM180 237h4v1h-4zM296 237h9v1h-9zM317 237h5v1h-5zM24 238h2v1h-2zM101 238h3v1h-3zM144 238h2v1h-2zM165 238h2v1h-2zM176 238h3v1h-3zM301 238h7v1h-7zM321 238h5v1h-5zM22 239h2v1h-2zM101 239h4v1h-4zM141 239h4v1h-4zM162 239h2v1h-2zM172 239h3v1h-3zM305 239h7v1h-7zM324 239h7v1h-7zM20 240h2v1h-2zM102 240h4v1h-4zM138 240h6v1h-6zM160 240h2v1h-2zM168 240h3v1h-3zM310 240h9v1h-9zM326 240h8v1h-8zM18 241h1v1h-1zM136 241h7v1h-7zM158 241h2v1h-2zM165 241h2v1h-2zM314 241h21v1h-21zM103 241h4v2h-4zM16 242h1v1h-1zM134 242h2v1h-2zM157 242h1v1h-1zM162 242h2v1h-2zM319 242h15v1h-15zM140 242h2v2h-2zM14 243h1v1h-1zM104 243h7v1h-7zM132 243h2v1h-2zM155 243h2v1h-2zM160 243h2v1h-2zM195 243h31v1h-31zM325 243h7v1h-7zM12 244h1v1h-1zM105 244h11v1h-11zM131 244h1v1h-1zM140 244h1v1h-1zM154 244h1v1h-1zM159 244h1v1h-1zM185 244h4v1h-4zM235 244h16v1h-16zM106 245h11v1h-11zM129 245h1v1h-1zM153 245h1v1h-1zM157 245h1v1h-1zM180 245h3v1h-3zM255 245h15v1h-15zM139 245h1v2h-1zM107 246h11v1h-11zM128 246h1v1h-1zM151 246h2v1h-2zM156 246h1v1h-1zM176 246h3v1h-3zM277 246h6v1h-6zM108 247h11v1h-11zM126 247h1v1h-1zM150 247h1v1h-1zM169 247h6v1h-6zM285 247h3v1h-3zM138 247h1v2h-1zM4 248h1v1h-1zM109 248h10v1h-10zM124 248h2v1h-2zM147 248h3v1h-3zM153 248h1v1h-1zM164 248h3v1h-3zM237 248h8v1h-8zM254 248h11v1h-11zM291 248h4v1h-4zM0 249h2v1h-2zM112 249h8v1h-8zM121 249h3v1h-3zM137 249h2v1h-2zM143 249h2v1h-2zM152 249h1v1h-1zM161 249h2v1h-2zM198 249h34v1h-34zM267 249h6v1h-6zM297 249h3v1h-3zM115 250h7v1h-7zM137 250h1v1h-1zM141 250h1v1h-1zM151 250h1v1h-1zM183 250h8v1h-8zM275 250h5v1h-5zM302 250h3v1h-3zM117 251h3v1h-3zM137 251h2v1h-2zM149 251h1v1h-1zM158 251h2v1h-2zM172 251h5v1h-5zM281 251h3v1h-3zM307 251h3v1h-3zM148 252h1v1h-1zM155 252h2v1h-2zM166 252h2v1h-2zM285 252h2v1h-2zM312 252h2v1h-2zM147 253h1v1h-1zM153 253h1v1h-1zM163 253h1v1h-1zM288 253h2v1h-2zM316 253h2v1h-2zM146 254h1v1h-1zM151 254h1v1h-1zM161 254h1v1h-1zM290 254h3v1h-3zM319 254h2v1h-2zM145 255h1v1h-1zM148 255h1v1h-1zM293 255h4v1h-4zM321 255h4v1h-4zM298 256h6v1h-6zM323 256h4v1h-4zM161 257h1v1h-1zM212 257h18v1h-18zM241 257h10v1h-10zM256 257h6v1h-6zM306 257h21v1h-21zM167 258h1v1h-1zM266 258h7v1h-7zM210 258h3v2h-3zM170 259h2v1h-2zM276 259h3v1h-3zM171 260h2v1h-2zM212 260h2v1h-2zM280 260h2v1h-2zM172 261h3v1h-3zM214 261h2v1h-2zM282 261h2v1h-2zM172 262h4v1h-4zM217 262h2v1h-2zM283 262h3v1h-3zM3 263h1v1h-1zM175 263h3v1h-3zM222 263h2v1h-2zM284 263h2v1h-2zM6 264h1v1h-1zM181 264h5v1h-5zM226 264h2v1h-2zM283 264h2v1h-2zM8 265h1v1h-1zM194 265h2v1h-2zM231 265h2v1h-2zM282 265h2v1h-2zM10 266h1v1h-1zM200 266h12v1h-12zM234 266h2v1h-2zM281 266h2v1h-2zM318 266h14v1h-14zM12 267h1v1h-1zM216 267h2v1h-2zM238 267h4v1h-4zM245 267h13v1h-13zM263 267h5v1h-5zM280 267h2v1h-2zM294 267h6v1h-6zM309 267h2v1h-2zM335 267h2v1h-2zM14 268h1v1h-1zM221 268h2v1h-2zM271 268h9v1h-9zM292 268h1v1h-1zM15 269h2v1h-2zM226 269h2v1h-2zM291 269h1v1h-1zM17 270h2v1h-2zM229 270h1v1h-1zM19 271h2v1h-2zM232 271h1v1h-1zM288 271h1v1h-1zM21 272h2v1h-2zM235 272h1v1h-1zM286 272h1v1h-1zM23 273h2v1h-2zM237 273h1v1h-1zM25 274h2v1h-2zM283 274h1v2h-1zM27 275h3v1h-3zM239 274h1v3h-1zM29 276h3v1h-3zM284 276h1v1h-1zM32 277h3v1h-3zM239 277h5v1h-5zM286 277h1v1h-1zM34 278h3v1h-3zM114 278h9v1h-9zM244 278h1v1h-1zM288 278h1v1h-1zM36 279h4v1h-4zM108 279h12v1h-12zM247 279h3v1h-3zM289 279h1v2h-1zM39 280h4v1h-4zM104 280h13v1h-13zM273 280h4v1h-4zM279 280h4v1h-4zM41 281h5v1h-5zM102 281h13v1h-13zM44 282h5v1h-5zM100 282h4v1h-4zM109 282h3v1h-3zM46 283h8v1h-8zM99 283h4v1h-4zM106 283h3v1h-3zM175 283h3v1h-3zM190 283h4v1h-4zM51 284h3v1h-3zM98 284h8v1h-8zM167 284h2v1h-2zM188 284h4v1h-4zM52 285h3v1h-3zM97 285h5v1h-5zM161 285h2v1h-2zM185 285h4v1h-4zM53 286h11v1h-11zM156 286h1v1h-1zM181 286h4v1h-4zM60 287h4v1h-4zM150 287h2v1h-2zM175 287h4v1h-4zM61 288h2v1h-2zM145 288h2v1h-2zM169 288h5v1h-5zM140 289h2v1h-2zM164 289h3v1h-3zM60 289h3v2h-3zM73 290h9v1h-9zM135 290h2v1h-2zM158 290h3v1h-3zM60 291h21v1h-21zM130 291h2v1h-2zM152 291h4v1h-4zM75 292h4v1h-4zM125 292h2v1h-2zM147 292h3v1h-3zM74 293h3v1h-3zM120 293h1v1h-1zM141 293h3v1h-3zM72 294h3v1h-3zM114 294h2v1h-2zM136 294h2v1h-2zM71 295h3v1h-3zM109 295h1v1h-1zM130 295h2v1h-2zM69 296h3v1h-3zM102 296h2v1h-2zM124 296h3v1h-3zM68 297h4v1h-4zM92 297h5v1h-5zM118 297h3v1h-3zM67 298h22v1h-22zM112 298h2v1h-2zM106 299h2v1h-2zM100 300h2v1h-2zM95 301h3v1h-3zM91 302h3v1h-3zM87 303h3v1h-3zM83 304h4v1h-4zM79 305h4v1h-4zM76 306h4v1h-4zM75 307h5v1h-5zM118 307h7v1h-7zM76 308h8v1h-8zM91 308h10v1h-10z"/>
<path fill="#ffab00" d="M61 228h21v1h-21zM51 229h41v1h-41zM47 230h46v1h-46zM44 231h8v1h-8zM78 231h16v1h-16zM195 231h11v1h-11zM41 232h7v1h-7zM90 232h5v1h-5zM189 232h14v1h-14zM38 233h6v1h-6zM90 233h7v1h-7zM184 233h15v1h-15zM36 234h4v1h-4zM92 234h6v1h-6zM180 234h4v1h-4zM188 234h6v1h-6zM33 235h4v1h-4zM94 235h5v1h-5zM176 235h4v1h-4zM184 235h6v1h-6zM299 235h4v1h-4zM31 236h3v1h-3zM96 236h4v1h-4zM173 236h3v1h-3zM180 236h5v1h-5zM301 236h13v1h-13zM28 237h3v1h-3zM97 237h3v1h-3zM170 237h3v1h-3zM176 237h4v1h-4zM305 237h12v1h-12zM26 238h2v1h-2zM97 238h4v1h-4zM167 238h9v1h-9zM308 238h13v1h-13zM24 239h2v1h-2zM98 239h3v1h-3zM164 239h8v1h-8zM312 239h12v1h-12zM22 240h1v1h-1zM98 240h4v1h-4zM162 240h6v1h-6zM319 240h7v1h-7zM19 241h2v1h-2zM99 241h4v1h-4zM160 241h5v1h-5zM17 242h2v1h-2zM100 242h3v1h-3zM136 242h4v1h-4zM158 242h4v1h-4zM15 243h2v1h-2zM100 243h4v1h-4zM134 243h6v1h-6zM157 243h3v1h-3zM13 244h2v1h-2zM101 244h4v1h-4zM132 244h2v1h-2zM137 244h3v1h-3zM155 244h4v1h-4zM189 244h13v1h-13zM204 244h31v1h-31zM11 245h1v1h-1zM102 245h4v1h-4zM130 245h2v1h-2zM154 245h3v1h-3zM183 245h3v1h-3zM237 245h18v1h-18zM137 245h2v2h-2zM9 246h1v1h-1zM103 246h4v1h-4zM129 246h1v1h-1zM153 246h3v1h-3zM179 246h3v1h-3zM247 246h30v1h-30zM7 247h1v1h-1zM104 247h4v1h-4zM127 247h2v1h-2zM151 247h4v1h-4zM175 247h3v1h-3zM237 247h48v1h-48zM136 247h2v2h-2zM5 248h1v1h-1zM105 248h4v1h-4zM126 248h1v1h-1zM150 248h3v1h-3zM167 248h8v1h-8zM200 248h37v1h-37zM265 248h11v1h-11zM285 248h6v1h-6zM2 249h1v1h-1zM106 249h6v1h-6zM124 249h2v1h-2zM145 249h7v1h-7zM163 249h3v1h-3zM188 249h10v1h-10zM273 249h8v1h-8zM291 249h6v1h-6zM136 249h1v2h-1zM107 250h8v1h-8zM122 250h2v1h-2zM142 250h1v1h-1zM147 250h4v1h-4zM160 250h2v1h-2zM173 250h10v1h-10zM280 250h4v1h-4zM297 250h5v1h-5zM108 251h9v1h-9zM120 251h2v1h-2zM135 251h2v1h-2zM139 251h1v1h-1zM148 251h1v1h-1zM168 251h4v1h-4zM284 251h4v1h-4zM302 251h5v1h-5zM110 252h10v1h-10zM135 252h3v1h-3zM147 252h1v1h-1zM157 252h3v1h-3zM164 252h2v1h-2zM287 252h3v1h-3zM308 252h4v1h-4zM112 253h5v1h-5zM146 253h1v1h-1zM154 253h2v1h-2zM162 253h1v1h-1zM290 253h3v1h-3zM313 253h3v1h-3zM152 254h1v1h-1zM293 254h5v1h-5zM316 254h3v1h-3zM149 255h1v1h-1zM297 255h8v1h-8zM317 255h4v1h-4zM144 256h3v1h-3zM304 256h19v1h-19zM230 257h11v1h-11zM165 258h2v1h-2zM213 258h4v1h-4zM250 258h16v1h-16zM169 259h1v1h-1zM213 259h2v1h-2zM269 259h7v1h-7zM169 260h2v1h-2zM214 260h2v1h-2zM277 260h3v1h-3zM216 261h2v1h-2zM280 261h2v1h-2zM169 261h3v2h-3zM219 262h3v1h-3zM281 262h2v1h-2zM4 263h1v1h-1zM168 263h7v1h-7zM224 263h2v1h-2zM281 263h3v1h-3zM167 264h5v1h-5zM176 264h5v1h-5zM228 264h3v1h-3zM281 264h2v1h-2zM9 265h1v1h-1zM191 265h3v1h-3zM233 265h2v1h-2zM280 265h2v1h-2zM11 266h1v1h-1zM198 266h2v1h-2zM236 266h4v1h-4zM256 266h8v1h-8zM279 266h2v1h-2zM13 267h1v1h-1zM214 267h2v1h-2zM242 267h3v1h-3zM268 267h12v1h-12zM311 267h11v1h-11zM330 267h5v1h-5zM15 268h1v1h-1zM220 268h1v1h-1zM293 268h2v1h-2zM300 268h8v1h-8zM17 269h1v1h-1zM224 269h2v1h-2zM292 269h1v1h-1zM19 270h1v1h-1zM228 270h1v1h-1zM290 270h1v1h-1zM21 271h2v1h-2zM231 271h1v1h-1zM289 271h1v1h-1zM23 272h2v1h-2zM234 272h1v1h-1zM287 272h1v1h-1zM25 273h3v1h-3zM236 273h1v1h-1zM285 273h2v1h-2zM27 274h3v1h-3zM129 274h7v1h-7zM238 274h1v1h-1zM284 274h1v2h-1zM30 275h3v1h-3zM123 275h11v1h-11zM32 276h4v1h-4zM117 276h14v1h-14zM285 276h2v1h-2zM238 276h1v2h-1zM35 277h4v1h-4zM111 277h17v1h-17zM287 277h1v1h-1zM37 278h5v1h-5zM106 278h8v1h-8zM123 278h3v1h-3zM236 278h5v1h-5zM289 278h1v1h-1zM40 279h7v1h-7zM103 279h5v1h-5zM120 279h3v1h-3zM236 279h2v1h-2zM245 279h2v1h-2zM290 279h1v2h-1zM43 280h6v1h-6zM100 280h4v1h-4zM117 280h3v1h-3zM256 280h17v1h-17zM277 280h2v1h-2zM46 281h9v1h-9zM99 281h3v1h-3zM115 281h2v1h-2zM283 281h8v1h-8zM49 282h8v1h-8zM97 282h3v1h-3zM112 282h2v1h-2zM184 282h15v1h-15zM54 283h3v1h-3zM95 283h4v1h-4zM109 283h2v1h-2zM172 283h3v1h-3zM194 283h4v1h-4zM54 284h5v1h-5zM62 284h7v1h-7zM94 284h4v1h-4zM106 284h2v1h-2zM166 284h1v1h-1zM192 284h4v1h-4zM55 285h14v1h-14zM92 285h5v1h-5zM102 285h2v1h-2zM160 285h1v1h-1zM189 285h4v1h-4zM64 286h4v1h-4zM89 286h12v1h-12zM154 286h2v1h-2zM185 286h4v1h-4zM64 287h3v1h-3zM85 287h12v1h-12zM149 287h1v1h-1zM179 287h5v1h-5zM63 288h3v1h-3zM79 288h14v1h-14zM144 288h1v1h-1zM174 288h4v1h-4zM63 289h4v1h-4zM72 289h18v1h-18zM138 289h2v1h-2zM167 289h4v1h-4zM63 290h10v1h-10zM82 290h5v1h-5zM134 290h1v1h-1zM161 290h4v1h-4zM81 291h4v1h-4zM128 291h2v1h-2zM156 291h3v1h-3zM79 292h4v1h-4zM123 292h2v1h-2zM150 292h3v1h-3zM77 293h4v1h-4zM118 293h2v1h-2zM144 293h3v1h-3zM75 294h4v1h-4zM112 294h2v1h-2zM138 294h3v1h-3zM74 295h4v1h-4zM107 295h2v1h-2zM132 295h3v1h-3zM72 296h5v1h-5zM96 296h6v1h-6zM127 296h2v1h-2zM72 297h20v1h-20zM121 297h2v1h-2zM114 298h3v1h-3zM108 299h2v1h-2zM102 300h2v1h-2zM98 301h2v1h-2zM94 302h2v1h-2zM90 303h3v1h-3zM87 304h3v1h-3zM83 305h5v1h-5zM80 306h6v1h-6zM147 306h167v1h-167zM80 307h8v1h-8zM111 307h7v1h-7zM84 308h7v1h-7z"/>
<path fill="#ff9c00" d="M52 231h26v1h-26zM48 232h42v1h-42zM44 233h46v1h-46zM40 234h8v1h-8zM69 234h23v1h-23zM184 234h4v1h-4zM37 235h6v1h-6zM77 235h4v1h-4zM85 235h9v1h-9zM180 235h4v1h-4zM34 236h5v1h-5zM87 236h9v1h-9zM176 236h4v1h-4zM31 237h5v1h-5zM89 237h8v1h-8zM173 237h3v1h-3zM28 238h4v1h-4zM93 238h4v1h-4zM26 239h3v1h-3zM94 239h4v1h-4zM23 240h3v1h-3zM95 240h3v1h-3zM21 241h2v1h-2zM95 241h4v1h-4zM19 242h2v1h-2zM96 242h4v2h-4zM17 243h1v1h-1zM15 244h1v1h-1zM97 244h4v1h-4zM134 244h3v1h-3zM202 244h2v1h-2zM12 245h2v1h-2zM98 245h4v1h-4zM132 245h5v1h-5zM186 245h51v1h-51zM10 246h1v1h-1zM99 246h4v1h-4zM130 246h7v1h-7zM182 246h4v1h-4zM200 246h47v1h-47zM8 247h1v1h-1zM100 247h4v1h-4zM129 247h2v1h-2zM178 247h5v1h-5zM194 247h43v1h-43zM6 248h1v1h-1zM101 248h4v1h-4zM127 248h2v1h-2zM175 248h9v1h-9zM187 248h13v1h-13zM276 248h9v1h-9zM3 249h1v1h-1zM102 249h4v1h-4zM126 249h1v1h-1zM166 249h22v1h-22zM281 249h10v1h-10zM134 247h2v4h-2zM103 250h4v1h-4zM124 250h2v1h-2zM143 250h4v1h-4zM162 250h11v1h-11zM284 250h13v1h-13zM104 251h4v1h-4zM122 251h2v1h-2zM140 251h1v1h-1zM146 251h2v1h-2zM160 251h8v1h-8zM288 251h14v1h-14zM134 251h1v2h-1zM105 252h5v1h-5zM120 252h2v1h-2zM146 252h1v1h-1zM160 252h4v1h-4zM290 252h18v1h-18zM107 253h5v1h-5zM117 253h3v1h-3zM134 253h2v1h-2zM156 253h3v1h-3zM160 253h2v1h-2zM293 253h20v1h-20zM108 254h9v1h-9zM145 254h1v1h-1zM153 254h2v1h-2zM298 254h18v1h-18zM110 255h5v1h-5zM144 255h1v1h-1zM150 255h2v1h-2zM305 255h12v1h-12zM160 254h1v3h-1zM112 256h1v1h-1zM143 256h1v1h-1zM147 256h2v1h-2zM164 258h1v1h-1zM217 258h33v1h-33zM215 259h6v1h-6zM261 259h8v1h-8zM216 260h3v1h-3zM268 260h9v1h-9zM167 259h2v3h-2zM218 261h4v1h-4zM275 261h5v1h-5zM0 262h2v1h-2zM166 262h3v1h-3zM222 262h3v1h-3zM5 263h1v1h-1zM165 263h3v1h-3zM226 263h4v1h-4zM279 262h2v3h-2zM7 264h1v1h-1zM163 264h4v1h-4zM172 264h4v1h-4zM231 264h3v1h-3zM162 265h9v1h-9zM180 265h11v1h-11zM235 265h4v1h-4zM277 265h3v1h-3zM12 266h1v1h-1zM160 266h7v1h-7zM196 266h2v1h-2zM240 266h16v1h-16zM264 266h15v1h-15zM14 267h1v1h-1zM160 267h2v1h-2zM212 267h2v1h-2zM322 267h8v1h-8zM16 268h1v1h-1zM218 268h2v1h-2zM295 268h5v1h-5zM308 268h4v1h-4zM332 268h5v1h-5zM18 269h2v1h-2zM150 269h1v1h-1zM222 269h2v1h-2zM293 269h1v1h-1zM20 270h2v1h-2zM143 270h8v1h-8zM227 270h1v1h-1zM291 270h2v1h-2zM23 271h2v1h-2zM138 271h10v1h-10zM230 271h1v1h-1zM290 271h1v1h-1zM25 272h3v1h-3zM132 272h13v1h-13zM232 272h2v1h-2zM288 272h2v1h-2zM28 273h3v1h-3zM127 273h16v1h-16zM235 273h1v1h-1zM287 273h1v1h-1zM30 274h4v1h-4zM122 274h7v1h-7zM136 274h4v1h-4zM237 274h1v1h-1zM285 274h2v2h-2zM33 275h5v1h-5zM116 275h7v1h-7zM134 275h3v1h-3zM238 275h1v1h-1zM36 276h6v1h-6zM109 276h8v1h-8zM131 276h3v1h-3zM287 276h1v1h-1zM39 277h7v1h-7zM104 277h7v1h-7zM128 277h3v1h-3zM237 277h1v1h-1zM288 277h2v1h-2zM42 278h9v1h-9zM101 278h5v1h-5zM126 278h2v1h-2zM235 278h1v1h-1zM241 278h3v1h-3zM290 278h1v1h-1zM47 279h8v1h-8zM99 279h4v1h-4zM123 279h2v1h-2zM234 279h2v1h-2zM238 279h3v1h-3zM244 279h1v1h-1zM291 279h1v2h-1zM49 280h11v1h-11zM97 280h3v1h-3zM120 280h2v1h-2zM233 280h4v1h-4zM248 280h8v1h-8zM55 281h5v1h-5zM71 281h5v1h-5zM95 281h4v1h-4zM117 281h2v1h-2zM195 281h8v1h-8zM280 281h3v1h-3zM291 281h2v1h-2zM57 282h4v1h-4zM66 282h10v1h-10zM93 282h4v1h-4zM114 282h2v1h-2zM179 282h5v1h-5zM199 282h5v1h-5zM288 282h4v1h-4zM57 283h17v1h-17zM91 283h4v1h-4zM111 283h2v1h-2zM170 283h2v1h-2zM198 283h4v1h-4zM59 284h3v1h-3zM69 284h4v1h-4zM89 284h5v1h-5zM108 284h2v1h-2zM164 284h2v1h-2zM196 284h4v1h-4zM69 285h3v1h-3zM86 285h6v1h-6zM104 285h2v1h-2zM158 285h2v1h-2zM193 285h4v1h-4zM68 286h3v1h-3zM82 286h7v1h-7zM101 286h2v1h-2zM152 286h2v1h-2zM189 286h5v1h-5zM67 287h5v1h-5zM77 287h8v1h-8zM97 287h3v1h-3zM147 287h2v1h-2zM184 287h5v1h-5zM66 288h13v1h-13zM93 288h4v1h-4zM142 288h2v1h-2zM178 288h5v1h-5zM331 288h6v1h-6zM67 289h5v1h-5zM90 289h5v1h-5zM137 289h1v1h-1zM171 289h6v1h-6zM327 289h10v1h-10zM87 290h5v1h-5zM132 290h2v1h-2zM165 290h5v1h-5zM331 290h6v1h-6zM85 291h5v1h-5zM126 291h2v1h-2zM159 291h4v1h-4zM335 291h2v1h-2zM83 292h5v1h-5zM121 292h2v1h-2zM153 292h4v1h-4zM81 293h6v1h-6zM116 293h2v1h-2zM147 293h3v1h-3zM79 294h7v1h-7zM110 294h2v1h-2zM141 294h3v1h-3zM78 295h12v1h-12zM104 295h3v1h-3zM135 295h3v1h-3zM77 296h19v1h-19zM129 296h3v1h-3zM123 297h3v1h-3zM117 298h3v1h-3zM110 299h3v1h-3zM104 300h2v1h-2zM100 301h2v1h-2zM96 302h3v1h-3zM93 303h3v1h-3zM90 304h4v1h-4zM88 305h4v1h-4zM188 305h6v1h-6zM86 306h6v1h-6zM126 306h21v1h-21zM314 306h23v1h-23zM88 307h23v1h-23z"/>
<path fill="#ff8900" d="M48 234h21v1h-21zM43 235h34v1h-34zM81 235h4v1h-4zM39 236h12v1h-12zM54 236h33v1h-33zM36 237h8v1h-8zM65 237h24v1h-24zM32 238h6v1h-6zM73 238h20v1h-20zM29 239h5v1h-5zM81 239h13v1h-13zM26 240h4v1h-4zM83 240h12v1h-12zM23 241h3v1h-3zM91 241h4v1h-4zM21 242h2v1h-2zM92 242h4v2h-4zM18 243h2v1h-2zM16 244h2v1h-2zM92 244h5v1h-5zM14 245h1v1h-1zM93 245h5v1h-5zM11 246h1v1h-1zM93 246h6v1h-6zM186 246h14v1h-14zM9 247h1v1h-1zM95 247h5v1h-5zM131 247h3v1h-3zM183 247h11v1h-11zM7 248h1v1h-1zM97 248h4v1h-4zM129 248h5v1h-5zM184 248h3v1h-3zM4 249h1v1h-1zM98 249h4v1h-4zM127 249h3v1h-3zM131 249h3v1h-3zM99 250h4v1h-4zM126 250h3v1h-3zM99 251h5v1h-5zM124 251h3v1h-3zM141 251h5v1h-5zM100 252h5v1h-5zM122 252h3v1h-3zM138 252h1v1h-1zM145 252h1v2h-1zM101 253h6v1h-6zM120 253h2v1h-2zM136 253h1v1h-1zM159 253h1v1h-1zM132 250h2v5h-2zM102 254h6v1h-6zM117 254h3v1h-3zM144 254h1v1h-1zM155 254h5v1h-5zM104 255h6v1h-6zM115 255h3v1h-3zM143 255h1v1h-1zM152 255h2v1h-2zM107 256h5v1h-5zM113 256h2v1h-2zM149 256h2v1h-2zM109 257h4v1h-4zM142 257h5v1h-5zM160 257h1v1h-1zM162 258h2v1h-2zM165 259h2v1h-2zM221 259h40v1h-40zM166 260h1v1h-1zM219 260h8v1h-8zM256 260h12v1h-12zM165 261h2v1h-2zM222 261h5v1h-5zM265 261h10v1h-10zM2 262h2v1h-2zM164 262h2v1h-2zM225 262h6v1h-6zM269 262h10v2h-10zM6 263h1v1h-1zM162 263h3v1h-3zM230 263h5v1h-5zM8 264h1v1h-1zM161 264h2v1h-2zM234 264h6v1h-6zM262 264h17v1h-17zM10 265h2v1h-2zM159 265h3v1h-3zM171 265h9v1h-9zM239 265h38v1h-38zM13 266h1v1h-1zM157 266h3v1h-3zM167 266h4v1h-4zM193 266h3v1h-3zM15 267h2v1h-2zM151 267h9v1h-9zM162 267h4v1h-4zM200 267h12v1h-12zM17 268h2v1h-2zM146 268h17v1h-17zM215 268h3v1h-3zM312 268h20v1h-20zM20 269h2v1h-2zM141 269h9v1h-9zM151 269h7v1h-7zM220 269h2v1h-2zM294 269h16v1h-16zM333 269h4v1h-4zM22 270h3v1h-3zM136 270h7v1h-7zM151 270h4v1h-4zM225 270h2v1h-2zM293 270h1v1h-1zM25 271h3v1h-3zM131 271h7v1h-7zM148 271h4v1h-4zM228 271h2v1h-2zM291 271h2v1h-2zM28 272h4v1h-4zM126 272h6v1h-6zM145 272h4v1h-4zM231 272h1v1h-1zM290 272h1v1h-1zM31 273h5v1h-5zM120 273h7v1h-7zM143 273h3v1h-3zM233 273h2v1h-2zM288 273h2v1h-2zM34 274h7v1h-7zM113 274h9v1h-9zM140 274h2v1h-2zM236 274h1v1h-1zM287 274h2v2h-2zM38 275h9v1h-9zM106 275h10v1h-10zM137 275h2v1h-2zM237 275h1v2h-1zM42 276h12v1h-12zM82 276h5v1h-5zM102 276h7v1h-7zM134 276h2v1h-2zM288 276h2v1h-2zM46 277h19v1h-19zM79 277h8v1h-8zM99 277h5v1h-5zM131 277h2v1h-2zM236 277h1v1h-1zM290 277h1v1h-1zM51 278h14v1h-14zM76 278h10v1h-10zM96 278h5v1h-5zM128 278h2v1h-2zM234 278h1v1h-1zM291 278h1v1h-1zM55 279h10v1h-10zM72 279h13v1h-13zM94 279h5v1h-5zM125 279h2v1h-2zM233 279h1v1h-1zM241 279h3v1h-3zM292 279h1v2h-1zM60 280h24v1h-24zM92 280h5v1h-5zM122 280h2v1h-2zM232 280h1v1h-1zM237 280h3v1h-3zM245 280h3v1h-3zM60 281h11v1h-11zM76 281h6v1h-6zM91 281h4v1h-4zM119 281h3v1h-3zM189 281h6v1h-6zM203 281h6v1h-6zM231 281h5v1h-5zM257 281h10v1h-10zM269 281h11v1h-11zM293 281h1v1h-1zM61 282h5v1h-5zM76 282h5v1h-5zM89 282h4v1h-4zM116 282h2v1h-2zM176 282h3v1h-3zM204 282h4v1h-4zM283 282h5v1h-5zM292 282h2v1h-2zM74 283h6v1h-6zM86 283h5v1h-5zM113 283h2v1h-2zM168 283h2v1h-2zM202 283h4v1h-4zM73 284h7v1h-7zM82 284h7v1h-7zM110 284h2v1h-2zM162 284h2v1h-2zM200 284h3v1h-3zM72 285h14v1h-14zM106 285h3v1h-3zM156 285h2v1h-2zM197 285h3v1h-3zM71 286h11v1h-11zM103 286h2v1h-2zM150 286h2v1h-2zM194 286h3v1h-3zM314 286h12v1h-12zM334 286h3v1h-3zM72 287h5v1h-5zM100 287h2v1h-2zM145 287h2v1h-2zM189 287h5v1h-5zM316 287h21v1h-21zM97 288h3v1h-3zM140 288h2v1h-2zM183 288h6v1h-6zM319 288h12v1h-12zM95 289h3v1h-3zM135 289h2v1h-2zM177 289h6v1h-6zM323 289h4v1h-4zM92 290h4v1h-4zM130 290h2v1h-2zM170 290h6v1h-6zM327 290h4v1h-4zM90 291h4v1h-4zM124 291h2v1h-2zM163 291h5v1h-5zM332 291h3v1h-3zM88 292h5v1h-5zM119 292h2v1h-2zM157 292h5v1h-5zM87 293h6v1h-6zM113 293h3v1h-3zM150 293h5v1h-5zM86 294h8v1h-8zM108 294h2v1h-2zM144 294h4v1h-4zM90 295h14v1h-14zM138 295h3v1h-3zM132 296h3v1h-3zM126 297h3v1h-3zM120 298h3v1h-3zM113 299h3v1h-3zM106 300h3v1h-3zM102 301h2v1h-2zM99 302h2v1h-2zM96 303h2v1h-2zM94 304h3v1h-3zM92 305h4v1h-4zM154 305h34v1h-34zM194 305h121v1h-121zM92 306h6v1h-6zM117 306h9v1h-9z"/>
<path fill="#ff7a00" d="M51 236h3v1h-3zM44 237h21v1h-21zM38 238h35v1h-35zM34 239h12v1h-12zM55 239h26v1h-26zM30 240h7v1h-7zM62 240h21v1h-21zM26 241h5v1h-5zM68 241h23v1h-23zM23 242h4v1h-4zM71 242h21v1h-21zM20 243h3v1h-3zM77 243h15v1h-15zM18 244h2v1h-2zM78 244h14v1h-14zM15 245h2v1h-2zM80 245h2v1h-2zM88 245h5v2h-5zM12 246h2v1h-2zM10 247h1v1h-1zM88 247h7v1h-7zM8 248h1v1h-1zM88 248h9v1h-9zM5 249h1v1h-1zM89 249h9v1h-9zM130 249h1v1h-1zM0 250h2v1h-2zM93 250h6v1h-6zM129 250h3v1h-3zM95 251h4v1h-4zM127 251h5v1h-5zM96 252h4v1h-4zM125 252h7v1h-7zM139 252h1v1h-1zM143 252h2v1h-2zM96 253h5v1h-5zM122 253h10v1h-10zM144 253h1v1h-1zM97 254h5v1h-5zM120 254h5v1h-5zM128 254h4v1h-4zM134 254h1v1h-1zM143 254h1v1h-1zM97 255h7v1h-7zM118 255h3v1h-3zM154 255h6v1h-6zM98 256h9v1h-9zM115 256h3v1h-3zM142 256h1v1h-1zM151 256h2v1h-2zM100 257h9v1h-9zM113 257h2v1h-2zM141 257h1v1h-1zM147 257h2v1h-2zM103 258h10v1h-10zM141 258h3v1h-3zM160 258h2v1h-2zM164 259h1v1h-1zM164 260h2v1h-2zM227 260h29v1h-29zM163 261h2v1h-2zM227 261h13v1h-13zM247 261h18v1h-18zM4 262h1v1h-1zM161 262h3v1h-3zM231 262h9v1h-9zM251 262h18v1h-18zM7 263h1v1h-1zM160 263h2v1h-2zM235 263h34v1h-34zM9 264h1v1h-1zM158 264h3v1h-3zM240 264h22v1h-22zM12 265h1v1h-1zM155 265h4v1h-4zM14 266h2v1h-2zM150 266h7v1h-7zM171 266h3v1h-3zM176 266h17v1h-17zM17 267h2v1h-2zM145 267h6v1h-6zM166 267h4v1h-4zM197 267h3v1h-3zM19 268h3v1h-3zM141 268h5v1h-5zM163 268h3v1h-3zM212 268h3v1h-3zM22 269h3v1h-3zM135 269h6v1h-6zM158 269h4v1h-4zM218 269h2v1h-2zM310 269h23v1h-23zM25 270h5v1h-5zM75 270h2v1h-2zM130 270h6v1h-6zM155 270h3v1h-3zM222 270h3v1h-3zM294 270h15v1h-15zM333 270h4v1h-4zM28 271h7v1h-7zM72 271h4v1h-4zM124 271h7v1h-7zM152 271h3v1h-3zM226 271h2v1h-2zM293 271h1v1h-1zM32 272h10v1h-10zM69 272h6v1h-6zM118 272h8v1h-8zM149 272h3v1h-3zM229 272h2v1h-2zM291 272h2v1h-2zM36 273h22v1h-22zM66 273h8v1h-8zM85 273h9v1h-9zM109 273h11v1h-11zM146 273h2v1h-2zM231 273h2v1h-2zM290 273h2v1h-2zM41 274h19v1h-19zM62 274h11v1h-11zM82 274h14v1h-14zM101 274h12v1h-12zM142 274h3v1h-3zM233 274h3v1h-3zM289 274h2v2h-2zM47 275h25v1h-25zM79 275h27v1h-27zM139 275h3v1h-3zM235 275h2v2h-2zM54 276h18v1h-18zM75 276h7v1h-7zM87 276h15v1h-15zM136 276h3v1h-3zM290 276h2v1h-2zM65 277h14v1h-14zM87 277h12v1h-12zM133 277h2v1h-2zM234 277h2v1h-2zM291 277h1v1h-1zM65 278h11v1h-11zM86 278h10v1h-10zM130 278h2v1h-2zM232 278h2v1h-2zM292 278h1v1h-1zM65 279h7v1h-7zM85 279h9v1h-9zM127 279h2v1h-2zM231 279h2v1h-2zM293 279h1v1h-1zM84 280h8v1h-8zM124 280h3v1h-3zM198 280h12v1h-12zM230 280h2v1h-2zM240 280h1v1h-1zM244 280h1v1h-1zM293 280h2v1h-2zM82 281h9v1h-9zM122 281h2v1h-2zM183 281h6v1h-6zM209 281h7v1h-7zM229 281h2v1h-2zM236 281h3v1h-3zM247 281h10v1h-10zM267 281h2v1h-2zM294 281h1v2h-1zM81 282h8v1h-8zM118 282h3v1h-3zM173 282h3v1h-3zM208 282h10v1h-10zM228 282h7v1h-7zM279 282h4v1h-4zM80 283h6v1h-6zM115 283h3v1h-3zM166 283h2v1h-2zM206 283h7v1h-7zM229 283h3v1h-3zM286 283h9v1h-9zM299 283h13v1h-13zM80 284h2v1h-2zM112 284h2v1h-2zM159 284h3v1h-3zM203 284h4v1h-4zM301 284h20v1h-20zM336 284h1v1h-1zM109 285h2v1h-2zM154 285h2v1h-2zM200 285h4v1h-4zM304 285h33v1h-33zM105 286h3v1h-3zM148 286h2v1h-2zM197 286h4v1h-4zM308 286h6v1h-6zM326 286h8v1h-8zM102 287h2v1h-2zM143 287h2v1h-2zM194 287h4v1h-4zM312 287h4v1h-4zM100 288h2v1h-2zM137 288h3v1h-3zM189 288h5v1h-5zM316 288h3v1h-3zM98 289h2v1h-2zM133 289h2v1h-2zM183 289h7v1h-7zM320 289h3v1h-3zM96 290h3v1h-3zM127 290h3v1h-3zM176 290h7v1h-7zM324 290h3v1h-3zM94 291h3v1h-3zM121 291h3v1h-3zM168 291h8v1h-8zM329 291h3v1h-3zM116 292h3v1h-3zM162 292h6v1h-6zM334 292h3v1h-3zM93 292h4v2h-4zM111 293h2v1h-2zM155 293h6v1h-6zM94 294h7v1h-7zM105 294h3v1h-3zM148 294h5v1h-5zM141 295h5v1h-5zM135 296h4v1h-4zM129 297h4v1h-4zM123 298h4v1h-4zM116 299h4v1h-4zM109 300h4v1h-4zM104 301h2v1h-2zM101 302h2v1h-2zM98 303h2v1h-2zM97 304h2v1h-2zM171 304h102v1h-102zM96 305h3v1h-3zM130 305h24v1h-24zM315 305h22v1h-22zM98 306h5v1h-5zM107 306h10v1h-10z"/>
<path fill="#ff6c00" d="M46 239h9v1h-9zM37 240h25v1h-25zM31 241h37v1h-37zM27 242h9v1h-9zM53 242h18v1h-18zM23 243h5v1h-5zM58 243h19v1h-19zM20 244h3v1h-3zM62 244h16v1h-16zM17 245h2v1h-2zM66 245h14v1h-14zM82 245h6v1h-6zM14 246h2v1h-2zM68 246h20v1h-20zM11 247h2v1h-2zM73 247h15v2h-15zM9 248h1v1h-1zM6 249h1v1h-1zM74 249h15v1h-15zM2 250h1v1h-1zM81 250h12v1h-12zM81 251h14v1h-14zM140 252h3v1h-3zM81 252h15v2h-15zM137 253h1v1h-1zM142 253h2v1h-2zM81 254h16v1h-16zM125 254h3v1h-3zM135 254h1v1h-1zM142 254h1v2h-1zM80 255h5v1h-5zM90 255h7v1h-7zM121 255h12v1h-12zM90 256h8v1h-8zM118 256h3v1h-3zM125 256h4v1h-4zM141 256h1v1h-1zM153 256h7v1h-7zM89 257h11v1h-11zM115 257h3v1h-3zM149 257h4v1h-4zM159 257h1v1h-1zM140 257h1v2h-1zM88 258h15v1h-15zM113 258h3v1h-3zM144 258h3v1h-3zM87 259h26v1h-26zM160 259h4v1h-4zM85 260h24v1h-24zM161 260h3v1h-3zM0 261h1v1h-1zM84 261h16v1h-16zM160 261h3v1h-3zM240 261h7v1h-7zM5 262h1v1h-1zM83 262h15v1h-15zM158 262h3v1h-3zM240 262h11v1h-11zM8 263h1v1h-1zM81 263h16v1h-16zM157 263h3v1h-3zM10 264h2v1h-2zM80 264h16v1h-16zM153 264h5v1h-5zM13 265h2v1h-2zM78 265h15v1h-15zM148 265h7v1h-7zM16 266h2v1h-2zM76 266h15v1h-15zM144 266h6v1h-6zM174 266h2v1h-2zM19 267h3v1h-3zM74 267h15v1h-15zM139 267h6v1h-6zM170 267h3v1h-3zM191 267h6v1h-6zM22 268h4v1h-4zM72 268h18v1h-18zM134 268h7v1h-7zM166 268h3v1h-3zM200 268h12v1h-12zM25 269h7v1h-7zM59 269h7v1h-7zM69 269h26v1h-26zM128 269h7v1h-7zM162 269h3v1h-3zM215 269h3v1h-3zM30 270h45v1h-45zM77 270h21v1h-21zM122 270h8v1h-8zM158 270h4v1h-4zM219 270h3v1h-3zM309 270h24v1h-24zM35 271h37v1h-37zM76 271h25v1h-25zM111 271h13v1h-13zM155 271h3v1h-3zM223 271h3v1h-3zM294 271h15v1h-15zM332 271h5v1h-5zM42 272h27v1h-27zM75 272h43v1h-43zM152 272h2v1h-2zM227 272h2v1h-2zM293 272h2v1h-2zM336 272h1v1h-1zM58 273h8v1h-8zM74 273h11v1h-11zM94 273h15v1h-15zM148 273h3v1h-3zM229 273h2v1h-2zM292 273h2v1h-2zM60 274h2v1h-2zM73 274h9v1h-9zM96 274h5v1h-5zM145 274h3v1h-3zM231 274h2v1h-2zM291 274h2v2h-2zM72 275h7v1h-7zM142 275h3v1h-3zM232 275h3v1h-3zM72 276h3v1h-3zM139 276h2v1h-2zM233 276h2v1h-2zM292 276h1v1h-1zM135 277h3v1h-3zM232 277h2v1h-2zM292 277h2v1h-2zM132 278h3v1h-3zM230 278h2v1h-2zM293 278h2v1h-2zM129 279h3v1h-3zM229 279h2v1h-2zM294 279h1v1h-1zM127 280h2v1h-2zM192 280h6v1h-6zM210 280h6v1h-6zM228 280h2v1h-2zM241 280h3v1h-3zM295 280h5v1h-5zM124 281h2v1h-2zM178 281h5v1h-5zM216 281h6v1h-6zM227 281h2v1h-2zM239 281h2v1h-2zM244 281h3v1h-3zM295 281h12v1h-12zM121 282h2v1h-2zM170 282h3v1h-3zM218 282h10v1h-10zM235 282h3v1h-3zM256 282h23v1h-23zM295 282h20v1h-20zM118 283h2v1h-2zM163 283h3v1h-3zM213 283h16v1h-16zM232 283h3v1h-3zM281 283h5v1h-5zM295 283h4v1h-4zM312 283h13v1h-13zM333 283h4v1h-4zM114 284h3v1h-3zM157 284h2v1h-2zM207 284h15v1h-15zM227 284h4v1h-4zM289 284h6v1h-6zM296 284h5v1h-5zM321 284h15v1h-15zM111 285h3v1h-3zM151 285h3v1h-3zM204 285h5v1h-5zM300 285h4v1h-4zM108 286h3v1h-3zM145 286h3v1h-3zM201 286h4v1h-4zM304 286h4v1h-4zM104 287h3v1h-3zM140 287h3v1h-3zM198 287h4v1h-4zM308 287h4v1h-4zM102 288h2v1h-2zM135 288h2v1h-2zM194 288h4v1h-4zM312 288h4v1h-4zM100 289h2v1h-2zM130 289h3v1h-3zM190 289h5v1h-5zM316 289h4v1h-4zM99 290h2v1h-2zM124 290h3v1h-3zM183 290h9v1h-9zM321 290h3v1h-3zM118 291h3v1h-3zM176 291h9v1h-9zM325 291h4v1h-4zM97 291h3v2h-3zM113 292h3v1h-3zM168 292h9v1h-9zM331 292h3v1h-3zM97 293h4v1h-4zM108 293h3v1h-3zM161 293h8v1h-8zM335 293h2v1h-2zM101 294h4v1h-4zM153 294h8v1h-8zM146 295h7v1h-7zM139 296h6v1h-6zM133 297h5v1h-5zM127 298h5v1h-5zM120 299h5v1h-5zM113 300h5v1h-5zM106 301h5v1h-5zM103 302h2v1h-2zM100 303h3v1h-3zM176 303h31v1h-31zM211 303h47v1h-47zM146 304h25v1h-25zM273 304h50v1h-50zM334 304h3v1h-3zM99 304h3v2h-3zM115 305h15v1h-15zM103 306h4v1h-4z"/>
<path fill="#ff5d00" d="M36 242h17v1h-17zM28 243h30v1h-30zM23 244h11v1h-11zM41 244h21v1h-21zM19 245h5v1h-5zM50 245h16v1h-16zM16 246h3v1h-3zM54 246h14v1h-14zM13 247h2v1h-2zM57 247h16v1h-16zM10 248h1v1h-1zM60 248h13v1h-13zM7 249h1v1h-1zM62 249h12v1h-12zM3 250h2v1h-2zM64 250h17v1h-17zM67 251h14v1h-14zM138 253h1v1h-1zM140 253h2v1h-2zM68 252h13v3h-13zM136 254h1v1h-1zM141 254h1v2h-1zM70 255h10v1h-10zM85 255h5v1h-5zM133 255h1v1h-1zM72 256h18v1h-18zM121 256h4v1h-4zM129 256h2v1h-2zM140 256h1v1h-1zM72 257h17v1h-17zM118 257h9v1h-9zM139 257h1v1h-1zM153 257h6v1h-6zM71 258h17v1h-17zM116 258h4v1h-4zM136 258h4v1h-4zM147 258h13v1h-13zM70 259h17v1h-17zM113 259h4v1h-4zM136 259h9v1h-9zM157 259h3v1h-3zM69 260h16v1h-16zM109 260h5v1h-5zM157 260h4v1h-4zM1 261h2v1h-2zM67 261h17v1h-17zM100 261h10v1h-10zM156 261h4v1h-4zM6 262h1v1h-1zM66 262h17v1h-17zM98 262h8v1h-8zM153 262h5v1h-5zM9 263h1v1h-1zM64 263h17v1h-17zM97 263h7v1h-7zM149 263h8v1h-8zM12 264h2v1h-2zM62 264h18v1h-18zM96 264h5v1h-5zM145 264h8v1h-8zM15 265h2v1h-2zM56 265h22v1h-22zM93 265h7v1h-7zM141 265h7v1h-7zM18 266h4v1h-4zM52 266h24v1h-24zM91 266h10v1h-10zM136 266h8v1h-8zM22 267h7v1h-7zM45 267h29v1h-29zM89 267h13v1h-13zM130 267h9v1h-9zM173 267h18v1h-18zM26 268h46v1h-46zM90 268h14v1h-14zM123 268h11v1h-11zM169 268h3v1h-3zM195 268h5v1h-5zM32 269h27v1h-27zM66 269h3v1h-3zM95 269h33v1h-33zM165 269h4v1h-4zM211 269h4v1h-4zM98 270h24v1h-24zM162 270h3v1h-3zM216 270h3v1h-3zM101 271h10v1h-10zM158 271h4v1h-4zM220 271h3v1h-3zM309 271h23v1h-23zM154 272h4v1h-4zM224 272h3v1h-3zM295 272h17v1h-17zM331 272h5v1h-5zM151 273h3v1h-3zM227 273h2v1h-2zM294 273h9v1h-9zM333 273h4v1h-4zM148 274h3v1h-3zM229 274h2v1h-2zM293 274h3v1h-3zM335 274h2v1h-2zM145 275h3v1h-3zM230 275h2v1h-2zM293 275h2v2h-2zM141 276h3v1h-3zM230 276h3v1h-3zM138 277h3v1h-3zM229 277h3v1h-3zM294 277h3v1h-3zM135 278h3v1h-3zM228 278h2v1h-2zM295 278h5v1h-5zM132 279h2v1h-2zM198 279h18v1h-18zM227 279h2v1h-2zM295 279h10v1h-10zM129 280h2v1h-2zM185 280h7v1h-7zM216 280h12v1h-12zM300 280h11v1h-11zM335 280h2v1h-2zM126 281h3v1h-3zM174 281h4v1h-4zM222 281h5v1h-5zM241 281h3v1h-3zM307 281h14v1h-14zM333 281h4v1h-4zM123 282h3v1h-3zM166 282h4v1h-4zM238 282h3v1h-3zM245 282h11v1h-11zM315 282h22v1h-22zM120 283h3v1h-3zM160 283h3v1h-3zM235 283h2v1h-2zM269 283h12v1h-12zM325 283h8v1h-8zM117 284h4v1h-4zM154 284h3v1h-3zM222 284h5v1h-5zM231 284h3v1h-3zM283 284h6v1h-6zM295 284h1v1h-1zM114 285h4v1h-4zM148 285h3v1h-3zM209 285h16v1h-16zM226 285h4v1h-4zM290 285h5v1h-5zM296 285h4v1h-4zM111 286h3v1h-3zM142 286h3v1h-3zM205 286h7v1h-7zM300 286h4v1h-4zM107 287h4v1h-4zM137 287h3v1h-3zM202 287h4v1h-4zM304 287h4v1h-4zM104 288h4v1h-4zM132 288h3v1h-3zM198 288h5v1h-5zM308 288h4v1h-4zM102 289h3v1h-3zM125 289h5v1h-5zM195 289h5v1h-5zM312 289h4v1h-4zM101 290h2v1h-2zM119 290h5v1h-5zM192 290h5v1h-5zM317 290h4v1h-4zM114 291h4v1h-4zM185 291h8v1h-8zM322 291h3v1h-3zM100 291h3v2h-3zM109 292h4v1h-4zM177 292h12v1h-12zM327 292h4v1h-4zM101 293h7v1h-7zM169 293h12v1h-12zM332 293h3v1h-3zM161 294h11v1h-11zM153 295h10v1h-10zM145 296h10v1h-10zM138 297h8v1h-8zM132 298h6v1h-6zM125 299h7v1h-7zM118 300h7v1h-7zM111 301h7v1h-7zM105 302h7v1h-7zM174 302h33v1h-33zM211 302h45v1h-45zM103 303h3v1h-3zM150 303h26v1h-26zM207 303h4v1h-4zM258 303h57v1h-57zM102 304h2v1h-2zM119 304h27v1h-27zM323 304h11v1h-11zM102 305h13v1h-13z"/>
<path fill="#ff4e00" d="M34 244h7v1h-7zM24 245h26v1h-26zM19 246h8v1h-8zM34 246h20v1h-20zM15 247h4v1h-4zM42 247h15v1h-15zM11 248h3v1h-3zM47 248h13v1h-13zM8 249h2v1h-2zM50 249h12v1h-12zM5 250h1v1h-1zM52 250h12v1h-12zM54 251h13v1h-13zM55 252h13v1h-13zM57 253h11v1h-11zM139 253h1v1h-1zM58 254h10v1h-10zM137 254h2v1h-2zM140 254h1v2h-1zM58 255h12v1h-12zM134 255h3v1h-3zM131 256h9v1h-9zM58 256h14v2h-14zM127 257h12v1h-12zM57 258h14v1h-14zM120 258h16v1h-16zM56 259h14v1h-14zM117 259h19v1h-19zM145 259h12v1h-12zM55 260h14v1h-14zM114 260h7v1h-7zM125 260h32v1h-32zM3 261h1v1h-1zM53 261h14v1h-14zM110 261h8v1h-8zM145 261h11v1h-11zM7 262h1v1h-1zM50 262h16v1h-16zM106 262h9v1h-9zM143 262h10v1h-10zM10 263h2v1h-2zM48 263h16v1h-16zM104 263h8v1h-8zM140 263h9v1h-9zM14 264h3v1h-3zM44 264h18v1h-18zM101 264h11v1h-11zM134 264h11v1h-11zM17 265h6v1h-6zM39 265h17v1h-17zM100 265h16v1h-16zM126 265h15v1h-15zM22 266h30v1h-30zM101 266h35v1h-35zM29 267h16v1h-16zM102 267h28v1h-28zM104 268h19v1h-19zM172 268h23v1h-23zM169 269h3v1h-3zM198 269h13v1h-13zM165 270h4v1h-4zM212 270h4v1h-4zM162 271h3v1h-3zM216 271h4v1h-4zM158 272h4v1h-4zM220 272h4v1h-4zM312 272h19v1h-19zM154 273h4v1h-4zM223 273h4v1h-4zM303 273h30v1h-30zM151 274h4v1h-4zM226 274h3v1h-3zM296 274h16v1h-16zM326 274h9v1h-9zM148 275h3v1h-3zM295 275h13v1h-13zM227 275h3v2h-3zM332 275h5v2h-5zM144 276h4v1h-4zM295 276h12v1h-12zM141 277h4v1h-4zM226 277h3v1h-3zM297 277h12v1h-12zM333 277h4v1h-4zM138 278h3v1h-3zM210 278h2v1h-2zM223 278h5v1h-5zM300 278h12v1h-12zM332 278h5v1h-5zM134 279h4v1h-4zM192 279h6v1h-6zM216 279h11v1h-11zM305 279h20v1h-20zM331 279h6v1h-6zM131 280h3v1h-3zM179 280h6v1h-6zM311 280h24v1h-24zM129 281h2v1h-2zM170 281h4v1h-4zM321 281h12v1h-12zM126 282h3v1h-3zM163 282h3v1h-3zM241 282h4v1h-4zM123 283h4v1h-4zM156 283h4v1h-4zM237 283h4v1h-4zM245 283h24v1h-24zM121 284h3v1h-3zM150 284h4v1h-4zM234 284h3v1h-3zM272 284h11v1h-11zM118 285h4v1h-4zM143 285h5v1h-5zM225 285h1v1h-1zM230 285h4v1h-4zM284 285h6v1h-6zM295 285h1v1h-1zM114 286h6v1h-6zM138 286h4v1h-4zM212 286h17v1h-17zM291 286h9v1h-9zM111 287h6v1h-6zM133 287h4v1h-4zM206 287h10v1h-10zM299 287h5v1h-5zM108 288h6v1h-6zM126 288h6v1h-6zM203 288h5v1h-5zM304 288h4v1h-4zM105 289h7v1h-7zM118 289h7v1h-7zM200 289h5v1h-5zM308 289h4v1h-4zM103 290h7v1h-7zM111 290h8v1h-8zM197 290h5v1h-5zM312 290h5v1h-5zM103 291h11v1h-11zM193 291h6v1h-6zM317 291h5v1h-5zM103 292h6v1h-6zM189 292h7v1h-7zM323 292h4v1h-4zM181 293h13v1h-13zM329 293h3v1h-3zM172 294h19v1h-19zM333 294h4v1h-4zM163 295h21v1h-21zM155 296h19v1h-19zM146 297h18v1h-18zM138 298h15v1h-15zM132 299h11v1h-11zM125 300h10v1h-10zM180 300h17v1h-17zM118 301h12v1h-12zM164 301h95v1h-95zM112 302h15v1h-15zM146 302h28v1h-28zM207 302h4v1h-4zM256 302h58v1h-58zM106 303h44v1h-44zM315 303h22v1h-22zM104 304h15v1h-15z"/>
<path fill="#ff3f00" d="M27 246h7v1h-7zM19 247h23v1h-23zM14 248h4v1h-4zM32 248h15v1h-15zM10 249h2v1h-2zM37 249h13v1h-13zM6 250h2v1h-2zM41 250h11v1h-11zM0 251h3v1h-3zM43 251h11v1h-11zM45 252h10v1h-10zM46 253h11v1h-11zM139 254h1v1h-1zM137 255h3v1h-3zM48 254h10v4h-10zM47 258h10v1h-10zM46 259h10v1h-10zM44 260h11v1h-11zM121 260h4v1h-4zM4 261h2v1h-2zM42 261h11v1h-11zM118 261h27v1h-27zM8 262h2v1h-2zM39 262h11v1h-11zM115 262h28v1h-28zM12 263h4v1h-4zM35 263h13v1h-13zM112 263h28v1h-28zM17 264h27v1h-27zM112 264h22v1h-22zM23 265h16v1h-16zM116 265h10v1h-10zM172 269h26v1h-26zM169 270h4v1h-4zM199 270h13v1h-13zM165 271h4v1h-4zM212 271h4v1h-4zM162 272h4v1h-4zM216 272h4v1h-4zM158 273h5v1h-5zM219 273h4v1h-4zM155 274h4v1h-4zM221 274h5v1h-5zM312 274h14v1h-14zM151 275h5v1h-5zM222 275h5v1h-5zM308 275h24v1h-24zM148 276h4v1h-4zM221 276h6v1h-6zM307 276h25v1h-25zM145 277h4v1h-4zM215 277h11v1h-11zM309 277h24v1h-24zM141 278h5v1h-5zM196 278h14v1h-14zM212 278h11v1h-11zM312 278h20v1h-20zM138 279h5v1h-5zM183 279h9v1h-9zM325 279h6v1h-6zM134 280h6v1h-6zM173 280h6v1h-6zM131 281h5v1h-5zM165 281h5v1h-5zM129 282h4v1h-4zM157 282h6v1h-6zM127 283h4v1h-4zM150 283h6v1h-6zM241 283h4v1h-4zM124 284h5v1h-5zM143 284h7v1h-7zM237 284h4v1h-4zM245 284h27v1h-27zM122 285h5v1h-5zM137 285h6v1h-6zM234 285h3v1h-3zM272 285h12v1h-12zM120 286h8v1h-8zM132 286h6v1h-6zM229 286h5v1h-5zM284 286h7v1h-7zM117 287h16v1h-16zM216 287h13v1h-13zM291 287h8v1h-8zM114 288h12v1h-12zM208 288h11v1h-11zM299 288h5v1h-5zM112 289h6v1h-6zM205 289h7v1h-7zM303 289h5v1h-5zM110 290h1v1h-1zM202 290h6v1h-6zM307 290h5v1h-5zM199 291h6v1h-6zM312 291h5v1h-5zM196 292h7v1h-7zM317 292h6v1h-6zM194 293h6v1h-6zM323 293h6v1h-6zM191 294h8v1h-8zM329 294h4v1h-4zM184 295h13v1h-13zM333 295h4v1h-4zM174 296h23v1h-23zM336 296h1v1h-1zM164 297h33v1h-33zM153 298h47v1h-47zM143 299h62v1h-62zM216 299h28v1h-28zM135 300h45v1h-45zM197 300h72v1h-72zM130 301h34v1h-34zM259 301h57v1h-57zM336 301h1v1h-1zM127 302h19v1h-19zM314 302h23v1h-23z"/>
<path fill="#ff3000" d="M18 248h14v1h-14zM12 249h7v1h-7zM22 249h15v1h-15zM8 250h2v1h-2zM30 250h11v1h-11zM3 251h2v1h-2zM34 251h9v1h-9zM36 252h9v1h-9zM38 253h8v1h-8zM39 254h9v1h-9zM40 255h8v2h-8zM39 257h9v1h-9zM38 258h9v1h-9zM37 259h9v1h-9zM0 260h2v1h-2zM35 260h9v1h-9zM6 261h2v1h-2zM32 261h10v1h-10zM10 262h4v1h-4zM27 262h12v1h-12zM16 263h19v1h-19zM173 270h26v1h-26zM169 271h10v1h-10zM197 271h15v1h-15zM166 272h5v1h-5zM210 272h6v1h-6zM163 273h5v1h-5zM213 273h6v1h-6zM159 274h6v1h-6zM215 274h6v1h-6zM156 275h5v1h-5zM215 275h7v1h-7zM152 276h6v1h-6zM211 276h10v1h-10zM149 277h6v1h-6zM198 277h17v1h-17zM146 278h6v1h-6zM185 278h11v1h-11zM143 279h7v1h-7zM175 279h8v1h-8zM140 280h7v1h-7zM165 280h8v1h-8zM136 281h9v1h-9zM157 281h8v1h-8zM133 282h24v1h-24zM131 283h19v1h-19zM129 284h14v1h-14zM241 284h4v1h-4zM127 285h10v1h-10zM237 285h35v1h-35zM128 286h4v1h-4zM234 286h5v1h-5zM269 286h15v1h-15zM229 287h6v1h-6zM282 287h9v1h-9zM219 288h12v1h-12zM289 288h10v1h-10zM212 289h12v1h-12zM297 289h6v1h-6zM208 290h10v1h-10zM302 290h5v1h-5zM205 291h9v1h-9zM306 291h6v1h-6zM203 292h7v1h-7zM310 292h7v1h-7zM200 293h8v1h-8zM315 293h8v1h-8zM199 294h7v1h-7zM321 294h8v1h-8zM328 295h5v1h-5zM197 295h9v2h-9zM332 296h4v1h-4zM197 297h44v1h-44zM334 297h3v1h-3zM200 298h57v1h-57zM335 298h2v2h-2zM205 299h11v1h-11zM244 299h62v1h-62zM269 300h53v1h-53zM333 300h4v1h-4zM316 301h20v1h-20z"/>
<path fill="#ff2200" d="M19 249h3v1h-3zM10 250h20v1h-20zM5 251h2v1h-2zM25 251h9v1h-9zM28 252h8v1h-8zM30 253h8v1h-8zM32 254h7v1h-7zM33 255h7v2h-7zM32 257h7v1h-7zM31 258h7v1h-7zM29 259h8v1h-8zM2 260h3v1h-3zM26 260h9v1h-9zM8 261h4v1h-4zM21 261h11v1h-11zM14 262h13v1h-13zM179 271h18v1h-18zM171 272h39v1h-39zM168 273h10v1h-10zM200 273h13v1h-13zM165 274h7v1h-7zM207 274h8v1h-8zM161 275h8v1h-8zM204 275h11v1h-11zM158 276h9v1h-9zM196 276h15v1h-15zM155 277h10v1h-10zM184 277h14v1h-14zM152 278h12v1h-12zM174 278h11v1h-11zM150 279h25v1h-25zM147 280h18v1h-18zM145 281h12v1h-12zM239 286h30v1h-30zM235 287h47v1h-47zM231 288h9v1h-9zM273 288h16v1h-16zM224 289h11v1h-11zM284 289h13v1h-13zM218 290h13v1h-13zM291 290h11v1h-11zM214 291h14v1h-14zM298 291h8v1h-8zM210 292h18v1h-18zM302 292h8v1h-8zM208 293h24v1h-24zM305 293h10v1h-10zM206 294h34v1h-34zM308 294h13v1h-13zM206 295h44v1h-44zM311 295h17v1h-17zM206 296h54v1h-54zM311 296h21v1h-21zM241 297h93v1h-93zM257 298h78v1h-78zM306 299h29v1h-29zM322 300h11v1h-11z"/>
<path fill="#ff1300" d="M7 251h18v1h-18zM0 252h3v1h-3zM21 252h7v1h-7zM24 253h6v1h-6zM26 254h6v1h-6zM27 255h6v2h-6zM26 257h6v1h-6zM25 258h6v1h-6zM22 259h7v1h-7zM5 260h4v1h-4zM18 260h8v1h-8zM12 261h9v1h-9zM178 273h22v1h-22zM172 274h35v1h-35zM169 275h35v1h-35zM167 276h29v1h-29zM165 277h19v1h-19zM164 278h10v1h-10zM240 288h33v1h-33zM235 289h49v1h-49zM231 290h60v1h-60zM228 291h70v1h-70zM228 292h74v1h-74zM232 293h73v1h-73zM240 294h68v1h-68zM250 295h61v1h-61zM260 296h51v1h-51z"/>
<path fill="#ed0400" d="M3 252h5v1h-5zM12 252h9v1h-9zM18 253h6v1h-6zM20 254h6v1h-6zM22 255h5v2h-5zM21 257h5v1h-5zM19 258h6v1h-6zM0 259h3v1h-3zM15 259h7v1h-7zM9 260h9v1h-9z"/>
<path fill="#da0000" d="M8 252h4v1h-4zM12 253h6v1h-6zM16 254h4v1h-4zM17 255h5v1h-5zM18 256h4v1h-4zM16 257h5v1h-5zM14 258h5v1h-5zM3 259h12v1h-12z"/>
<path fill="#c80000" d="M0 253h12v1h-12zM11 254h5v1h-5zM13 255h4v1h-4zM14 256h4v1h-4zM12 257h4v1h-4zM8 258h6v1h-6z"/>
<path fill="#b60000" d="M6 254h5v1h-5zM10 255h3v1h-3zM10 256h4v1h-4zM8 257h4v1h-4zM0 258h8v1h-8z"/>
<path fill="#a40000" d="M0 254h6v1h-6zM6 255h4v1h-4zM7 256h3v1h-3zM3 257h5v1h-5z"/>
<path fill="#920000" d="M1 255h5v1h-5zM3 256h4v1h-4zM0 257h3v1h-3z"/>
<path fill="#800000" d="M0 255h1v1h-1zM0 256h3v1h-3z"/>
</g></g>
<defs><filter id="nz" x="0" y="0" width="100%" height="100%" color-interpolation-filters="sRGB"><feTurbulence type="fractalNoise" baseFrequency="0.17" numOctaves="2" seed="4" result="n"/><feColorMatrix in="n" type="matrix" values="0 0 0 0 0  0 0 0 0 0.16  0 0 0 0 1  10 0 0 0 -5.0" result="m0"/><feGaussianBlur in="m0" stdDeviation="1.1" result="m"/><feComposite in="m" in2="SourceGraphic" operator="in"/></filter><filter id="nz2" x="0" y="0" width="100%" height="100%" color-interpolation-filters="sRGB"><feTurbulence type="fractalNoise" baseFrequency="0.17" numOctaves="2" seed="11" result="n"/><feColorMatrix in="n" type="matrix" values="0 0 0 0 0  0 0 0 0 0  0 0 0 0 0.5  9 0 0 0 -4.7" result="m0"/><feGaussianBlur in="m0" stdDeviation="1.1" result="m"/><feComposite in="m" in2="SourceGraphic" operator="in"/></filter><filter id="b30" x="-20%" y="-20%" width="140%" height="140%"><feGaussianBlur stdDeviation="20"/></filter><mask id="nm" maskUnits="userSpaceOnUse" x="291.8" y="127.0" width="1683.0" height="1563.3"><polygon points="595,964 639,773 661,544 691,123 1351,123 1177,416 1021,620 882,799 778,900 674,977" fill="url(#nmg)" filter="url(#b30)"/></mask><linearGradient id="nmg" gradientUnits="userSpaceOnUse" x1="621" y1="0" x2="1030" y2="0"><stop offset="0" stop-color="#fff" stop-opacity="0.35"/><stop offset="1" stop-color="#fff" stop-opacity="1"/></linearGradient></defs><g mask="url(#nm)"><rect x="578" y="127" width="886" height="926" fill="#00f" filter="url(#nz)"/><rect x="578" y="127" width="886" height="926" fill="#00f" filter="url(#nz2)"/></g>
<defs><linearGradient id="s0" gradientUnits="userSpaceOnUse" x1="983" y1="177" x2="1015" y2="110"><stop offset="0.00" stop-color="#07f" stop-opacity="0.12"/><stop offset="1.00" stop-color="#07f" stop-opacity="0.16"/></linearGradient><linearGradient id="s1" gradientUnits="userSpaceOnUse" x1="946" y1="278" x2="1025" y2="110"><stop offset="0.00" stop-color="#008" stop-opacity="0.10"/><stop offset="0.40" stop-color="#008" stop-opacity="0.14"/><stop offset="1.00" stop-color="#008" stop-opacity="0.21"/></linearGradient><linearGradient id="s2" gradientUnits="userSpaceOnUse" x1="907" y1="413" x2="1049" y2="110"><stop offset="0.00" stop-color="#008" stop-opacity="0.11"/><stop offset="0.22" stop-color="#008" stop-opacity="0.15"/><stop offset="0.44" stop-color="#008" stop-opacity="0.20"/><stop offset="0.78" stop-color="#008" stop-opacity="0.27"/><stop offset="1.00" stop-color="#008" stop-opacity="0.32"/></linearGradient><linearGradient id="s3" gradientUnits="userSpaceOnUse" x1="878" y1="514" x2="1068" y2="110"><stop offset="0.00" stop-color="#08f" stop-opacity="0.12"/><stop offset="0.17" stop-color="#08f" stop-opacity="0.16"/><stop offset="0.42" stop-color="#08f" stop-opacity="0.23"/><stop offset="0.58" stop-color="#08f" stop-opacity="0.28"/><stop offset="0.83" stop-color="#09f" stop-opacity="0.36"/><stop offset="1.00" stop-color="#09f" stop-opacity="0.42"/></linearGradient><linearGradient id="s4" gradientUnits="userSpaceOnUse" x1="857" y1="581" x2="1078" y2="110"><stop offset="0.00" stop-color="#008" stop-opacity="0.12"/><stop offset="0.14" stop-color="#008" stop-opacity="0.16"/><stop offset="0.36" stop-color="#008" stop-opacity="0.23"/><stop offset="0.50" stop-color="#008" stop-opacity="0.28"/><stop offset="0.64" stop-color="#008" stop-opacity="0.33"/><stop offset="0.86" stop-color="#008" stop-opacity="0.41"/><stop offset="1.00" stop-color="#008" stop-opacity="0.47"/></linearGradient><linearGradient id="s5" gradientUnits="userSpaceOnUse" x1="850" y1="615" x2="1087" y2="110"><stop offset="0.00" stop-color="#07f" stop-opacity="0.11"/><stop offset="0.13" stop-color="#07f" stop-opacity="0.14"/><stop offset="0.27" stop-color="#06f" stop-opacity="0.18"/><stop offset="0.40" stop-color="#06f" stop-opacity="0.23"/><stop offset="0.60" stop-color="#07f" stop-opacity="0.29"/><stop offset="0.73" stop-color="#07f" stop-opacity="0.34"/><stop offset="0.87" stop-color="#07f" stop-opacity="0.39"/><stop offset="1.00" stop-color="#08f" stop-opacity="0.44"/></linearGradient><linearGradient id="s6" gradientUnits="userSpaceOnUse" x1="842" y1="648" x2="1095" y2="110"><stop offset="0.00" stop-color="#00b" stop-opacity="0.10"/><stop offset="0.13" stop-color="#009" stop-opacity="0.14"/><stop offset="0.31" stop-color="#008" stop-opacity="0.20"/><stop offset="0.44" stop-color="#008" stop-opacity="0.24"/><stop offset="0.56" stop-color="#008" stop-opacity="0.28"/><stop offset="0.69" stop-color="#008" stop-opacity="0.32"/><stop offset="0.88" stop-color="#008" stop-opacity="0.39"/><stop offset="1.00" stop-color="#009" stop-opacity="0.43"/></linearGradient><linearGradient id="s7" gradientUnits="userSpaceOnUse" x1="871" y1="615" x2="1108" y2="110"><stop offset="0.00" stop-color="#06f" stop-opacity="0.11"/><stop offset="0.13" stop-color="#05f" stop-opacity="0.13"/><stop offset="0.27" stop-color="#04f" stop-opacity="0.16"/><stop offset="0.40" stop-color="#04f" stop-opacity="0.19"/><stop offset="0.60" stop-color="#04f" stop-opacity="0.23"/><stop offset="0.73" stop-color="#04f" stop-opacity="0.26"/><stop offset="0.87" stop-color="#04f" stop-opacity="0.29"/><stop offset="1.00" stop-color="#05f" stop-opacity="0.31"/></linearGradient><linearGradient id="s8" gradientUnits="userSpaceOnUse" x1="793" y1="783" x2="1117" y2="110"><stop offset="0.00" stop-color="#00c" stop-opacity="0.11"/><stop offset="0.10" stop-color="#00c" stop-opacity="0.17"/><stop offset="0.25" stop-color="#008" stop-opacity="0.25"/><stop offset="0.40" stop-color="#008" stop-opacity="0.33"/><stop offset="0.50" stop-color="#008" stop-opacity="0.39"/><stop offset="0.60" stop-color="#008" stop-opacity="0.44"/><stop offset="0.75" stop-color="#008" stop-opacity="0.53"/><stop offset="0.90" stop-color="#008" stop-opacity="0.61"/><stop offset="1.00" stop-color="#008" stop-opacity="0.66"/></linearGradient><linearGradient id="s9" gradientUnits="userSpaceOnUse" x1="770" y1="850" x2="1134" y2="110"><stop offset="0.00" stop-color="#00c" stop-opacity="0.10"/><stop offset="0.14" stop-color="#00d" stop-opacity="0.21"/><stop offset="0.28" stop-color="#00a" stop-opacity="0.31"/><stop offset="0.37" stop-color="#008" stop-opacity="0.36"/><stop offset="0.50" stop-color="#008" stop-opacity="0.45"/><stop offset="0.64" stop-color="#008" stop-opacity="0.53"/><stop offset="0.73" stop-color="#008" stop-opacity="0.59"/><stop offset="0.86" stop-color="#008" stop-opacity="0.67"/><stop offset="1.00" stop-color="#008" stop-opacity="0.74"/></linearGradient><linearGradient id="s10" gradientUnits="userSpaceOnUse" x1="826" y1="783" x2="1150" y2="110"><stop offset="0.00" stop-color="#0bf" stop-opacity="0.11"/><stop offset="0.10" stop-color="#0bf" stop-opacity="0.14"/><stop offset="0.25" stop-color="#08f" stop-opacity="0.18"/><stop offset="0.40" stop-color="#05f" stop-opacity="0.22"/><stop offset="0.50" stop-color="#04f" stop-opacity="0.24"/><stop offset="0.60" stop-color="#04f" stop-opacity="0.27"/><stop offset="0.75" stop-color="#04f" stop-opacity="0.30"/><stop offset="0.90" stop-color="#05f" stop-opacity="0.33"/><stop offset="1.00" stop-color="#05f" stop-opacity="0.35"/></linearGradient><linearGradient id="s11" gradientUnits="userSpaceOnUse" x1="731" y1="951" x2="1166" y2="110"><stop offset="0.00" stop-color="#03f" stop-opacity="0.05"/><stop offset="0.13" stop-color="#00e" stop-opacity="0.22"/><stop offset="0.25" stop-color="#00f" stop-opacity="0.36"/><stop offset="0.37" stop-color="#00d" stop-opacity="0.47"/><stop offset="0.49" stop-color="#009" stop-opacity="0.55"/><stop offset="0.65" stop-color="#008" stop-opacity="0.66"/><stop offset="0.76" stop-color="#008" stop-opacity="0.74"/><stop offset="0.88" stop-color="#008" stop-opacity="0.80"/><stop offset="1.00" stop-color="#008" stop-opacity="0.84"/></linearGradient><linearGradient id="s12" gradientUnits="userSpaceOnUse" x1="746" y1="951" x2="1180" y2="110"><stop offset="0.00" stop-color="#7f8" stop-opacity="0.10"/><stop offset="0.13" stop-color="#4fb" stop-opacity="0.29"/><stop offset="0.25" stop-color="#5fa" stop-opacity="0.43"/><stop offset="0.37" stop-color="#2fc" stop-opacity="0.54"/><stop offset="0.49" stop-color="#0df" stop-opacity="0.63"/><stop offset="0.65" stop-color="#0af" stop-opacity="0.73"/><stop offset="0.76" stop-color="#0af" stop-opacity="0.80"/><stop offset="0.88" stop-color="#0bf" stop-opacity="0.85"/><stop offset="1.00" stop-color="#0bf" stop-opacity="0.85"/></linearGradient><linearGradient id="s13" gradientUnits="userSpaceOnUse" x1="798" y1="884" x2="1184" y2="110"><stop offset="0.00" stop-color="#07f" stop-opacity="0.10"/><stop offset="0.14" stop-color="#06f" stop-opacity="0.16"/><stop offset="0.27" stop-color="#05f" stop-opacity="0.21"/><stop offset="0.40" stop-color="#01f" stop-opacity="0.25"/><stop offset="0.53" stop-color="#00e" stop-opacity="0.28"/><stop offset="0.61" stop-color="#00d" stop-opacity="0.30"/><stop offset="0.74" stop-color="#00d" stop-opacity="0.32"/><stop offset="0.87" stop-color="#00e" stop-opacity="0.34"/><stop offset="1.00" stop-color="#00e" stop-opacity="0.35"/></linearGradient><linearGradient id="s14" gradientUnits="userSpaceOnUse" x1="752" y1="951" x2="1186" y2="110"><stop offset="0.00" stop-color="#4fa" stop-opacity="0.08"/><stop offset="0.13" stop-color="#1fd" stop-opacity="0.23"/><stop offset="0.25" stop-color="#2fc" stop-opacity="0.33"/><stop offset="0.37" stop-color="#0df" stop-opacity="0.41"/><stop offset="0.49" stop-color="#0af" stop-opacity="0.47"/><stop offset="0.65" stop-color="#07f" stop-opacity="0.54"/><stop offset="0.76" stop-color="#07f" stop-opacity="0.59"/><stop offset="0.88" stop-color="#08f" stop-opacity="0.61"/><stop offset="1.00" stop-color="#08f" stop-opacity="0.62"/></linearGradient><linearGradient id="s15" gradientUnits="userSpaceOnUse" x1="760" y1="951" x2="1195" y2="110"><stop offset="0.00" stop-color="#07f" stop-opacity="0.10"/><stop offset="0.13" stop-color="#04f" stop-opacity="0.25"/><stop offset="0.25" stop-color="#04f" stop-opacity="0.35"/><stop offset="0.37" stop-color="#02f" stop-opacity="0.43"/><stop offset="0.49" stop-color="#00e" stop-opacity="0.48"/><stop offset="0.65" stop-color="#00a" stop-opacity="0.55"/><stop offset="0.76" stop-color="#00b" stop-opacity="0.59"/><stop offset="0.88" stop-color="#00b" stop-opacity="0.61"/><stop offset="1.00" stop-color="#00c" stop-opacity="0.61"/></linearGradient><linearGradient id="s16" gradientUnits="userSpaceOnUse" x1="738" y1="985" x2="1200" y2="110"><stop offset="0.00" stop-color="#6f8" stop-opacity="0.06"/><stop offset="0.13" stop-color="#4fb" stop-opacity="0.26"/><stop offset="0.25" stop-color="#3fc" stop-opacity="0.38"/><stop offset="0.40" stop-color="#1fe" stop-opacity="0.50"/><stop offset="0.51" stop-color="#0bf" stop-opacity="0.56"/><stop offset="0.62" stop-color="#08f" stop-opacity="0.62"/><stop offset="0.77" stop-color="#08f" stop-opacity="0.68"/><stop offset="0.89" stop-color="#08f" stop-opacity="0.70"/><stop offset="1.00" stop-color="#09f" stop-opacity="0.69"/></linearGradient><linearGradient id="s17" gradientUnits="userSpaceOnUse" x1="795" y1="917" x2="1205" y2="110"><stop offset="0.00" stop-color="#09f" stop-opacity="0.11"/><stop offset="0.13" stop-color="#06f" stop-opacity="0.19"/><stop offset="0.26" stop-color="#07f" stop-opacity="0.24"/><stop offset="0.38" stop-color="#03f" stop-opacity="0.28"/><stop offset="0.51" stop-color="#00f" stop-opacity="0.31"/><stop offset="0.63" stop-color="#00d" stop-opacity="0.34"/><stop offset="0.75" stop-color="#00e" stop-opacity="0.36"/><stop offset="0.88" stop-color="#00e" stop-opacity="0.37"/><stop offset="1.00" stop-color="#00e" stop-opacity="0.36"/></linearGradient><linearGradient id="s18" gradientUnits="userSpaceOnUse" x1="755" y1="985" x2="1217" y2="110"><stop offset="0.00" stop-color="#5fa" stop-opacity="0.06"/><stop offset="0.13" stop-color="#3fc" stop-opacity="0.21"/><stop offset="0.25" stop-color="#2fd" stop-opacity="0.29"/><stop offset="0.40" stop-color="#0df" stop-opacity="0.36"/><stop offset="0.51" stop-color="#09f" stop-opacity="0.40"/><stop offset="0.62" stop-color="#06f" stop-opacity="0.43"/><stop offset="0.77" stop-color="#06f" stop-opacity="0.46"/><stop offset="0.89" stop-color="#06f" stop-opacity="0.46"/><stop offset="1.00" stop-color="#07f" stop-opacity="0.45"/></linearGradient><linearGradient id="s19" gradientUnits="userSpaceOnUse" x1="760" y1="985" x2="1221" y2="110"><stop offset="0.00" stop-color="#07f" stop-opacity="0.11"/><stop offset="0.13" stop-color="#04f" stop-opacity="0.41"/><stop offset="0.25" stop-color="#02f" stop-opacity="0.59"/><stop offset="0.40" stop-color="#00f" stop-opacity="0.74"/><stop offset="0.51" stop-color="#00b" stop-opacity="0.81"/><stop offset="0.62" stop-color="#008" stop-opacity="0.85"/><stop offset="0.77" stop-color="#008" stop-opacity="0.85"/><stop offset="0.89" stop-color="#008" stop-opacity="0.85"/><stop offset="1.00" stop-color="#008" stop-opacity="0.85"/></linearGradient><linearGradient id="s20" gradientUnits="userSpaceOnUse" x1="744" y1="1018" x2="1234" y2="110"><stop offset="0.00" stop-color="#9f5" stop-opacity="0.08"/><stop offset="0.12" stop-color="#8f7" stop-opacity="0.43"/><stop offset="0.28" stop-color="#7f8" stop-opacity="0.67"/><stop offset="0.39" stop-color="#6f9" stop-opacity="0.77"/><stop offset="0.53" stop-color="#1fe" stop-opacity="0.85"/><stop offset="0.64" stop-color="#0cf" stop-opacity="0.85"/><stop offset="0.75" stop-color="#0bf" stop-opacity="0.85"/><stop offset="0.89" stop-color="#0cf" stop-opacity="0.85"/><stop offset="1.00" stop-color="#0cf" stop-opacity="0.85"/></linearGradient><linearGradient id="s21" gradientUnits="userSpaceOnUse" x1="751" y1="1018" x2="1241" y2="110"><stop offset="0.00" stop-color="#0cf" stop-opacity="0.05"/><stop offset="0.12" stop-color="#07f" stop-opacity="0.34"/><stop offset="0.28" stop-color="#05f" stop-opacity="0.59"/><stop offset="0.39" stop-color="#04f" stop-opacity="0.71"/><stop offset="0.53" stop-color="#00d" stop-opacity="0.80"/><stop offset="0.64" stop-color="#00a" stop-opacity="0.83"/><stop offset="0.75" stop-color="#009" stop-opacity="0.85"/><stop offset="0.89" stop-color="#00a" stop-opacity="0.82"/><stop offset="1.00" stop-color="#00a" stop-opacity="0.79"/></linearGradient><linearGradient id="s22" gradientUnits="userSpaceOnUse" x1="759" y1="1018" x2="1249" y2="110"><stop offset="0.00" stop-color="#af5" stop-opacity="0.12"/><stop offset="0.12" stop-color="#8f6" stop-opacity="0.50"/><stop offset="0.28" stop-color="#7f8" stop-opacity="0.73"/><stop offset="0.39" stop-color="#6f8" stop-opacity="0.83"/><stop offset="0.53" stop-color="#1fd" stop-opacity="0.85"/><stop offset="0.64" stop-color="#0cf" stop-opacity="0.85"/><stop offset="0.75" stop-color="#0cf" stop-opacity="0.85"/><stop offset="0.89" stop-color="#0cf" stop-opacity="0.85"/><stop offset="1.00" stop-color="#0cf" stop-opacity="0.85"/></linearGradient><linearGradient id="s23" gradientUnits="userSpaceOnUse" x1="766" y1="1018" x2="1256" y2="110"><stop offset="0.00" stop-color="#0df" stop-opacity="0.06"/><stop offset="0.12" stop-color="#09f" stop-opacity="0.31"/><stop offset="0.28" stop-color="#07f" stop-opacity="0.53"/><stop offset="0.39" stop-color="#05f" stop-opacity="0.63"/><stop offset="0.53" stop-color="#00f" stop-opacity="0.71"/><stop offset="0.64" stop-color="#00c" stop-opacity="0.73"/><stop offset="0.75" stop-color="#00b" stop-opacity="0.72"/><stop offset="0.89" stop-color="#00b" stop-opacity="0.69"/><stop offset="1.00" stop-color="#00c" stop-opacity="0.66"/></linearGradient><linearGradient id="s24" gradientUnits="userSpaceOnUse" x1="772" y1="1018" x2="1262" y2="110"><stop offset="0.00" stop-color="#6f8" stop-opacity="0.07"/><stop offset="0.12" stop-color="#5fa" stop-opacity="0.24"/><stop offset="0.28" stop-color="#3fc" stop-opacity="0.34"/><stop offset="0.39" stop-color="#2fc" stop-opacity="0.38"/><stop offset="0.53" stop-color="#0af" stop-opacity="0.40"/><stop offset="0.64" stop-color="#07f" stop-opacity="0.41"/><stop offset="0.75" stop-color="#06f" stop-opacity="0.40"/><stop offset="0.89" stop-color="#06f" stop-opacity="0.38"/><stop offset="1.00" stop-color="#07f" stop-opacity="0.37"/></linearGradient><linearGradient id="s25" gradientUnits="userSpaceOnUse" x1="777" y1="1018" x2="1267" y2="110"><stop offset="0.00" stop-color="#1fd" stop-opacity="0.06"/><stop offset="0.12" stop-color="#0bf" stop-opacity="0.27"/><stop offset="0.28" stop-color="#08f" stop-opacity="0.46"/><stop offset="0.39" stop-color="#07f" stop-opacity="0.55"/><stop offset="0.53" stop-color="#01f" stop-opacity="0.62"/><stop offset="0.64" stop-color="#00d" stop-opacity="0.62"/><stop offset="0.75" stop-color="#00c" stop-opacity="0.61"/><stop offset="0.89" stop-color="#00d" stop-opacity="0.58"/><stop offset="1.00" stop-color="#00d" stop-opacity="0.55"/></linearGradient><linearGradient id="s26" gradientUnits="userSpaceOnUse" x1="771" y1="1052" x2="1292" y2="110"><stop offset="0.00" stop-color="#bf3" stop-opacity="0.11"/><stop offset="0.16" stop-color="#9f5" stop-opacity="0.64"/><stop offset="0.27" stop-color="#8f6" stop-opacity="0.84"/><stop offset="0.38" stop-color="#8f7" stop-opacity="0.85"/><stop offset="0.52" stop-color="#3fb" stop-opacity="0.85"/><stop offset="0.66" stop-color="#0df" stop-opacity="0.85"/><stop offset="0.76" stop-color="#0cf" stop-opacity="0.85"/><stop offset="0.86" stop-color="#0cf" stop-opacity="0.85"/><stop offset="1.00" stop-color="#0df" stop-opacity="0.83"/></linearGradient><linearGradient id="s27" gradientUnits="userSpaceOnUse" x1="808" y1="1018" x2="1298" y2="110"><stop offset="0.00" stop-color="#2fc" stop-opacity="0.09"/><stop offset="0.12" stop-color="#0cf" stop-opacity="0.30"/><stop offset="0.28" stop-color="#0af" stop-opacity="0.47"/><stop offset="0.39" stop-color="#08f" stop-opacity="0.58"/><stop offset="0.53" stop-color="#01f" stop-opacity="0.66"/><stop offset="0.64" stop-color="#00e" stop-opacity="0.64"/><stop offset="0.75" stop-color="#00d" stop-opacity="0.62"/><stop offset="0.89" stop-color="#00d" stop-opacity="0.59"/><stop offset="1.00" stop-color="#00d" stop-opacity="0.56"/></linearGradient><linearGradient id="s28" gradientUnits="userSpaceOnUse" x1="812" y1="1018" x2="1302" y2="110"><stop offset="0.00" stop-color="#8f7" stop-opacity="0.09"/><stop offset="0.12" stop-color="#5f9" stop-opacity="0.25"/><stop offset="0.28" stop-color="#4fb" stop-opacity="0.33"/><stop offset="0.39" stop-color="#3fc" stop-opacity="0.36"/><stop offset="0.53" stop-color="#0bf" stop-opacity="0.36"/><stop offset="0.64" stop-color="#07f" stop-opacity="0.35"/><stop offset="0.75" stop-color="#06f" stop-opacity="0.34"/><stop offset="0.89" stop-color="#06f" stop-opacity="0.32"/><stop offset="1.00" stop-color="#07f" stop-opacity="0.31"/></linearGradient><linearGradient id="s29" gradientUnits="userSpaceOnUse" x1="787" y1="1052" x2="1307" y2="110"><stop offset="0.00" stop-color="#3fb" stop-opacity="0.07"/><stop offset="0.16" stop-color="#0bf" stop-opacity="0.40"/><stop offset="0.27" stop-color="#08f" stop-opacity="0.59"/><stop offset="0.38" stop-color="#08f" stop-opacity="0.67"/><stop offset="0.52" stop-color="#01f" stop-opacity="0.85"/><stop offset="0.66" stop-color="#00c" stop-opacity="0.85"/><stop offset="0.76" stop-color="#00a" stop-opacity="0.82"/><stop offset="0.86" stop-color="#00a" stop-opacity="0.79"/><stop offset="1.00" stop-color="#00b" stop-opacity="0.74"/></linearGradient><linearGradient id="s30" gradientUnits="userSpaceOnUse" x1="790" y1="1052" x2="1311" y2="110"><stop offset="0.00" stop-color="#af5" stop-opacity="0.10"/><stop offset="0.16" stop-color="#7f8" stop-opacity="0.43"/><stop offset="0.27" stop-color="#6f9" stop-opacity="0.54"/><stop offset="0.38" stop-color="#5f9" stop-opacity="0.57"/><stop offset="0.52" stop-color="#1ee" stop-opacity="0.60"/><stop offset="0.66" stop-color="#09f" stop-opacity="0.58"/><stop offset="0.76" stop-color="#08f" stop-opacity="0.56"/><stop offset="0.86" stop-color="#08f" stop-opacity="0.54"/><stop offset="1.00" stop-color="#09f" stop-opacity="0.51"/></linearGradient><linearGradient id="s31" gradientUnits="userSpaceOnUse" x1="796" y1="1052" x2="1316" y2="110"><stop offset="0.00" stop-color="#3fc" stop-opacity="0.09"/><stop offset="0.16" stop-color="#0af" stop-opacity="0.44"/><stop offset="0.27" stop-color="#08f" stop-opacity="0.62"/><stop offset="0.38" stop-color="#07f" stop-opacity="0.67"/><stop offset="0.52" stop-color="#00f" stop-opacity="0.85"/><stop offset="0.66" stop-color="#00a" stop-opacity="0.85"/><stop offset="0.76" stop-color="#009" stop-opacity="0.85"/><stop offset="0.86" stop-color="#009" stop-opacity="0.85"/><stop offset="1.00" stop-color="#009" stop-opacity="0.81"/></linearGradient><linearGradient id="s32" gradientUnits="userSpaceOnUse" x1="776" y1="1085" x2="1328" y2="110"><stop offset="0.00" stop-color="#df1" stop-opacity="0.10"/><stop offset="0.16" stop-color="#af5" stop-opacity="0.61"/><stop offset="0.27" stop-color="#9f5" stop-opacity="0.81"/><stop offset="0.40" stop-color="#8f6" stop-opacity="0.85"/><stop offset="0.50" stop-color="#5f9" stop-opacity="0.85"/><stop offset="0.64" stop-color="#1fd" stop-opacity="0.85"/><stop offset="0.77" stop-color="#0df" stop-opacity="0.85"/><stop offset="0.87" stop-color="#0df" stop-opacity="0.85"/><stop offset="1.00" stop-color="#0df" stop-opacity="0.80"/></linearGradient><linearGradient id="s33" gradientUnits="userSpaceOnUse" x1="761" y1="1119" x2="1347" y2="110"><stop offset="0.00" stop-color="#fe0" stop-opacity="0.06"/><stop offset="0.15" stop-color="#bf4" stop-opacity="0.49"/><stop offset="0.29" stop-color="#9f5" stop-opacity="0.80"/><stop offset="0.39" stop-color="#9f6" stop-opacity="0.85"/><stop offset="0.52" stop-color="#6f9" stop-opacity="0.85"/><stop offset="0.65" stop-color="#2fd" stop-opacity="0.85"/><stop offset="0.75" stop-color="#0df" stop-opacity="0.85"/><stop offset="0.87" stop-color="#0df" stop-opacity="0.83"/><stop offset="1.00" stop-color="#0df" stop-opacity="0.79"/></linearGradient><linearGradient id="s34" gradientUnits="userSpaceOnUse" x1="807" y1="1085" x2="1359" y2="110"><stop offset="0.00" stop-color="#5f9" stop-opacity="0.08"/><stop offset="0.16" stop-color="#0df" stop-opacity="0.36"/><stop offset="0.27" stop-color="#0bf" stop-opacity="0.47"/><stop offset="0.40" stop-color="#08f" stop-opacity="0.61"/><stop offset="0.50" stop-color="#02f" stop-opacity="0.84"/><stop offset="0.64" stop-color="#00c" stop-opacity="0.85"/><stop offset="0.77" stop-color="#00a" stop-opacity="0.85"/><stop offset="0.87" stop-color="#00a" stop-opacity="0.82"/><stop offset="1.00" stop-color="#00a" stop-opacity="0.78"/></linearGradient><linearGradient id="s35" gradientUnits="userSpaceOnUse" x1="785" y1="1119" x2="1371" y2="110"><stop offset="0.00" stop-color="#fe0" stop-opacity="0.10"/><stop offset="0.15" stop-color="#bf4" stop-opacity="0.52"/><stop offset="0.29" stop-color="#af5" stop-opacity="0.76"/><stop offset="0.39" stop-color="#9f5" stop-opacity="0.84"/><stop offset="0.52" stop-color="#6f8" stop-opacity="0.85"/><stop offset="0.65" stop-color="#2fd" stop-opacity="0.85"/><stop offset="0.75" stop-color="#0df" stop-opacity="0.85"/><stop offset="0.87" stop-color="#0df" stop-opacity="0.82"/><stop offset="1.00" stop-color="#0ee" stop-opacity="0.78"/></linearGradient><linearGradient id="s36" gradientUnits="userSpaceOnUse" x1="831" y1="1085" x2="1384" y2="110"><stop offset="0.00" stop-color="#5f9" stop-opacity="0.11"/><stop offset="0.16" stop-color="#0ee" stop-opacity="0.36"/><stop offset="0.27" stop-color="#0cf" stop-opacity="0.42"/><stop offset="0.40" stop-color="#09f" stop-opacity="0.58"/><stop offset="0.50" stop-color="#03f" stop-opacity="0.81"/><stop offset="0.64" stop-color="#00d" stop-opacity="0.85"/><stop offset="0.77" stop-color="#00a" stop-opacity="0.84"/><stop offset="0.87" stop-color="#00a" stop-opacity="0.81"/><stop offset="1.00" stop-color="#00a" stop-opacity="0.77"/></linearGradient><linearGradient id="s37" gradientUnits="userSpaceOnUse" x1="823" y1="1119" x2="1409" y2="110"><stop offset="0.00" stop-color="#ef1" stop-opacity="0.10"/><stop offset="0.15" stop-color="#9f5" stop-opacity="0.30"/><stop offset="0.29" stop-color="#8f7" stop-opacity="0.40"/><stop offset="0.39" stop-color="#7f8" stop-opacity="0.45"/><stop offset="0.52" stop-color="#3fb" stop-opacity="0.52"/><stop offset="0.65" stop-color="#0cf" stop-opacity="0.49"/><stop offset="0.75" stop-color="#09f" stop-opacity="0.47"/><stop offset="0.87" stop-color="#09f" stop-opacity="0.45"/><stop offset="1.00" stop-color="#0af" stop-opacity="0.43"/></linearGradient><linearGradient id="s38" gradientUnits="userSpaceOnUse" x1="899" y1="1052" x2="1419" y2="110"><stop offset="0.00" stop-color="#7f7" stop-opacity="0.10"/><stop offset="0.16" stop-color="#3fc" stop-opacity="0.19"/><stop offset="0.27" stop-color="#2fc" stop-opacity="0.21"/><stop offset="0.38" stop-color="#0ee" stop-opacity="0.27"/><stop offset="0.52" stop-color="#07f" stop-opacity="0.47"/><stop offset="0.66" stop-color="#01f" stop-opacity="0.44"/><stop offset="0.76" stop-color="#00f" stop-opacity="0.42"/><stop offset="0.86" stop-color="#00f" stop-opacity="0.41"/><stop offset="1.00" stop-color="#00f" stop-opacity="0.40"/></linearGradient><linearGradient id="s39" gradientUnits="userSpaceOnUse" x1="815" y1="1153" x2="1436" y2="110"><stop offset="0.00" stop-color="#8f6" stop-opacity="0.08"/><stop offset="0.15" stop-color="#4fa" stop-opacity="0.23"/><stop offset="0.29" stop-color="#0ee" stop-opacity="0.36"/><stop offset="0.42" stop-color="#0bf" stop-opacity="0.45"/><stop offset="0.54" stop-color="#04f" stop-opacity="0.79"/><stop offset="0.63" stop-color="#00f" stop-opacity="0.85"/><stop offset="0.76" stop-color="#00b" stop-opacity="0.81"/><stop offset="0.88" stop-color="#00b" stop-opacity="0.78"/><stop offset="1.00" stop-color="#00b" stop-opacity="0.77"/></linearGradient><linearGradient id="s40" gradientUnits="userSpaceOnUse" x1="797" y1="1186" x2="1452" y2="110"><stop offset="0.00" stop-color="#fa0" stop-opacity="0.12"/><stop offset="0.15" stop-color="#ef0" stop-opacity="0.36"/><stop offset="0.28" stop-color="#bf4" stop-opacity="0.61"/><stop offset="0.41" stop-color="#af5" stop-opacity="0.71"/><stop offset="0.53" stop-color="#8f6" stop-opacity="0.85"/><stop offset="0.65" stop-color="#3fb" stop-opacity="0.85"/><stop offset="0.77" stop-color="#1fe" stop-opacity="0.80"/><stop offset="0.88" stop-color="#1ee" stop-opacity="0.77"/><stop offset="1.00" stop-color="#1fe" stop-opacity="0.76"/></linearGradient><linearGradient id="s41" gradientUnits="userSpaceOnUse" x1="777" y1="1220" x2="1468" y2="110"><stop offset="0.00" stop-color="#fa0" stop-opacity="0.07"/><stop offset="0.14" stop-color="#ef0" stop-opacity="0.27"/><stop offset="0.28" stop-color="#af4" stop-opacity="0.44"/><stop offset="0.40" stop-color="#9f5" stop-opacity="0.51"/><stop offset="0.52" stop-color="#7f7" stop-opacity="0.66"/><stop offset="0.66" stop-color="#2fd" stop-opacity="0.68"/><stop offset="0.77" stop-color="#0cf" stop-opacity="0.65"/><stop offset="0.89" stop-color="#0cf" stop-opacity="0.63"/><stop offset="1.00" stop-color="#0cf" stop-opacity="0.62"/></linearGradient><linearGradient id="s42" gradientUnits="userSpaceOnUse" x1="852" y1="1153" x2="1472" y2="110"><stop offset="0.00" stop-color="#af5" stop-opacity="0.10"/><stop offset="0.15" stop-color="#6f8" stop-opacity="0.18"/><stop offset="0.29" stop-color="#3fc" stop-opacity="0.26"/><stop offset="0.42" stop-color="#0df" stop-opacity="0.33"/><stop offset="0.54" stop-color="#06f" stop-opacity="0.66"/><stop offset="0.63" stop-color="#01f" stop-opacity="0.67"/><stop offset="0.76" stop-color="#00e" stop-opacity="0.64"/><stop offset="0.88" stop-color="#00e" stop-opacity="0.62"/><stop offset="1.00" stop-color="#00e" stop-opacity="0.61"/></linearGradient><linearGradient id="s43" gradientUnits="userSpaceOnUse" x1="788" y1="1220" x2="1479" y2="110"><stop offset="0.00" stop-color="#fa0" stop-opacity="0.09"/><stop offset="0.14" stop-color="#fe0" stop-opacity="0.31"/><stop offset="0.28" stop-color="#bf4" stop-opacity="0.47"/><stop offset="0.40" stop-color="#af5" stop-opacity="0.54"/><stop offset="0.52" stop-color="#8f7" stop-opacity="0.72"/><stop offset="0.66" stop-color="#2fc" stop-opacity="0.74"/><stop offset="0.77" stop-color="#0df" stop-opacity="0.71"/><stop offset="0.89" stop-color="#0df" stop-opacity="0.69"/><stop offset="1.00" stop-color="#0df" stop-opacity="0.68"/></linearGradient><linearGradient id="s44" gradientUnits="userSpaceOnUse" x1="831" y1="1186" x2="1487" y2="110"><stop offset="0.00" stop-color="#af5" stop-opacity="0.10"/><stop offset="0.15" stop-color="#6f9" stop-opacity="0.21"/><stop offset="0.28" stop-color="#2fc" stop-opacity="0.31"/><stop offset="0.41" stop-color="#0df" stop-opacity="0.36"/><stop offset="0.53" stop-color="#06f" stop-opacity="0.69"/><stop offset="0.65" stop-color="#00f" stop-opacity="0.82"/><stop offset="0.77" stop-color="#00c" stop-opacity="0.78"/><stop offset="0.88" stop-color="#00b" stop-opacity="0.77"/><stop offset="1.00" stop-color="#00c" stop-opacity="0.75"/></linearGradient><linearGradient id="s45" gradientUnits="userSpaceOnUse" x1="776" y1="1254" x2="1502" y2="110"><stop offset="0.00" stop-color="#f70" stop-opacity="0.08"/><stop offset="0.14" stop-color="#fc0" stop-opacity="0.33"/><stop offset="0.27" stop-color="#df2" stop-opacity="0.44"/><stop offset="0.42" stop-color="#bf4" stop-opacity="0.57"/><stop offset="0.54" stop-color="#9f6" stop-opacity="0.78"/><stop offset="0.65" stop-color="#5fa" stop-opacity="0.82"/><stop offset="0.78" stop-color="#1fd" stop-opacity="0.78"/><stop offset="0.89" stop-color="#1fd" stop-opacity="0.77"/><stop offset="1.00" stop-color="#1fd" stop-opacity="0.74"/></linearGradient><linearGradient id="s46" gradientUnits="userSpaceOnUse" x1="1079" y1="951" x2="1514" y2="110"><stop offset="0.00" stop-color="#6f8" stop-opacity="0.12"/><stop offset="0.13" stop-color="#5fa" stop-opacity="0.13"/><stop offset="0.25" stop-color="#2fd" stop-opacity="0.18"/><stop offset="0.37" stop-color="#0bf" stop-opacity="0.30"/><stop offset="0.49" stop-color="#06f" stop-opacity="0.37"/><stop offset="0.65" stop-color="#02f" stop-opacity="0.35"/><stop offset="0.76" stop-color="#02f" stop-opacity="0.35"/><stop offset="0.88" stop-color="#02f" stop-opacity="0.34"/><stop offset="1.00" stop-color="#02f" stop-opacity="0.33"/></linearGradient><linearGradient id="s47" gradientUnits="userSpaceOnUse" x1="796" y1="1254" x2="1522" y2="110"><stop offset="0.00" stop-color="#f90" stop-opacity="0.10"/><stop offset="0.14" stop-color="#fd0" stop-opacity="0.30"/><stop offset="0.27" stop-color="#cf2" stop-opacity="0.36"/><stop offset="0.42" stop-color="#af5" stop-opacity="0.46"/><stop offset="0.54" stop-color="#8f7" stop-opacity="0.65"/><stop offset="0.65" stop-color="#3fc" stop-opacity="0.69"/><stop offset="0.78" stop-color="#0df" stop-opacity="0.65"/><stop offset="0.89" stop-color="#0df" stop-opacity="0.65"/><stop offset="1.00" stop-color="#0df" stop-opacity="0.62"/></linearGradient><linearGradient id="s48" gradientUnits="userSpaceOnUse" x1="768" y1="1287" x2="1529" y2="110"><stop offset="0.00" stop-color="#f50" stop-opacity="0.07"/><stop offset="0.14" stop-color="#fb0" stop-opacity="0.32"/><stop offset="0.30" stop-color="#df1" stop-opacity="0.42"/><stop offset="0.42" stop-color="#cf3" stop-opacity="0.51"/><stop offset="0.55" stop-color="#9f6" stop-opacity="0.76"/><stop offset="0.66" stop-color="#5fa" stop-opacity="0.80"/><stop offset="0.76" stop-color="#1fd" stop-opacity="0.77"/><stop offset="0.89" stop-color="#1fd" stop-opacity="0.76"/><stop offset="1.00" stop-color="#1fd" stop-opacity="0.73"/></linearGradient><linearGradient id="s49" gradientUnits="userSpaceOnUse" x1="858" y1="1220" x2="1549" y2="110"><stop offset="0.00" stop-color="#cf3" stop-opacity="0.10"/><stop offset="0.14" stop-color="#8f6" stop-opacity="0.15"/><stop offset="0.28" stop-color="#6f9" stop-opacity="0.18"/><stop offset="0.40" stop-color="#3fb" stop-opacity="0.21"/><stop offset="0.52" stop-color="#0bf" stop-opacity="0.39"/><stop offset="0.66" stop-color="#02f" stop-opacity="0.59"/><stop offset="0.77" stop-color="#00f" stop-opacity="0.57"/><stop offset="0.89" stop-color="#00f" stop-opacity="0.56"/><stop offset="1.00" stop-color="#00f" stop-opacity="0.53"/></linearGradient><linearGradient id="s50" gradientUnits="userSpaceOnUse" x1="828" y1="1254" x2="1554" y2="110"><stop offset="0.00" stop-color="#fb0" stop-opacity="0.09"/><stop offset="0.14" stop-color="#ef0" stop-opacity="0.18"/><stop offset="0.27" stop-color="#cf3" stop-opacity="0.20"/><stop offset="0.42" stop-color="#8f6" stop-opacity="0.25"/><stop offset="0.54" stop-color="#5f9" stop-opacity="0.37"/><stop offset="0.65" stop-color="#1ee" stop-opacity="0.39"/><stop offset="0.78" stop-color="#0af" stop-opacity="0.38"/><stop offset="0.89" stop-color="#0af" stop-opacity="0.37"/><stop offset="1.00" stop-color="#0af" stop-opacity="0.35"/></linearGradient><linearGradient id="s51" gradientUnits="userSpaceOnUse" x1="878" y1="1220" x2="1569" y2="110"><stop offset="0.00" stop-color="#fc0" stop-opacity="0.11"/><stop offset="0.14" stop-color="#df1" stop-opacity="0.15"/><stop offset="0.28" stop-color="#bf4" stop-opacity="0.16"/><stop offset="0.40" stop-color="#8f6" stop-opacity="0.20"/><stop offset="0.52" stop-color="#5fa" stop-opacity="0.29"/><stop offset="0.66" stop-color="#0cf" stop-opacity="0.31"/><stop offset="0.77" stop-color="#0af" stop-opacity="0.31"/><stop offset="0.89" stop-color="#09f" stop-opacity="0.30"/><stop offset="1.00" stop-color="#09f" stop-opacity="0.28"/></linearGradient><linearGradient id="s52" gradientUnits="userSpaceOnUse" x1="1084" y1="1018" x2="1574" y2="110"><stop offset="0.00" stop-color="#8f6" stop-opacity="0.12"/><stop offset="0.12" stop-color="#6f8" stop-opacity="0.13"/><stop offset="0.28" stop-color="#2fc" stop-opacity="0.19"/><stop offset="0.39" stop-color="#0cf" stop-opacity="0.30"/><stop offset="0.53" stop-color="#05f" stop-opacity="0.46"/><stop offset="0.64" stop-color="#02f" stop-opacity="0.45"/><stop offset="0.75" stop-color="#01f" stop-opacity="0.44"/><stop offset="0.89" stop-color="#01f" stop-opacity="0.42"/><stop offset="1.00" stop-color="#01f" stop-opacity="0.40"/></linearGradient><linearGradient id="s53" gradientUnits="userSpaceOnUse" x1="790" y1="1321" x2="1587" y2="110"><stop offset="0.00" stop-color="#f50" stop-opacity="0.09"/><stop offset="0.13" stop-color="#fa0" stop-opacity="0.35"/><stop offset="0.29" stop-color="#fe0" stop-opacity="0.36"/><stop offset="0.44" stop-color="#cf3" stop-opacity="0.45"/><stop offset="0.54" stop-color="#9f5" stop-opacity="0.67"/><stop offset="0.64" stop-color="#6f9" stop-opacity="0.78"/><stop offset="0.77" stop-color="#2fd" stop-opacity="0.77"/><stop offset="0.90" stop-color="#2fd" stop-opacity="0.73"/><stop offset="1.00" stop-color="#1fd" stop-opacity="0.68"/></linearGradient><linearGradient id="s54" gradientUnits="userSpaceOnUse" x1="800" y1="1321" x2="1596" y2="110"><stop offset="0.00" stop-color="#f60" stop-opacity="0.12"/><stop offset="0.13" stop-color="#fa0" stop-opacity="0.35"/><stop offset="0.29" stop-color="#fe0" stop-opacity="0.36"/><stop offset="0.44" stop-color="#cf3" stop-opacity="0.44"/><stop offset="0.54" stop-color="#9f5" stop-opacity="0.66"/><stop offset="0.64" stop-color="#5f9" stop-opacity="0.78"/><stop offset="0.77" stop-color="#2fd" stop-opacity="0.76"/><stop offset="0.90" stop-color="#1fd" stop-opacity="0.72"/><stop offset="1.00" stop-color="#1fd" stop-opacity="0.67"/></linearGradient><linearGradient id="s55" gradientUnits="userSpaceOnUse" x1="772" y1="1354" x2="1603" y2="110"><stop offset="0.00" stop-color="#f30" stop-opacity="0.02"/><stop offset="0.16" stop-color="#fa0" stop-opacity="0.36"/><stop offset="0.28" stop-color="#fd0" stop-opacity="0.36"/><stop offset="0.43" stop-color="#cf2" stop-opacity="0.41"/><stop offset="0.53" stop-color="#9f5" stop-opacity="0.62"/><stop offset="0.66" stop-color="#5f9" stop-opacity="0.77"/><stop offset="0.78" stop-color="#2fd" stop-opacity="0.76"/><stop offset="0.88" stop-color="#1fd" stop-opacity="0.73"/><stop offset="1.00" stop-color="#1fd" stop-opacity="0.67"/></linearGradient><linearGradient id="s56" gradientUnits="userSpaceOnUse" x1="889" y1="1254" x2="1615" y2="110"><stop offset="0.00" stop-color="#df2" stop-opacity="0.11"/><stop offset="0.14" stop-color="#af5" stop-opacity="0.13"/><stop offset="0.27" stop-color="#8f7" stop-opacity="0.13"/><stop offset="0.42" stop-color="#4fb" stop-opacity="0.17"/><stop offset="0.54" stop-color="#0bf" stop-opacity="0.34"/><stop offset="0.65" stop-color="#04f" stop-opacity="0.52"/><stop offset="0.78" stop-color="#01f" stop-opacity="0.50"/><stop offset="0.89" stop-color="#00f" stop-opacity="0.48"/><stop offset="1.00" stop-color="#00f" stop-opacity="0.44"/></linearGradient><linearGradient id="s57" gradientUnits="userSpaceOnUse" x1="788" y1="1354" x2="1620" y2="110"><stop offset="0.00" stop-color="#f40" stop-opacity="0.05"/><stop offset="0.16" stop-color="#fa0" stop-opacity="0.36"/><stop offset="0.28" stop-color="#fd0" stop-opacity="0.36"/><stop offset="0.43" stop-color="#cf2" stop-opacity="0.39"/><stop offset="0.53" stop-color="#af5" stop-opacity="0.61"/><stop offset="0.66" stop-color="#5f9" stop-opacity="0.77"/><stop offset="0.78" stop-color="#2fc" stop-opacity="0.76"/><stop offset="0.88" stop-color="#2fd" stop-opacity="0.72"/><stop offset="1.00" stop-color="#2fd" stop-opacity="0.65"/></linearGradient><linearGradient id="s58" gradientUnits="userSpaceOnUse" x1="843" y1="1321" x2="1640" y2="110"><stop offset="0.00" stop-color="#cf2" stop-opacity="0.11"/><stop offset="0.13" stop-color="#af5" stop-opacity="0.20"/><stop offset="0.29" stop-color="#7f8" stop-opacity="0.19"/><stop offset="0.44" stop-color="#3fc" stop-opacity="0.21"/><stop offset="0.54" stop-color="#0af" stop-opacity="0.40"/><stop offset="0.64" stop-color="#01f" stop-opacity="0.77"/><stop offset="0.77" stop-color="#00d" stop-opacity="0.75"/><stop offset="0.90" stop-color="#00c" stop-opacity="0.69"/><stop offset="1.00" stop-color="#00c" stop-opacity="0.63"/></linearGradient><linearGradient id="s59" gradientUnits="userSpaceOnUse" x1="829" y1="1354" x2="1661" y2="110"><stop offset="0.00" stop-color="#ef1" stop-opacity="0.09"/><stop offset="0.16" stop-color="#af5" stop-opacity="0.20"/><stop offset="0.28" stop-color="#8f7" stop-opacity="0.19"/><stop offset="0.43" stop-color="#4fb" stop-opacity="0.19"/><stop offset="0.53" stop-color="#0bf" stop-opacity="0.35"/><stop offset="0.66" stop-color="#01f" stop-opacity="0.77"/><stop offset="0.78" stop-color="#00d" stop-opacity="0.73"/><stop offset="0.88" stop-color="#00d" stop-opacity="0.68"/><stop offset="1.00" stop-color="#00c" stop-opacity="0.61"/></linearGradient><linearGradient id="s60" gradientUnits="userSpaceOnUse" x1="806" y1="1388" x2="1673" y2="110"><stop offset="0.00" stop-color="#f30" stop-opacity="0.04"/><stop offset="0.15" stop-color="#f90" stop-opacity="0.36"/><stop offset="0.31" stop-color="#fc0" stop-opacity="0.34"/><stop offset="0.42" stop-color="#df2" stop-opacity="0.33"/><stop offset="0.55" stop-color="#af5" stop-opacity="0.59"/><stop offset="0.67" stop-color="#5f9" stop-opacity="0.76"/><stop offset="0.76" stop-color="#2fc" stop-opacity="0.74"/><stop offset="0.88" stop-color="#2fd" stop-opacity="0.67"/><stop offset="1.00" stop-color="#2fd" stop-opacity="0.60"/></linearGradient><linearGradient id="s61" gradientUnits="userSpaceOnUse" x1="850" y1="1354" x2="1681" y2="110"><stop offset="0.00" stop-color="#ef0" stop-opacity="0.10"/><stop offset="0.16" stop-color="#bf4" stop-opacity="0.17"/><stop offset="0.28" stop-color="#8f6" stop-opacity="0.16"/><stop offset="0.43" stop-color="#5fa" stop-opacity="0.16"/><stop offset="0.53" stop-color="#0df" stop-opacity="0.30"/><stop offset="0.66" stop-color="#03f" stop-opacity="0.66"/><stop offset="0.78" stop-color="#00f" stop-opacity="0.62"/><stop offset="0.88" stop-color="#00f" stop-opacity="0.57"/><stop offset="1.00" stop-color="#00e" stop-opacity="0.51"/></linearGradient><linearGradient id="s62" gradientUnits="userSpaceOnUse" x1="824" y1="1388" x2="1691" y2="110"><stop offset="0.00" stop-color="#fe0" stop-opacity="0.04"/><stop offset="0.15" stop-color="#af4" stop-opacity="0.20"/><stop offset="0.31" stop-color="#8f7" stop-opacity="0.18"/><stop offset="0.42" stop-color="#4fa" stop-opacity="0.17"/><stop offset="0.55" stop-color="#0bf" stop-opacity="0.34"/><stop offset="0.67" stop-color="#01f" stop-opacity="0.76"/><stop offset="0.76" stop-color="#00d" stop-opacity="0.72"/><stop offset="0.88" stop-color="#00d" stop-opacity="0.66"/><stop offset="1.00" stop-color="#00c" stop-opacity="0.58"/></linearGradient><linearGradient id="s63" gradientUnits="userSpaceOnUse" x1="866" y1="1354" x2="1698" y2="110"><stop offset="0.00" stop-color="#f90" stop-opacity="0.10"/><stop offset="0.16" stop-color="#fd0" stop-opacity="0.15"/><stop offset="0.28" stop-color="#ef1" stop-opacity="0.13"/><stop offset="0.43" stop-color="#af5" stop-opacity="0.12"/><stop offset="0.53" stop-color="#6f8" stop-opacity="0.23"/><stop offset="0.66" stop-color="#0ee" stop-opacity="0.30"/><stop offset="0.78" stop-color="#0af" stop-opacity="0.28"/><stop offset="0.88" stop-color="#0af" stop-opacity="0.26"/><stop offset="1.00" stop-color="#0af" stop-opacity="0.23"/></linearGradient><linearGradient id="s64" gradientUnits="userSpaceOnUse" x1="843" y1="1388" x2="1710" y2="110"><stop offset="0.00" stop-color="#fe0" stop-opacity="0.07"/><stop offset="0.15" stop-color="#af4" stop-opacity="0.20"/><stop offset="0.31" stop-color="#8f7" stop-opacity="0.17"/><stop offset="0.42" stop-color="#5fa" stop-opacity="0.16"/><stop offset="0.55" stop-color="#0cf" stop-opacity="0.34"/><stop offset="0.67" stop-color="#02f" stop-opacity="0.74"/><stop offset="0.76" stop-color="#00e" stop-opacity="0.69"/><stop offset="0.88" stop-color="#00d" stop-opacity="0.63"/><stop offset="1.00" stop-color="#00d" stop-opacity="0.56"/></linearGradient><linearGradient id="s65" gradientUnits="userSpaceOnUse" x1="824" y1="1422" x2="1727" y2="110"><stop offset="0.00" stop-color="#f20" stop-opacity="0.00"/><stop offset="0.15" stop-color="#f90" stop-opacity="0.36"/><stop offset="0.30" stop-color="#fc0" stop-opacity="0.33"/><stop offset="0.44" stop-color="#df2" stop-opacity="0.30"/><stop offset="0.56" stop-color="#af5" stop-opacity="0.59"/><stop offset="0.65" stop-color="#6f9" stop-opacity="0.75"/><stop offset="0.77" stop-color="#2fc" stop-opacity="0.70"/><stop offset="0.88" stop-color="#2fd" stop-opacity="0.62"/><stop offset="1.00" stop-color="#2fd" stop-opacity="0.56"/></linearGradient><linearGradient id="s66" gradientUnits="userSpaceOnUse" x1="874" y1="1388" x2="1740" y2="110"><stop offset="0.00" stop-color="#fe0" stop-opacity="0.09"/><stop offset="0.15" stop-color="#9f5" stop-opacity="0.20"/><stop offset="0.31" stop-color="#7f7" stop-opacity="0.16"/><stop offset="0.42" stop-color="#4fb" stop-opacity="0.16"/><stop offset="0.55" stop-color="#0bf" stop-opacity="0.37"/><stop offset="0.67" stop-color="#00f" stop-opacity="0.73"/><stop offset="0.76" stop-color="#00d" stop-opacity="0.68"/><stop offset="0.88" stop-color="#00c" stop-opacity="0.61"/><stop offset="1.00" stop-color="#00c" stop-opacity="0.55"/></linearGradient><linearGradient id="s67" gradientUnits="userSpaceOnUse" x1="857" y1="1422" x2="1759" y2="110"><stop offset="0.00" stop-color="#f10" stop-opacity="0.00"/><stop offset="0.15" stop-color="#fa0" stop-opacity="0.36"/><stop offset="0.30" stop-color="#fc0" stop-opacity="0.30"/><stop offset="0.44" stop-color="#cf2" stop-opacity="0.30"/><stop offset="0.56" stop-color="#9f5" stop-opacity="0.62"/><stop offset="0.65" stop-color="#5f9" stop-opacity="0.73"/><stop offset="0.77" stop-color="#2fc" stop-opacity="0.67"/><stop offset="0.88" stop-color="#2fd" stop-opacity="0.59"/><stop offset="1.00" stop-color="#2fd" stop-opacity="0.53"/></linearGradient><linearGradient id="s68" gradientUnits="userSpaceOnUse" x1="899" y1="1388" x2="1766" y2="110"><stop offset="0.00" stop-color="#fe0" stop-opacity="0.07"/><stop offset="0.15" stop-color="#9f6" stop-opacity="0.20"/><stop offset="0.31" stop-color="#7f8" stop-opacity="0.15"/><stop offset="0.42" stop-color="#4fb" stop-opacity="0.16"/><stop offset="0.55" stop-color="#0af" stop-opacity="0.40"/><stop offset="0.67" stop-color="#00f" stop-opacity="0.71"/><stop offset="0.76" stop-color="#00d" stop-opacity="0.66"/><stop offset="0.88" stop-color="#00c" stop-opacity="0.59"/><stop offset="1.00" stop-color="#00c" stop-opacity="0.53"/></linearGradient><linearGradient id="s69" gradientUnits="userSpaceOnUse" x1="921" y1="1388" x2="1788" y2="110"><stop offset="0.00" stop-color="#f30" stop-opacity="0.07"/><stop offset="0.15" stop-color="#fb0" stop-opacity="0.36"/><stop offset="0.31" stop-color="#fe0" stop-opacity="0.26"/><stop offset="0.42" stop-color="#cf2" stop-opacity="0.31"/><stop offset="0.55" stop-color="#9f5" stop-opacity="0.65"/><stop offset="0.67" stop-color="#4fa" stop-opacity="0.70"/><stop offset="0.76" stop-color="#2fc" stop-opacity="0.64"/><stop offset="0.88" stop-color="#2fd" stop-opacity="0.57"/><stop offset="1.00" stop-color="#2fd" stop-opacity="0.52"/></linearGradient><linearGradient id="s70" gradientUnits="userSpaceOnUse" x1="970" y1="1354" x2="1802" y2="110"><stop offset="0.00" stop-color="#fd0" stop-opacity="0.12"/><stop offset="0.16" stop-color="#9f6" stop-opacity="0.12"/><stop offset="0.28" stop-color="#7f7" stop-opacity="0.09"/><stop offset="0.43" stop-color="#6f9" stop-opacity="0.09"/><stop offset="0.53" stop-color="#0cf" stop-opacity="0.29"/><stop offset="0.66" stop-color="#04f" stop-opacity="0.43"/><stop offset="0.78" stop-color="#01f" stop-opacity="0.38"/><stop offset="0.88" stop-color="#01f" stop-opacity="0.35"/><stop offset="1.00" stop-color="#01f" stop-opacity="0.32"/></linearGradient><linearGradient id="s71" gradientUnits="userSpaceOnUse" x1="945" y1="1388" x2="1812" y2="110"><stop offset="0.00" stop-color="#f20" stop-opacity="0.04"/><stop offset="0.15" stop-color="#fb0" stop-opacity="0.35"/><stop offset="0.31" stop-color="#ef0" stop-opacity="0.26"/><stop offset="0.42" stop-color="#cf2" stop-opacity="0.31"/><stop offset="0.55" stop-color="#8f6" stop-opacity="0.68"/><stop offset="0.67" stop-color="#4fa" stop-opacity="0.68"/><stop offset="0.76" stop-color="#2fc" stop-opacity="0.62"/><stop offset="0.88" stop-color="#2fd" stop-opacity="0.55"/><stop offset="1.00" stop-color="#2fd" stop-opacity="0.51"/></linearGradient><linearGradient id="s72" gradientUnits="userSpaceOnUse" x1="975" y1="1388" x2="1842" y2="110"><stop offset="0.00" stop-color="#f50" stop-opacity="0.04"/><stop offset="0.15" stop-color="#fe0" stop-opacity="0.18"/><stop offset="0.31" stop-color="#bf3" stop-opacity="0.14"/><stop offset="0.42" stop-color="#9f5" stop-opacity="0.17"/><stop offset="0.55" stop-color="#3fb" stop-opacity="0.38"/><stop offset="0.67" stop-color="#0df" stop-opacity="0.34"/><stop offset="0.76" stop-color="#0bf" stop-opacity="0.31"/><stop offset="0.88" stop-color="#0bf" stop-opacity="0.28"/><stop offset="1.00" stop-color="#0bf" stop-opacity="0.26"/></linearGradient><linearGradient id="s73" gradientUnits="userSpaceOnUse" x1="983" y1="1388" x2="1850" y2="110"><stop offset="0.00" stop-color="#f50" stop-opacity="0.05"/><stop offset="0.15" stop-color="#fe0" stop-opacity="0.20"/><stop offset="0.31" stop-color="#bf3" stop-opacity="0.15"/><stop offset="0.42" stop-color="#9f5" stop-opacity="0.20"/><stop offset="0.55" stop-color="#3fb" stop-opacity="0.42"/><stop offset="0.67" stop-color="#0ee" stop-opacity="0.38"/><stop offset="0.76" stop-color="#0cf" stop-opacity="0.34"/><stop offset="0.88" stop-color="#0bf" stop-opacity="0.31"/><stop offset="1.00" stop-color="#0bf" stop-opacity="0.29"/></linearGradient><linearGradient id="s74" gradientUnits="userSpaceOnUse" x1="986" y1="1388" x2="1853" y2="110"><stop offset="0.00" stop-color="#fc0" stop-opacity="0.04"/><stop offset="0.15" stop-color="#af5" stop-opacity="0.14"/><stop offset="0.31" stop-color="#6f9" stop-opacity="0.11"/><stop offset="0.42" stop-color="#4fb" stop-opacity="0.15"/><stop offset="0.55" stop-color="#05f" stop-opacity="0.53"/><stop offset="0.67" stop-color="#02f" stop-opacity="0.49"/><stop offset="0.76" stop-color="#00f" stop-opacity="0.45"/><stop offset="0.88" stop-color="#00f" stop-opacity="0.40"/><stop offset="1.00" stop-color="#00f" stop-opacity="0.38"/></linearGradient><linearGradient id="s75" gradientUnits="userSpaceOnUse" x1="1002" y1="1388" x2="1869" y2="110"><stop offset="0.00" stop-color="#fe0" stop-opacity="0.09"/><stop offset="0.15" stop-color="#9f6" stop-opacity="0.18"/><stop offset="0.31" stop-color="#4fa" stop-opacity="0.15"/><stop offset="0.42" stop-color="#1fd" stop-opacity="0.22"/><stop offset="0.55" stop-color="#01f" stop-opacity="0.70"/><stop offset="0.67" stop-color="#00f" stop-opacity="0.62"/><stop offset="0.76" stop-color="#00d" stop-opacity="0.57"/><stop offset="0.88" stop-color="#00c" stop-opacity="0.52"/><stop offset="1.00" stop-color="#00d" stop-opacity="0.50"/></linearGradient><linearGradient id="s76" gradientUnits="userSpaceOnUse" x1="836" y1="1556" x2="1879" y2="110"><stop offset="0.00" stop-color="#f20" stop-opacity="0.02"/><stop offset="0.13" stop-color="#f40" stop-opacity="0.23"/><stop offset="0.30" stop-color="#fe0" stop-opacity="0.29"/><stop offset="0.43" stop-color="#fe0" stop-opacity="0.19"/><stop offset="0.57" stop-color="#bf4" stop-opacity="0.43"/><stop offset="0.67" stop-color="#4fb" stop-opacity="0.64"/><stop offset="0.77" stop-color="#2fc" stop-opacity="0.57"/><stop offset="0.90" stop-color="#2fd" stop-opacity="0.51"/><stop offset="1.00" stop-color="#2fd" stop-opacity="0.50"/></linearGradient><linearGradient id="s77" gradientUnits="userSpaceOnUse" x1="983" y1="1422" x2="1885" y2="110"><stop offset="0.00" stop-color="#fa0" stop-opacity="0.00"/><stop offset="0.15" stop-color="#bf4" stop-opacity="0.18"/><stop offset="0.30" stop-color="#7f8" stop-opacity="0.11"/><stop offset="0.44" stop-color="#1fe" stop-opacity="0.25"/><stop offset="0.56" stop-color="#01f" stop-opacity="0.66"/><stop offset="0.65" stop-color="#00f" stop-opacity="0.60"/><stop offset="0.77" stop-color="#00e" stop-opacity="0.53"/><stop offset="0.88" stop-color="#00e" stop-opacity="0.49"/><stop offset="1.00" stop-color="#00e" stop-opacity="0.48"/></linearGradient><linearGradient id="s78" gradientUnits="userSpaceOnUse" x1="989" y1="1422" x2="1892" y2="110"><stop offset="0.00" stop-color="#e00" stop-opacity="0.00"/><stop offset="0.15" stop-color="#f90" stop-opacity="0.33"/><stop offset="0.30" stop-color="#fe0" stop-opacity="0.21"/><stop offset="0.44" stop-color="#af4" stop-opacity="0.49"/><stop offset="0.56" stop-color="#4fa" stop-opacity="0.68"/><stop offset="0.65" stop-color="#3fb" stop-opacity="0.62"/><stop offset="0.77" stop-color="#2fd" stop-opacity="0.55"/><stop offset="0.88" stop-color="#2fd" stop-opacity="0.51"/><stop offset="1.00" stop-color="#2fc" stop-opacity="0.50"/></linearGradient><linearGradient id="s79" gradientUnits="userSpaceOnUse" x1="999" y1="1422" x2="1901" y2="110"><stop offset="0.00" stop-color="#f30" stop-opacity="0.00"/><stop offset="0.15" stop-color="#fb0" stop-opacity="0.22"/><stop offset="0.30" stop-color="#df1" stop-opacity="0.14"/><stop offset="0.44" stop-color="#8f7" stop-opacity="0.36"/><stop offset="0.56" stop-color="#1fd" stop-opacity="0.46"/><stop offset="0.65" stop-color="#1ee" stop-opacity="0.42"/><stop offset="0.77" stop-color="#0cf" stop-opacity="0.37"/><stop offset="0.88" stop-color="#0cf" stop-opacity="0.34"/><stop offset="1.00" stop-color="#0df" stop-opacity="0.34"/></linearGradient><linearGradient id="s80" gradientUnits="userSpaceOnUse" x1="1027" y1="1422" x2="1929" y2="110"><stop offset="0.00" stop-color="#fc0" stop-opacity="0.00"/><stop offset="0.15" stop-color="#af5" stop-opacity="0.17"/><stop offset="0.30" stop-color="#6f9" stop-opacity="0.11"/><stop offset="0.44" stop-color="#0af" stop-opacity="0.38"/><stop offset="0.56" stop-color="#00e" stop-opacity="0.65"/><stop offset="0.65" stop-color="#00e" stop-opacity="0.58"/><stop offset="0.77" stop-color="#00c" stop-opacity="0.53"/><stop offset="0.88" stop-color="#00d" stop-opacity="0.50"/><stop offset="1.00" stop-color="#00d" stop-opacity="0.50"/></linearGradient><linearGradient id="s81" gradientUnits="userSpaceOnUse" x1="1044" y1="1422" x2="1946" y2="110"><stop offset="0.00" stop-color="#f20" stop-opacity="0.00"/><stop offset="0.15" stop-color="#fa0" stop-opacity="0.29"/><stop offset="0.30" stop-color="#fe0" stop-opacity="0.19"/><stop offset="0.44" stop-color="#9f5" stop-opacity="0.65"/><stop offset="0.56" stop-color="#3fc" stop-opacity="0.63"/><stop offset="0.65" stop-color="#3fc" stop-opacity="0.57"/><stop offset="0.77" stop-color="#1fd" stop-opacity="0.52"/><stop offset="0.88" stop-color="#2fd" stop-opacity="0.50"/><stop offset="1.00" stop-color="#2fc" stop-opacity="0.50"/></linearGradient><linearGradient id="s82" gradientUnits="userSpaceOnUse" x1="1065" y1="1422" x2="1967" y2="110"><stop offset="0.00" stop-color="#fc0" stop-opacity="0.00"/><stop offset="0.15" stop-color="#9f5" stop-opacity="0.15"/><stop offset="0.30" stop-color="#6f8" stop-opacity="0.10"/><stop offset="0.44" stop-color="#08f" stop-opacity="0.46"/><stop offset="0.56" stop-color="#00e" stop-opacity="0.61"/><stop offset="0.65" stop-color="#00e" stop-opacity="0.55"/><stop offset="0.77" stop-color="#00c" stop-opacity="0.51"/><stop offset="0.88" stop-color="#00d" stop-opacity="0.50"/><stop offset="1.00" stop-color="#00e" stop-opacity="0.50"/></linearGradient><linearGradient id="s83" gradientUnits="userSpaceOnUse" x1="1077" y1="1422" x2="1979" y2="110"><stop offset="0.00" stop-color="#f50" stop-opacity="0.01"/><stop offset="0.15" stop-color="#fe0" stop-opacity="0.10"/><stop offset="0.30" stop-color="#cf3" stop-opacity="0.06"/><stop offset="0.44" stop-color="#5fa" stop-opacity="0.25"/><stop offset="0.56" stop-color="#0cf" stop-opacity="0.22"/><stop offset="0.65" stop-color="#0bf" stop-opacity="0.20"/><stop offset="0.77" stop-color="#09f" stop-opacity="0.18"/><stop offset="0.88" stop-color="#0af" stop-opacity="0.18"/><stop offset="1.00" stop-color="#0af" stop-opacity="0.18"/></linearGradient><linearGradient id="s84" gradientUnits="userSpaceOnUse" x1="1085" y1="1422" x2="1987" y2="110"><stop offset="0.00" stop-color="#fd0" stop-opacity="0.03"/><stop offset="0.15" stop-color="#9f6" stop-opacity="0.14"/><stop offset="0.30" stop-color="#6f8" stop-opacity="0.10"/><stop offset="0.44" stop-color="#08f" stop-opacity="0.48"/><stop offset="0.56" stop-color="#00f" stop-opacity="0.59"/><stop offset="0.65" stop-color="#00e" stop-opacity="0.54"/><stop offset="0.77" stop-color="#00c" stop-opacity="0.50"/><stop offset="0.88" stop-color="#00d" stop-opacity="0.50"/><stop offset="1.00" stop-color="#00e" stop-opacity="0.50"/></linearGradient><linearGradient id="s85" gradientUnits="userSpaceOnUse" x1="1090" y1="1422" x2="1992" y2="110"><stop offset="0.00" stop-color="#f60" stop-opacity="0.05"/><stop offset="0.15" stop-color="#fe0" stop-opacity="0.13"/><stop offset="0.30" stop-color="#df2" stop-opacity="0.09"/><stop offset="0.44" stop-color="#5f9" stop-opacity="0.35"/><stop offset="0.56" stop-color="#0df" stop-opacity="0.30"/><stop offset="0.65" stop-color="#0cf" stop-opacity="0.27"/><stop offset="0.77" stop-color="#0af" stop-opacity="0.25"/><stop offset="0.88" stop-color="#0bf" stop-opacity="0.25"/><stop offset="1.00" stop-color="#0cf" stop-opacity="0.25"/></linearGradient><linearGradient id="s86" gradientUnits="userSpaceOnUse" x1="1564" y1="951" x2="1999" y2="110"><stop offset="0.00" stop-color="#5f9" stop-opacity="0.08"/><stop offset="0.13" stop-color="#7f8" stop-opacity="0.06"/><stop offset="0.25" stop-color="#06f" stop-opacity="0.23"/><stop offset="0.37" stop-color="#04f" stop-opacity="0.22"/><stop offset="0.49" stop-color="#03f" stop-opacity="0.20"/><stop offset="0.65" stop-color="#02f" stop-opacity="0.20"/><stop offset="0.76" stop-color="#03f" stop-opacity="0.20"/><stop offset="0.88" stop-color="#04f" stop-opacity="0.20"/><stop offset="1.00" stop-color="#04f" stop-opacity="0.20"/></linearGradient><linearGradient id="s87" gradientUnits="userSpaceOnUse" x1="1452" y1="1085" x2="2004" y2="110"><stop offset="0.00" stop-color="#9f5" stop-opacity="0.04"/><stop offset="0.16" stop-color="#5f9" stop-opacity="0.08"/><stop offset="0.27" stop-color="#7f8" stop-opacity="0.06"/><stop offset="0.40" stop-color="#04f" stop-opacity="0.24"/><stop offset="0.50" stop-color="#04f" stop-opacity="0.22"/><stop offset="0.64" stop-color="#02f" stop-opacity="0.21"/><stop offset="0.77" stop-color="#03f" stop-opacity="0.21"/><stop offset="0.87" stop-color="#03f" stop-opacity="0.21"/><stop offset="1.00" stop-color="#04f" stop-opacity="0.21"/></linearGradient><linearGradient id="s88" gradientUnits="userSpaceOnUse" x1="879" y1="1657" x2="2012" y2="144"><stop offset="0.00" stop-color="#f70" stop-opacity="0.28"/><stop offset="0.15" stop-color="#f20" stop-opacity="0.01"/><stop offset="0.28" stop-color="#f90" stop-opacity="0.25"/><stop offset="0.43" stop-color="#fd0" stop-opacity="0.17"/><stop offset="0.55" stop-color="#9f6" stop-opacity="0.67"/><stop offset="0.67" stop-color="#4fb" stop-opacity="0.55"/><stop offset="0.79" stop-color="#1fd" stop-opacity="0.50"/><stop offset="0.88" stop-color="#2fc" stop-opacity="0.50"/><stop offset="1.00" stop-color="#3fc" stop-opacity="0.50"/></linearGradient><linearGradient id="s89" gradientUnits="userSpaceOnUse" x1="907" y1="1657" x2="2008" y2="211"><stop offset="0.00" stop-color="#cf2" stop-opacity="0.18"/><stop offset="0.13" stop-color="#fa0" stop-opacity="0.00"/><stop offset="0.29" stop-color="#bf4" stop-opacity="0.13"/><stop offset="0.42" stop-color="#4fa" stop-opacity="0.13"/><stop offset="0.57" stop-color="#0af" stop-opacity="0.40"/><stop offset="0.68" stop-color="#03f" stop-opacity="0.51"/><stop offset="0.78" stop-color="#00c" stop-opacity="0.50"/><stop offset="0.90" stop-color="#00d" stop-opacity="0.50"/><stop offset="1.00" stop-color="#00e" stop-opacity="0.50"/></linearGradient><linearGradient id="s90" gradientUnits="userSpaceOnUse" x1="935" y1="1657" x2="2005" y2="278"><stop offset="0.00" stop-color="#f90" stop-opacity="0.26"/><stop offset="0.14" stop-color="#e10" stop-opacity="0.00"/><stop offset="0.28" stop-color="#fc0" stop-opacity="0.17"/><stop offset="0.41" stop-color="#af5" stop-opacity="0.29"/><stop offset="0.55" stop-color="#ef0" stop-opacity="0.13"/><stop offset="0.69" stop-color="#8f6" stop-opacity="0.29"/><stop offset="0.79" stop-color="#0cf" stop-opacity="0.37"/><stop offset="0.90" stop-color="#0cf" stop-opacity="0.37"/><stop offset="1.00" stop-color="#0ee" stop-opacity="0.37"/></linearGradient><linearGradient id="s91" gradientUnits="userSpaceOnUse" x1="959" y1="1657" x2="2013" y2="312"><stop offset="0.00" stop-color="#f70" stop-opacity="0.36"/><stop offset="0.14" stop-color="#c00" stop-opacity="0.00"/><stop offset="0.28" stop-color="#fb0" stop-opacity="0.22"/><stop offset="0.42" stop-color="#bf4" stop-opacity="0.42"/><stop offset="0.56" stop-color="#fd0" stop-opacity="0.17"/><stop offset="0.68" stop-color="#cf3" stop-opacity="0.27"/><stop offset="0.79" stop-color="#2fc" stop-opacity="0.50"/><stop offset="0.89" stop-color="#1fd" stop-opacity="0.50"/><stop offset="1.00" stop-color="#2fc" stop-opacity="0.50"/></linearGradient><linearGradient id="s92" gradientUnits="userSpaceOnUse" x1="977" y1="1657" x2="2000" y2="379"><stop offset="0.00" stop-color="#cf3" stop-opacity="0.20"/><stop offset="0.15" stop-color="#f80" stop-opacity="0.00"/><stop offset="0.29" stop-color="#8f7" stop-opacity="0.11"/><stop offset="0.41" stop-color="#8f6" stop-opacity="0.10"/><stop offset="0.56" stop-color="#2fd" stop-opacity="0.21"/><stop offset="0.68" stop-color="#4fb" stop-opacity="0.13"/><stop offset="0.78" stop-color="#00f" stop-opacity="0.50"/><stop offset="0.89" stop-color="#00b" stop-opacity="0.50"/><stop offset="1.00" stop-color="#00d" stop-opacity="0.50"/></linearGradient><linearGradient id="s93" gradientUnits="userSpaceOnUse" x1="981" y1="1657" x2="2004" y2="379"><stop offset="0.00" stop-color="#f70" stop-opacity="0.36"/><stop offset="0.15" stop-color="#b00" stop-opacity="0.00"/><stop offset="0.29" stop-color="#fd0" stop-opacity="0.20"/><stop offset="0.41" stop-color="#fb0" stop-opacity="0.17"/><stop offset="0.56" stop-color="#bf3" stop-opacity="0.38"/><stop offset="0.68" stop-color="#df2" stop-opacity="0.24"/><stop offset="0.78" stop-color="#4fb" stop-opacity="0.50"/><stop offset="0.89" stop-color="#1fe" stop-opacity="0.50"/><stop offset="1.00" stop-color="#2fc" stop-opacity="0.50"/></linearGradient><linearGradient id="s94" gradientUnits="userSpaceOnUse" x1="1007" y1="1657" x2="2013" y2="413"><stop offset="0.00" stop-color="#cf3" stop-opacity="0.20"/><stop offset="0.15" stop-color="#f80" stop-opacity="0.00"/><stop offset="0.27" stop-color="#cf3" stop-opacity="0.11"/><stop offset="0.42" stop-color="#8f6" stop-opacity="0.10"/><stop offset="0.54" stop-color="#0ee" stop-opacity="0.26"/><stop offset="0.68" stop-color="#1fd" stop-opacity="0.22"/><stop offset="0.80" stop-color="#00e" stop-opacity="0.50"/><stop offset="0.89" stop-color="#00b" stop-opacity="0.50"/><stop offset="1.00" stop-color="#00d" stop-opacity="0.50"/></linearGradient><linearGradient id="s95" gradientUnits="userSpaceOnUse" x1="1026" y1="1657" x2="2001" y2="480"><stop offset="0.00" stop-color="#ef1" stop-opacity="0.12"/><stop offset="0.13" stop-color="#f70" stop-opacity="0.00"/><stop offset="0.28" stop-color="#ef1" stop-opacity="0.07"/><stop offset="0.41" stop-color="#7f8" stop-opacity="0.07"/><stop offset="0.57" stop-color="#2fc" stop-opacity="0.17"/><stop offset="0.68" stop-color="#0af" stop-opacity="0.35"/><stop offset="0.78" stop-color="#1ee" stop-opacity="0.15"/><stop offset="0.91" stop-color="#00f" stop-opacity="0.30"/><stop offset="1.00" stop-color="#01f" stop-opacity="0.30"/></linearGradient><linearGradient id="s96" gradientUnits="userSpaceOnUse" x1="1033" y1="1657" x2="2008" y2="480"><stop offset="0.00" stop-color="#f70" stop-opacity="0.36"/><stop offset="0.13" stop-color="#d00" stop-opacity="0.00"/><stop offset="0.28" stop-color="#f80" stop-opacity="0.19"/><stop offset="0.41" stop-color="#df1" stop-opacity="0.23"/><stop offset="0.57" stop-color="#af5" stop-opacity="0.51"/><stop offset="0.68" stop-color="#8f6" stop-opacity="0.73"/><stop offset="0.78" stop-color="#9f5" stop-opacity="0.42"/><stop offset="0.91" stop-color="#0ee" stop-opacity="0.50"/><stop offset="1.00" stop-color="#2fd" stop-opacity="0.50"/></linearGradient><linearGradient id="s97" gradientUnits="userSpaceOnUse" x1="1046" y1="1657" x2="2005" y2="514"><stop offset="0.00" stop-color="#cf3" stop-opacity="0.20"/><stop offset="0.13" stop-color="#fa0" stop-opacity="0.00"/><stop offset="0.26" stop-color="#af4" stop-opacity="0.11"/><stop offset="0.42" stop-color="#4fa" stop-opacity="0.13"/><stop offset="0.55" stop-color="#7f7" stop-opacity="0.10"/><stop offset="0.67" stop-color="#1fd" stop-opacity="0.22"/><stop offset="0.80" stop-color="#0af" stop-opacity="0.26"/><stop offset="0.90" stop-color="#00a" stop-opacity="0.50"/><stop offset="1.00" stop-color="#00c" stop-opacity="0.50"/></linearGradient><linearGradient id="s98" gradientUnits="userSpaceOnUse" x1="1070" y1="1657" x2="2014" y2="547"><stop offset="0.00" stop-color="#f70" stop-opacity="0.36"/><stop offset="0.13" stop-color="#d00" stop-opacity="0.00"/><stop offset="0.27" stop-color="#f80" stop-opacity="0.19"/><stop offset="0.40" stop-color="#df1" stop-opacity="0.23"/><stop offset="0.53" stop-color="#ef1" stop-opacity="0.20"/><stop offset="0.69" stop-color="#af5" stop-opacity="0.56"/><stop offset="0.80" stop-color="#bf4" stop-opacity="0.32"/><stop offset="0.90" stop-color="#0df" stop-opacity="0.50"/><stop offset="1.00" stop-color="#1fe" stop-opacity="0.50"/></linearGradient><linearGradient id="s99" gradientUnits="userSpaceOnUse" x1="1091" y1="1657" x2="2003" y2="615"><stop offset="0.00" stop-color="#cf3" stop-opacity="0.20"/><stop offset="0.14" stop-color="#fa0" stop-opacity="0.00"/><stop offset="0.28" stop-color="#cf3" stop-opacity="0.10"/><stop offset="0.42" stop-color="#5fa" stop-opacity="0.13"/><stop offset="0.56" stop-color="#6f9" stop-opacity="0.10"/><stop offset="0.66" stop-color="#3fc" stop-opacity="0.18"/><stop offset="0.78" stop-color="#3fc" stop-opacity="0.18"/><stop offset="0.89" stop-color="#02f" stop-opacity="0.50"/><stop offset="1.00" stop-color="#00a" stop-opacity="0.50"/></linearGradient><linearGradient id="s100" gradientUnits="userSpaceOnUse" x1="1106" y1="1657" x2="2001" y2="648"><stop offset="0.00" stop-color="#fa0" stop-opacity="0.21"/><stop offset="0.14" stop-color="#f20" stop-opacity="0.00"/><stop offset="0.29" stop-color="#fa0" stop-opacity="0.10"/><stop offset="0.40" stop-color="#fd0" stop-opacity="0.10"/><stop offset="0.54" stop-color="#8f6" stop-opacity="0.28"/><stop offset="0.68" stop-color="#af4" stop-opacity="0.17"/><stop offset="0.77" stop-color="#6f9" stop-opacity="0.41"/><stop offset="0.89" stop-color="#6f8" stop-opacity="0.26"/><stop offset="1.00" stop-color="#09f" stop-opacity="0.29"/></linearGradient><linearGradient id="s101" gradientUnits="userSpaceOnUse" x1="1113" y1="1657" x2="2008" y2="648"><stop offset="0.00" stop-color="#cf3" stop-opacity="0.20"/><stop offset="0.14" stop-color="#fa0" stop-opacity="0.00"/><stop offset="0.29" stop-color="#cf3" stop-opacity="0.10"/><stop offset="0.40" stop-color="#9f6" stop-opacity="0.10"/><stop offset="0.54" stop-color="#0ee" stop-opacity="0.26"/><stop offset="0.68" stop-color="#4fb" stop-opacity="0.15"/><stop offset="0.77" stop-color="#08f" stop-opacity="0.49"/><stop offset="0.89" stop-color="#09f" stop-opacity="0.29"/><stop offset="1.00" stop-color="#00a" stop-opacity="0.50"/></linearGradient><linearGradient id="s102" gradientUnits="userSpaceOnUse" x1="1127" y1="1657" x2="2006" y2="682"><stop offset="0.00" stop-color="#f70" stop-opacity="0.35"/><stop offset="0.15" stop-color="#e00" stop-opacity="0.00"/><stop offset="0.26" stop-color="#f70" stop-opacity="0.18"/><stop offset="0.41" stop-color="#fb0" stop-opacity="0.17"/><stop offset="0.52" stop-color="#fc0" stop-opacity="0.17"/><stop offset="0.66" stop-color="#af5" stop-opacity="0.58"/><stop offset="0.80" stop-color="#9f6" stop-opacity="0.67"/><stop offset="0.89" stop-color="#bf4" stop-opacity="0.35"/><stop offset="1.00" stop-color="#0df" stop-opacity="0.50"/></linearGradient><linearGradient id="s103" gradientUnits="userSpaceOnUse" x1="1150" y1="1657" x2="2011" y2="716"><stop offset="0.00" stop-color="#cf3" stop-opacity="0.19"/><stop offset="0.15" stop-color="#fa0" stop-opacity="0.00"/><stop offset="0.27" stop-color="#df2" stop-opacity="0.10"/><stop offset="0.38" stop-color="#4fb" stop-opacity="0.15"/><stop offset="0.53" stop-color="#8f7" stop-opacity="0.10"/><stop offset="0.68" stop-color="#0bf" stop-opacity="0.34"/><stop offset="0.79" stop-color="#07f" stop-opacity="0.56"/><stop offset="0.88" stop-color="#3fc" stop-opacity="0.17"/><stop offset="1.00" stop-color="#00a" stop-opacity="0.50"/></linearGradient><linearGradient id="s104" gradientUnits="userSpaceOnUse" x1="1164" y1="1657" x2="2007" y2="749"><stop offset="0.00" stop-color="#f70" stop-opacity="0.33"/><stop offset="0.12" stop-color="#f20" stop-opacity="0.01"/><stop offset="0.27" stop-color="#f60" stop-opacity="0.17"/><stop offset="0.39" stop-color="#cf2" stop-opacity="0.28"/><stop offset="0.55" stop-color="#fc0" stop-opacity="0.17"/><stop offset="0.67" stop-color="#fe0" stop-opacity="0.18"/><stop offset="0.78" stop-color="#ef1" stop-opacity="0.20"/><stop offset="0.91" stop-color="#cf3" stop-opacity="0.32"/><stop offset="1.00" stop-color="#5f9" stop-opacity="0.50"/></linearGradient><linearGradient id="s105" gradientUnits="userSpaceOnUse" x1="1185" y1="1657" x2="2010" y2="783"><stop offset="0.00" stop-color="#cf3" stop-opacity="0.17"/><stop offset="0.12" stop-color="#fc0" stop-opacity="0.00"/><stop offset="0.24" stop-color="#df1" stop-opacity="0.10"/><stop offset="0.40" stop-color="#3fb" stop-opacity="0.16"/><stop offset="0.53" stop-color="#8f7" stop-opacity="0.10"/><stop offset="0.65" stop-color="#8f7" stop-opacity="0.10"/><stop offset="0.80" stop-color="#5fa" stop-opacity="0.12"/><stop offset="0.90" stop-color="#3fc" stop-opacity="0.18"/><stop offset="1.00" stop-color="#09f" stop-opacity="0.30"/></linearGradient><linearGradient id="s106" gradientUnits="userSpaceOnUse" x1="1197" y1="1657" x2="2002" y2="816"><stop offset="0.00" stop-color="#f80" stop-opacity="0.31"/><stop offset="0.13" stop-color="#f10" stop-opacity="0.00"/><stop offset="0.25" stop-color="#f60" stop-opacity="0.17"/><stop offset="0.38" stop-color="#fb0" stop-opacity="0.17"/><stop offset="0.50" stop-color="#ef1" stop-opacity="0.20"/><stop offset="0.67" stop-color="#fc0" stop-opacity="0.17"/><stop offset="0.79" stop-color="#fe0" stop-opacity="0.18"/><stop offset="0.90" stop-color="#af5" stop-opacity="0.57"/><stop offset="1.00" stop-color="#af4" stop-opacity="0.37"/></linearGradient><linearGradient id="s107" gradientUnits="userSpaceOnUse" x1="1207" y1="1657" x2="2012" y2="816"><stop offset="0.00" stop-color="#f80" stop-opacity="0.30"/><stop offset="0.13" stop-color="#f10" stop-opacity="0.00"/><stop offset="0.25" stop-color="#f60" stop-opacity="0.17"/><stop offset="0.38" stop-color="#fb0" stop-opacity="0.17"/><stop offset="0.50" stop-color="#ef0" stop-opacity="0.20"/><stop offset="0.67" stop-color="#fb0" stop-opacity="0.17"/><stop offset="0.79" stop-color="#fe0" stop-opacity="0.18"/><stop offset="0.90" stop-color="#af5" stop-opacity="0.55"/><stop offset="1.00" stop-color="#af4" stop-opacity="0.37"/></linearGradient><linearGradient id="s108" gradientUnits="userSpaceOnUse" x1="1232" y1="1657" x2="1995" y2="884"><stop offset="0.00" stop-color="#cf3" stop-opacity="0.15"/><stop offset="0.13" stop-color="#fa0" stop-opacity="0.00"/><stop offset="0.27" stop-color="#df1" stop-opacity="0.09"/><stop offset="0.40" stop-color="#8f6" stop-opacity="0.10"/><stop offset="0.54" stop-color="#6f9" stop-opacity="0.10"/><stop offset="0.63" stop-color="#7f7" stop-opacity="0.10"/><stop offset="0.76" stop-color="#3fc" stop-opacity="0.17"/><stop offset="0.89" stop-color="#3fb" stop-opacity="0.17"/><stop offset="1.00" stop-color="#3fc" stop-opacity="0.18"/></linearGradient><linearGradient id="s109" gradientUnits="userSpaceOnUse" x1="1239" y1="1657" x2="2002" y2="884"><stop offset="0.00" stop-color="#f80" stop-opacity="0.27"/><stop offset="0.13" stop-color="#e00" stop-opacity="0.00"/><stop offset="0.27" stop-color="#f60" stop-opacity="0.17"/><stop offset="0.40" stop-color="#fc0" stop-opacity="0.17"/><stop offset="0.54" stop-color="#fe0" stop-opacity="0.18"/><stop offset="0.63" stop-color="#fd0" stop-opacity="0.17"/><stop offset="0.76" stop-color="#cf3" stop-opacity="0.34"/><stop offset="0.89" stop-color="#cf3" stop-opacity="0.32"/><stop offset="1.00" stop-color="#cf3" stop-opacity="0.34"/></linearGradient><linearGradient id="s110" gradientUnits="userSpaceOnUse" x1="1825" y1="1119" x2="2001" y2="917"><stop offset="0.00" stop-color="#9f5" stop-opacity="0.08"/><stop offset="0.52" stop-color="#8f6" stop-opacity="0.08"/><stop offset="1.00" stop-color="#1ee" stop-opacity="0.24"/></linearGradient><linearGradient id="s111" gradientUnits="userSpaceOnUse" x1="1284" y1="1657" x2="1999" y2="951"><stop offset="0.00" stop-color="#f70" stop-opacity="0.24"/><stop offset="0.15" stop-color="#d00" stop-opacity="0.00"/><stop offset="0.24" stop-color="#f50" stop-opacity="0.16"/><stop offset="0.39" stop-color="#fd0" stop-opacity="0.17"/><stop offset="0.48" stop-color="#fe0" stop-opacity="0.17"/><stop offset="0.63" stop-color="#f90" stop-opacity="0.17"/><stop offset="0.78" stop-color="#fc0" stop-opacity="0.17"/><stop offset="0.87" stop-color="#cf3" stop-opacity="0.36"/><stop offset="1.00" stop-color="#8f7" stop-opacity="0.76"/></linearGradient><linearGradient id="s112" gradientUnits="userSpaceOnUse" x1="1291" y1="1657" x2="2005" y2="951"><stop offset="0.00" stop-color="#cf3" stop-opacity="0.13"/><stop offset="0.15" stop-color="#f90" stop-opacity="0.00"/><stop offset="0.24" stop-color="#df1" stop-opacity="0.09"/><stop offset="0.39" stop-color="#8f7" stop-opacity="0.10"/><stop offset="0.48" stop-color="#7f8" stop-opacity="0.10"/><stop offset="0.63" stop-color="#af4" stop-opacity="0.10"/><stop offset="0.78" stop-color="#8f7" stop-opacity="0.10"/><stop offset="0.87" stop-color="#3fc" stop-opacity="0.18"/><stop offset="1.00" stop-color="#05f" stop-opacity="0.65"/></linearGradient><linearGradient id="s113" gradientUnits="userSpaceOnUse" x1="1885" y1="1119" x2="2009" y2="985"><stop offset="0.00" stop-color="#7f8" stop-opacity="0.10"/><stop offset="1.00" stop-color="#1fd" stop-opacity="0.22"/></linearGradient><linearGradient id="s114" gradientUnits="userSpaceOnUse" x1="1327" y1="1657" x2="2014" y2="985"><stop offset="0.00" stop-color="#f90" stop-opacity="0.14"/><stop offset="0.10" stop-color="#d00" stop-opacity="0.00"/><stop offset="0.25" stop-color="#fa0" stop-opacity="0.12"/><stop offset="0.41" stop-color="#fc0" stop-opacity="0.12"/><stop offset="0.51" stop-color="#fe0" stop-opacity="0.12"/><stop offset="0.61" stop-color="#fe0" stop-opacity="0.12"/><stop offset="0.76" stop-color="#ef0" stop-opacity="0.12"/><stop offset="0.91" stop-color="#cf3" stop-opacity="0.15"/><stop offset="1.00" stop-color="#9f5" stop-opacity="0.28"/></linearGradient><linearGradient id="s115" gradientUnits="userSpaceOnUse" x1="1895" y1="1119" x2="1960" y2="1052"><stop offset="0.00" stop-color="#8f7" stop-opacity="0.09"/><stop offset="1.00" stop-color="#6f9" stop-opacity="0.11"/></linearGradient><linearGradient id="s116" gradientUnits="userSpaceOnUse" x1="1908" y1="1119" x2="1974" y2="1052"><stop offset="0.00" stop-color="#df2" stop-opacity="0.09"/><stop offset="1.00" stop-color="#cf3" stop-opacity="0.10"/></linearGradient><linearGradient id="s117" gradientUnits="userSpaceOnUse" x1="1916" y1="1119" x2="1982" y2="1052"><stop offset="0.00" stop-color="#8f6" stop-opacity="0.05"/><stop offset="1.00" stop-color="#8f7" stop-opacity="0.06"/></linearGradient><linearGradient id="s118" gradientUnits="userSpaceOnUse" x1="1921" y1="1119" x2="1986" y2="1052"><stop offset="0.00" stop-color="#cf2" stop-opacity="0.08"/><stop offset="1.00" stop-color="#bf3" stop-opacity="0.09"/></linearGradient><linearGradient id="s119" gradientUnits="userSpaceOnUse" x1="1928" y1="1119" x2="1993" y2="1052"><stop offset="0.00" stop-color="#8f7" stop-opacity="0.06"/><stop offset="1.00" stop-color="#7f8" stop-opacity="0.07"/></linearGradient><linearGradient id="s120" gradientUnits="userSpaceOnUse" x1="1932" y1="1119" x2="1997" y2="1052"><stop offset="0.00" stop-color="#cf3" stop-opacity="0.10"/><stop offset="1.00" stop-color="#cf3" stop-opacity="0.10"/></linearGradient><linearGradient id="s121" gradientUnits="userSpaceOnUse" x1="1942" y1="1119" x2="2008" y2="1052"><stop offset="0.00" stop-color="#5f9" stop-opacity="0.11"/><stop offset="1.00" stop-color="#5f9" stop-opacity="0.11"/></linearGradient><linearGradient id="s122" gradientUnits="userSpaceOnUse" x1="1390" y1="1657" x2="1987" y2="1085"><stop offset="0.00" stop-color="#f70" stop-opacity="0.18"/><stop offset="0.12" stop-color="#a00" stop-opacity="0.00"/><stop offset="0.24" stop-color="#f60" stop-opacity="0.17"/><stop offset="0.35" stop-color="#f70" stop-opacity="0.17"/><stop offset="0.47" stop-color="#f90" stop-opacity="0.17"/><stop offset="0.65" stop-color="#fa0" stop-opacity="0.17"/><stop offset="0.77" stop-color="#f90" stop-opacity="0.17"/><stop offset="0.88" stop-color="#fc0" stop-opacity="0.17"/><stop offset="1.00" stop-color="#af4" stop-opacity="0.49"/></linearGradient><linearGradient id="s123" gradientUnits="userSpaceOnUse" x1="1411" y1="1657" x2="2008" y2="1085"><stop offset="0.00" stop-color="#f70" stop-opacity="0.17"/><stop offset="0.12" stop-color="#a00" stop-opacity="0.00"/><stop offset="0.24" stop-color="#f70" stop-opacity="0.17"/><stop offset="0.35" stop-color="#f70" stop-opacity="0.17"/><stop offset="0.47" stop-color="#f90" stop-opacity="0.17"/><stop offset="0.65" stop-color="#fa0" stop-opacity="0.17"/><stop offset="0.77" stop-color="#f90" stop-opacity="0.17"/><stop offset="0.88" stop-color="#fc0" stop-opacity="0.17"/><stop offset="1.00" stop-color="#af4" stop-opacity="0.49"/></linearGradient><linearGradient id="s124" gradientUnits="userSpaceOnUse" x1="1435" y1="1657" x2="1998" y2="1119"><stop offset="0.00" stop-color="#f70" stop-opacity="0.17"/><stop offset="0.13" stop-color="#a00" stop-opacity="0.00"/><stop offset="0.31" stop-color="#ef0" stop-opacity="0.19"/><stop offset="0.44" stop-color="#f70" stop-opacity="0.17"/><stop offset="0.56" stop-color="#fb0" stop-opacity="0.17"/><stop offset="0.69" stop-color="#fa0" stop-opacity="0.17"/><stop offset="0.88" stop-color="#fe0" stop-opacity="0.18"/><stop offset="1.00" stop-color="#ef1" stop-opacity="0.21"/></linearGradient><linearGradient id="s125" gradientUnits="userSpaceOnUse" x1="1463" y1="1657" x2="1992" y2="1153"><stop offset="0.00" stop-color="#f70" stop-opacity="0.17"/><stop offset="0.13" stop-color="#900" stop-opacity="0.00"/><stop offset="0.27" stop-color="#fa0" stop-opacity="0.17"/><stop offset="0.40" stop-color="#f60" stop-opacity="0.17"/><stop offset="0.60" stop-color="#fb0" stop-opacity="0.17"/><stop offset="0.73" stop-color="#fa0" stop-opacity="0.17"/><stop offset="0.87" stop-color="#fb0" stop-opacity="0.17"/><stop offset="1.00" stop-color="#fc0" stop-opacity="0.17"/></linearGradient><linearGradient id="s126" gradientUnits="userSpaceOnUse" x1="1477" y1="1657" x2="2006" y2="1153"><stop offset="0.00" stop-color="#f70" stop-opacity="0.17"/><stop offset="0.13" stop-color="#900" stop-opacity="0.00"/><stop offset="0.27" stop-color="#f90" stop-opacity="0.17"/><stop offset="0.40" stop-color="#f60" stop-opacity="0.17"/><stop offset="0.60" stop-color="#fb0" stop-opacity="0.17"/><stop offset="0.73" stop-color="#fa0" stop-opacity="0.17"/><stop offset="0.87" stop-color="#fb0" stop-opacity="0.17"/><stop offset="1.00" stop-color="#fc0" stop-opacity="0.17"/></linearGradient><linearGradient id="s127" gradientUnits="userSpaceOnUse" x1="1502" y1="1657" x2="1995" y2="1186"><stop offset="0.00" stop-color="#f70" stop-opacity="0.17"/><stop offset="0.14" stop-color="#900" stop-opacity="0.00"/><stop offset="0.36" stop-color="#f90" stop-opacity="0.17"/><stop offset="0.50" stop-color="#fb0" stop-opacity="0.17"/><stop offset="0.64" stop-color="#fb0" stop-opacity="0.17"/><stop offset="0.86" stop-color="#f70" stop-opacity="0.17"/><stop offset="1.00" stop-color="#fe0" stop-opacity="0.18"/></linearGradient><linearGradient id="s128" gradientUnits="userSpaceOnUse" x1="1551" y1="1657" x2="2009" y2="1220"><stop offset="0.00" stop-color="#f70" stop-opacity="0.17"/><stop offset="0.15" stop-color="#900" stop-opacity="0.00"/><stop offset="0.31" stop-color="#f60" stop-opacity="0.17"/><stop offset="0.46" stop-color="#fa0" stop-opacity="0.17"/><stop offset="0.69" stop-color="#f90" stop-opacity="0.17"/><stop offset="0.85" stop-color="#f90" stop-opacity="0.17"/><stop offset="1.00" stop-color="#fc0" stop-opacity="0.17"/></linearGradient><linearGradient id="s129" gradientUnits="userSpaceOnUse" x1="1635" y1="1657" x2="1988" y2="1321"><stop offset="0.00" stop-color="#f70" stop-opacity="0.17"/><stop offset="0.20" stop-color="#900" stop-opacity="0.00"/><stop offset="0.50" stop-color="#f20" stop-opacity="0.01"/><stop offset="0.80" stop-color="#fa0" stop-opacity="0.17"/><stop offset="1.00" stop-color="#f80" stop-opacity="0.17"/></linearGradient><linearGradient id="s130" gradientUnits="userSpaceOnUse" x1="1780" y1="1657" x2="1992" y2="1455"><stop offset="0.00" stop-color="#f70" stop-opacity="0.17"/><stop offset="0.50" stop-color="#f10" stop-opacity="0.00"/><stop offset="1.00" stop-color="#f80" stop-opacity="0.17"/></linearGradient><linearGradient id="s131" gradientUnits="userSpaceOnUse" x1="1785" y1="815" x2="1993" y2="567"><stop offset="0.00" stop-color="#3fc" stop-opacity="0.09"/><stop offset="0.50" stop-color="#00d" stop-opacity="0.77"/><stop offset="1.00" stop-color="#00b" stop-opacity="0.77"/></linearGradient><linearGradient id="s132" gradientUnits="userSpaceOnUse" x1="1646" y1="825" x2="1993" y2="379"><stop offset="0.00" stop-color="#cf3" stop-opacity="0.11"/><stop offset="0.20" stop-color="#3fb" stop-opacity="0.77"/><stop offset="0.50" stop-color="#1fd" stop-opacity="0.77"/><stop offset="0.80" stop-color="#1fd" stop-opacity="0.77"/><stop offset="1.00" stop-color="#2fd" stop-opacity="0.77"/></linearGradient><linearGradient id="s133" gradientUnits="userSpaceOnUse" x1="1542" y1="839" x2="1993" y2="226"><stop offset="0.00" stop-color="#cf3" stop-opacity="0.03"/><stop offset="0.15" stop-color="#2fc" stop-opacity="0.61"/><stop offset="0.31" stop-color="#2fc" stop-opacity="0.70"/><stop offset="0.46" stop-color="#1fe" stop-opacity="0.70"/><stop offset="0.69" stop-color="#0ee" stop-opacity="0.70"/><stop offset="0.85" stop-color="#1fe" stop-opacity="0.70"/><stop offset="1.00" stop-color="#1fd" stop-opacity="0.70"/></linearGradient><linearGradient id="s134" gradientUnits="userSpaceOnUse" x1="1507" y1="817" x2="1993" y2="135"><stop offset="0.00" stop-color="#4fb" stop-opacity="0.02"/><stop offset="0.14" stop-color="#05f" stop-opacity="0.31"/><stop offset="0.36" stop-color="#03f" stop-opacity="0.42"/><stop offset="0.50" stop-color="#01f" stop-opacity="0.42"/><stop offset="0.64" stop-color="#01f" stop-opacity="0.42"/><stop offset="0.86" stop-color="#02f" stop-opacity="0.42"/><stop offset="1.00" stop-color="#03f" stop-opacity="0.42"/></linearGradient><linearGradient id="s135" gradientUnits="userSpaceOnUse" x1="1438" y1="650" x2="1785" y2="102"><stop offset="0.00" stop-color="#8f7" stop-opacity="0.08"/><stop offset="0.20" stop-color="#4fa" stop-opacity="0.30"/><stop offset="0.50" stop-color="#2fd" stop-opacity="0.67"/><stop offset="0.80" stop-color="#2fd" stop-opacity="0.77"/><stop offset="1.00" stop-color="#2fd" stop-opacity="0.77"/></linearGradient><linearGradient id="s136" gradientUnits="userSpaceOnUse" x1="1438" y1="591" x2="1716" y2="141"><stop offset="0.00" stop-color="#02f" stop-opacity="0.08"/><stop offset="0.37" stop-color="#00e" stop-opacity="0.43"/><stop offset="0.62" stop-color="#00d" stop-opacity="0.67"/><stop offset="1.00" stop-color="#00d" stop-opacity="0.77"/></linearGradient><linearGradient id="s137" gradientUnits="userSpaceOnUse" x1="1438" y1="516" x2="1681" y2="110"><stop offset="0.00" stop-color="#3fc" stop-opacity="0.07"/><stop offset="0.29" stop-color="#1fe" stop-opacity="0.28"/><stop offset="0.71" stop-color="#1ee" stop-opacity="0.62"/><stop offset="1.00" stop-color="#1ee" stop-opacity="0.71"/></linearGradient><linearGradient id="s138" gradientUnits="userSpaceOnUse" x1="1438" y1="298" x2="1542" y2="109"><stop offset="0.00" stop-color="#1ee" stop-opacity="0.08"/><stop offset="1.00" stop-color="#1ee" stop-opacity="0.42"/></linearGradient></defs>
<g fill="none" stroke-linecap="butt" filter="url(#sb)"><path d="M983 177L999 144L1015 110" stroke="url(#s0)" stroke-width="5"/>
<path d="M946 278L978 211L1025 110" stroke="url(#s1)" stroke-width="6"/>
<path d="M907 413L970 278L1049 110" stroke="url(#s2)" stroke-width="21"/>
<path d="M878 514L941 379L1004 245L1068 110" stroke="url(#s3)" stroke-width="4"/>
<path d="M857 581L920 446L967 346L1015 245L1078 110" stroke="url(#s4)" stroke-width="8"/>
<path d="M850 615L914 480L977 346L1024 245L1087 110" stroke="url(#s5)" stroke-width="5"/>
<path d="M842 648L906 514L969 379L1032 245L1095 110" stroke="url(#s6)" stroke-width="8"/>
<path d="M871 615L935 480L998 346L1045 245L1108 110" stroke="url(#s7)" stroke-width="4"/>
<path d="M793 783L847 682L912 547L959 446L1006 346L1070 211L1117 110" stroke="url(#s8)" stroke-width="8"/>
<path d="M770 850L847 716L897 615L961 480L1024 346L1071 245L1134 110" stroke="url(#s9)" stroke-width="9"/>
<path d="M826 783L880 682L945 547L992 446L1039 346L1103 211L1150 110" stroke="url(#s10)" stroke-width="4"/>
<path d="M731 951L822 816L878 716L944 581L992 480L1055 346L1102 245L1166 110" stroke="url(#s11)" stroke-width="11"/>
<path d="M746 951L837 816L893 716L959 581L1007 480L1070 346L1117 245L1180 110" stroke="url(#s12)" stroke-width="8"/>
<path d="M798 884L860 783L930 648L978 547L1026 446L1073 346L1136 211L1184 110" stroke="url(#s13)" stroke-width="4"/>
<path d="M752 951L843 816L899 716L965 581L1013 480L1076 346L1123 245L1186 110" stroke="url(#s14)" stroke-width="4"/>
<path d="M760 951L852 816L908 716L974 581L1021 480L1085 346L1132 245L1195 110" stroke="url(#s15)" stroke-width="4"/>
<path d="M738 985L813 884L876 783L946 648L994 547L1042 446L1105 312L1152 211L1200 110" stroke="url(#s16)" stroke-width="4"/>
<path d="M795 917L861 816L935 682L983 581L1047 446L1094 346L1157 211L1205 110" stroke="url(#s17)" stroke-width="5"/>
<path d="M755 985L831 884L893 783L963 648L1011 547L1059 446L1122 312L1169 211L1217 110" stroke="url(#s18)" stroke-width="5"/>
<path d="M760 985L835 884L897 783L968 648L1016 547L1063 446L1126 312L1174 211L1221 110" stroke="url(#s19)" stroke-width="7"/>
<path d="M744 1018L824 917L910 783L964 682L1029 547L1076 446L1124 346L1187 211L1234 110" stroke="url(#s20)" stroke-width="5"/>
<path d="M751 1018L831 917L917 783L971 682L1036 547L1083 446L1131 346L1194 211L1241 110" stroke="url(#s21)" stroke-width="4"/>
<path d="M759 1018L839 917L925 783L979 682L1044 547L1091 446L1138 346L1202 211L1249 110" stroke="url(#s22)" stroke-width="6"/>
<path d="M766 1018L846 917L932 783L986 682L1051 547L1098 446L1145 346L1209 211L1256 110" stroke="url(#s23)" stroke-width="4"/>
<path d="M772 1018L852 917L938 783L992 682L1057 547L1104 446L1151 346L1215 211L1262 110" stroke="url(#s24)" stroke-width="4"/>
<path d="M777 1018L857 917L943 783L997 682L1062 547L1109 446L1157 346L1220 211L1267 110" stroke="url(#s25)" stroke-width="4"/>
<path d="M771 1052L882 917L948 816L1004 716L1070 581L1134 446L1181 346L1228 245L1292 110" stroke="url(#s26)" stroke-width="16"/>
<path d="M808 1018L888 917L974 783L1027 682L1092 547L1140 446L1187 346L1250 211L1298 110" stroke="url(#s27)" stroke-width="4"/>
<path d="M812 1018L892 917L978 783L1032 682L1097 547L1144 446L1191 346L1255 211L1302 110" stroke="url(#s28)" stroke-width="4"/>
<path d="M787 1052L897 917L964 816L1020 716L1086 581L1149 446L1197 346L1244 245L1307 110" stroke="url(#s29)" stroke-width="4"/>
<path d="M790 1052L901 917L967 816L1023 716L1089 581L1153 446L1200 346L1247 245L1311 110" stroke="url(#s30)" stroke-width="4"/>
<path d="M796 1052L906 917L972 816L1028 716L1095 581L1158 446L1205 346L1253 245L1316 110" stroke="url(#s31)" stroke-width="4"/>
<path d="M776 1085L893 951L964 850L1041 716L1091 615L1154 480L1217 346L1265 245L1328 110" stroke="url(#s32)" stroke-width="11"/>
<path d="M761 1119L886 985L983 850L1042 749L1110 615L1173 480L1221 379L1284 245L1347 110" stroke="url(#s33)" stroke-width="6"/>
<path d="M807 1085L925 951L995 850L1072 716L1122 615L1185 480L1249 346L1296 245L1359 110" stroke="url(#s34)" stroke-width="9"/>
<path d="M785 1119L909 985L1006 850L1065 749L1133 615L1197 480L1244 379L1307 245L1371 110" stroke="url(#s35)" stroke-width="4"/>
<path d="M831 1085L949 951L1019 850L1096 716L1146 615L1210 480L1273 346L1320 245L1384 110" stroke="url(#s36)" stroke-width="17"/>
<path d="M823 1119L947 985L1044 850L1104 749L1172 615L1235 480L1282 379L1346 245L1409 110" stroke="url(#s37)" stroke-width="6"/>
<path d="M899 1052L1009 917L1076 816L1132 716L1198 581L1261 446L1309 346L1356 245L1419 110" stroke="url(#s38)" stroke-width="4"/>
<path d="M815 1153L946 1018L1049 884L1130 749L1198 615L1246 514L1309 379L1372 245L1436 110" stroke="url(#s39)" stroke-width="11"/>
<path d="M797 1186L932 1052L1042 917L1128 783L1199 648L1263 514L1326 379L1389 245L1452 110" stroke="url(#s40)" stroke-width="8"/>
<path d="M777 1220L916 1085L1033 951L1124 816L1198 682L1278 514L1341 379L1405 245L1468 110" stroke="url(#s41)" stroke-width="7"/>
<path d="M852 1153L982 1018L1086 884L1167 749L1235 615L1283 514L1346 379L1409 245L1472 110" stroke="url(#s42)" stroke-width="4"/>
<path d="M788 1220L927 1085L1044 951L1135 816L1209 682L1290 514L1353 379L1416 245L1479 110" stroke="url(#s43)" stroke-width="5"/>
<path d="M831 1186L967 1052L1077 917L1163 783L1233 648L1297 514L1361 379L1424 245L1487 110" stroke="url(#s44)" stroke-width="8"/>
<path d="M776 1254L916 1119L1040 985L1158 816L1232 682L1296 547L1375 379L1438 245L1502 110" stroke="url(#s45)" stroke-width="10"/>
<path d="M1079 951L1170 816L1226 716L1293 581L1340 480L1403 346L1451 245L1514 110" stroke="url(#s46)" stroke-width="4"/>
<path d="M796 1254L936 1119L1060 985L1178 816L1251 682L1316 547L1395 379L1458 245L1522 110" stroke="url(#s47)" stroke-width="5"/>
<path d="M768 1287L909 1153L1068 985L1165 850L1259 682L1324 547L1387 413L1466 245L1529 110" stroke="url(#s48)" stroke-width="5"/>
<path d="M858 1220L996 1085L1114 951L1205 816L1278 682L1359 514L1422 379L1485 245L1549 110" stroke="url(#s49)" stroke-width="10"/>
<path d="M828 1254L968 1119L1092 985L1210 816L1284 682L1348 547L1427 379L1491 245L1554 110" stroke="url(#s50)" stroke-width="6"/>
<path d="M878 1220L1016 1085L1134 951L1225 816L1298 682L1379 514L1442 379L1505 245L1569 110" stroke="url(#s51)" stroke-width="4"/>
<path d="M1084 1018L1164 917L1250 783L1304 682L1368 547L1416 446L1463 346L1526 211L1574 110" stroke="url(#s52)" stroke-width="4"/>
<path d="M790 1321L931 1186L1097 1018L1222 850L1299 716L1366 581L1445 413L1524 245L1587 110" stroke="url(#s53)" stroke-width="7"/>
<path d="M800 1321L941 1186L1106 1018L1232 850L1309 716L1375 581L1454 413L1533 245L1596 110" stroke="url(#s54)" stroke-width="4"/>
<path d="M772 1354L948 1186L1083 1052L1217 884L1298 749L1382 581L1461 413L1524 278L1603 110" stroke="url(#s55)" stroke-width="7"/>
<path d="M889 1254L1029 1119L1153 985L1271 816L1344 682L1409 547L1488 379L1551 245L1615 110" stroke="url(#s56)" stroke-width="4"/>
<path d="M788 1354L964 1186L1100 1052L1233 884L1315 749L1399 581L1478 413L1541 278L1620 110" stroke="url(#s57)" stroke-width="6"/>
<path d="M843 1321L984 1186L1150 1018L1275 850L1352 716L1419 581L1498 413L1577 245L1640 110" stroke="url(#s58)" stroke-width="14"/>
<path d="M829 1354L1005 1186L1140 1052L1274 884L1355 749L1439 581L1518 413L1582 278L1661 110" stroke="url(#s59)" stroke-width="8"/>
<path d="M806 1388L982 1220L1153 1052L1263 917L1367 749L1452 581L1515 446L1594 278L1673 110" stroke="url(#s60)" stroke-width="5"/>
<path d="M850 1354L1026 1186L1161 1052L1295 884L1376 749L1460 581L1539 413L1602 278L1681 110" stroke="url(#s61)" stroke-width="4"/>
<path d="M824 1388L1000 1220L1171 1052L1281 917L1386 749L1470 581L1533 446L1612 278L1691 110" stroke="url(#s62)" stroke-width="4"/>
<path d="M866 1354L1042 1186L1178 1052L1312 884L1393 749L1477 581L1556 413L1619 278L1698 110" stroke="url(#s63)" stroke-width="4"/>
<path d="M843 1388L1019 1220L1190 1052L1300 917L1405 749L1489 581L1552 446L1631 278L1710 110" stroke="url(#s64)" stroke-width="8"/>
<path d="M824 1422L1001 1254L1174 1085L1317 917L1421 749L1489 615L1569 446L1648 278L1727 110" stroke="url(#s65)" stroke-width="10"/>
<path d="M874 1388L1050 1220L1220 1052L1331 917L1435 749L1519 581L1582 446L1661 278L1740 110" stroke="url(#s66)" stroke-width="16"/>
<path d="M857 1422L1033 1254L1207 1085L1349 917L1453 749L1521 615L1601 446L1680 278L1759 110" stroke="url(#s67)" stroke-width="4"/>
<path d="M899 1388L1075 1220L1245 1052L1356 917L1460 749L1544 581L1608 446L1687 278L1766 110" stroke="url(#s68)" stroke-width="14"/>
<path d="M921 1388L1097 1220L1268 1052L1378 917L1483 749L1567 581L1630 446L1709 278L1788 110" stroke="url(#s69)" stroke-width="5"/>
<path d="M970 1354L1147 1186L1282 1052L1416 884L1497 749L1581 581L1660 413L1723 278L1802 110" stroke="url(#s70)" stroke-width="5"/>
<path d="M945 1388L1121 1220L1291 1052L1402 917L1506 749L1590 581L1654 446L1733 278L1812 110" stroke="url(#s71)" stroke-width="16"/>
<path d="M975 1388L1151 1220L1322 1052L1432 917L1537 749L1621 581L1684 446L1763 278L1842 110" stroke="url(#s72)" stroke-width="4"/>
<path d="M983 1388L1159 1220L1330 1052L1440 917L1545 749L1629 581L1692 446L1771 278L1850 110" stroke="url(#s73)" stroke-width="4"/>
<path d="M986 1388L1163 1220L1333 1052L1444 917L1548 749L1632 581L1695 446L1774 278L1853 110" stroke="url(#s74)" stroke-width="4"/>
<path d="M1002 1388L1178 1220L1349 1052L1459 917L1564 749L1648 581L1711 446L1790 278L1869 110" stroke="url(#s75)" stroke-width="10"/>
<path d="M836 1556L1012 1388L1224 1186L1389 1018L1536 816L1626 648L1706 480L1800 278L1879 110" stroke="url(#s76)" stroke-width="4"/>
<path d="M983 1422L1160 1254L1333 1085L1476 917L1580 749L1648 615L1727 446L1806 278L1885 110" stroke="url(#s77)" stroke-width="4"/>
<path d="M989 1422L1166 1254L1339 1085L1482 917L1586 749L1654 615L1734 446L1813 278L1892 110" stroke="url(#s78)" stroke-width="4"/>
<path d="M999 1422L1175 1254L1349 1085L1491 917L1596 749L1664 615L1743 446L1822 278L1901 110" stroke="url(#s79)" stroke-width="4"/>
<path d="M1027 1422L1203 1254L1377 1085L1519 917L1624 749L1692 615L1771 446L1850 278L1929 110" stroke="url(#s80)" stroke-width="19"/>
<path d="M1044 1422L1220 1254L1394 1085L1536 917L1641 749L1709 615L1788 446L1867 278L1946 110" stroke="url(#s81)" stroke-width="16"/>
<path d="M1065 1422L1241 1254L1415 1085L1557 917L1662 749L1730 615L1809 446L1888 278L1967 110" stroke="url(#s82)" stroke-width="9"/>
<path d="M1077 1422L1253 1254L1427 1085L1569 917L1674 749L1742 615L1821 446L1900 278L1979 110" stroke="url(#s83)" stroke-width="4"/>
<path d="M1085 1422L1261 1254L1435 1085L1577 917L1682 749L1750 615L1829 446L1908 278L1987 110" stroke="url(#s84)" stroke-width="5"/>
<path d="M1090 1422L1266 1254L1440 1085L1582 917L1687 749L1755 615L1834 446L1913 278L1992 110" stroke="url(#s85)" stroke-width="4"/>
<path d="M1564 951L1656 816L1712 716L1778 581L1825 480L1889 346L1936 245L1999 110" stroke="url(#s86)" stroke-width="4"/>
<path d="M1452 1085L1570 951L1640 850L1717 716L1767 615L1831 480L1894 346L1941 245L2004 110" stroke="url(#s87)" stroke-width="4"/>
<path d="M879 1657L1090 1455L1267 1287L1476 1085L1618 917L1740 716L1838 514L1917 346L2012 144" stroke="url(#s88)" stroke-width="22"/>
<path d="M907 1657L1083 1489L1294 1287L1470 1119L1646 917L1750 749L1834 581L1929 379L2008 211" stroke="url(#s89)" stroke-width="18"/>
<path d="M935 1657L1112 1489L1288 1321L1464 1153L1623 985L1760 783L1847 615L1926 446L2005 278" stroke="url(#s90)" stroke-width="5"/>
<path d="M959 1657L1135 1489L1311 1321L1487 1153L1646 985L1764 816L1854 648L1934 480L2013 312" stroke="url(#s91)" stroke-width="18"/>
<path d="M977 1657L1153 1489L1330 1321L1471 1186L1636 1018L1762 850L1839 716L1921 547L2000 379" stroke="url(#s92)" stroke-width="4"/>
<path d="M981 1657L1158 1489L1334 1321L1475 1186L1640 1018L1766 850L1843 716L1925 547L2004 379" stroke="url(#s93)" stroke-width="8"/>
<path d="M1007 1657L1183 1489L1324 1354L1500 1186L1635 1052L1769 884L1868 716L1934 581L2013 413" stroke="url(#s94)" stroke-width="11"/>
<path d="M1026 1657L1167 1523L1343 1354L1484 1220L1654 1052L1765 917L1851 783L1937 615L2001 480" stroke="url(#s95)" stroke-width="6"/>
<path d="M1033 1657L1174 1523L1350 1354L1491 1220L1661 1052L1772 917L1858 783L1944 615L2008 480" stroke="url(#s96)" stroke-width="5"/>
<path d="M1046 1657L1187 1523L1328 1388L1504 1220L1642 1085L1760 951L1871 783L1941 648L2005 514" stroke="url(#s97)" stroke-width="15"/>
<path d="M1070 1657L1211 1523L1352 1388L1493 1254L1633 1119L1784 951L1875 816L1949 682L2014 547" stroke="url(#s98)" stroke-width="15"/>
<path d="M1091 1657L1232 1523L1373 1388L1514 1254L1654 1119L1750 1018L1853 884L1934 749L2003 615" stroke="url(#s99)" stroke-width="7"/>
<path d="M1106 1657L1247 1523L1388 1388L1493 1287L1634 1153L1765 1018L1845 917L1931 783L2001 648" stroke="url(#s100)" stroke-width="6"/>
<path d="M1113 1657L1254 1523L1395 1388L1500 1287L1641 1153L1772 1018L1852 917L1937 783L2008 648" stroke="url(#s101)" stroke-width="9"/>
<path d="M1127 1657L1268 1523L1374 1422L1515 1287L1621 1186L1756 1052L1866 917L1933 816L2006 682" stroke="url(#s102)" stroke-width="11"/>
<path d="M1150 1657L1291 1523L1397 1422L1502 1321L1643 1186L1779 1052L1864 951L1934 850L2011 716" stroke="url(#s103)" stroke-width="10"/>
<path d="M1164 1657L1270 1556L1410 1422L1516 1321L1657 1186L1760 1085L1851 985L1948 850L2007 749" stroke="url(#s104)" stroke-width="7"/>
<path d="M1185 1657L1290 1556L1396 1455L1537 1321L1643 1220L1748 1119L1872 985L1947 884L2010 783" stroke="url(#s105)" stroke-width="12"/>
<path d="M1197 1657L1338 1523L1443 1422L1584 1287L1690 1186L1825 1052L1911 951L2002 816" stroke="url(#s106)" stroke-width="6"/>
<path d="M1207 1657L1348 1523L1454 1422L1595 1287L1701 1186L1836 1052L1921 951L2012 816" stroke="url(#s107)" stroke-width="11"/>
<path d="M1232 1657L1338 1556L1479 1422L1585 1321L1691 1220L1796 1119L1920 985L1995 884" stroke="url(#s108)" stroke-width="9"/>
<path d="M1239 1657L1345 1556L1486 1422L1592 1321L1697 1220L1803 1119L1927 985L2002 884" stroke="url(#s109)" stroke-width="11"/>
<path d="M1825 1119L1921 1018L2001 917" stroke="url(#s110)" stroke-width="7"/>
<path d="M1284 1657L1425 1523L1531 1422L1637 1321L1778 1186L1913 1052L1999 951" stroke="url(#s111)" stroke-width="14"/>
<path d="M1291 1657L1432 1523L1537 1422L1643 1321L1784 1186L1919 1052L2005 951" stroke="url(#s112)" stroke-width="4"/>
<path d="M1885 1119L1951 1052L2009 985" stroke="url(#s113)" stroke-width="18"/>
<path d="M1327 1657L1433 1556L1574 1422L1679 1321L1785 1220L1924 1085L2014 985" stroke="url(#s114)" stroke-width="4"/>
<path d="M1895 1119L1928 1085L1960 1052" stroke="url(#s115)" stroke-width="5"/>
<path d="M1908 1119L1942 1085L1974 1052" stroke="url(#s116)" stroke-width="7"/>
<path d="M1916 1119L1950 1085L1982 1052" stroke="url(#s117)" stroke-width="4"/>
<path d="M1921 1119L1954 1085L1986 1052" stroke="url(#s118)" stroke-width="4"/>
<path d="M1928 1119L1961 1085L1993 1052" stroke="url(#s119)" stroke-width="4"/>
<path d="M1932 1119L1965 1085L1997 1052" stroke="url(#s120)" stroke-width="5"/>
<path d="M1942 1119L1976 1085L2008 1052" stroke="url(#s121)" stroke-width="4"/>
<path d="M1390 1657L1496 1556L1637 1422L1743 1321L1884 1186L1987 1085" stroke="url(#s122)" stroke-width="7"/>
<path d="M1411 1657L1517 1556L1658 1422L1764 1321L1905 1186L2008 1085" stroke="url(#s123)" stroke-width="6"/>
<path d="M1435 1657L1576 1523L1717 1388L1858 1254L1998 1119" stroke="url(#s124)" stroke-width="4"/>
<path d="M1463 1657L1604 1523L1745 1388L1851 1287L1992 1153" stroke="url(#s125)" stroke-width="4"/>
<path d="M1477 1657L1618 1523L1759 1388L1865 1287L2006 1153" stroke="url(#s126)" stroke-width="8"/>
<path d="M1502 1657L1643 1523L1748 1422L1854 1321L1995 1186" stroke="url(#s127)" stroke-width="11"/>
<path d="M1551 1657L1692 1523L1868 1354L2009 1220" stroke="url(#s128)" stroke-width="11"/>
<path d="M1635 1657L1811 1489L1988 1321" stroke="url(#s129)" stroke-width="4"/>
<path d="M1780 1657L1886 1556L1992 1455" stroke="url(#s130)" stroke-width="8"/>
<path d="M1785 815L1889 691L1993 567" stroke="url(#s131)" stroke-width="34"/>
<path d="M1646 825L1820 602L1993 379" stroke="url(#s132)" stroke-width="34"/>
<path d="M1542 839L1681 650L1854 414L1993 226" stroke="url(#s133)" stroke-width="34"/>
<path d="M1507 817L1646 622L1750 476L1854 330L1993 135" stroke="url(#s134)" stroke-width="27"/>
<path d="M1438 650L1611 376L1785 102" stroke="url(#s135)" stroke-width="34"/>
<path d="M1438 591L1577 366L1716 141" stroke="url(#s136)" stroke-width="34"/>
<path d="M1438 516L1577 284L1681 110" stroke="url(#s137)" stroke-width="34"/>
<path d="M1438 298L1507 172L1542 109" stroke="url(#s138)" stroke-width="34"/></g>
<path d="M292 1693V1683H301V1683H310V1679H318V1684H327V1680H336V1681H345V1682H354V1683H363V1684H371V1684H380V1682H389V1684H398V1683H407V1683H416V1680H425V1682H433V1681H442V1680H451V1680H460V1682H469V1676H478V1677H487V1677H495V1679H504V1677H513V1678H522V1681H531V1680H540V1681H548V1681H557V1678H566V1679H575V1681H584V1681H593V1681H602V1674H610V1680H619V1676H628V1674H637V1675H646V1680H655V1679H664V1680H672V1679H681V1680H690V1676H699V1676H708V1679H717V1673H725V1680H734V1675H743V1680H752V1676H761V1678H770V1678H779V1670H787V1680H796V1672H805V1672H814V1680H823V1679H832V1671H841V1680H849V1678H858V1678H867V1680H876V1676H885V1680H894V1669H902V1677H911V1673H920V1674H929V1673H938V1678H947V1676H956V1675H964V1677H973V1679H982V1678H991V1679H1000V1673H1009V1679H1018V1678H1026V1677H1035V1677H1044V1677H1053V1678H1062V1680H1071V1678H1079V1678H1088V1676H1097V1679H1106V1680H1115V1678H1124V1679H1133V1678H1141V1679H1150V1679H1159V1679H1168V1679H1177V1678H1186V1680H1195V1674H1203V1678H1212V1678H1221V1676H1230V1677H1239V1671H1248V1675H1256V1677H1265V1680H1274V1678H1283V1677H1292V1679H1301V1671H1310V1676H1318V1678H1327V1672H1336V1674H1345V1680H1354V1675H1363V1678H1372V1678H1380V1675H1389V1673H1398V1677H1407V1678H1416V1672H1425V1674H1433V1679H1442V1679H1451V1677H1460V1679H1469V1677H1478V1676H1487V1674H1495V1668H1504V1677H1513V1677H1522V1674H1531V1673H1540V1674H1549V1675H1557V1678H1566V1674H1575V1677H1584V1680H1593V1680H1602V1677H1610V1676H1619V1675H1628V1673H1637V1676H1646V1679H1655V1673H1664V1678H1672V1672H1681V1680H1690V1676H1699V1680H1708V1678H1717V1679H1726V1680H1734V1680H1743V1679H1752V1679H1761V1679H1770V1679H1779V1680H1787V1677H1796V1679H1805V1678H1814V1675H1823V1679H1832V1679H1841V1674H1849V1680H1858V1672H1867V1676H1876V1677H1885V1677H1894V1678H1903V1680H1911V1680H1920V1677H1929V1680H1938V1679H1947V1673H1956V1676H1964V1678H1973V1680H1982V1676H1991V1693Z" fill="#000" filter="url(#sb)"/><path d="M1512.7 1653.9L1529.2 1690.5L1894.5 1690.5L1906.9 1667.3L1871.8 1666.3L1869.8 1657.0L1845.0 1656.0L1840.9 1661.1L1807.8 1661.1L1807.8 1653.9L1820.2 1650.8L1807.8 1650.8L1805.8 1645.7L1790.3 1644.6L1789.3 1635.3L1776.9 1634.3L1775.9 1621.9L1770.7 1613.7L1759.3 1610.6L1761.4 1579.6L1758.3 1580.6L1756.3 1609.5L1755.2 1610.6L1744.9 1630.2L1738.7 1631.2L1737.7 1644.6L1724.3 1644.6L1724.3 1621.9L1690.2 1620.9L1689.2 1604.4L1687.1 1595.1L1671.6 1595.1L1665.4 1604.4L1664.4 1614.7L1635.5 1614.7L1634.5 1619.9L1618.0 1619.9L1616.9 1633.3L1611.8 1634.3L1615.9 1653.9L1584.9 1653.9L1582.9 1640.5L1558.1 1642.6L1556.0 1653.9Z" fill="#c8c8c8" fill-opacity="0.6" filter="url(#soft)"/></g>
<g filter="url(#soft)"><rect x="291.8" y="127.0" width="1683.0" height="1563.3" fill="none" stroke="#000" stroke-width="4.6"/><line x1="291.8" y1="1690.3" x2="291.8" y2="1712.3" stroke="#111" stroke-width="4.4"/><line x1="724.4" y1="1690.3" x2="724.4" y2="1712.3" stroke="#111" stroke-width="4.4"/><line x1="1161.6" y1="1690.3" x2="1161.6" y2="1712.3" stroke="#111" stroke-width="4.4"/><line x1="1593.2" y1="1690.3" x2="1593.2" y2="1712.3" stroke="#111" stroke-width="4.4"/><line x1="270.8" y1="1691.0" x2="291.8" y2="1691.0" stroke="#111" stroke-width="4.4"/><line x1="270.8" y1="1435.6" x2="291.8" y2="1435.6" stroke="#111" stroke-width="4.4"/><line x1="270.8" y1="1181.1" x2="291.8" y2="1181.1" stroke="#111" stroke-width="4.4"/><line x1="270.8" y1="927.0" x2="291.8" y2="927.0" stroke="#111" stroke-width="4.4"/><line x1="270.8" y1="673.4" x2="291.8" y2="673.4" stroke="#111" stroke-width="4.4"/><line x1="270.8" y1="414.0" x2="291.8" y2="414.0" stroke="#111" stroke-width="4.4"/><line x1="270.8" y1="161.2" x2="291.8" y2="161.2" stroke="#111" stroke-width="4.4"/><rect x="2080.4" y="127.0" width="76.59999999999991" height="1563.5" fill="url(#jet)" stroke="#000" stroke-width="4.6"/><line x1="2157.0" y1="127.0" x2="2178.0" y2="127.0" stroke="#111" stroke-width="4.4"/><line x1="2157.0" y1="439.70000000000005" x2="2178.0" y2="439.70000000000005" stroke="#111" stroke-width="4.4"/><line x1="2157.0" y1="752.4000000000001" x2="2178.0" y2="752.4000000000001" stroke="#111" stroke-width="4.4"/><line x1="2157.0" y1="1065.1" x2="2178.0" y2="1065.1" stroke="#111" stroke-width="4.4"/><line x1="2157.0" y1="1377.8000000000002" x2="2178.0" y2="1377.8000000000002" stroke="#111" stroke-width="4.4"/><line x1="2157.0" y1="1690.5" x2="2178.0" y2="1690.5" stroke="#111" stroke-width="4.4"/></g>
<g filter="url(#soft)"><text class="tk" x="292.2" y="1776.5" text-anchor="middle">0</text><text class="tk" x="724.4" y="1776.5" text-anchor="middle">5</text><text class="tk" x="1156.5" y="1776.5" text-anchor="middle">10</text><text class="tk" x="1591.7" y="1776.5" text-anchor="middle">15</text><text class="tk" x="251.2" y="1712.3" text-anchor="end">0</text><text class="tk" x="249.2" y="1456.9" text-anchor="end">20</text><text class="tk" x="249.2" y="1202.4" text-anchor="end">40</text><text class="tk" x="249.2" y="948.3" text-anchor="end">60</text><text class="tk" x="249.2" y="694.7" text-anchor="end">80</text><text class="tk" x="243.2" y="435.3" text-anchor="end">100</text><text class="tk" x="243.2" y="182.5" text-anchor="end">120</text><text class="cb" x="2196" y="153.3">0</text><text class="cb" x="2201" y="466.0">−10</text><text class="cb" x="2201" y="778.7">−20</text><text class="cb" x="2201" y="1091.4">−30</text><text class="cb" x="2201" y="1404.1">−40</text><text class="cb" x="2201" y="1716.8">−50</text><text class="ttl" x="1131" y="85.5" text-anchor="middle">Field (dB) with SSW</text><text class="lab" x="1130" y="1877" text-anchor="middle">Distance (km)</text><text class="lab" transform="translate(96,902.5) rotate(-90)" text-anchor="middle">Altitude (m)</text></g>
</svg></body></html>
